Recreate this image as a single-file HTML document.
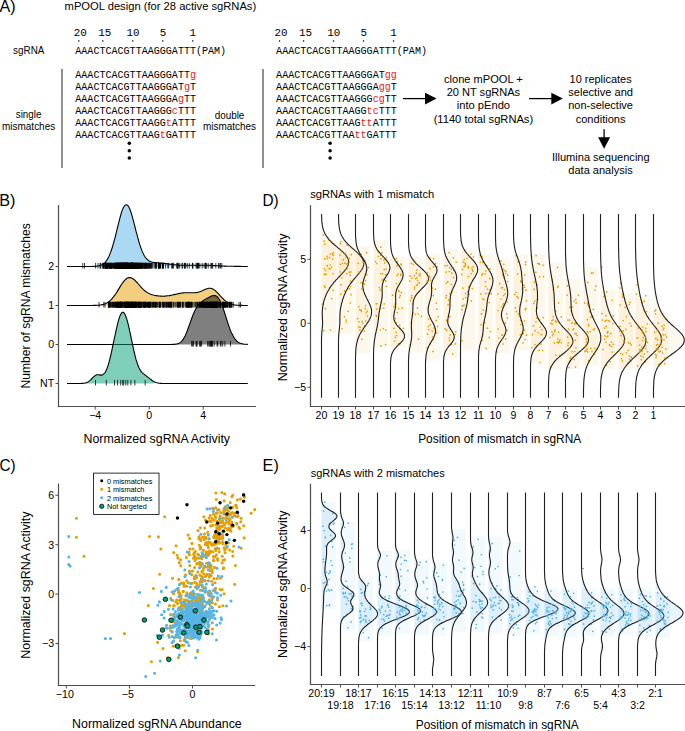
<!DOCTYPE html>
<html><head><meta charset="utf-8"><style>
html,body{margin:0;padding:0;background:#fff;overflow:hidden}
svg{display:block}
</style></head><body>
<svg width="685" height="731" viewBox="0 0 685 731"><text x="-0.5" y="12.0" font-size="15.9" font-family="Liberation Sans" fill="#000" textLength="16.2" lengthAdjust="spacingAndGlyphs">A)</text>
<text x="64.6" y="9.8" font-size="11.8" font-family="Liberation Sans" fill="#000" textLength="191.6" lengthAdjust="spacingAndGlyphs">mPOOL design (for 28 active sgRNAs)</text>
<g transform="translate(73.65,36.40) scale(0.95,1)"><text x="0" y="0" font-size="11.5" font-family="Liberation Mono" fill="#000" xml:space="preserve"><tspan fill="#000">20</tspan></text></g>
<rect x="78.10" y="40.3" width="1.3" height="1.3" fill="#000"/>
<g transform="translate(98.15,36.40) scale(0.95,1)"><text x="0" y="0" font-size="11.5" font-family="Liberation Mono" fill="#000" xml:space="preserve"><tspan fill="#000">15</tspan></text></g>
<rect x="102.10" y="40.3" width="1.3" height="1.3" fill="#000"/>
<g transform="translate(126.45,36.40) scale(0.95,1)"><text x="0" y="0" font-size="11.5" font-family="Liberation Mono" fill="#000" xml:space="preserve"><tspan fill="#000">10</tspan></text></g>
<rect x="132.10" y="40.3" width="1.3" height="1.3" fill="#000"/>
<g transform="translate(159.72,36.40) scale(0.95,1)"><text x="0" y="0" font-size="11.5" font-family="Liberation Mono" fill="#000" xml:space="preserve"><tspan fill="#000">5</tspan></text></g>
<rect x="162.10" y="40.3" width="1.3" height="1.3" fill="#000"/>
<g transform="translate(189.42,36.40) scale(0.95,1)"><text x="0" y="0" font-size="11.5" font-family="Liberation Mono" fill="#000" xml:space="preserve"><tspan fill="#000">1</tspan></text></g>
<rect x="192.10" y="40.3" width="1.3" height="1.3" fill="#000"/>
<g transform="translate(75.30,53.80) scale(0.875,1)"><text x="0" y="0" font-size="11.5" font-family="Liberation Mono" fill="#000" xml:space="preserve"><tspan fill="#000">AAACTCACGTTAAGGGATTT(PAM)</tspan></text></g>
<g transform="translate(75.30,78.00) scale(0.875,1)"><text x="0" y="0" font-size="11.5" font-family="Liberation Mono" fill="#000" xml:space="preserve"><tspan fill="#000">AAACTCACGTTAAGGGATT</tspan><tspan fill="#e8231c">g</tspan></text></g>
<g transform="translate(75.30,90.03) scale(0.875,1)"><text x="0" y="0" font-size="11.5" font-family="Liberation Mono" fill="#000" xml:space="preserve"><tspan fill="#000">AAACTCACGTTAAGGGAT</tspan><tspan fill="#e8231c">g</tspan><tspan fill="#000">T</tspan></text></g>
<g transform="translate(75.30,102.06) scale(0.875,1)"><text x="0" y="0" font-size="11.5" font-family="Liberation Mono" fill="#000" xml:space="preserve"><tspan fill="#000">AAACTCACGTTAAGGGA</tspan><tspan fill="#e8231c">g</tspan><tspan fill="#000">TT</tspan></text></g>
<g transform="translate(75.30,114.09) scale(0.875,1)"><text x="0" y="0" font-size="11.5" font-family="Liberation Mono" fill="#000" xml:space="preserve"><tspan fill="#000">AAACTCACGTTAAGGG</tspan><tspan fill="#e8231c">c</tspan><tspan fill="#000">TTT</tspan></text></g>
<g transform="translate(75.30,126.12) scale(0.875,1)"><text x="0" y="0" font-size="11.5" font-family="Liberation Mono" fill="#000" xml:space="preserve"><tspan fill="#000">AAACTCACGTTAAGG</tspan><tspan fill="#e8231c">t</tspan><tspan fill="#000">ATTT</tspan></text></g>
<g transform="translate(75.30,138.15) scale(0.875,1)"><text x="0" y="0" font-size="11.5" font-family="Liberation Mono" fill="#000" xml:space="preserve"><tspan fill="#000">AAACTCACGTTAAG</tspan><tspan fill="#e8231c">t</tspan><tspan fill="#000">GATTT</tspan></text></g>
<circle cx="129.30" cy="143.3" r="1.75" fill="#000"/>
<circle cx="129.30" cy="150.7" r="1.75" fill="#000"/>
<circle cx="129.30" cy="158.1" r="1.75" fill="#000"/>
<g transform="translate(274.44,36.40) scale(0.95,1)"><text x="0" y="0" font-size="11.5" font-family="Liberation Mono" fill="#000" xml:space="preserve"><tspan fill="#000">20</tspan></text></g>
<rect x="278.90" y="40.3" width="1.3" height="1.3" fill="#000"/>
<g transform="translate(298.94,36.40) scale(0.95,1)"><text x="0" y="0" font-size="11.5" font-family="Liberation Mono" fill="#000" xml:space="preserve"><tspan fill="#000">15</tspan></text></g>
<rect x="302.90" y="40.3" width="1.3" height="1.3" fill="#000"/>
<g transform="translate(327.25,36.40) scale(0.95,1)"><text x="0" y="0" font-size="11.5" font-family="Liberation Mono" fill="#000" xml:space="preserve"><tspan fill="#000">10</tspan></text></g>
<rect x="332.90" y="40.3" width="1.3" height="1.3" fill="#000"/>
<g transform="translate(360.52,36.40) scale(0.95,1)"><text x="0" y="0" font-size="11.5" font-family="Liberation Mono" fill="#000" xml:space="preserve"><tspan fill="#000">5</tspan></text></g>
<rect x="362.90" y="40.3" width="1.3" height="1.3" fill="#000"/>
<g transform="translate(390.22,36.40) scale(0.95,1)"><text x="0" y="0" font-size="11.5" font-family="Liberation Mono" fill="#000" xml:space="preserve"><tspan fill="#000">1</tspan></text></g>
<rect x="392.90" y="40.3" width="1.3" height="1.3" fill="#000"/>
<g transform="translate(276.10,53.80) scale(0.875,1)"><text x="0" y="0" font-size="11.5" font-family="Liberation Mono" fill="#000" xml:space="preserve"><tspan fill="#000">AAACTCACGTTAAGGGATTT(PAM)</tspan></text></g>
<g transform="translate(276.10,78.00) scale(0.875,1)"><text x="0" y="0" font-size="11.5" font-family="Liberation Mono" fill="#000" xml:space="preserve"><tspan fill="#000">AAACTCACGTTAAGGGAT</tspan><tspan fill="#e8231c">g</tspan><tspan fill="#e8231c">g</tspan></text></g>
<g transform="translate(276.10,90.03) scale(0.875,1)"><text x="0" y="0" font-size="11.5" font-family="Liberation Mono" fill="#000" xml:space="preserve"><tspan fill="#000">AAACTCACGTTAAGGGA</tspan><tspan fill="#e8231c">g</tspan><tspan fill="#e8231c">g</tspan><tspan fill="#000">T</tspan></text></g>
<g transform="translate(276.10,102.06) scale(0.875,1)"><text x="0" y="0" font-size="11.5" font-family="Liberation Mono" fill="#000" xml:space="preserve"><tspan fill="#000">AAACTCACGTTAAGGG</tspan><tspan fill="#e8231c">c</tspan><tspan fill="#e8231c">g</tspan><tspan fill="#000">TT</tspan></text></g>
<g transform="translate(276.10,114.09) scale(0.875,1)"><text x="0" y="0" font-size="11.5" font-family="Liberation Mono" fill="#000" xml:space="preserve"><tspan fill="#000">AAACTCACGTTAAGG</tspan><tspan fill="#e8231c">t</tspan><tspan fill="#e8231c">c</tspan><tspan fill="#000">TTT</tspan></text></g>
<g transform="translate(276.10,126.12) scale(0.875,1)"><text x="0" y="0" font-size="11.5" font-family="Liberation Mono" fill="#000" xml:space="preserve"><tspan fill="#000">AAACTCACGTTAAG</tspan><tspan fill="#e8231c">t</tspan><tspan fill="#e8231c">t</tspan><tspan fill="#000">ATTT</tspan></text></g>
<g transform="translate(276.10,138.15) scale(0.875,1)"><text x="0" y="0" font-size="11.5" font-family="Liberation Mono" fill="#000" xml:space="preserve"><tspan fill="#000">AAACTCACGTTAA</tspan><tspan fill="#e8231c">t</tspan><tspan fill="#e8231c">t</tspan><tspan fill="#000">GATTT</tspan></text></g>
<circle cx="330.10" cy="143.3" r="1.75" fill="#000"/>
<circle cx="330.10" cy="150.7" r="1.75" fill="#000"/>
<circle cx="330.10" cy="158.1" r="1.75" fill="#000"/>
<text x="13.1" y="53.5" font-size="10.5" font-family="Liberation Sans" fill="#000" textLength="31.3" lengthAdjust="spacingAndGlyphs">sgRNA</text>
<line x1="62.00" y1="69.00" x2="62.00" y2="168.00" stroke="#555" stroke-width="1.3"/>
<line x1="263.00" y1="69.00" x2="263.00" y2="168.00" stroke="#555" stroke-width="1.3"/>
<text x="28.6" y="118.4" font-size="10" font-family="Liberation Sans" fill="#000" text-anchor="middle" textLength="25.6" lengthAdjust="spacingAndGlyphs">single</text>
<text x="28.6" y="130.1" font-size="10" font-family="Liberation Sans" fill="#000" text-anchor="middle" textLength="53.2" lengthAdjust="spacingAndGlyphs">mismatches</text>
<text x="229.5" y="118.5" font-size="10" font-family="Liberation Sans" fill="#000" text-anchor="middle" textLength="29.7" lengthAdjust="spacingAndGlyphs">double</text>
<text x="229.5" y="129.8" font-size="10" font-family="Liberation Sans" fill="#000" text-anchor="middle" textLength="53.0" lengthAdjust="spacingAndGlyphs">mismatches</text>
<line x1="403.00" y1="98.60" x2="426.50" y2="98.60" stroke="#000" stroke-width="1.3"/>
<path d="M436.5,98.6 L425.0,92.8 L425.0,104.39999999999999 Z" fill="#000" stroke="none" stroke-width="1"/>
<line x1="529.00" y1="98.60" x2="552.80" y2="98.60" stroke="#000" stroke-width="1.3"/>
<path d="M562.8,98.6 L551.3,92.8 L551.3,104.39999999999999 Z" fill="#000" stroke="none" stroke-width="1"/>
<line x1="604.10" y1="129.30" x2="604.10" y2="138.70" stroke="#000" stroke-width="1.3"/>
<path d="M604.1,148.7 L598.1,137.2 L610.1,137.2 Z" fill="#000" stroke="none" stroke-width="1"/>
<text x="483.4" y="82.7" font-size="11.8" font-family="Liberation Sans" fill="#000" text-anchor="middle" textLength="78.7" lengthAdjust="spacingAndGlyphs">clone mPOOL +</text>
<text x="483.4" y="96.0" font-size="11.8" font-family="Liberation Sans" fill="#000" text-anchor="middle" textLength="73.5" lengthAdjust="spacingAndGlyphs">20 NT sgRNAs</text>
<text x="483.4" y="109.4" font-size="11.8" font-family="Liberation Sans" fill="#000" text-anchor="middle" textLength="53.4" lengthAdjust="spacingAndGlyphs">into pEndo</text>
<text x="483.4" y="122.8" font-size="11.8" font-family="Liberation Sans" fill="#000" text-anchor="middle" textLength="99.5" lengthAdjust="spacingAndGlyphs">(1140 total sgRNAs)</text>
<text x="600.6" y="82.7" font-size="11.8" font-family="Liberation Sans" fill="#000" text-anchor="middle" textLength="62.1" lengthAdjust="spacingAndGlyphs">10 replicates</text>
<text x="600.6" y="96.0" font-size="11.8" font-family="Liberation Sans" fill="#000" text-anchor="middle" textLength="64.8" lengthAdjust="spacingAndGlyphs">selective and</text>
<text x="600.6" y="109.4" font-size="11.8" font-family="Liberation Sans" fill="#000" text-anchor="middle" textLength="64.8" lengthAdjust="spacingAndGlyphs">non-selective</text>
<text x="600.6" y="122.8" font-size="11.8" font-family="Liberation Sans" fill="#000" text-anchor="middle" textLength="49.8" lengthAdjust="spacingAndGlyphs">conditions</text>
<text x="600.8" y="161.0" font-size="11.8" font-family="Liberation Sans" fill="#000" text-anchor="middle" textLength="97.7" lengthAdjust="spacingAndGlyphs">Illumina sequencing</text>
<text x="600.5" y="174.2" font-size="11.8" font-family="Liberation Sans" fill="#000" text-anchor="middle" textLength="64.4" lengthAdjust="spacingAndGlyphs">data analysis</text>
<text x="-0.8" y="206.3" font-size="15.9" font-family="Liberation Sans" fill="#000" textLength="16.2" lengthAdjust="spacingAndGlyphs">B)</text>
<line x1="58.50" y1="205.00" x2="58.50" y2="407.20" stroke="#4d4d4d" stroke-width="1.2"/>
<line x1="58.00" y1="406.50" x2="256.00" y2="406.50" stroke="#4d4d4d" stroke-width="1.2"/>
<line x1="55.50" y1="266.50" x2="58.50" y2="266.50" stroke="#4d4d4d" stroke-width="1"/>
<text x="54.2" y="270.3" font-size="10.6" font-family="Liberation Sans" fill="#000" text-anchor="end">2</text>
<line x1="55.50" y1="305.50" x2="58.50" y2="305.50" stroke="#4d4d4d" stroke-width="1"/>
<text x="54.2" y="309.3" font-size="10.6" font-family="Liberation Sans" fill="#000" text-anchor="end">1</text>
<line x1="55.50" y1="344.50" x2="58.50" y2="344.50" stroke="#4d4d4d" stroke-width="1"/>
<text x="54.2" y="348.3" font-size="10.6" font-family="Liberation Sans" fill="#000" text-anchor="end">0</text>
<line x1="55.50" y1="383.50" x2="58.50" y2="383.50" stroke="#4d4d4d" stroke-width="1"/>
<text x="54.2" y="387.3" font-size="10.6" font-family="Liberation Sans" fill="#000" text-anchor="end">NT</text>
<line x1="95.20" y1="406.50" x2="95.20" y2="409.50" stroke="#4d4d4d" stroke-width="1"/>
<text x="95.2" y="418.6" font-size="10.6" font-family="Liberation Sans" fill="#000" text-anchor="middle">−4</text>
<line x1="149.20" y1="406.50" x2="149.20" y2="409.50" stroke="#4d4d4d" stroke-width="1"/>
<text x="149.2" y="418.6" font-size="10.6" font-family="Liberation Sans" fill="#000" text-anchor="middle">0</text>
<line x1="203.20" y1="406.50" x2="203.20" y2="409.50" stroke="#4d4d4d" stroke-width="1"/>
<text x="203.2" y="418.6" font-size="10.6" font-family="Liberation Sans" fill="#000" text-anchor="middle">4</text>
<text x="156.8" y="442.9" font-size="12.2" font-family="Liberation Sans" fill="#000" text-anchor="middle" textLength="146.5" lengthAdjust="spacingAndGlyphs">Normalized sgRNA Activity</text>
<text x="29.8" y="305.9" font-size="12.2" font-family="Liberation Sans" fill="#000" text-anchor="middle" textLength="165.3" lengthAdjust="spacingAndGlyphs" transform="rotate(-90 29.8 305.9)">Number of sgRNA mismatches</text>
<path d="M95.2,266.5L95.2,266.3L96.1,266.2L97.0,266.1L97.9,266.0L98.8,265.8L99.7,265.6L100.6,265.3L101.5,265.0L102.4,264.5L103.3,263.9L104.3,263.2L105.2,262.3L106.1,261.2L107.0,259.9L107.9,258.4L108.8,256.7L109.7,254.6L110.6,252.4L111.5,249.8L112.4,247.0L113.3,243.9L114.2,240.6L115.2,237.1L116.1,233.4L117.0,229.7L117.9,226.0L118.8,222.3L119.7,218.8L120.6,215.5L121.5,212.5L122.4,209.9L123.3,207.8L124.2,206.2L125.1,205.1L126.1,204.7L127.0,204.9L127.9,205.6L128.8,207.0L129.7,208.8L130.6,211.2L131.5,214.0L132.4,217.1L133.3,220.4L134.2,223.9L135.1,227.5L136.0,231.1L137.0,234.7L137.9,238.1L138.8,241.3L139.7,244.4L140.6,247.1L141.5,249.6L142.4,251.9L143.3,253.8L144.2,255.5L145.1,257.0L146.0,258.2L147.0,259.2L147.9,260.0L148.8,260.7L149.7,261.2L150.6,261.6L151.5,261.9L152.4,262.2L153.3,262.4L154.2,262.5L155.1,262.6L156.0,262.7L156.9,262.8L157.9,262.8L158.8,262.9L159.7,263.0L160.6,263.1L161.5,263.1L162.4,263.2L163.3,263.3L164.2,263.4L165.1,263.5L166.0,263.6L166.9,263.8L167.8,263.9L168.8,264.0L169.7,264.1L170.6,264.2L171.5,264.4L172.4,264.5L173.3,264.6L174.2,264.7L175.1,264.8L176.0,264.9L176.9,265.0L177.8,265.0L178.8,265.1L179.7,265.2L180.6,265.2L181.5,265.2L182.4,265.3L183.3,265.3L184.2,265.3L185.1,265.3L186.0,265.3L186.9,265.4L187.8,265.3L188.7,265.3L189.7,265.3L190.6,265.3L191.5,265.3L192.4,265.3L193.3,265.3L194.2,265.2L195.1,265.2L196.0,265.2L196.9,265.2L197.8,265.2L198.7,265.2L199.6,265.2L200.6,265.2L201.5,265.2L202.4,265.2L203.3,265.2L204.2,265.2L205.1,265.2L206.0,265.3L206.9,265.3L207.8,265.3L208.7,265.3L209.6,265.4L210.5,265.4L211.5,265.4L212.4,265.5L213.3,265.5L214.2,265.6L215.1,265.6L216.0,265.7L216.9,265.7L217.8,265.8L218.7,265.8L219.6,265.9L220.5,265.9L221.5,265.9L222.4,266.0L223.3,266.0L224.2,266.1L224.2,266.5Z" fill="#abd9f4" stroke="none" stroke-width="1"/>
<path d="M144.4 262.9v5.6M103.0 262.9v5.6M129.8 262.9v5.6M120.9 262.9v5.6M121.9 262.9v5.6M124.1 262.9v5.6M107.8 262.9v5.6M123.9 262.9v5.6M118.2 262.9v5.6M155.9 262.9v5.6M128.0 262.9v5.6M122.8 262.9v5.6M123.5 262.9v5.6M120.0 262.9v5.6M116.5 262.9v5.6M122.5 262.9v5.6M130.3 262.9v5.6M123.9 262.9v5.6M134.6 262.9v5.6M124.2 262.9v5.6M126.2 262.9v5.6M139.9 262.9v5.6M130.9 262.9v5.6M121.5 262.9v5.6M124.4 262.9v5.6M130.9 262.9v5.6M143.4 262.9v5.6M123.6 262.9v5.6M123.8 262.9v5.6M135.0 262.9v5.6M118.0 262.9v5.6M123.4 262.9v5.6M133.9 262.9v5.6M131.2 262.9v5.6M126.8 262.9v5.6M132.0 262.9v5.6M100.5 262.9v5.6M135.2 262.9v5.6M117.4 262.9v5.6M111.0 262.9v5.6M128.5 262.9v5.6M132.3 262.9v5.6M122.0 262.9v5.6M116.3 262.9v5.6M126.2 262.9v5.6M125.5 262.9v5.6M138.7 262.9v5.6M132.7 262.9v5.6M127.7 262.9v5.6M136.0 262.9v5.6M124.2 262.9v5.6M117.7 262.9v5.6M131.3 262.9v5.6M131.2 262.9v5.6M124.1 262.9v5.6M119.0 262.9v5.6M128.1 262.9v5.6M103.6 262.9v5.6M132.2 262.9v5.6M130.4 262.9v5.6M111.3 262.9v5.6M126.6 262.9v5.6M117.3 262.9v5.6M132.8 262.9v5.6M107.7 262.9v5.6M117.8 262.9v5.6M132.4 262.9v5.6M136.4 262.9v5.6M106.6 262.9v5.6M121.5 262.9v5.6M129.0 262.9v5.6M120.5 262.9v5.6M140.3 262.9v5.6M115.3 262.9v5.6M129.2 262.9v5.6M116.6 262.9v5.6M138.7 262.9v5.6M125.8 262.9v5.6M122.6 262.9v5.6M110.5 262.9v5.6M141.1 262.9v5.6M132.8 262.9v5.6M132.8 262.9v5.6M136.2 262.9v5.6M129.1 262.9v5.6M120.2 262.9v5.6M118.8 262.9v5.6M118.8 262.9v5.6M138.3 262.9v5.6M112.9 262.9v5.6M120.6 262.9v5.6M123.1 262.9v5.6M128.0 262.9v5.6M131.2 262.9v5.6M114.8 262.9v5.6M110.4 262.9v5.6M126.0 262.9v5.6M136.9 262.9v5.6M132.8 262.9v5.6M127.9 262.9v5.6M123.1 262.9v5.6M128.6 262.9v5.6M123.8 262.9v5.6M133.4 262.9v5.6M118.8 262.9v5.6M127.2 262.9v5.6M125.0 262.9v5.6M130.9 262.9v5.6M128.0 262.9v5.6M149.0 262.9v5.6M139.5 262.9v5.6M139.5 262.9v5.6M107.6 262.9v5.6M122.9 262.9v5.6M120.5 262.9v5.6M130.8 262.9v5.6M105.5 262.9v5.6M136.6 262.9v5.6M135.6 262.9v5.6M114.3 262.9v5.6M117.2 262.9v5.6M118.8 262.9v5.6M126.4 262.9v5.6M131.8 262.9v5.6M144.4 262.9v5.6M124.2 262.9v5.6M132.9 262.9v5.6M127.4 262.9v5.6M141.8 262.9v5.6M132.7 262.9v5.6M138.3 262.9v5.6M116.3 262.9v5.6M124.3 262.9v5.6M118.7 262.9v5.6M139.5 262.9v5.6M131.9 262.9v5.6M123.3 262.9v5.6M121.9 262.9v5.6M130.4 262.9v5.6M119.7 262.9v5.6M117.6 262.9v5.6M130.3 262.9v5.6M148.2 262.9v5.6M123.8 262.9v5.6M121.0 262.9v5.6M115.5 262.9v5.6M114.0 262.9v5.6M130.7 262.9v5.6M133.7 262.9v5.6M126.1 262.9v5.6M129.0 262.9v5.6M127.0 262.9v5.6M127.2 262.9v5.6M112.3 262.9v5.6M121.9 262.9v5.6M127.0 262.9v5.6M119.0 262.9v5.6M121.7 262.9v5.6M118.6 262.9v5.6M123.0 262.9v5.6M133.7 262.9v5.6M122.3 262.9v5.6M124.6 262.9v5.6M133.3 262.9v5.6M131.8 262.9v5.6M141.3 262.9v5.6M107.2 262.9v5.6M133.7 262.9v5.6M121.7 262.9v5.6M127.2 262.9v5.6M133.5 262.9v5.6M135.7 262.9v5.6M135.4 262.9v5.6M127.4 262.9v5.6M140.5 262.9v5.6M123.5 262.9v5.6M124.7 262.9v5.6M133.2 262.9v5.6M121.0 262.9v5.6M145.4 262.9v5.6M135.2 262.9v5.6M145.6 262.9v5.6M125.8 262.9v5.6M122.6 262.9v5.6M127.5 262.9v5.6M132.6 262.9v5.6M120.7 262.9v5.6M129.4 262.9v5.6M125.8 262.9v5.6M140.5 262.9v5.6M120.0 262.9v5.6M135.4 262.9v5.6M120.2 262.9v5.6M117.4 262.9v5.6M119.6 262.9v5.6M115.3 262.9v5.6M127.3 262.9v5.6M135.3 262.9v5.6M127.5 262.9v5.6M131.6 262.9v5.6M140.7 262.9v5.6M128.4 262.9v5.6M127.8 262.9v5.6M123.5 262.9v5.6M111.5 262.9v5.6M132.8 262.9v5.6M110.2 262.9v5.6M131.9 262.9v5.6M125.9 262.9v5.6M136.1 262.9v5.6M125.4 262.9v5.6M118.6 262.9v5.6M129.2 262.9v5.6M121.0 262.9v5.6M124.4 262.9v5.6M126.4 262.9v5.6M124.8 262.9v5.6M124.3 262.9v5.6M118.5 262.9v5.6M124.3 262.9v5.6M106.8 262.9v5.6M124.6 262.9v5.6M115.2 262.9v5.6M136.1 262.9v5.6M137.4 262.9v5.6M108.4 262.9v5.6M127.3 262.9v5.6M124.9 262.9v5.6M116.6 262.9v5.6M130.8 262.9v5.6M121.8 262.9v5.6M110.1 262.9v5.6M123.6 262.9v5.6M124.7 262.9v5.6M127.0 262.9v5.6M114.9 262.9v5.6M131.5 262.9v5.6M132.6 262.9v5.6M115.7 262.9v5.6M120.1 262.9v5.6M125.3 262.9v5.6M120.9 262.9v5.6M141.7 262.9v5.6M127.9 262.9v5.6M116.9 262.9v5.6M118.9 262.9v5.6M125.5 262.9v5.6M146.7 262.9v5.6M124.4 262.9v5.6M127.1 262.9v5.6M130.6 262.9v5.6M125.6 262.9v5.6M146.5 262.9v5.6M121.2 262.9v5.6M132.7 262.9v5.6M127.4 262.9v5.6M131.6 262.9v5.6M115.4 262.9v5.6M141.9 262.9v5.6M124.9 262.9v5.6M126.3 262.9v5.6M117.6 262.9v5.6M119.4 262.9v5.6M131.1 262.9v5.6M134.9 262.9v5.6M132.8 262.9v5.6M136.9 262.9v5.6M132.4 262.9v5.6M126.3 262.9v5.6M133.5 262.9v5.6M131.3 262.9v5.6M125.1 262.9v5.6M132.5 262.9v5.6M137.6 262.9v5.6M128.1 262.9v5.6M122.8 262.9v5.6M132.5 262.9v5.6M143.1 262.9v5.6M124.1 262.9v5.6M125.2 262.9v5.6M124.8 262.9v5.6M137.0 262.9v5.6M109.5 262.9v5.6M129.3 262.9v5.6M136.7 262.9v5.6M118.7 262.9v5.6M139.4 262.9v5.6M130.8 262.9v5.6M121.1 262.9v5.6M127.8 262.9v5.6M112.2 262.9v5.6M120.9 262.9v5.6M142.4 262.9v5.6M118.0 262.9v5.6M142.6 262.9v5.6M125.3 262.9v5.6M135.0 262.9v5.6M126.4 262.9v5.6M105.8 262.9v5.6M120.8 262.9v5.6M126.0 262.9v5.6M121.8 262.9v5.6M129.7 262.9v5.6M127.6 262.9v5.6M158.5 262.9v5.6M109.2 262.9v5.6M158.6 262.9v5.6M104.7 262.9v5.6M158.3 262.9v5.6M122.0 262.9v5.6M145.6 262.9v5.6M102.2 262.9v5.6M128.8 262.9v5.6M142.7 262.9v5.6M139.7 262.9v5.6M150.4 262.9v5.6M111.2 262.9v5.6M126.1 262.9v5.6M138.8 262.9v5.6M103.7 262.9v5.6M152.1 262.9v5.6M127.0 262.9v5.6M116.8 262.9v5.6M115.3 262.9v5.6M141.1 262.9v5.6M104.9 262.9v5.6M116.7 262.9v5.6M120.2 262.9v5.6M117.5 262.9v5.6M145.8 262.9v5.6M137.5 262.9v5.6M156.2 262.9v5.6M144.1 262.9v5.6M119.7 262.9v5.6M121.5 262.9v5.6M109.4 262.9v5.6M116.6 262.9v5.6M138.3 262.9v5.6M145.9 262.9v5.6M119.8 262.9v5.6M122.7 262.9v5.6M150.2 262.9v5.6M159.5 262.9v5.6M107.1 262.9v5.6M106.3 262.9v5.6M147.6 262.9v5.6M131.7 262.9v5.6M127.5 262.9v5.6M140.0 262.9v5.6M147.6 262.9v5.6M106.2 262.9v5.6M159.7 262.9v5.6M159.5 262.9v5.6M127.0 262.9v5.6M130.2 262.9v5.6M118.3 262.9v5.6M137.2 262.9v5.6M114.3 262.9v5.6M134.1 262.9v5.6M156.3 262.9v5.6M132.4 262.9v5.6M151.6 262.9v5.6M112.8 262.9v5.6M155.0 262.9v5.6M109.4 262.9v5.6M114.8 262.9v5.6M145.2 262.9v5.6M120.1 262.9v5.6M109.1 262.9v5.6M107.2 262.9v5.6M149.6 262.9v5.6M103.2 262.9v5.6M105.4 262.9v5.6M158.7 262.9v5.6M148.9 262.9v5.6M124.2 262.9v5.6M113.5 262.9v5.6M154.0 262.9v5.6M149.3 262.9v5.6M142.1 262.9v5.6M133.8 262.9v5.6M133.5 262.9v5.6M160.7 262.9v5.6M133.3 262.9v5.6M107.0 262.9v5.6M106.5 262.9v5.6M137.7 262.9v5.6M146.0 262.9v5.6M139.7 262.9v5.6M146.6 262.9v5.6M119.7 262.9v5.6M124.3 262.9v5.6M117.9 262.9v5.6M124.4 262.9v5.6M118.0 262.9v5.6M152.0 262.9v5.6M110.9 262.9v5.6M114.5 262.9v5.6M144.8 262.9v5.6M125.9 262.9v5.6M122.5 262.9v5.6M160.5 262.9v5.6M155.6 262.9v5.6M115.1 262.9v5.6M111.3 262.9v5.6M131.5 262.9v5.6M136.4 262.9v5.6M122.8 262.9v5.6M137.5 262.9v5.6M142.7 262.9v5.6M150.9 262.9v5.6M116.5 262.9v5.6M140.7 262.9v5.6M105.5 262.9v5.6M105.9 262.9v5.6M105.3 262.9v5.6M109.0 262.9v5.6M148.9 262.9v5.6M124.3 262.9v5.6M131.6 262.9v5.6M189.3 262.9v5.6M173.5 262.9v5.6M163.0 262.9v5.6M171.8 262.9v5.6M215.8 262.9v5.6M182.0 262.9v5.6M187.3 262.9v5.6M177.2 262.9v5.6M208.2 262.9v5.6M205.7 262.9v5.6M184.9 262.9v5.6M192.9 262.9v5.6M185.7 262.9v5.6M197.3 262.9v5.6M198.6 262.9v5.6M197.5 262.9v5.6M218.6 262.9v5.6M221.8 262.9v5.6M163.3 262.9v5.6M184.7 262.9v5.6M162.6 262.9v5.6M184.4 262.9v5.6M212.2 262.9v5.6M204.2 262.9v5.6M196.9 262.9v5.6M165.6 262.9v5.6M212.7 262.9v5.6M199.8 262.9v5.6M179.7 262.9v5.6M211.0 262.9v5.6M162.5 262.9v5.6M172.2 262.9v5.6M211.3 262.9v5.6M163.0 262.9v5.6M168.6 262.9v5.6M192.6 262.9v5.6M206.2 262.9v5.6M198.3 262.9v5.6M162.4 262.9v5.6M177.9 262.9v5.6M205.9 262.9v5.6M182.6 262.9v5.6M172.6 262.9v5.6M160.1 262.9v5.6M177.1 262.9v5.6M220.5 262.9v5.6M163.2 262.9v5.6M196.0 262.9v5.6M219.1 262.9v5.6M205.5 262.9v5.6M178.3 262.9v5.6M202.2 262.9v5.6M167.8 262.9v5.6M192.4 262.9v5.6M177.1 262.9v5.6M82.8 262.9v5.6M84.5 262.9v5.6M95.6 262.9v5.6M98.0 262.9v5.6M100.0 262.9v5.6" stroke="#000" stroke-width="0.75"/>
<path d="M67.0,266.5L67.9,266.5L68.8,266.5L69.7,266.5L70.6,266.5L71.5,266.5L72.5,266.5L73.4,266.5L74.3,266.5L75.2,266.5L76.1,266.5L77.0,266.5L77.9,266.5L78.8,266.5L79.7,266.5L80.6,266.5L81.5,266.5L82.4,266.5L83.4,266.5L84.3,266.5L85.2,266.5L86.1,266.5L87.0,266.5L87.9,266.5L88.8,266.5L89.7,266.5L90.6,266.5L91.5,266.5L92.4,266.4L93.3,266.4L94.3,266.4L95.2,266.3L96.1,266.2L97.0,266.1L97.9,266.0L98.8,265.8L99.7,265.6L100.6,265.3L101.5,265.0L102.4,264.5L103.3,263.9L104.3,263.2L105.2,262.3L106.1,261.2L107.0,259.9L107.9,258.4L108.8,256.7L109.7,254.6L110.6,252.4L111.5,249.8L112.4,247.0L113.3,243.9L114.2,240.6L115.2,237.1L116.1,233.4L117.0,229.7L117.9,226.0L118.8,222.3L119.7,218.8L120.6,215.5L121.5,212.5L122.4,209.9L123.3,207.8L124.2,206.2L125.1,205.1L126.1,204.7L127.0,204.9L127.9,205.6L128.8,207.0L129.7,208.8L130.6,211.2L131.5,214.0L132.4,217.1L133.3,220.4L134.2,223.9L135.1,227.5L136.0,231.1L137.0,234.7L137.9,238.1L138.8,241.3L139.7,244.4L140.6,247.1L141.5,249.6L142.4,251.9L143.3,253.8L144.2,255.5L145.1,257.0L146.0,258.2L147.0,259.2L147.9,260.0L148.8,260.7L149.7,261.2L150.6,261.6L151.5,261.9L152.4,262.2L153.3,262.4L154.2,262.5L155.1,262.6L156.0,262.7L156.9,262.8L157.9,262.8L158.8,262.9L159.7,263.0L160.6,263.1L161.5,263.1L162.4,263.2L163.3,263.3L164.2,263.4L165.1,263.5L166.0,263.6L166.9,263.8L167.8,263.9L168.8,264.0L169.7,264.1L170.6,264.2L171.5,264.4L172.4,264.5L173.3,264.6L174.2,264.7L175.1,264.8L176.0,264.9L176.9,265.0L177.8,265.0L178.8,265.1L179.7,265.2L180.6,265.2L181.5,265.2L182.4,265.3L183.3,265.3L184.2,265.3L185.1,265.3L186.0,265.3L186.9,265.4L187.8,265.3L188.7,265.3L189.7,265.3L190.6,265.3L191.5,265.3L192.4,265.3L193.3,265.3L194.2,265.2L195.1,265.2L196.0,265.2L196.9,265.2L197.8,265.2L198.7,265.2L199.6,265.2L200.6,265.2L201.5,265.2L202.4,265.2L203.3,265.2L204.2,265.2L205.1,265.2L206.0,265.3L206.9,265.3L207.8,265.3L208.7,265.3L209.6,265.4L210.5,265.4L211.5,265.4L212.4,265.5L213.3,265.5L214.2,265.6L215.1,265.6L216.0,265.7L216.9,265.7L217.8,265.8L218.7,265.8L219.6,265.9L220.5,265.9L221.5,265.9L222.4,266.0L223.3,266.0L224.2,266.1L225.1,266.1L226.0,266.1L226.9,266.2L227.8,266.2L228.7,266.2L229.6,266.3L230.5,266.3L231.4,266.3L232.4,266.3L233.3,266.3L234.2,266.4L235.1,266.4L236.0,266.4L236.9,266.4L237.8,266.4L238.7,266.4L239.6,266.4L240.5,266.4L241.4,266.5L242.3,266.5L243.3,266.5L244.2,266.5L245.1,266.5L246.0,266.5L246.9,266.5L247.8,266.5" fill="none" stroke="#000" stroke-width="1.1"/>
<path d="M102.4,305.5L102.4,304.6L103.3,304.4L104.3,304.1L105.2,303.8L106.1,303.4L107.0,302.9L107.9,302.3L108.8,301.7L109.7,301.0L110.6,300.2L111.5,299.3L112.4,298.2L113.3,297.1L114.2,295.9L115.2,294.6L116.1,293.3L117.0,291.9L117.9,290.4L118.8,288.9L119.7,287.4L120.6,285.9L121.5,284.5L122.4,283.2L123.3,281.9L124.2,280.8L125.1,279.8L126.1,279.0L127.0,278.3L127.9,277.9L128.8,277.6L129.7,277.5L130.6,277.6L131.5,277.9L132.4,278.4L133.3,279.0L134.2,279.7L135.1,280.5L136.0,281.5L137.0,282.5L137.9,283.5L138.8,284.5L139.7,285.6L140.6,286.6L141.5,287.6L142.4,288.6L143.3,289.4L144.2,290.3L145.1,291.0L146.0,291.7L147.0,292.3L147.9,292.9L148.8,293.4L149.7,293.8L150.6,294.2L151.5,294.5L152.4,294.8L153.3,295.0L154.2,295.3L155.1,295.5L156.0,295.6L156.9,295.8L157.9,295.9L158.8,296.0L159.7,296.0L160.6,296.1L161.5,296.1L162.4,296.2L163.3,296.2L164.2,296.1L165.1,296.1L166.0,296.0L166.9,295.9L167.8,295.8L168.8,295.7L169.7,295.6L170.6,295.4L171.5,295.2L172.4,295.0L173.3,294.8L174.2,294.6L175.1,294.4L176.0,294.2L176.9,294.0L177.8,293.8L178.8,293.6L179.7,293.4L180.6,293.3L181.5,293.1L182.4,293.0L183.3,292.9L184.2,292.8L185.1,292.8L186.0,292.7L186.9,292.7L187.8,292.7L188.7,292.7L189.7,292.7L190.6,292.8L191.5,292.8L192.4,292.8L193.3,292.8L194.2,292.8L195.1,292.7L196.0,292.6L196.9,292.5L197.8,292.3L198.7,292.1L199.6,291.8L200.6,291.4L201.5,291.1L202.4,290.7L203.3,290.2L204.2,289.8L205.1,289.4L206.0,289.0L206.9,288.7L207.8,288.5L208.7,288.3L209.6,288.3L210.5,288.3L211.5,288.5L212.4,288.8L213.3,289.3L214.2,289.9L215.1,290.5L216.0,291.3L216.9,292.2L217.8,293.1L218.7,294.1L219.6,295.1L220.5,296.1L221.5,297.1L222.4,298.1L223.3,299.0L224.2,299.9L225.1,300.7L226.0,301.4L226.9,302.0L227.8,302.6L228.7,303.1L229.6,303.5L230.5,303.9L231.4,304.2L231.4,305.5Z" fill="#f2cf7f" stroke="none" stroke-width="1"/>
<path d="M129.1 301.9v5.6M108.5 301.9v5.6M130.9 301.9v5.6M128.9 301.9v5.6M119.3 301.9v5.6M136.1 301.9v5.6M114.9 301.9v5.6M127.1 301.9v5.6M130.2 301.9v5.6M117.8 301.9v5.6M136.7 301.9v5.6M138.5 301.9v5.6M116.5 301.9v5.6M116.3 301.9v5.6M134.4 301.9v5.6M128.7 301.9v5.6M118.1 301.9v5.6M126.3 301.9v5.6M128.0 301.9v5.6M127.7 301.9v5.6M136.4 301.9v5.6M132.5 301.9v5.6M144.9 301.9v5.6M141.4 301.9v5.6M135.1 301.9v5.6M138.7 301.9v5.6M140.9 301.9v5.6M135.4 301.9v5.6M118.0 301.9v5.6M136.7 301.9v5.6M129.7 301.9v5.6M143.6 301.9v5.6M129.8 301.9v5.6M133.7 301.9v5.6M132.0 301.9v5.6M144.1 301.9v5.6M130.6 301.9v5.6M126.6 301.9v5.6M131.8 301.9v5.6M125.0 301.9v5.6M130.5 301.9v5.6M128.9 301.9v5.6M131.4 301.9v5.6M146.3 301.9v5.6M125.3 301.9v5.6M129.3 301.9v5.6M127.2 301.9v5.6M135.1 301.9v5.6M118.4 301.9v5.6M122.8 301.9v5.6M128.6 301.9v5.6M133.9 301.9v5.6M128.6 301.9v5.6M124.5 301.9v5.6M121.2 301.9v5.6M133.6 301.9v5.6M142.0 301.9v5.6M131.9 301.9v5.6M130.7 301.9v5.6M133.0 301.9v5.6M120.5 301.9v5.6M126.2 301.9v5.6M126.6 301.9v5.6M131.7 301.9v5.6M128.7 301.9v5.6M118.1 301.9v5.6M139.1 301.9v5.6M144.2 301.9v5.6M126.6 301.9v5.6M132.6 301.9v5.6M131.4 301.9v5.6M136.1 301.9v5.6M115.7 301.9v5.6M143.5 301.9v5.6M124.8 301.9v5.6M140.4 301.9v5.6M129.7 301.9v5.6M125.5 301.9v5.6M127.7 301.9v5.6M137.1 301.9v5.6M121.2 301.9v5.6M125.6 301.9v5.6M124.7 301.9v5.6M113.6 301.9v5.6M140.7 301.9v5.6M134.2 301.9v5.6M128.8 301.9v5.6M139.5 301.9v5.6M120.4 301.9v5.6M128.3 301.9v5.6M144.5 301.9v5.6M137.8 301.9v5.6M109.0 301.9v5.6M99.0 301.9v5.6M119.7 301.9v5.6M138.6 301.9v5.6M124.7 301.9v5.6M127.0 301.9v5.6M134.5 301.9v5.6M121.0 301.9v5.6M130.9 301.9v5.6M136.1 301.9v5.6M133.2 301.9v5.6M132.6 301.9v5.6M123.6 301.9v5.6M133.6 301.9v5.6M125.2 301.9v5.6M140.7 301.9v5.6M152.1 301.9v5.6M122.3 301.9v5.6M109.4 301.9v5.6M125.2 301.9v5.6M132.4 301.9v5.6M138.5 301.9v5.6M138.7 301.9v5.6M121.9 301.9v5.6M121.9 301.9v5.6M140.4 301.9v5.6M119.2 301.9v5.6M138.8 301.9v5.6M127.0 301.9v5.6M135.9 301.9v5.6M135.4 301.9v5.6M136.0 301.9v5.6M136.4 301.9v5.6M120.1 301.9v5.6M131.7 301.9v5.6M129.1 301.9v5.6M131.8 301.9v5.6M140.1 301.9v5.6M126.6 301.9v5.6M122.6 301.9v5.6M122.4 301.9v5.6M126.2 301.9v5.6M135.8 301.9v5.6M121.7 301.9v5.6M139.4 301.9v5.6M131.6 301.9v5.6M127.0 301.9v5.6M117.0 301.9v5.6M131.2 301.9v5.6M135.2 301.9v5.6M113.1 301.9v5.6M139.7 301.9v5.6M143.8 301.9v5.6M132.0 301.9v5.6M133.4 301.9v5.6M150.7 301.9v5.6M140.1 301.9v5.6M120.9 301.9v5.6M216.6 301.9v5.6M124.8 301.9v5.6M110.2 301.9v5.6M154.3 301.9v5.6M190.9 301.9v5.6M225.3 301.9v5.6M171.1 301.9v5.6M124.9 301.9v5.6M182.1 301.9v5.6M110.1 301.9v5.6M209.4 301.9v5.6M148.0 301.9v5.6M120.6 301.9v5.6M126.5 301.9v5.6M210.8 301.9v5.6M220.4 301.9v5.6M130.9 301.9v5.6M231.8 301.9v5.6M214.7 301.9v5.6M148.8 301.9v5.6M114.3 301.9v5.6M126.8 301.9v5.6M162.1 301.9v5.6M133.5 301.9v5.6M130.6 301.9v5.6M141.8 301.9v5.6M216.8 301.9v5.6M112.5 301.9v5.6M222.4 301.9v5.6M163.7 301.9v5.6M199.5 301.9v5.6M171.5 301.9v5.6M225.2 301.9v5.6M130.5 301.9v5.6M139.7 301.9v5.6M171.0 301.9v5.6M170.9 301.9v5.6M149.0 301.9v5.6M145.9 301.9v5.6M119.1 301.9v5.6M170.3 301.9v5.6M211.0 301.9v5.6M215.5 301.9v5.6M159.4 301.9v5.6M229.5 301.9v5.6M227.9 301.9v5.6M147.6 301.9v5.6M122.5 301.9v5.6M211.6 301.9v5.6M224.7 301.9v5.6M188.5 301.9v5.6M227.6 301.9v5.6M167.2 301.9v5.6M173.0 301.9v5.6M117.2 301.9v5.6M153.9 301.9v5.6M222.7 301.9v5.6M120.8 301.9v5.6M125.0 301.9v5.6M112.1 301.9v5.6M169.5 301.9v5.6M182.8 301.9v5.6M174.0 301.9v5.6M217.0 301.9v5.6M192.4 301.9v5.6M187.0 301.9v5.6M182.7 301.9v5.6M170.7 301.9v5.6M117.3 301.9v5.6M120.1 301.9v5.6M187.9 301.9v5.6M134.3 301.9v5.6M159.5 301.9v5.6M188.3 301.9v5.6M182.4 301.9v5.6M138.3 301.9v5.6M141.1 301.9v5.6M125.4 301.9v5.6M190.2 301.9v5.6M197.2 301.9v5.6M124.4 301.9v5.6M141.6 301.9v5.6M126.4 301.9v5.6M183.9 301.9v5.6M144.7 301.9v5.6M215.9 301.9v5.6M141.0 301.9v5.6M187.9 301.9v5.6M186.9 301.9v5.6M224.8 301.9v5.6M197.6 301.9v5.6M223.7 301.9v5.6M180.5 301.9v5.6M108.4 301.9v5.6M148.5 301.9v5.6M199.8 301.9v5.6M150.5 301.9v5.6M189.6 301.9v5.6M122.6 301.9v5.6M188.2 301.9v5.6M155.8 301.9v5.6M225.3 301.9v5.6M116.8 301.9v5.6M152.7 301.9v5.6M203.2 301.9v5.6M156.6 301.9v5.6M165.3 301.9v5.6M149.5 301.9v5.6M120.1 301.9v5.6M147.7 301.9v5.6M216.7 301.9v5.6M203.1 301.9v5.6M146.4 301.9v5.6M190.9 301.9v5.6M206.5 301.9v5.6M206.8 301.9v5.6M114.9 301.9v5.6M128.3 301.9v5.6M226.6 301.9v5.6M142.7 301.9v5.6M204.5 301.9v5.6M186.2 301.9v5.6M216.2 301.9v5.6M117.7 301.9v5.6M223.8 301.9v5.6M216.6 301.9v5.6M137.6 301.9v5.6M196.2 301.9v5.6M108.7 301.9v5.6M215.3 301.9v5.6M159.4 301.9v5.6M199.8 301.9v5.6M206.6 301.9v5.6M111.3 301.9v5.6M217.4 301.9v5.6M121.0 301.9v5.6M127.2 301.9v5.6M164.6 301.9v5.6M139.4 301.9v5.6M188.4 301.9v5.6M131.6 301.9v5.6M185.3 301.9v5.6M202.4 301.9v5.6M227.5 301.9v5.6M157.5 301.9v5.6M143.5 301.9v5.6M179.6 301.9v5.6M188.8 301.9v5.6M222.5 301.9v5.6M180.6 301.9v5.6M162.4 301.9v5.6M144.9 301.9v5.6M197.9 301.9v5.6M187.1 301.9v5.6M116.9 301.9v5.6M145.1 301.9v5.6M128.7 301.9v5.6M169.4 301.9v5.6M155.3 301.9v5.6M127.7 301.9v5.6M173.7 301.9v5.6M189.8 301.9v5.6M150.3 301.9v5.6M211.5 301.9v5.6M120.6 301.9v5.6M115.1 301.9v5.6M195.7 301.9v5.6M177.8 301.9v5.6M201.2 301.9v5.6M223.9 301.9v5.6M171.4 301.9v5.6M209.3 301.9v5.6M188.3 301.9v5.6M171.8 301.9v5.6M170.4 301.9v5.6M231.0 301.9v5.6M150.9 301.9v5.6M160.7 301.9v5.6M166.8 301.9v5.6M187.3 301.9v5.6M115.6 301.9v5.6M188.8 301.9v5.6M112.8 301.9v5.6M155.1 301.9v5.6M162.9 301.9v5.6M178.2 301.9v5.6M178.9 301.9v5.6M182.8 301.9v5.6M111.0 301.9v5.6M148.7 301.9v5.6M199.5 301.9v5.6M159.7 301.9v5.6M210.5 301.9v5.6M175.4 301.9v5.6M178.6 301.9v5.6M191.9 301.9v5.6M229.9 301.9v5.6M108.5 301.9v5.6M122.7 301.9v5.6M119.0 301.9v5.6M133.6 301.9v5.6M110.6 301.9v5.6M230.5 301.9v5.6M126.6 301.9v5.6M166.8 301.9v5.6M217.4 301.9v5.6M166.8 301.9v5.6M138.6 301.9v5.6M144.2 301.9v5.6M160.3 301.9v5.6M146.1 301.9v5.6M166.4 301.9v5.6M159.2 301.9v5.6M118.1 301.9v5.6M216.4 301.9v5.6M228.2 301.9v5.6M177.8 301.9v5.6M119.7 301.9v5.6M220.7 301.9v5.6M153.0 301.9v5.6M155.3 301.9v5.6M139.7 301.9v5.6M223.2 301.9v5.6M193.8 301.9v5.6M145.3 301.9v5.6M153.8 301.9v5.6M160.4 301.9v5.6M155.2 301.9v5.6M191.4 301.9v5.6M225.7 301.9v5.6M113.3 301.9v5.6M213.1 301.9v5.6M213.3 301.9v5.6M135.2 301.9v5.6M229.3 301.9v5.6M216.6 301.9v5.6M197.6 301.9v5.6M121.3 301.9v5.6M163.5 301.9v5.6M201.9 301.9v5.6M176.7 301.9v5.6M115.3 301.9v5.6M202.7 301.9v5.6M158.9 301.9v5.6M135.3 301.9v5.6M151.1 301.9v5.6M120.9 301.9v5.6M152.8 301.9v5.6M109.9 301.9v5.6M231.8 301.9v5.6M125.0 301.9v5.6M150.0 301.9v5.6M145.3 301.9v5.6M165.0 301.9v5.6M150.0 301.9v5.6M218.0 301.9v5.6M131.2 301.9v5.6M231.6 301.9v5.6M156.7 301.9v5.6M229.9 301.9v5.6M149.5 301.9v5.6M118.0 301.9v5.6M211.3 301.9v5.6M127.6 301.9v5.6M200.1 301.9v5.6M217.2 301.9v5.6M135.0 301.9v5.6M147.4 301.9v5.6M178.0 301.9v5.6M215.8 301.9v5.6M214.0 301.9v5.6M168.3 301.9v5.6M178.3 301.9v5.6M207.6 301.9v5.6M127.2 301.9v5.6M223.5 301.9v5.6M215.1 301.9v5.6M137.0 301.9v5.6M186.0 301.9v5.6M198.8 301.9v5.6M188.3 301.9v5.6M117.0 301.9v5.6M115.7 301.9v5.6M135.7 301.9v5.6M121.0 301.9v5.6M168.1 301.9v5.6M199.4 301.9v5.6M179.4 301.9v5.6M220.3 301.9v5.6M168.8 301.9v5.6M163.7 301.9v5.6M123.8 301.9v5.6M226.3 301.9v5.6M191.4 301.9v5.6M229.6 301.9v5.6M223.9 301.9v5.6M118.6 301.9v5.6M182.8 301.9v5.6M168.4 301.9v5.6M201.5 301.9v5.6M207.4 301.9v5.6M215.4 301.9v5.6M200.7 301.9v5.6M190.1 301.9v5.6M206.7 301.9v5.6M203.8 301.9v5.6M223.6 301.9v5.6M212.4 301.9v5.6M204.5 301.9v5.6M203.3 301.9v5.6M214.9 301.9v5.6M205.6 301.9v5.6M207.3 301.9v5.6M210.8 301.9v5.6M212.1 301.9v5.6M212.1 301.9v5.6M212.3 301.9v5.6M220.6 301.9v5.6M223.4 301.9v5.6M199.9 301.9v5.6M229.5 301.9v5.6M212.4 301.9v5.6M220.2 301.9v5.6M206.3 301.9v5.6M213.8 301.9v5.6M213.0 301.9v5.6M212.3 301.9v5.6M217.5 301.9v5.6M215.9 301.9v5.6M204.5 301.9v5.6M210.7 301.9v5.6M216.6 301.9v5.6M216.3 301.9v5.6M209.2 301.9v5.6M209.6 301.9v5.6M210.4 301.9v5.6M203.8 301.9v5.6M202.5 301.9v5.6M222.5 301.9v5.6M208.8 301.9v5.6M212.2 301.9v5.6M206.3 301.9v5.6M220.6 301.9v5.6M223.8 301.9v5.6M210.0 301.9v5.6M215.1 301.9v5.6M206.2 301.9v5.6M223.9 301.9v5.6M218.0 301.9v5.6M205.6 301.9v5.6M220.3 301.9v5.6M214.0 301.9v5.6M214.4 301.9v5.6M214.0 301.9v5.6M206.8 301.9v5.6M207.8 301.9v5.6M215.9 301.9v5.6M211.2 301.9v5.6M204.9 301.9v5.6M225.7 301.9v5.6M210.0 301.9v5.6M207.6 301.9v5.6M206.6 301.9v5.6M216.3 301.9v5.6M218.3 301.9v5.6M213.2 301.9v5.6M217.6 301.9v5.6M201.0 301.9v5.6M208.9 301.9v5.6M208.2 301.9v5.6M211.5 301.9v5.6M214.9 301.9v5.6M197.2 301.9v5.6M233.3 301.9v5.6M205.4 301.9v5.6M213.9 301.9v5.6M217.2 301.9v5.6M217.4 301.9v5.6M213.1 301.9v5.6M191.0 301.9v5.6M203.8 301.9v5.6M216.7 301.9v5.6M204.9 301.9v5.6M204.0 301.9v5.6M194.9 301.9v5.6M219.9 301.9v5.6M214.9 301.9v5.6M205.1 301.9v5.6M210.4 301.9v5.6M210.6 301.9v5.6M203.4 301.9v5.6M209.3 301.9v5.6M213.0 301.9v5.6M215.1 301.9v5.6M220.1 301.9v5.6M211.4 301.9v5.6M207.9 301.9v5.6M214.0 301.9v5.6M206.8 301.9v5.6M202.4 301.9v5.6M219.2 301.9v5.6M208.5 301.9v5.6M212.0 301.9v5.6M215.7 301.9v5.6M203.4 301.9v5.6M215.6 301.9v5.6M214.3 301.9v5.6M210.4 301.9v5.6M213.9 301.9v5.6M205.8 301.9v5.6M103.8 301.9v5.6M105.0 301.9v5.6M239.0 301.9v5.6M240.5 301.9v5.6" stroke="#000" stroke-width="0.75"/>
<path d="M67.0,305.5L67.9,305.5L68.8,305.5L69.7,305.5L70.6,305.5L71.5,305.5L72.5,305.5L73.4,305.5L74.3,305.5L75.2,305.5L76.1,305.5L77.0,305.5L77.9,305.5L78.8,305.5L79.7,305.5L80.6,305.5L81.5,305.5L82.4,305.5L83.4,305.5L84.3,305.5L85.2,305.5L86.1,305.5L87.0,305.5L87.9,305.5L88.8,305.5L89.7,305.5L90.6,305.5L91.5,305.5L92.4,305.5L93.3,305.4L94.3,305.4L95.2,305.4L96.1,305.4L97.0,305.3L97.9,305.3L98.8,305.2L99.7,305.1L100.6,305.0L101.5,304.8L102.4,304.6L103.3,304.4L104.3,304.1L105.2,303.8L106.1,303.4L107.0,302.9L107.9,302.3L108.8,301.7L109.7,301.0L110.6,300.2L111.5,299.3L112.4,298.2L113.3,297.1L114.2,295.9L115.2,294.6L116.1,293.3L117.0,291.9L117.9,290.4L118.8,288.9L119.7,287.4L120.6,285.9L121.5,284.5L122.4,283.2L123.3,281.9L124.2,280.8L125.1,279.8L126.1,279.0L127.0,278.3L127.9,277.9L128.8,277.6L129.7,277.5L130.6,277.6L131.5,277.9L132.4,278.4L133.3,279.0L134.2,279.7L135.1,280.5L136.0,281.5L137.0,282.5L137.9,283.5L138.8,284.5L139.7,285.6L140.6,286.6L141.5,287.6L142.4,288.6L143.3,289.4L144.2,290.3L145.1,291.0L146.0,291.7L147.0,292.3L147.9,292.9L148.8,293.4L149.7,293.8L150.6,294.2L151.5,294.5L152.4,294.8L153.3,295.0L154.2,295.3L155.1,295.5L156.0,295.6L156.9,295.8L157.9,295.9L158.8,296.0L159.7,296.0L160.6,296.1L161.5,296.1L162.4,296.2L163.3,296.2L164.2,296.1L165.1,296.1L166.0,296.0L166.9,295.9L167.8,295.8L168.8,295.7L169.7,295.6L170.6,295.4L171.5,295.2L172.4,295.0L173.3,294.8L174.2,294.6L175.1,294.4L176.0,294.2L176.9,294.0L177.8,293.8L178.8,293.6L179.7,293.4L180.6,293.3L181.5,293.1L182.4,293.0L183.3,292.9L184.2,292.8L185.1,292.8L186.0,292.7L186.9,292.7L187.8,292.7L188.7,292.7L189.7,292.7L190.6,292.8L191.5,292.8L192.4,292.8L193.3,292.8L194.2,292.8L195.1,292.7L196.0,292.6L196.9,292.5L197.8,292.3L198.7,292.1L199.6,291.8L200.6,291.4L201.5,291.1L202.4,290.7L203.3,290.2L204.2,289.8L205.1,289.4L206.0,289.0L206.9,288.7L207.8,288.5L208.7,288.3L209.6,288.3L210.5,288.3L211.5,288.5L212.4,288.8L213.3,289.3L214.2,289.9L215.1,290.5L216.0,291.3L216.9,292.2L217.8,293.1L218.7,294.1L219.6,295.1L220.5,296.1L221.5,297.1L222.4,298.1L223.3,299.0L224.2,299.9L225.1,300.7L226.0,301.4L226.9,302.0L227.8,302.6L228.7,303.1L229.6,303.5L230.5,303.9L231.4,304.2L232.4,304.5L233.3,304.7L234.2,304.9L235.1,305.0L236.0,305.1L236.9,305.2L237.8,305.3L238.7,305.3L239.6,305.4L240.5,305.4L241.4,305.4L242.3,305.4L243.3,305.5L244.2,305.5L245.1,305.5L246.0,305.5L246.9,305.5L247.8,305.5" fill="none" stroke="#000" stroke-width="1.1"/>
<path d="M170.6,344.5L170.6,344.5L171.5,344.5L172.4,344.4L173.3,344.4L174.2,344.4L175.1,344.3L176.0,344.1L176.9,344.0L177.8,343.7L178.8,343.4L179.7,342.9L180.6,342.2L181.5,341.4L182.4,340.4L183.3,339.1L184.2,337.6L185.1,335.9L186.0,333.9L186.9,331.6L187.8,329.2L188.7,326.7L189.7,324.1L190.6,321.5L191.5,319.0L192.4,316.5L193.3,314.3L194.2,312.2L195.1,310.3L196.0,308.7L196.9,307.2L197.8,305.9L198.7,304.8L199.6,303.7L200.6,302.8L201.5,302.0L202.4,301.3L203.3,300.6L204.2,300.0L205.1,299.4L206.0,298.9L206.9,298.3L207.8,297.9L208.7,297.4L209.6,296.9L210.5,296.5L211.5,296.1L212.4,295.8L213.3,295.6L214.2,295.5L215.1,295.6L216.0,296.0L216.9,296.5L217.8,297.4L218.7,298.5L219.6,300.0L220.5,301.8L221.5,303.9L222.4,306.2L223.3,308.8L224.2,311.5L225.1,314.3L226.0,317.2L226.9,320.1L227.8,322.9L228.7,325.6L229.6,328.1L230.5,330.5L231.4,332.7L232.4,334.6L233.3,336.3L234.2,337.8L235.1,339.1L236.0,340.2L236.9,341.1L237.8,341.9L238.7,342.5L239.6,343.0L240.5,343.3L241.4,343.6L242.3,343.9L243.3,344.0L244.2,344.2L244.2,344.5Z" fill="rgba(0,0,0,0.5)" stroke="none" stroke-width="1"/>
<path d="M212.1 340.9v5.6M197.1 340.9v5.6M193.5 340.9v5.6M192.6 340.9v5.6M200.2 340.9v5.6M209.2 340.9v5.6M196.1 340.9v5.6M212.1 340.9v5.6M201.7 340.9v5.6M217.8 340.9v5.6M209.0 340.9v5.6M217.1 340.9v5.6M199.7 340.9v5.6M210.4 340.9v5.6M221.1 340.9v5.6M191.6 340.9v5.6M222.7 340.9v5.6M211.1 340.9v5.6M224.9 340.9v5.6M200.7 340.9v5.6M207.6 340.9v5.6M214.2 340.9v5.6M211.2 340.9v5.6M212.1 340.9v5.6M220.4 340.9v5.6M196.5 340.9v5.6M230.5 340.9v5.6" stroke="#000" stroke-width="0.75"/>
<path d="M67.0,344.5L67.9,344.5L68.8,344.5L69.7,344.5L70.6,344.5L71.5,344.5L72.5,344.5L73.4,344.5L74.3,344.5L75.2,344.5L76.1,344.5L77.0,344.5L77.9,344.5L78.8,344.5L79.7,344.5L80.6,344.5L81.5,344.5L82.4,344.5L83.4,344.5L84.3,344.5L85.2,344.5L86.1,344.5L87.0,344.5L87.9,344.5L88.8,344.5L89.7,344.5L90.6,344.5L91.5,344.5L92.4,344.5L93.3,344.5L94.3,344.5L95.2,344.5L96.1,344.5L97.0,344.5L97.9,344.5L98.8,344.5L99.7,344.5L100.6,344.5L101.5,344.5L102.4,344.5L103.3,344.5L104.3,344.5L105.2,344.5L106.1,344.5L107.0,344.5L107.9,344.5L108.8,344.5L109.7,344.5L110.6,344.5L111.5,344.5L112.4,344.5L113.3,344.5L114.2,344.5L115.2,344.5L116.1,344.5L117.0,344.5L117.9,344.5L118.8,344.5L119.7,344.5L120.6,344.5L121.5,344.5L122.4,344.5L123.3,344.5L124.2,344.5L125.1,344.5L126.1,344.5L127.0,344.5L127.9,344.5L128.8,344.5L129.7,344.5L130.6,344.5L131.5,344.5L132.4,344.5L133.3,344.5L134.2,344.5L135.1,344.5L136.0,344.5L137.0,344.5L137.9,344.5L138.8,344.5L139.7,344.5L140.6,344.5L141.5,344.5L142.4,344.5L143.3,344.5L144.2,344.5L145.1,344.5L146.0,344.5L147.0,344.5L147.9,344.5L148.8,344.5L149.7,344.5L150.6,344.5L151.5,344.5L152.4,344.5L153.3,344.5L154.2,344.5L155.1,344.5L156.0,344.5L156.9,344.5L157.9,344.5L158.8,344.5L159.7,344.5L160.6,344.5L161.5,344.5L162.4,344.5L163.3,344.5L164.2,344.5L165.1,344.5L166.0,344.5L166.9,344.5L167.8,344.5L168.8,344.5L169.7,344.5L170.6,344.5L171.5,344.5L172.4,344.4L173.3,344.4L174.2,344.4L175.1,344.3L176.0,344.1L176.9,344.0L177.8,343.7L178.8,343.4L179.7,342.9L180.6,342.2L181.5,341.4L182.4,340.4L183.3,339.1L184.2,337.6L185.1,335.9L186.0,333.9L186.9,331.6L187.8,329.2L188.7,326.7L189.7,324.1L190.6,321.5L191.5,319.0L192.4,316.5L193.3,314.3L194.2,312.2L195.1,310.3L196.0,308.7L196.9,307.2L197.8,305.9L198.7,304.8L199.6,303.7L200.6,302.8L201.5,302.0L202.4,301.3L203.3,300.6L204.2,300.0L205.1,299.4L206.0,298.9L206.9,298.3L207.8,297.9L208.7,297.4L209.6,296.9L210.5,296.5L211.5,296.1L212.4,295.8L213.3,295.6L214.2,295.5L215.1,295.6L216.0,296.0L216.9,296.5L217.8,297.4L218.7,298.5L219.6,300.0L220.5,301.8L221.5,303.9L222.4,306.2L223.3,308.8L224.2,311.5L225.1,314.3L226.0,317.2L226.9,320.1L227.8,322.9L228.7,325.6L229.6,328.1L230.5,330.5L231.4,332.7L232.4,334.6L233.3,336.3L234.2,337.8L235.1,339.1L236.0,340.2L236.9,341.1L237.8,341.9L238.7,342.5L239.6,343.0L240.5,343.3L241.4,343.6L242.3,343.9L243.3,344.0L244.2,344.2L245.1,344.3L246.0,344.3L246.9,344.4L247.8,344.4" fill="none" stroke="#000" stroke-width="1.1"/>
<path d="M84.3,383.5L84.3,383.2L85.2,383.0L86.1,382.8L87.0,382.4L87.9,382.0L88.8,381.4L89.7,380.7L90.6,379.9L91.5,379.0L92.4,378.0L93.3,377.1L94.3,376.3L95.2,375.6L96.1,375.1L97.0,374.8L97.9,374.8L98.8,374.8L99.7,374.9L100.6,375.1L101.5,375.1L102.4,374.9L103.3,374.4L104.3,373.5L105.2,372.3L106.1,370.6L107.0,368.5L107.9,366.0L108.8,363.0L109.7,359.7L110.6,356.0L111.5,352.0L112.4,347.8L113.3,343.4L114.2,339.0L115.2,334.6L116.1,330.3L117.0,326.3L117.9,322.6L118.8,319.3L119.7,316.6L120.6,314.5L121.5,313.1L122.4,312.4L123.3,312.4L124.2,313.2L125.1,314.8L126.1,317.0L127.0,319.8L127.9,323.1L128.8,326.9L129.7,331.0L130.6,335.2L131.5,339.6L132.4,343.9L133.3,348.2L134.2,352.2L135.1,355.9L136.0,359.4L137.0,362.4L137.9,365.0L138.8,367.3L139.7,369.1L140.6,370.6L141.5,371.9L142.4,372.9L143.3,373.7L144.2,374.4L145.1,375.0L146.0,375.7L147.0,376.4L147.9,377.1L148.8,377.8L149.7,378.6L150.6,379.3L151.5,380.0L152.4,380.7L153.3,381.3L154.2,381.8L154.2,383.5Z" fill="rgba(0,158,115,0.5)" stroke="none" stroke-width="1"/>
<path d="M95.5 379.9v5.6M106.3 379.9v5.6M114.5 379.9v5.6M117.6 379.9v5.6M120.7 379.9v5.6M122.7 379.9v5.6M123.7 379.9v5.6M125.8 379.9v5.6M127.8 379.9v5.6M130.9 379.9v5.6M134.9 379.9v5.6M145.2 379.9v5.6" stroke="#000" stroke-width="0.75"/>
<path d="M67.0,383.5L67.9,383.5L68.8,383.5L69.7,383.5L70.6,383.5L71.5,383.5L72.5,383.5L73.4,383.5L74.3,383.5L75.2,383.5L76.1,383.5L77.0,383.5L77.9,383.5L78.8,383.5L79.7,383.5L80.6,383.5L81.5,383.4L82.4,383.4L83.4,383.3L84.3,383.2L85.2,383.0L86.1,382.8L87.0,382.4L87.9,382.0L88.8,381.4L89.7,380.7L90.6,379.9L91.5,379.0L92.4,378.0L93.3,377.1L94.3,376.3L95.2,375.6L96.1,375.1L97.0,374.8L97.9,374.8L98.8,374.8L99.7,374.9L100.6,375.1L101.5,375.1L102.4,374.9L103.3,374.4L104.3,373.5L105.2,372.3L106.1,370.6L107.0,368.5L107.9,366.0L108.8,363.0L109.7,359.7L110.6,356.0L111.5,352.0L112.4,347.8L113.3,343.4L114.2,339.0L115.2,334.6L116.1,330.3L117.0,326.3L117.9,322.6L118.8,319.3L119.7,316.6L120.6,314.5L121.5,313.1L122.4,312.4L123.3,312.4L124.2,313.2L125.1,314.8L126.1,317.0L127.0,319.8L127.9,323.1L128.8,326.9L129.7,331.0L130.6,335.2L131.5,339.6L132.4,343.9L133.3,348.2L134.2,352.2L135.1,355.9L136.0,359.4L137.0,362.4L137.9,365.0L138.8,367.3L139.7,369.1L140.6,370.6L141.5,371.9L142.4,372.9L143.3,373.7L144.2,374.4L145.1,375.0L146.0,375.7L147.0,376.4L147.9,377.1L148.8,377.8L149.7,378.6L150.6,379.3L151.5,380.0L152.4,380.7L153.3,381.3L154.2,381.8L155.1,382.2L156.0,382.6L156.9,382.8L157.9,383.0L158.8,383.2L159.7,383.3L160.6,383.4L161.5,383.4L162.4,383.5L163.3,383.5L164.2,383.5L165.1,383.5L166.0,383.5L166.9,383.5L167.8,383.5L168.8,383.5L169.7,383.5L170.6,383.5L171.5,383.5L172.4,383.5L173.3,383.5L174.2,383.5L175.1,383.5L176.0,383.5L176.9,383.5L177.8,383.5L178.8,383.5L179.7,383.5L180.6,383.5L181.5,383.5L182.4,383.5L183.3,383.5L184.2,383.5L185.1,383.5L186.0,383.5L186.9,383.5L187.8,383.5L188.7,383.5L189.7,383.5L190.6,383.5L191.5,383.5L192.4,383.5L193.3,383.5L194.2,383.5L195.1,383.5L196.0,383.5L196.9,383.5L197.8,383.5L198.7,383.5L199.6,383.5L200.6,383.5L201.5,383.5L202.4,383.5L203.3,383.5L204.2,383.5L205.1,383.5L206.0,383.5L206.9,383.5L207.8,383.5L208.7,383.5L209.6,383.5L210.5,383.5L211.5,383.5L212.4,383.5L213.3,383.5L214.2,383.5L215.1,383.5L216.0,383.5L216.9,383.5L217.8,383.5L218.7,383.5L219.6,383.5L220.5,383.5L221.5,383.5L222.4,383.5L223.3,383.5L224.2,383.5L225.1,383.5L226.0,383.5L226.9,383.5L227.8,383.5L228.7,383.5L229.6,383.5L230.5,383.5L231.4,383.5L232.4,383.5L233.3,383.5L234.2,383.5L235.1,383.5L236.0,383.5L236.9,383.5L237.8,383.5L238.7,383.5L239.6,383.5L240.5,383.5L241.4,383.5L242.3,383.5L243.3,383.5L244.2,383.5L245.1,383.5L246.0,383.5L246.9,383.5L247.8,383.5" fill="none" stroke="#000" stroke-width="1.1"/>
<text x="-0.6" y="470.9" font-size="15.9" font-family="Liberation Sans" fill="#000" textLength="16.2" lengthAdjust="spacingAndGlyphs">C)</text>
<line x1="58.50" y1="483.50" x2="58.50" y2="686.00" stroke="#4d4d4d" stroke-width="1.2"/>
<line x1="57.90" y1="685.50" x2="255.20" y2="685.50" stroke="#4d4d4d" stroke-width="1.2"/>
<line x1="55.40" y1="495.28" x2="58.40" y2="495.28" stroke="#4d4d4d" stroke-width="1"/>
<text x="54.2" y="499.1" font-size="10.6" font-family="Liberation Sans" fill="#000" text-anchor="end">6</text>
<line x1="55.40" y1="544.69" x2="58.40" y2="544.69" stroke="#4d4d4d" stroke-width="1"/>
<text x="54.2" y="548.5" font-size="10.6" font-family="Liberation Sans" fill="#000" text-anchor="end">3</text>
<line x1="55.40" y1="594.10" x2="58.40" y2="594.10" stroke="#4d4d4d" stroke-width="1"/>
<text x="54.2" y="597.9" font-size="10.6" font-family="Liberation Sans" fill="#000" text-anchor="end">0</text>
<line x1="55.40" y1="643.51" x2="58.40" y2="643.51" stroke="#4d4d4d" stroke-width="1"/>
<text x="54.2" y="647.3" font-size="10.6" font-family="Liberation Sans" fill="#000" text-anchor="end">−3</text>
<line x1="66.30" y1="685.50" x2="66.30" y2="688.50" stroke="#4d4d4d" stroke-width="1"/>
<text x="64.8" y="697.8" font-size="10.6" font-family="Liberation Sans" fill="#000" text-anchor="middle">−10</text>
<line x1="129.40" y1="685.50" x2="129.40" y2="688.50" stroke="#4d4d4d" stroke-width="1"/>
<text x="127.9" y="697.8" font-size="10.6" font-family="Liberation Sans" fill="#000" text-anchor="middle">−5</text>
<line x1="192.50" y1="685.50" x2="192.50" y2="688.50" stroke="#4d4d4d" stroke-width="1"/>
<text x="192.5" y="697.8" font-size="10.6" font-family="Liberation Sans" fill="#000" text-anchor="middle">0</text>
<text x="156.9" y="727.8" font-size="12.2" font-family="Liberation Sans" fill="#000" text-anchor="middle" textLength="169.6" lengthAdjust="spacingAndGlyphs">Normalized sgRNA Abundance</text>
<text x="30.1" y="585.1" font-size="12.2" font-family="Liberation Sans" fill="#000" text-anchor="middle" textLength="147.1" lengthAdjust="spacingAndGlyphs" transform="rotate(-90 30.1 585.1)">Normalized sgRNA Activity</text>
<path d="M185.3 650.8h0M207.8 592.2h0M197.8 602.4h0M186.9 622.7h0M213.3 590.6h0M188.7 611.1h0M200.3 617.2h0M185.7 625.2h0M196.1 587.1h0M186.9 592.9h0M190.1 602.2h0M183.9 632.2h0M222.9 605.7h0M179.4 607.5h0M191.2 596.4h0M176.7 600.0h0M179.9 637.1h0M189.7 607.7h0M192.0 595.2h0M190.9 616.9h0M200.7 609.5h0M191.7 605.5h0M173.2 646.2h0M176.2 634.7h0M181.0 610.4h0M191.6 600.7h0M190.8 625.6h0M186.6 636.8h0M194.4 594.1h0M189.2 605.1h0M193.8 635.2h0M198.3 601.6h0M220.1 589.5h0M195.8 600.9h0M193.6 632.8h0M200.5 615.0h0M200.5 602.7h0M179.5 645.9h0M204.3 587.8h0M167.3 657.8h0M189.1 602.6h0M208.5 593.5h0M198.8 626.3h0M184.8 607.1h0M214.9 590.1h0M186.4 607.2h0M201.8 627.1h0M196.7 614.4h0M188.1 616.7h0M194.7 625.7h0M198.5 606.8h0M195.1 621.7h0M206.0 611.4h0M188.5 622.4h0M176.8 636.9h0M202.7 618.5h0M190.6 638.4h0M205.6 613.2h0M184.5 611.9h0M189.3 611.3h0M172.8 600.5h0M173.8 615.9h0M201.3 623.1h0M188.1 619.3h0M202.5 606.0h0M202.3 586.9h0M182.9 620.5h0M195.7 614.4h0M181.6 605.1h0M179.9 629.7h0M202.9 595.9h0M181.0 601.6h0M175.1 622.5h0M197.0 610.3h0M207.8 621.7h0M224.1 593.7h0M192.6 595.1h0M186.8 621.0h0M191.0 593.0h0M194.9 600.6h0M190.8 595.3h0M203.5 618.2h0M186.9 625.5h0M189.5 626.4h0M194.7 615.9h0M194.2 617.6h0M193.2 619.9h0M204.0 613.1h0M183.9 586.2h0M205.7 615.7h0M176.0 645.9h0M215.4 604.0h0M192.5 571.1h0M216.7 527.8h0M222.5 526.3h0M191.8 623.2h0M204.8 616.1h0M203.7 568.0h0M208.5 565.4h0M203.2 619.7h0M230.3 530.1h0M212.8 508.2h0M215.4 549.4h0M179.8 618.6h0M230.2 528.9h0M186.4 624.1h0M217.5 600.0h0M209.4 577.1h0M183.3 591.5h0M184.9 638.7h0M211.3 565.8h0M193.3 614.5h0M218.9 542.0h0M223.9 518.3h0M181.8 645.3h0M215.7 507.8h0M180.4 640.8h0M193.7 553.9h0M219.8 519.6h0M202.3 585.6h0M201.8 618.5h0M254.7 509.6h0M202.4 554.0h0M183.6 645.2h0M177.8 623.9h0M202.4 564.2h0M201.3 610.4h0M182.2 608.8h0M227.8 529.7h0M219.3 551.7h0M210.2 515.5h0M193.4 630.7h0M197.8 611.2h0" stroke="#e69f00" stroke-width="3.1" stroke-linecap="round"/>
<path d="M208.9 554.6h0M208.4 534.9h0" stroke="#56b4e9" stroke-width="3.1" stroke-linecap="round"/>
<path d="M191.5 602.2h0M230.7 514.2h0M203.4 550.3h0M173.7 593.8h0M206.1 554.6h0M200.4 590.3h0M157.7 642.4h0M191.1 592.7h0M193.5 631.5h0M183.0 603.2h0M159.7 574.3h0M181.2 583.2h0M199.5 604.7h0M189.9 549.1h0M183.7 583.0h0M204.7 566.5h0" stroke="#e69f00" stroke-width="3.1" stroke-linecap="round"/>
<path d="M226.8 516.4h0" stroke="#56b4e9" stroke-width="3.1" stroke-linecap="round"/>
<path d="M163.0 648.6h0M149.6 536.5h0" stroke="#e69f00" stroke-width="3.1" stroke-linecap="round"/>
<path d="M208.4 580.8h0" stroke="#56b4e9" stroke-width="3.1" stroke-linecap="round"/>
<path d="M186.1 604.4h0" stroke="#e69f00" stroke-width="3.1" stroke-linecap="round"/>
<path d="M68.8 564.5h0" stroke="#56b4e9" stroke-width="3.1" stroke-linecap="round"/>
<path d="M213.9 520.2h0M183.3 583.5h0M213.5 559.9h0" stroke="#e69f00" stroke-width="3.1" stroke-linecap="round"/>
<path d="M209.3 565.7h0" stroke="#56b4e9" stroke-width="3.1" stroke-linecap="round"/>
<path d="M222.6 534.5h0M184.2 602.7h0M160.9 549.0h0M222.8 538.3h0M189.5 618.4h0" stroke="#e69f00" stroke-width="3.1" stroke-linecap="round"/>
<path d="M216.9 568.2h0" stroke="#56b4e9" stroke-width="3.1" stroke-linecap="round"/>
<path d="M210.1 564.3h0M124.4 633.6h0M195.1 603.3h0M221.9 492.5h0M197.7 617.7h0M179.9 614.5h0M214.3 543.2h0M216.3 499.5h0M183.1 591.3h0M209.5 593.3h0" stroke="#e69f00" stroke-width="3.1" stroke-linecap="round"/>
<path d="M189.1 561.5h0" stroke="#56b4e9" stroke-width="3.1" stroke-linecap="round"/>
<path d="M219.2 537.9h0M187.6 616.1h0M189.7 538.4h0M226.8 547.9h0M192.1 583.2h0M182.6 630.7h0M189.2 604.9h0M229.5 519.4h0M197.1 598.9h0M202.9 570.2h0M196.2 617.8h0M213.7 508.8h0M216.4 537.3h0M198.9 606.1h0M212.8 552.0h0M200.9 602.9h0M216.3 532.7h0M227.4 529.6h0M178.6 590.6h0M189.8 565.6h0M218.4 527.5h0M184.5 585.7h0M241.2 548.3h0M185.9 595.9h0M201.5 599.3h0M233.1 526.5h0M218.4 534.9h0M206.3 538.5h0M201.6 563.5h0M175.4 637.0h0M194.8 614.1h0M199.5 596.3h0M184.2 640.4h0" stroke="#e69f00" stroke-width="3.1" stroke-linecap="round"/>
<path d="M210.0 508.7h0M184.8 569.9h0" stroke="#56b4e9" stroke-width="3.1" stroke-linecap="round"/>
<path d="M211.2 521.5h0M228.6 507.5h0M203.8 573.9h0M192.0 635.0h0" stroke="#e69f00" stroke-width="3.1" stroke-linecap="round"/>
<path d="M209.6 574.6h0" stroke="#56b4e9" stroke-width="3.1" stroke-linecap="round"/>
<path d="M197.6 651.8h0M148.3 605.6h0M210.7 551.1h0M194.6 567.5h0M189.7 572.1h0M197.4 629.7h0M190.9 606.8h0M207.2 574.4h0M201.5 618.2h0M215.8 524.7h0M230.2 502.6h0M243.7 494.3h0M214.5 544.5h0M210.0 617.2h0M186.0 600.6h0M213.9 578.6h0M202.0 578.6h0M180.0 593.6h0M198.3 614.2h0M215.6 517.9h0" stroke="#e69f00" stroke-width="3.1" stroke-linecap="round"/>
<path d="M208.8 562.8h0" stroke="#56b4e9" stroke-width="3.1" stroke-linecap="round"/>
<path d="M199.3 607.3h0M178.4 657.6h0M202.3 605.2h0M198.6 587.0h0M229.9 519.9h0M206.7 616.2h0M216.2 536.3h0M195.7 575.6h0M179.3 562.6h0M195.2 622.2h0" stroke="#e69f00" stroke-width="3.1" stroke-linecap="round"/>
<path d="M226.2 520.0h0" stroke="#56b4e9" stroke-width="3.1" stroke-linecap="round"/>
<path d="M215.6 588.4h0M209.8 596.0h0M209.7 521.1h0" stroke="#e69f00" stroke-width="3.1" stroke-linecap="round"/>
<path d="M225.8 508.6h0" stroke="#56b4e9" stroke-width="3.1" stroke-linecap="round"/>
<path d="M192.5 596.1h0M181.2 598.5h0M212.5 545.2h0M212.4 608.0h0M235.4 565.5h0M208.5 634.0h0M228.2 528.3h0M209.0 564.5h0M209.0 625.1h0M195.7 558.7h0M201.8 597.7h0M201.4 579.2h0M211.3 543.7h0M196.9 563.8h0M215.9 493.0h0M230.9 531.2h0M199.3 545.3h0M206.5 575.1h0M213.4 543.8h0M212.2 569.8h0M224.7 548.6h0M225.8 510.0h0M188.9 614.6h0M217.1 540.6h0M184.7 585.7h0M184.6 633.8h0M233.8 546.3h0M232.4 512.6h0M169.5 605.6h0M199.9 562.3h0M232.7 495.2h0M220.3 578.3h0M224.1 500.9h0M178.8 579.4h0M207.6 567.2h0" stroke="#e69f00" stroke-width="3.1" stroke-linecap="round"/>
<path d="M217.6 509.7h0" stroke="#56b4e9" stroke-width="3.1" stroke-linecap="round"/>
<path d="M217.2 523.4h0M205.9 537.4h0M177.2 555.2h0M212.4 629.0h0" stroke="#e69f00" stroke-width="3.1" stroke-linecap="round"/>
<path d="M202.8 577.6h0" stroke="#56b4e9" stroke-width="3.1" stroke-linecap="round"/>
<path d="M181.7 605.5h0M199.3 597.9h0M199.7 609.6h0M199.7 621.6h0" stroke="#e69f00" stroke-width="3.1" stroke-linecap="round"/>
<path d="M236.9 524.1h0" stroke="#56b4e9" stroke-width="3.1" stroke-linecap="round"/>
<path d="M229.7 518.9h0M199.6 614.5h0M181.2 608.6h0M217.2 540.8h0M204.4 620.4h0M209.1 518.1h0M207.4 552.0h0M223.8 512.1h0M196.4 558.0h0M230.8 513.9h0M192.0 607.4h0M199.0 563.4h0M170.8 630.8h0M218.6 541.6h0M189.3 571.0h0M185.4 626.4h0M213.8 560.7h0M197.5 606.8h0" stroke="#e69f00" stroke-width="3.1" stroke-linecap="round"/>
<path d="M191.9 618.8h0M196.0 597.7h0M185.5 627.2h0M190.7 583.4h0M239.1 547.1h0M220.7 595.3h0M195.3 631.4h0M201.8 626.2h0M207.4 544.3h0" stroke="#56b4e9" stroke-width="3.1" stroke-linecap="round"/>
<path d="M232.8 556.1h0M231.5 524.4h0M187.0 600.3h0" stroke="#e69f00" stroke-width="3.1" stroke-linecap="round"/>
<path d="M205.8 612.5h0" stroke="#56b4e9" stroke-width="3.1" stroke-linecap="round"/>
<path d="M210.5 567.8h0M180.6 559.7h0" stroke="#e69f00" stroke-width="3.1" stroke-linecap="round"/>
<path d="M200.5 612.7h0" stroke="#56b4e9" stroke-width="3.1" stroke-linecap="round"/>
<path d="M179.5 600.2h0" stroke="#e69f00" stroke-width="3.1" stroke-linecap="round"/>
<path d="M186.9 616.2h0" stroke="#56b4e9" stroke-width="3.1" stroke-linecap="round"/>
<path d="M198.8 558.2h0M170.2 626.1h0" stroke="#e69f00" stroke-width="3.1" stroke-linecap="round"/>
<path d="M187.0 594.9h0" stroke="#56b4e9" stroke-width="3.1" stroke-linecap="round"/>
<path d="M198.5 605.7h0" stroke="#e69f00" stroke-width="3.1" stroke-linecap="round"/>
<path d="M207.2 508.9h0M176.5 625.3h0" stroke="#56b4e9" stroke-width="3.1" stroke-linecap="round"/>
<path d="M225.1 552.8h0M179.3 609.8h0M189.4 602.4h0M217.1 548.1h0" stroke="#e69f00" stroke-width="3.1" stroke-linecap="round"/>
<path d="M201.3 557.7h0M110.5 638.6h0" stroke="#56b4e9" stroke-width="3.1" stroke-linecap="round"/>
<path d="M218.1 522.6h0" stroke="#e69f00" stroke-width="3.1" stroke-linecap="round"/>
<path d="M175.8 624.6h0M208.4 616.0h0" stroke="#56b4e9" stroke-width="3.1" stroke-linecap="round"/>
<path d="M196.6 578.0h0M212.3 602.8h0M201.0 566.3h0M198.9 538.8h0" stroke="#e69f00" stroke-width="3.1" stroke-linecap="round"/>
<path d="M215.1 618.6h0M208.1 613.3h0" stroke="#56b4e9" stroke-width="3.1" stroke-linecap="round"/>
<path d="M151.4 661.8h0" stroke="#e69f00" stroke-width="3.1" stroke-linecap="round"/>
<path d="M229.1 539.8h0M175.5 611.6h0" stroke="#56b4e9" stroke-width="3.1" stroke-linecap="round"/>
<path d="M173.8 552.6h0" stroke="#e69f00" stroke-width="3.1" stroke-linecap="round"/>
<path d="M184.9 629.5h0" stroke="#56b4e9" stroke-width="3.1" stroke-linecap="round"/>
<path d="M182.0 609.3h0" stroke="#e69f00" stroke-width="3.1" stroke-linecap="round"/>
<path d="M191.5 620.3h0M172.0 642.7h0M201.5 631.2h0" stroke="#56b4e9" stroke-width="3.1" stroke-linecap="round"/>
<path d="M173.5 614.6h0M198.6 555.1h0M186.5 627.9h0" stroke="#e69f00" stroke-width="3.1" stroke-linecap="round"/>
<path d="M190.8 606.4h0M202.2 581.7h0" stroke="#56b4e9" stroke-width="3.1" stroke-linecap="round"/>
<path d="M195.4 615.2h0M177.6 603.4h0M221.3 538.6h0" stroke="#e69f00" stroke-width="3.1" stroke-linecap="round"/>
<path d="M161.6 614.8h0M188.5 615.0h0" stroke="#56b4e9" stroke-width="3.1" stroke-linecap="round"/>
<path d="M195.4 587.1h0" stroke="#e69f00" stroke-width="3.1" stroke-linecap="round"/>
<path d="M194.1 606.0h0M203.3 615.4h0M198.8 639.2h0M183.2 614.4h0M186.6 617.9h0" stroke="#56b4e9" stroke-width="3.1" stroke-linecap="round"/>
<path d="M178.5 592.5h0M208.3 547.6h0" stroke="#e69f00" stroke-width="3.1" stroke-linecap="round"/>
<path d="M207.4 602.0h0M193.9 618.1h0" stroke="#56b4e9" stroke-width="3.1" stroke-linecap="round"/>
<path d="M212.1 518.4h0M170.7 598.2h0" stroke="#e69f00" stroke-width="3.1" stroke-linecap="round"/>
<path d="M188.8 613.5h0M214.1 610.7h0M185.6 612.1h0M189.6 624.4h0M187.8 612.1h0" stroke="#56b4e9" stroke-width="3.1" stroke-linecap="round"/>
<path d="M203.3 556.6h0" stroke="#e69f00" stroke-width="3.1" stroke-linecap="round"/>
<path d="M209.7 591.0h0M70.1 566.1h0M196.1 621.5h0" stroke="#56b4e9" stroke-width="3.1" stroke-linecap="round"/>
<path d="M221.2 526.6h0" stroke="#e69f00" stroke-width="3.1" stroke-linecap="round"/>
<path d="M196.7 609.6h0M208.4 563.0h0M227.2 546.6h0" stroke="#56b4e9" stroke-width="3.1" stroke-linecap="round"/>
<path d="M236.8 507.7h0M211.2 575.6h0" stroke="#e69f00" stroke-width="3.1" stroke-linecap="round"/>
<path d="M190.2 626.6h0M197.2 588.6h0" stroke="#56b4e9" stroke-width="3.1" stroke-linecap="round"/>
<path d="M196.5 602.5h0" stroke="#e69f00" stroke-width="3.1" stroke-linecap="round"/>
<path d="M185.5 630.7h0M188.1 631.7h0" stroke="#56b4e9" stroke-width="3.1" stroke-linecap="round"/>
<path d="M190.3 606.5h0" stroke="#e69f00" stroke-width="3.1" stroke-linecap="round"/>
<path d="M197.8 650.4h0M190.9 619.4h0M208.4 570.1h0M187.4 642.3h0" stroke="#56b4e9" stroke-width="3.1" stroke-linecap="round"/>
<path d="M198.1 618.4h0M210.2 605.2h0M219.5 542.8h0M217.7 533.7h0" stroke="#e69f00" stroke-width="3.1" stroke-linecap="round"/>
<path d="M164.1 618.1h0M169.9 620.1h0M195.9 622.9h0M199.6 602.7h0M194.2 627.0h0M196.3 608.6h0" stroke="#56b4e9" stroke-width="3.1" stroke-linecap="round"/>
<path d="M223.0 560.3h0M203.2 600.0h0" stroke="#e69f00" stroke-width="3.1" stroke-linecap="round"/>
<path d="M193.4 604.8h0M209.5 542.5h0M207.7 624.2h0M205.9 617.3h0" stroke="#56b4e9" stroke-width="3.1" stroke-linecap="round"/>
<path d="M185.6 574.8h0" stroke="#e69f00" stroke-width="3.1" stroke-linecap="round"/>
<path d="M189.9 597.5h0M186.1 620.3h0M188.6 618.5h0" stroke="#56b4e9" stroke-width="3.1" stroke-linecap="round"/>
<path d="M202.6 612.4h0M193.4 628.4h0" stroke="#e69f00" stroke-width="3.1" stroke-linecap="round"/>
<path d="M183.4 617.5h0M186.5 623.4h0M157.3 635.6h0M192.5 609.6h0" stroke="#56b4e9" stroke-width="3.1" stroke-linecap="round"/>
<path d="M222.6 521.1h0" stroke="#e69f00" stroke-width="3.1" stroke-linecap="round"/>
<path d="M185.7 630.7h0" stroke="#56b4e9" stroke-width="3.1" stroke-linecap="round"/>
<path d="M198.2 597.2h0" stroke="#e69f00" stroke-width="3.1" stroke-linecap="round"/>
<path d="M201.5 617.6h0" stroke="#56b4e9" stroke-width="3.1" stroke-linecap="round"/>
<path d="M206.1 542.6h0M232.6 551.5h0" stroke="#e69f00" stroke-width="3.1" stroke-linecap="round"/>
<path d="M191.5 622.7h0M139.5 592.5h0M195.4 625.3h0M186.1 620.9h0" stroke="#56b4e9" stroke-width="3.1" stroke-linecap="round"/>
<path d="M175.8 602.0h0M194.7 552.5h0M224.1 547.8h0M227.2 509.2h0" stroke="#e69f00" stroke-width="3.1" stroke-linecap="round"/>
<path d="M196.8 620.2h0M192.9 599.1h0M197.9 608.3h0M204.3 626.3h0M171.2 599.8h0" stroke="#56b4e9" stroke-width="3.1" stroke-linecap="round"/>
<path d="M231.9 496.7h0M177.5 629.9h0M198.6 611.5h0M186.4 557.5h0" stroke="#e69f00" stroke-width="3.1" stroke-linecap="round"/>
<path d="M197.7 621.9h0M190.8 629.1h0" stroke="#56b4e9" stroke-width="3.1" stroke-linecap="round"/>
<path d="M251.1 513.3h0" stroke="#e69f00" stroke-width="3.1" stroke-linecap="round"/>
<path d="M206.3 556.7h0" stroke="#56b4e9" stroke-width="3.1" stroke-linecap="round"/>
<path d="M191.9 638.1h0M207.6 554.6h0M196.4 609.5h0M204.0 539.5h0" stroke="#e69f00" stroke-width="3.1" stroke-linecap="round"/>
<path d="M181.0 595.8h0" stroke="#56b4e9" stroke-width="3.1" stroke-linecap="round"/>
<path d="M199.9 575.2h0M228.6 511.2h0M166.1 627.7h0M236.2 505.2h0M226.5 522.6h0M229.1 521.6h0" stroke="#e69f00" stroke-width="3.1" stroke-linecap="round"/>
<path d="M197.2 619.7h0" stroke="#56b4e9" stroke-width="3.1" stroke-linecap="round"/>
<path d="M232.6 507.4h0M186.8 586.2h0" stroke="#e69f00" stroke-width="3.1" stroke-linecap="round"/>
<path d="M207.1 616.2h0" stroke="#56b4e9" stroke-width="3.1" stroke-linecap="round"/>
<path d="M212.3 598.5h0" stroke="#e69f00" stroke-width="3.1" stroke-linecap="round"/>
<path d="M195.7 657.8h0M209.4 608.8h0" stroke="#56b4e9" stroke-width="3.1" stroke-linecap="round"/>
<path d="M188.3 610.0h0" stroke="#e69f00" stroke-width="3.1" stroke-linecap="round"/>
<path d="M193.7 636.4h0" stroke="#56b4e9" stroke-width="3.1" stroke-linecap="round"/>
<path d="M204.3 580.6h0M188.9 601.6h0M179.8 595.0h0" stroke="#e69f00" stroke-width="3.1" stroke-linecap="round"/>
<path d="M192.5 612.2h0M201.6 611.6h0M176.1 636.4h0" stroke="#56b4e9" stroke-width="3.1" stroke-linecap="round"/>
<path d="M221.6 535.0h0" stroke="#e69f00" stroke-width="3.1" stroke-linecap="round"/>
<path d="M203.4 617.0h0" stroke="#56b4e9" stroke-width="3.1" stroke-linecap="round"/>
<path d="M194.0 634.1h0" stroke="#e69f00" stroke-width="3.1" stroke-linecap="round"/>
<path d="M205.9 618.1h0M194.2 613.6h0" stroke="#56b4e9" stroke-width="3.1" stroke-linecap="round"/>
<path d="M190.8 617.4h0" stroke="#e69f00" stroke-width="3.1" stroke-linecap="round"/>
<path d="M212.8 615.3h0M68.8 557.0h0M192.5 611.3h0" stroke="#56b4e9" stroke-width="3.1" stroke-linecap="round"/>
<path d="M193.3 636.4h0M76.4 518.3h0" stroke="#e69f00" stroke-width="3.1" stroke-linecap="round"/>
<path d="M199.7 619.0h0M178.3 608.5h0M216.8 611.3h0M193.5 628.7h0M202.1 552.7h0" stroke="#56b4e9" stroke-width="3.1" stroke-linecap="round"/>
<path d="M223.8 567.9h0" stroke="#e69f00" stroke-width="3.1" stroke-linecap="round"/>
<path d="M188.9 645.5h0" stroke="#56b4e9" stroke-width="3.1" stroke-linecap="round"/>
<path d="M205.2 605.7h0" stroke="#e69f00" stroke-width="3.1" stroke-linecap="round"/>
<path d="M203.7 617.6h0M191.5 610.5h0" stroke="#56b4e9" stroke-width="3.1" stroke-linecap="round"/>
<path d="M173.5 621.7h0M223.2 568.6h0M215.0 582.7h0" stroke="#e69f00" stroke-width="3.1" stroke-linecap="round"/>
<path d="M205.6 590.5h0M202.0 563.5h0" stroke="#56b4e9" stroke-width="3.1" stroke-linecap="round"/>
<path d="M181.3 633.3h0M217.8 542.2h0M219.2 536.1h0M188.1 535.1h0" stroke="#e69f00" stroke-width="3.1" stroke-linecap="round"/>
<path d="M172.4 631.9h0M197.9 626.2h0M192.6 622.3h0M212.6 584.6h0M204.9 622.5h0" stroke="#56b4e9" stroke-width="3.1" stroke-linecap="round"/>
<path d="M164.7 516.7h0M183.0 603.2h0M224.1 523.5h0M188.2 627.5h0M189.0 552.4h0" stroke="#e69f00" stroke-width="3.1" stroke-linecap="round"/>
<path d="M202.2 590.3h0" stroke="#56b4e9" stroke-width="3.1" stroke-linecap="round"/>
<path d="M224.8 550.0h0M244.2 537.9h0M206.0 544.4h0M201.8 571.8h0" stroke="#e69f00" stroke-width="3.1" stroke-linecap="round"/>
<path d="M195.1 597.0h0" stroke="#56b4e9" stroke-width="3.1" stroke-linecap="round"/>
<path d="M218.8 548.8h0M184.3 600.1h0" stroke="#e69f00" stroke-width="3.1" stroke-linecap="round"/>
<path d="M195.1 617.9h0M194.5 597.8h0M197.4 601.9h0" stroke="#56b4e9" stroke-width="3.1" stroke-linecap="round"/>
<path d="M225.6 506.5h0" stroke="#e69f00" stroke-width="3.1" stroke-linecap="round"/>
<path d="M187.6 619.6h0M220.0 533.1h0M194.8 626.1h0M199.5 636.8h0M190.0 622.7h0" stroke="#56b4e9" stroke-width="3.1" stroke-linecap="round"/>
<path d="M190.9 629.9h0" stroke="#e69f00" stroke-width="3.1" stroke-linecap="round"/>
<path d="M192.2 615.4h0" stroke="#56b4e9" stroke-width="3.1" stroke-linecap="round"/>
<path d="M208.4 629.9h0M193.4 558.2h0" stroke="#e69f00" stroke-width="3.1" stroke-linecap="round"/>
<path d="M208.3 613.6h0" stroke="#56b4e9" stroke-width="3.1" stroke-linecap="round"/>
<path d="M205.6 544.8h0" stroke="#e69f00" stroke-width="3.1" stroke-linecap="round"/>
<path d="M196.8 636.0h0M196.1 617.7h0" stroke="#56b4e9" stroke-width="3.1" stroke-linecap="round"/>
<path d="M222.1 589.7h0" stroke="#e69f00" stroke-width="3.1" stroke-linecap="round"/>
<path d="M185.4 629.2h0M189.8 624.8h0" stroke="#56b4e9" stroke-width="3.1" stroke-linecap="round"/>
<path d="M240.8 521.7h0M194.8 628.0h0" stroke="#e69f00" stroke-width="3.1" stroke-linecap="round"/>
<path d="M193.2 613.5h0" stroke="#56b4e9" stroke-width="3.1" stroke-linecap="round"/>
<path d="M200.4 527.8h0M210.6 525.9h0" stroke="#e69f00" stroke-width="3.1" stroke-linecap="round"/>
<path d="M105.4 638.6h0" stroke="#56b4e9" stroke-width="3.1" stroke-linecap="round"/>
<path d="M216.2 538.3h0" stroke="#e69f00" stroke-width="3.1" stroke-linecap="round"/>
<path d="M209.3 601.3h0" stroke="#56b4e9" stroke-width="3.1" stroke-linecap="round"/>
<path d="M202.6 537.1h0M235.7 505.4h0M238.9 527.4h0" stroke="#e69f00" stroke-width="3.1" stroke-linecap="round"/>
<path d="M178.3 609.9h0" stroke="#56b4e9" stroke-width="3.1" stroke-linecap="round"/>
<path d="M199.2 600.4h0M174.2 605.7h0" stroke="#e69f00" stroke-width="3.1" stroke-linecap="round"/>
<path d="M192.9 596.9h0" stroke="#56b4e9" stroke-width="3.1" stroke-linecap="round"/>
<path d="M200.0 597.8h0" stroke="#e69f00" stroke-width="3.1" stroke-linecap="round"/>
<path d="M191.5 629.4h0" stroke="#56b4e9" stroke-width="3.1" stroke-linecap="round"/>
<path d="M168.7 635.4h0M217.0 578.6h0M209.3 599.8h0" stroke="#e69f00" stroke-width="3.1" stroke-linecap="round"/>
<path d="M188.8 610.6h0M172.5 627.4h0" stroke="#56b4e9" stroke-width="3.1" stroke-linecap="round"/>
<path d="M173.7 605.7h0" stroke="#e69f00" stroke-width="3.1" stroke-linecap="round"/>
<path d="M194.0 619.0h0" stroke="#56b4e9" stroke-width="3.1" stroke-linecap="round"/>
<path d="M176.1 545.8h0M234.1 515.8h0" stroke="#e69f00" stroke-width="3.1" stroke-linecap="round"/>
<path d="M176.7 625.2h0" stroke="#56b4e9" stroke-width="3.1" stroke-linecap="round"/>
<path d="M197.0 620.9h0M196.7 583.6h0" stroke="#e69f00" stroke-width="3.1" stroke-linecap="round"/>
<path d="M189.5 613.6h0" stroke="#56b4e9" stroke-width="3.1" stroke-linecap="round"/>
<path d="M216.6 548.2h0M219.5 518.5h0M215.8 543.9h0M200.2 549.0h0" stroke="#e69f00" stroke-width="3.1" stroke-linecap="round"/>
<path d="M180.1 618.1h0M181.4 611.9h0M186.5 612.2h0" stroke="#56b4e9" stroke-width="3.1" stroke-linecap="round"/>
<path d="M218.7 529.2h0M210.6 602.3h0M225.8 544.8h0" stroke="#e69f00" stroke-width="3.1" stroke-linecap="round"/>
<path d="M206.3 584.1h0M190.4 615.3h0M187.9 619.7h0M177.5 615.2h0M188.9 626.8h0M198.6 609.6h0M191.7 626.4h0" stroke="#56b4e9" stroke-width="3.1" stroke-linecap="round"/>
<path d="M222.7 541.9h0" stroke="#e69f00" stroke-width="3.1" stroke-linecap="round"/>
<path d="M194.9 622.5h0" stroke="#56b4e9" stroke-width="3.1" stroke-linecap="round"/>
<path d="M222.3 556.2h0" stroke="#e69f00" stroke-width="3.1" stroke-linecap="round"/>
<path d="M190.2 613.3h0M173.5 641.1h0M196.4 621.2h0M200.9 608.6h0" stroke="#56b4e9" stroke-width="3.1" stroke-linecap="round"/>
<path d="M210.6 612.9h0M191.7 574.7h0M216.8 530.2h0M191.6 619.4h0M210.1 542.3h0M202.4 602.7h0" stroke="#e69f00" stroke-width="3.1" stroke-linecap="round"/>
<path d="M201.3 625.8h0" stroke="#56b4e9" stroke-width="3.1" stroke-linecap="round"/>
<path d="M205.2 580.5h0M190.6 593.5h0" stroke="#e69f00" stroke-width="3.1" stroke-linecap="round"/>
<path d="M178.2 634.4h0" stroke="#56b4e9" stroke-width="3.1" stroke-linecap="round"/>
<path d="M198.1 628.2h0M192.1 612.4h0M209.1 552.5h0" stroke="#e69f00" stroke-width="3.1" stroke-linecap="round"/>
<path d="M179.8 631.0h0M188.5 602.6h0" stroke="#56b4e9" stroke-width="3.1" stroke-linecap="round"/>
<path d="M206.5 563.3h0" stroke="#e69f00" stroke-width="3.1" stroke-linecap="round"/>
<path d="M178.3 631.4h0" stroke="#56b4e9" stroke-width="3.1" stroke-linecap="round"/>
<path d="M219.4 526.2h0M219.4 606.8h0M201.4 576.2h0" stroke="#e69f00" stroke-width="3.1" stroke-linecap="round"/>
<path d="M218.3 576.1h0M199.5 614.4h0M187.7 637.4h0M199.5 633.9h0M179.0 613.2h0" stroke="#56b4e9" stroke-width="3.1" stroke-linecap="round"/>
<path d="M217.5 558.8h0M153.4 588.5h0" stroke="#e69f00" stroke-width="3.1" stroke-linecap="round"/>
<path d="M154.6 673.2h0M167.3 628.2h0" stroke="#56b4e9" stroke-width="3.1" stroke-linecap="round"/>
<path d="M222.6 518.0h0" stroke="#e69f00" stroke-width="3.1" stroke-linecap="round"/>
<path d="M192.2 612.2h0" stroke="#56b4e9" stroke-width="3.1" stroke-linecap="round"/>
<path d="M199.1 536.9h0M220.1 529.1h0M222.1 563.0h0" stroke="#e69f00" stroke-width="3.1" stroke-linecap="round"/>
<path d="M203.5 600.5h0M209.9 613.0h0M221.9 576.6h0" stroke="#56b4e9" stroke-width="3.1" stroke-linecap="round"/>
<path d="M212.6 525.4h0" stroke="#e69f00" stroke-width="3.1" stroke-linecap="round"/>
<path d="M169.3 637.2h0" stroke="#56b4e9" stroke-width="3.1" stroke-linecap="round"/>
<path d="M183.6 605.8h0" stroke="#e69f00" stroke-width="3.1" stroke-linecap="round"/>
<path d="M193.2 612.5h0" stroke="#56b4e9" stroke-width="3.1" stroke-linecap="round"/>
<path d="M220.1 515.8h0" stroke="#e69f00" stroke-width="3.1" stroke-linecap="round"/>
<path d="M194.3 621.7h0" stroke="#56b4e9" stroke-width="3.1" stroke-linecap="round"/>
<path d="M195.2 602.2h0M220.0 518.9h0M172.5 578.3h0" stroke="#e69f00" stroke-width="3.1" stroke-linecap="round"/>
<path d="M201.5 625.2h0M188.8 623.9h0M190.8 615.4h0M238.0 513.2h0M223.7 513.9h0M203.9 621.3h0M213.8 614.7h0M213.9 614.9h0" stroke="#56b4e9" stroke-width="3.1" stroke-linecap="round"/>
<path d="M216.3 554.8h0M207.7 532.4h0M189.4 554.8h0M198.0 530.6h0" stroke="#e69f00" stroke-width="3.1" stroke-linecap="round"/>
<path d="M194.8 605.6h0M179.4 625.3h0" stroke="#56b4e9" stroke-width="3.1" stroke-linecap="round"/>
<path d="M205.5 566.7h0" stroke="#e69f00" stroke-width="3.1" stroke-linecap="round"/>
<path d="M190.4 587.0h0M227.8 505.4h0" stroke="#56b4e9" stroke-width="3.1" stroke-linecap="round"/>
<path d="M244.5 497.1h0M209.9 552.5h0" stroke="#e69f00" stroke-width="3.1" stroke-linecap="round"/>
<path d="M189.9 633.0h0M203.5 598.0h0M189.5 628.0h0" stroke="#56b4e9" stroke-width="3.1" stroke-linecap="round"/>
<path d="M217.4 512.9h0M200.0 581.5h0M200.6 548.4h0M194.6 578.4h0" stroke="#e69f00" stroke-width="3.1" stroke-linecap="round"/>
<path d="M193.6 638.0h0" stroke="#56b4e9" stroke-width="3.1" stroke-linecap="round"/>
<path d="M213.9 537.6h0M199.9 584.6h0" stroke="#e69f00" stroke-width="3.1" stroke-linecap="round"/>
<path d="M193.8 629.9h0M178.0 629.0h0M200.8 534.2h0M162.4 635.1h0M187.0 622.3h0M178.9 596.8h0" stroke="#56b4e9" stroke-width="3.1" stroke-linecap="round"/>
<path d="M222.6 543.8h0M204.8 528.1h0" stroke="#e69f00" stroke-width="3.1" stroke-linecap="round"/>
<path d="M202.8 608.7h0M179.3 627.5h0M177.4 634.7h0" stroke="#56b4e9" stroke-width="3.1" stroke-linecap="round"/>
<path d="M215.2 556.6h0" stroke="#e69f00" stroke-width="3.1" stroke-linecap="round"/>
<path d="M199.5 567.7h0M196.8 617.1h0M190.8 620.3h0M215.5 548.6h0" stroke="#56b4e9" stroke-width="3.1" stroke-linecap="round"/>
<path d="M213.8 536.5h0" stroke="#e69f00" stroke-width="3.1" stroke-linecap="round"/>
<path d="M187.7 607.9h0" stroke="#56b4e9" stroke-width="3.1" stroke-linecap="round"/>
<path d="M215.3 516.1h0" stroke="#e69f00" stroke-width="3.1" stroke-linecap="round"/>
<path d="M203.3 615.1h0M207.5 629.7h0M192.3 636.3h0M208.5 626.5h0M176.7 589.2h0M172.3 636.5h0M198.8 618.1h0M201.3 556.4h0M232.2 517.3h0M157.9 605.3h0" stroke="#56b4e9" stroke-width="3.1" stroke-linecap="round"/>
<path d="M236.7 523.2h0M229.2 524.3h0" stroke="#e69f00" stroke-width="3.1" stroke-linecap="round"/>
<path d="M187.3 620.3h0" stroke="#56b4e9" stroke-width="3.1" stroke-linecap="round"/>
<path d="M197.2 563.8h0" stroke="#e69f00" stroke-width="3.1" stroke-linecap="round"/>
<path d="M177.4 614.6h0M210.8 613.1h0M189.0 616.3h0M201.9 605.6h0M216.5 640.0h0M210.5 601.4h0M203.0 590.5h0" stroke="#56b4e9" stroke-width="3.1" stroke-linecap="round"/>
<path d="M194.8 557.0h0" stroke="#e69f00" stroke-width="3.1" stroke-linecap="round"/>
<path d="M197.0 637.8h0M195.5 617.0h0M201.3 616.1h0" stroke="#56b4e9" stroke-width="3.1" stroke-linecap="round"/>
<path d="M224.6 525.0h0" stroke="#e69f00" stroke-width="3.1" stroke-linecap="round"/>
<path d="M192.2 631.7h0" stroke="#56b4e9" stroke-width="3.1" stroke-linecap="round"/>
<path d="M234.3 513.3h0" stroke="#e69f00" stroke-width="3.1" stroke-linecap="round"/>
<path d="M185.6 619.1h0M209.5 611.2h0M204.6 566.3h0" stroke="#56b4e9" stroke-width="3.1" stroke-linecap="round"/>
<path d="M212.4 572.4h0" stroke="#e69f00" stroke-width="3.1" stroke-linecap="round"/>
<path d="M177.2 620.5h0" stroke="#56b4e9" stroke-width="3.1" stroke-linecap="round"/>
<path d="M241.1 518.2h0" stroke="#e69f00" stroke-width="3.1" stroke-linecap="round"/>
<path d="M186.6 614.4h0M218.6 539.6h0M190.7 624.8h0M187.4 552.1h0M186.8 642.3h0" stroke="#56b4e9" stroke-width="3.1" stroke-linecap="round"/>
<path d="M218.4 537.1h0" stroke="#e69f00" stroke-width="3.1" stroke-linecap="round"/>
<path d="M213.3 511.4h0" stroke="#56b4e9" stroke-width="3.1" stroke-linecap="round"/>
<path d="M215.4 549.2h0" stroke="#e69f00" stroke-width="3.1" stroke-linecap="round"/>
<path d="M199.1 623.5h0M202.6 622.5h0M203.7 554.7h0" stroke="#56b4e9" stroke-width="3.1" stroke-linecap="round"/>
<path d="M224.7 493.9h0" stroke="#e69f00" stroke-width="3.1" stroke-linecap="round"/>
<path d="M189.9 573.4h0M194.8 625.3h0" stroke="#56b4e9" stroke-width="3.1" stroke-linecap="round"/>
<path d="M158.4 536.9h0" stroke="#e69f00" stroke-width="3.1" stroke-linecap="round"/>
<path d="M204.0 606.8h0M192.1 617.3h0M180.7 633.3h0" stroke="#56b4e9" stroke-width="3.1" stroke-linecap="round"/>
<path d="M220.8 512.5h0" stroke="#e69f00" stroke-width="3.1" stroke-linecap="round"/>
<path d="M206.0 614.1h0M211.1 615.6h0" stroke="#56b4e9" stroke-width="3.1" stroke-linecap="round"/>
<path d="M188.2 582.8h0M203.9 516.8h0" stroke="#e69f00" stroke-width="3.1" stroke-linecap="round"/>
<path d="M193.7 634.1h0M189.9 613.2h0" stroke="#56b4e9" stroke-width="3.1" stroke-linecap="round"/>
<path d="M200.4 539.0h0" stroke="#e69f00" stroke-width="3.1" stroke-linecap="round"/>
<path d="M196.4 621.3h0" stroke="#56b4e9" stroke-width="3.1" stroke-linecap="round"/>
<path d="M243.7 525.8h0M214.4 567.4h0M237.5 516.7h0M217.8 560.3h0" stroke="#e69f00" stroke-width="3.1" stroke-linecap="round"/>
<path d="M179.4 584.6h0M193.4 592.6h0M195.7 617.7h0" stroke="#56b4e9" stroke-width="3.1" stroke-linecap="round"/>
<path d="M223.8 509.6h0M201.7 558.7h0M217.8 539.2h0" stroke="#e69f00" stroke-width="3.1" stroke-linecap="round"/>
<path d="M206.2 618.0h0M188.4 633.6h0M231.0 601.0h0" stroke="#56b4e9" stroke-width="3.1" stroke-linecap="round"/>
<path d="M208.5 541.8h0" stroke="#e69f00" stroke-width="3.1" stroke-linecap="round"/>
<path d="M191.3 598.0h0" stroke="#56b4e9" stroke-width="3.1" stroke-linecap="round"/>
<path d="M200.8 540.6h0" stroke="#e69f00" stroke-width="3.1" stroke-linecap="round"/>
<path d="M185.2 637.0h0" stroke="#56b4e9" stroke-width="3.1" stroke-linecap="round"/>
<path d="M222.5 536.9h0" stroke="#e69f00" stroke-width="3.1" stroke-linecap="round"/>
<path d="M187.6 619.9h0M221.1 617.9h0M217.5 597.7h0M195.9 610.1h0M196.8 618.6h0M200.6 600.9h0M211.8 611.7h0M173.1 609.0h0M209.2 538.6h0" stroke="#56b4e9" stroke-width="3.1" stroke-linecap="round"/>
<path d="M206.0 552.4h0" stroke="#e69f00" stroke-width="3.1" stroke-linecap="round"/>
<path d="M184.0 631.9h0" stroke="#56b4e9" stroke-width="3.1" stroke-linecap="round"/>
<path d="M195.3 551.6h0" stroke="#e69f00" stroke-width="3.1" stroke-linecap="round"/>
<path d="M184.9 576.8h0" stroke="#56b4e9" stroke-width="3.1" stroke-linecap="round"/>
<path d="M195.0 560.6h0M205.4 520.0h0" stroke="#e69f00" stroke-width="3.1" stroke-linecap="round"/>
<path d="M196.8 607.5h0" stroke="#56b4e9" stroke-width="3.1" stroke-linecap="round"/>
<path d="M213.4 556.6h0" stroke="#e69f00" stroke-width="3.1" stroke-linecap="round"/>
<path d="M188.8 606.1h0" stroke="#56b4e9" stroke-width="3.1" stroke-linecap="round"/>
<path d="M220.6 522.6h0" stroke="#e69f00" stroke-width="3.1" stroke-linecap="round"/>
<path d="M213.5 596.7h0" stroke="#56b4e9" stroke-width="3.1" stroke-linecap="round"/>
<path d="M218.7 543.3h0" stroke="#e69f00" stroke-width="3.1" stroke-linecap="round"/>
<path d="M190.5 632.7h0M190.7 612.4h0M204.9 615.5h0" stroke="#56b4e9" stroke-width="3.1" stroke-linecap="round"/>
<path d="M214.8 534.5h0" stroke="#e69f00" stroke-width="3.1" stroke-linecap="round"/>
<path d="M209.4 563.5h0M189.7 628.5h0" stroke="#56b4e9" stroke-width="3.1" stroke-linecap="round"/>
<path d="M209.5 551.2h0" stroke="#e69f00" stroke-width="3.1" stroke-linecap="round"/>
<path d="M212.6 617.6h0M198.5 617.9h0M192.4 609.7h0M178.1 630.9h0M200.9 616.9h0M177.8 628.7h0M191.0 620.4h0" stroke="#56b4e9" stroke-width="3.1" stroke-linecap="round"/>
<path d="M225.1 528.0h0M217.4 532.1h0" stroke="#e69f00" stroke-width="3.1" stroke-linecap="round"/>
<path d="M178.8 622.4h0M195.2 613.1h0M211.9 607.3h0" stroke="#56b4e9" stroke-width="3.1" stroke-linecap="round"/>
<path d="M199.4 563.5h0" stroke="#e69f00" stroke-width="3.1" stroke-linecap="round"/>
<path d="M185.1 617.5h0M197.4 594.4h0" stroke="#56b4e9" stroke-width="3.1" stroke-linecap="round"/>
<path d="M211.6 581.2h0" stroke="#e69f00" stroke-width="3.1" stroke-linecap="round"/>
<path d="M177.3 623.3h0M193.7 633.5h0M185.8 608.7h0M185.8 620.0h0" stroke="#56b4e9" stroke-width="3.1" stroke-linecap="round"/>
<path d="M213.5 514.3h0" stroke="#e69f00" stroke-width="3.1" stroke-linecap="round"/>
<path d="M179.3 648.3h0M192.2 602.3h0" stroke="#56b4e9" stroke-width="3.1" stroke-linecap="round"/>
<path d="M204.5 534.1h0M192.9 549.0h0M224.3 510.4h0" stroke="#e69f00" stroke-width="3.1" stroke-linecap="round"/>
<path d="M206.2 557.7h0M198.0 616.1h0M161.4 591.4h0M200.0 637.9h0M204.2 623.5h0M183.0 630.6h0" stroke="#56b4e9" stroke-width="3.1" stroke-linecap="round"/>
<path d="M194.3 578.8h0M218.0 524.6h0" stroke="#e69f00" stroke-width="3.1" stroke-linecap="round"/>
<path d="M208.9 617.3h0M201.7 616.8h0" stroke="#56b4e9" stroke-width="3.1" stroke-linecap="round"/>
<path d="M229.4 515.3h0M240.3 499.1h0" stroke="#e69f00" stroke-width="3.1" stroke-linecap="round"/>
<path d="M220.1 623.1h0M192.4 613.1h0M219.7 518.9h0M68.8 536.5h0" stroke="#56b4e9" stroke-width="3.1" stroke-linecap="round"/>
<path d="M231.3 526.6h0" stroke="#e69f00" stroke-width="3.1" stroke-linecap="round"/>
<path d="M174.8 619.6h0" stroke="#56b4e9" stroke-width="3.1" stroke-linecap="round"/>
<path d="M203.9 537.3h0" stroke="#e69f00" stroke-width="3.1" stroke-linecap="round"/>
<path d="M208.5 594.7h0M196.4 575.8h0M188.7 627.0h0M198.2 604.5h0" stroke="#56b4e9" stroke-width="3.1" stroke-linecap="round"/>
<path d="M207.9 545.4h0" stroke="#e69f00" stroke-width="3.1" stroke-linecap="round"/>
<path d="M174.2 626.6h0" stroke="#56b4e9" stroke-width="3.1" stroke-linecap="round"/>
<path d="M191.9 543.4h0" stroke="#e69f00" stroke-width="3.1" stroke-linecap="round"/>
<path d="M164.2 611.4h0M187.3 607.1h0" stroke="#56b4e9" stroke-width="3.1" stroke-linecap="round"/>
<path d="M194.4 556.1h0" stroke="#e69f00" stroke-width="3.1" stroke-linecap="round"/>
<path d="M145.8 676.5h0M199.9 611.7h0M216.7 625.0h0" stroke="#56b4e9" stroke-width="3.1" stroke-linecap="round"/>
<path d="M228.2 513.6h0M219.1 527.3h0M177.9 558.1h0M229.6 550.0h0" stroke="#e69f00" stroke-width="3.1" stroke-linecap="round"/>
<path d="M186.3 624.6h0" stroke="#56b4e9" stroke-width="3.1" stroke-linecap="round"/>
<path d="M180.7 565.8h0M219.1 509.9h0" stroke="#e69f00" stroke-width="3.1" stroke-linecap="round"/>
<path d="M182.7 613.0h0" stroke="#56b4e9" stroke-width="3.1" stroke-linecap="round"/>
<path d="M208.6 555.1h0" stroke="#e69f00" stroke-width="3.1" stroke-linecap="round"/>
<path d="M199.6 618.7h0M200.4 634.4h0M192.7 621.2h0" stroke="#56b4e9" stroke-width="3.1" stroke-linecap="round"/>
<path d="M197.8 572.1h0" stroke="#e69f00" stroke-width="3.1" stroke-linecap="round"/>
<path d="M191.9 618.7h0M190.0 630.2h0M188.4 601.4h0" stroke="#56b4e9" stroke-width="3.1" stroke-linecap="round"/>
<path d="M76.4 537.3h0" stroke="#e69f00" stroke-width="3.1" stroke-linecap="round"/>
<path d="M201.1 623.7h0M193.6 624.4h0" stroke="#56b4e9" stroke-width="3.1" stroke-linecap="round"/>
<path d="M224.5 559.7h0" stroke="#e69f00" stroke-width="3.1" stroke-linecap="round"/>
<path d="M180.3 619.3h0" stroke="#56b4e9" stroke-width="3.1" stroke-linecap="round"/>
<path d="M205.4 543.8h0M200.3 565.0h0M207.3 552.8h0M237.3 499.9h0" stroke="#e69f00" stroke-width="3.1" stroke-linecap="round"/>
<path d="M183.0 625.2h0M203.4 618.0h0M188.8 597.2h0" stroke="#56b4e9" stroke-width="3.1" stroke-linecap="round"/>
<path d="M201.1 581.4h0M210.4 570.8h0M84.0 556.2h0" stroke="#e69f00" stroke-width="3.1" stroke-linecap="round"/>
<path d="M188.7 617.5h0M181.0 617.7h0M187.1 631.9h0" stroke="#56b4e9" stroke-width="3.1" stroke-linecap="round"/>
<path d="M222.1 522.7h0M197.9 554.3h0" stroke="#e69f00" stroke-width="3.1" stroke-linecap="round"/>
<path d="M194.0 626.3h0M224.6 507.8h0" stroke="#56b4e9" stroke-width="3.1" stroke-linecap="round"/>
<path d="M215.8 550.6h0" stroke="#e69f00" stroke-width="3.1" stroke-linecap="round"/>
<path d="M185.9 605.3h0" stroke="#56b4e9" stroke-width="3.1" stroke-linecap="round"/>
<path d="M216.2 513.0h0" stroke="#e69f00" stroke-width="3.1" stroke-linecap="round"/>
<path d="M201.9 584.9h0" stroke="#56b4e9" stroke-width="3.1" stroke-linecap="round"/>
<path d="M194.3 577.3h0M235.2 515.9h0M232.0 522.3h0" stroke="#e69f00" stroke-width="3.1" stroke-linecap="round"/>
<path d="M202.0 595.0h0M205.5 627.8h0M180.8 602.4h0" stroke="#56b4e9" stroke-width="3.1" stroke-linecap="round"/>
<path d="M225.2 514.4h0" stroke="#e69f00" stroke-width="3.1" stroke-linecap="round"/>
<path d="M189.4 618.3h0M192.2 616.6h0M211.2 593.6h0" stroke="#56b4e9" stroke-width="3.1" stroke-linecap="round"/>
<path d="M239.7 528.6h0M216.9 521.2h0" stroke="#e69f00" stroke-width="3.1" stroke-linecap="round"/>
<path d="M205.6 621.3h0M185.7 618.9h0M195.7 618.8h0" stroke="#56b4e9" stroke-width="3.1" stroke-linecap="round"/>
<path d="M219.4 542.5h0" stroke="#e69f00" stroke-width="3.1" stroke-linecap="round"/>
<path d="M212.2 611.3h0" stroke="#56b4e9" stroke-width="3.1" stroke-linecap="round"/>
<path d="M186.6 580.7h0" stroke="#e69f00" stroke-width="3.1" stroke-linecap="round"/>
<path d="M184.6 603.1h0M187.4 634.0h0" stroke="#56b4e9" stroke-width="3.1" stroke-linecap="round"/>
<path d="M234.7 584.4h0" stroke="#e69f00" stroke-width="3.1" stroke-linecap="round"/>
<path d="M184.6 615.9h0M195.5 617.4h0M197.1 626.4h0" stroke="#56b4e9" stroke-width="3.1" stroke-linecap="round"/>
<path d="M227.0 517.8h0M205.5 576.5h0" stroke="#e69f00" stroke-width="3.1" stroke-linecap="round"/>
<path d="M182.3 624.1h0M212.2 633.8h0" stroke="#56b4e9" stroke-width="3.1" stroke-linecap="round"/>
<path d="M238.1 516.1h0M194.8 582.2h0M228.4 542.7h0M211.8 544.9h0" stroke="#e69f00" stroke-width="3.1" stroke-linecap="round"/>
<path d="M197.0 633.1h0M187.5 619.0h0M201.4 633.3h0M206.6 611.6h0M204.8 606.8h0" stroke="#56b4e9" stroke-width="3.1" stroke-linecap="round"/>
<path d="M200.7 547.3h0" stroke="#e69f00" stroke-width="3.1" stroke-linecap="round"/>
<path d="M190.4 611.6h0M201.3 595.5h0M196.3 623.4h0M212.3 622.8h0M176.7 631.4h0M193.0 591.1h0M200.9 613.4h0M174.9 625.7h0M175.0 625.5h0M187.0 609.9h0M178.2 588.0h0M200.5 619.5h0M217.4 593.3h0M196.6 635.8h0M182.5 629.8h0M177.2 630.5h0M199.1 616.4h0M201.0 621.2h0M194.3 623.8h0M190.1 621.2h0M190.8 594.2h0M188.7 635.4h0M207.1 630.7h0M226.5 606.0h0M177.8 628.8h0M194.9 620.0h0M175.8 617.0h0M196.8 623.1h0M182.6 616.2h0M181.8 633.9h0M207.6 630.5h0M179.7 607.5h0M191.1 610.2h0M166.2 587.4h0M186.4 610.2h0M209.6 619.2h0M186.4 622.8h0M183.7 618.6h0M195.0 631.1h0M174.3 616.5h0M189.0 604.2h0M198.8 607.4h0M160.3 661.0h0M202.6 606.3h0M205.0 592.3h0M191.8 612.7h0M196.9 633.2h0M190.8 613.3h0M208.7 602.4h0M192.4 623.0h0M180.0 623.3h0M195.9 614.8h0M204.5 617.1h0M199.3 633.6h0M194.1 626.3h0M187.6 624.5h0M179.0 618.0h0M184.0 619.9h0M172.0 620.0h0M192.3 618.6h0M172.8 625.6h0M184.2 631.1h0M195.2 636.7h0M199.1 622.7h0M192.4 617.8h0M188.0 626.7h0M179.7 627.3h0M200.7 621.6h0M183.6 602.3h0M207.2 614.6h0M182.1 631.2h0M195.6 610.6h0M199.4 594.7h0M185.5 641.2h0M174.4 614.1h0M211.6 596.2h0M204.7 601.5h0M196.9 628.5h0M184.6 627.1h0M191.3 635.5h0M197.0 603.9h0M182.8 619.4h0M190.6 615.0h0M209.0 603.5h0M173.8 618.4h0M195.8 604.9h0M183.8 625.5h0M190.4 619.9h0M193.1 629.2h0M194.0 596.4h0M193.1 626.6h0M206.4 616.5h0M198.7 627.6h0M200.2 635.6h0M166.6 625.2h0M179.4 655.0h0M201.4 628.4h0M187.1 631.2h0M190.5 617.7h0M174.2 637.7h0M159.4 601.9h0M189.2 620.2h0M215.6 592.3h0M202.0 612.0h0M198.4 614.5h0M196.7 623.6h0M203.0 618.7h0M196.5 618.4h0M176.8 634.6h0M168.4 609.2h0M192.7 603.0h0M206.6 613.9h0M178.6 637.1h0M221.5 619.5h0M214.6 589.5h0M194.4 615.8h0M170.6 614.6h0M194.6 602.8h0M208.3 621.5h0M211.7 601.0h0M197.2 606.0h0M194.6 612.8h0M178.2 616.2h0M198.1 620.5h0M172.2 592.0h0M176.0 623.5h0M193.5 622.5h0M190.8 607.4h0M202.0 604.3h0M201.8 607.0h0M193.5 624.2h0M189.6 594.5h0M181.9 620.9h0M181.9 614.3h0M188.8 621.8h0M193.2 624.8h0M173.2 625.7h0M180.0 637.7h0M169.9 628.2h0M174.6 591.0h0M192.8 620.4h0M185.2 611.1h0M206.9 603.2h0M195.5 625.3h0M205.6 587.9h0M197.6 586.4h0M192.0 620.6h0M197.9 617.7h0M182.3 610.1h0M197.0 617.3h0M189.8 626.9h0M201.2 622.0h0M178.8 623.8h0M185.0 617.8h0M196.4 615.4h0M193.3 614.7h0M201.1 618.7h0M190.4 624.2h0M202.0 610.0h0" stroke="#56b4e9" stroke-width="3.1" stroke-linecap="round"/>
<circle cx="186.97" cy="504.72" r="1.7" fill="#000"/>
<circle cx="177.49" cy="517.94" r="1.7" fill="#000"/>
<circle cx="243.60" cy="494.95" r="1.7" fill="#000"/>
<circle cx="243.60" cy="501.27" r="1.7" fill="#000"/>
<circle cx="220.03" cy="502.71" r="1.7" fill="#000"/>
<circle cx="230.66" cy="507.88" r="1.7" fill="#000"/>
<circle cx="226.93" cy="513.92" r="1.7" fill="#000"/>
<circle cx="237.28" cy="512.19" r="1.7" fill="#000"/>
<circle cx="206.81" cy="521.97" r="1.7" fill="#000"/>
<circle cx="217.73" cy="523.12" r="1.7" fill="#000"/>
<circle cx="232.68" cy="525.13" r="1.7" fill="#000"/>
<circle cx="215.72" cy="531.74" r="1.7" fill="#000"/>
<circle cx="219.17" cy="533.75" r="1.7" fill="#000"/>
<circle cx="223.48" cy="531.16" r="1.7" fill="#000"/>
<circle cx="226.93" cy="534.61" r="1.7" fill="#000"/>
<circle cx="215.72" cy="541.80" r="1.7" fill="#000"/>
<circle cx="226.35" cy="542.66" r="1.7" fill="#000"/>
<circle cx="234.40" cy="540.36" r="1.7" fill="#000"/>
<circle cx="165.42" cy="599.29" r="2.3" fill="#009e73" stroke="#000" stroke-width="0.8"/>
<circle cx="144.43" cy="619.98" r="2.3" fill="#009e73" stroke="#000" stroke-width="0.8"/>
<circle cx="171.16" cy="620.27" r="2.3" fill="#009e73" stroke="#000" stroke-width="0.8"/>
<circle cx="180.36" cy="617.11" r="2.3" fill="#009e73" stroke="#000" stroke-width="0.8"/>
<circle cx="195.31" cy="610.78" r="2.3" fill="#009e73" stroke="#000" stroke-width="0.8"/>
<circle cx="203.93" cy="619.98" r="2.3" fill="#009e73" stroke="#000" stroke-width="0.8"/>
<circle cx="186.69" cy="624.58" r="2.3" fill="#009e73" stroke="#000" stroke-width="0.8"/>
<circle cx="187.55" cy="626.02" r="2.3" fill="#009e73" stroke="#000" stroke-width="0.8"/>
<circle cx="195.88" cy="627.17" r="2.3" fill="#009e73" stroke="#000" stroke-width="0.8"/>
<circle cx="199.91" cy="626.59" r="2.3" fill="#009e73" stroke="#000" stroke-width="0.8"/>
<circle cx="162.54" cy="630.04" r="2.3" fill="#009e73" stroke="#000" stroke-width="0.8"/>
<circle cx="183.81" cy="632.92" r="2.3" fill="#009e73" stroke="#000" stroke-width="0.8"/>
<circle cx="199.05" cy="632.34" r="2.3" fill="#009e73" stroke="#000" stroke-width="0.8"/>
<circle cx="206.81" cy="632.34" r="2.3" fill="#009e73" stroke="#000" stroke-width="0.8"/>
<circle cx="159.38" cy="637.23" r="2.3" fill="#009e73" stroke="#000" stroke-width="0.8"/>
<circle cx="177.49" cy="646.14" r="2.3" fill="#009e73" stroke="#000" stroke-width="0.8"/>
<circle cx="168.86" cy="659.36" r="2.3" fill="#009e73" stroke="#000" stroke-width="0.8"/>
<rect x="93.6" y="473.1" width="65.4" height="41.5" fill="#fff" stroke="#000" stroke-width="0.8"/>
<circle cx="101.7" cy="480.8" r="1.5" fill="#000"/>
<text x="106.9" y="483.7" font-size="8" font-family="Liberation Sans" fill="#000" textLength="45.5" lengthAdjust="spacingAndGlyphs">0 mismatches</text>
<circle cx="101.7" cy="489.3" r="1.5" fill="#e69f00"/>
<text x="106.9" y="492.2" font-size="8" font-family="Liberation Sans" fill="#000" textLength="37.5" lengthAdjust="spacingAndGlyphs">1 mismatch</text>
<circle cx="101.7" cy="497.8" r="1.5" fill="#56b4e9"/>
<text x="106.9" y="500.7" font-size="8" font-family="Liberation Sans" fill="#000" textLength="45.5" lengthAdjust="spacingAndGlyphs">2 mismatches</text>
<circle cx="101.7" cy="506.3" r="2.2" fill="#009e73" stroke="#000" stroke-width="0.7"/>
<text x="106.9" y="509.2" font-size="8" font-family="Liberation Sans" fill="#000" textLength="40.0" lengthAdjust="spacingAndGlyphs">Not targeted</text>
<text x="262.5" y="206.1" font-size="15.9" font-family="Liberation Sans" fill="#000" textLength="16.2" lengthAdjust="spacingAndGlyphs">D)</text>
<text x="310.2" y="198.1" font-size="10.5" font-family="Liberation Sans" fill="#000" textLength="124.0" lengthAdjust="spacingAndGlyphs">sgRNAs with 1 mismatch</text>
<line x1="310.50" y1="205.20" x2="310.50" y2="407.00" stroke="#4d4d4d" stroke-width="1.2"/>
<line x1="309.90" y1="406.50" x2="685.00" y2="406.50" stroke="#4d4d4d" stroke-width="1.2"/>
<line x1="307.50" y1="259.35" x2="310.50" y2="259.35" stroke="#4d4d4d" stroke-width="1"/>
<text x="306.2" y="263.2" font-size="10.6" font-family="Liberation Sans" fill="#000" text-anchor="end">5</text>
<line x1="307.50" y1="323.30" x2="310.50" y2="323.30" stroke="#4d4d4d" stroke-width="1"/>
<text x="306.2" y="327.1" font-size="10.6" font-family="Liberation Sans" fill="#000" text-anchor="end">0</text>
<line x1="307.50" y1="387.25" x2="310.50" y2="387.25" stroke="#4d4d4d" stroke-width="1"/>
<text x="306.2" y="391.1" font-size="10.6" font-family="Liberation Sans" fill="#000" text-anchor="end">−5</text>
<line x1="321.50" y1="406.50" x2="321.50" y2="409.50" stroke="#4d4d4d" stroke-width="1"/>
<text x="321.5" y="419.0" font-size="10.6" font-family="Liberation Sans" fill="#000" text-anchor="middle">20</text>
<line x1="338.50" y1="406.50" x2="338.50" y2="409.50" stroke="#4d4d4d" stroke-width="1"/>
<text x="338.5" y="419.0" font-size="10.6" font-family="Liberation Sans" fill="#000" text-anchor="middle">19</text>
<line x1="355.50" y1="406.50" x2="355.50" y2="409.50" stroke="#4d4d4d" stroke-width="1"/>
<text x="355.5" y="419.0" font-size="10.6" font-family="Liberation Sans" fill="#000" text-anchor="middle">18</text>
<line x1="373.50" y1="406.50" x2="373.50" y2="409.50" stroke="#4d4d4d" stroke-width="1"/>
<text x="373.5" y="419.0" font-size="10.6" font-family="Liberation Sans" fill="#000" text-anchor="middle">17</text>
<line x1="390.50" y1="406.50" x2="390.50" y2="409.50" stroke="#4d4d4d" stroke-width="1"/>
<text x="390.5" y="419.0" font-size="10.6" font-family="Liberation Sans" fill="#000" text-anchor="middle">16</text>
<line x1="408.50" y1="406.50" x2="408.50" y2="409.50" stroke="#4d4d4d" stroke-width="1"/>
<text x="408.5" y="419.0" font-size="10.6" font-family="Liberation Sans" fill="#000" text-anchor="middle">15</text>
<line x1="425.50" y1="406.50" x2="425.50" y2="409.50" stroke="#4d4d4d" stroke-width="1"/>
<text x="425.5" y="419.0" font-size="10.6" font-family="Liberation Sans" fill="#000" text-anchor="middle">14</text>
<line x1="443.50" y1="406.50" x2="443.50" y2="409.50" stroke="#4d4d4d" stroke-width="1"/>
<text x="443.5" y="419.0" font-size="10.6" font-family="Liberation Sans" fill="#000" text-anchor="middle">13</text>
<line x1="460.50" y1="406.50" x2="460.50" y2="409.50" stroke="#4d4d4d" stroke-width="1"/>
<text x="460.5" y="419.0" font-size="10.6" font-family="Liberation Sans" fill="#000" text-anchor="middle">12</text>
<line x1="478.50" y1="406.50" x2="478.50" y2="409.50" stroke="#4d4d4d" stroke-width="1"/>
<text x="478.5" y="419.0" font-size="10.6" font-family="Liberation Sans" fill="#000" text-anchor="middle">11</text>
<line x1="495.50" y1="406.50" x2="495.50" y2="409.50" stroke="#4d4d4d" stroke-width="1"/>
<text x="495.5" y="419.0" font-size="10.6" font-family="Liberation Sans" fill="#000" text-anchor="middle">10</text>
<line x1="513.50" y1="406.50" x2="513.50" y2="409.50" stroke="#4d4d4d" stroke-width="1"/>
<text x="513.5" y="419.0" font-size="10.6" font-family="Liberation Sans" fill="#000" text-anchor="middle">9</text>
<line x1="530.50" y1="406.50" x2="530.50" y2="409.50" stroke="#4d4d4d" stroke-width="1"/>
<text x="530.5" y="419.0" font-size="10.6" font-family="Liberation Sans" fill="#000" text-anchor="middle">8</text>
<line x1="548.50" y1="406.50" x2="548.50" y2="409.50" stroke="#4d4d4d" stroke-width="1"/>
<text x="548.5" y="419.0" font-size="10.6" font-family="Liberation Sans" fill="#000" text-anchor="middle">7</text>
<line x1="565.50" y1="406.50" x2="565.50" y2="409.50" stroke="#4d4d4d" stroke-width="1"/>
<text x="565.5" y="419.0" font-size="10.6" font-family="Liberation Sans" fill="#000" text-anchor="middle">6</text>
<line x1="583.50" y1="406.50" x2="583.50" y2="409.50" stroke="#4d4d4d" stroke-width="1"/>
<text x="583.5" y="419.0" font-size="10.6" font-family="Liberation Sans" fill="#000" text-anchor="middle">5</text>
<line x1="600.50" y1="406.50" x2="600.50" y2="409.50" stroke="#4d4d4d" stroke-width="1"/>
<text x="600.5" y="419.0" font-size="10.6" font-family="Liberation Sans" fill="#000" text-anchor="middle">4</text>
<line x1="618.50" y1="406.50" x2="618.50" y2="409.50" stroke="#4d4d4d" stroke-width="1"/>
<text x="618.5" y="419.0" font-size="10.6" font-family="Liberation Sans" fill="#000" text-anchor="middle">3</text>
<line x1="635.50" y1="406.50" x2="635.50" y2="409.50" stroke="#4d4d4d" stroke-width="1"/>
<text x="635.5" y="419.0" font-size="10.6" font-family="Liberation Sans" fill="#000" text-anchor="middle">2</text>
<line x1="653.50" y1="406.50" x2="653.50" y2="409.50" stroke="#4d4d4d" stroke-width="1"/>
<text x="653.5" y="419.0" font-size="10.6" font-family="Liberation Sans" fill="#000" text-anchor="middle">1</text>
<text x="499.7" y="442.6" font-size="12.2" font-family="Liberation Sans" fill="#000" text-anchor="middle" textLength="163.0" lengthAdjust="spacingAndGlyphs">Position of mismatch in sgRNA</text>
<text x="287.2" y="307.4" font-size="12.2" font-family="Liberation Sans" fill="#000" text-anchor="middle" textLength="147.8" lengthAdjust="spacingAndGlyphs" transform="rotate(-90 287.2 307.4)">Normalized sgRNA Activity</text>
<rect x="321.5" y="240.2" width="14.5" height="92.7" fill="rgba(230,159,0,0.075)"/>
<path d="M321.5,214.1L321.5,214.1L321.6,215.3L321.6,216.4L321.7,217.6L321.7,218.7L321.8,219.9L321.8,221.0L321.9,222.2L322.1,223.3L322.2,224.5L322.4,225.6L322.6,226.8L322.9,228.0L323.2,229.1L323.5,230.3L324.0,231.4L324.5,232.6L325.0,233.7L325.7,234.9L326.4,236.0L327.2,237.2L328.1,238.3L329.0,239.5L330.1,240.7L331.2,241.8L332.4,243.0L333.7,244.1L335.0,245.3L336.4,246.4L337.7,247.6L339.1,248.7L340.5,249.9L341.8,251.1L343.0,252.2L344.2,253.4L345.2,254.5L346.2,255.7L347.0,256.8L347.7,258.0L348.2,259.1L348.5,260.3L348.7,261.4L348.7,262.6L348.5,263.8L348.2,264.9L347.7,266.1L347.1,267.2L346.4,268.4L345.6,269.5L344.7,270.7L343.7,271.8L342.7,273.0L341.6,274.1L340.5,275.3L339.4,276.5L338.3,277.6L337.2,278.8L336.1,279.9L335.1,281.1L334.1,282.2L333.2,283.4L332.3,284.5L331.4,285.7L330.6,286.8L329.8,288.0L329.1,289.2L328.4,290.3L327.8,291.5L327.2,292.6L326.6,293.8L326.1,294.9L325.6,296.1L325.2,297.2L324.8,298.4L324.4,299.5L324.0,300.7L323.7,301.9L323.5,303.0L323.2,304.2L323.0,305.3L322.8,306.5L322.6,307.6L322.5,308.8L322.4,309.9L322.3,311.1L322.3,312.3L322.2,313.4L322.3,314.6L322.3,315.7L322.3,316.9L322.4,318.0L322.5,319.2L322.5,320.3L322.6,321.5L322.6,322.6L322.6,323.8L322.5,325.0L322.4,326.1L322.4,327.3L322.2,328.4L322.1,329.6L322.0,330.7L321.9,331.9L321.8,333.0L321.7,334.2L321.7,335.3L321.6,336.5L321.6,337.7L321.5,338.8L321.5,340.0L321.5,341.1L321.5,342.3L321.5,343.4L321.5,344.6L321.5,345.7L321.5,346.9L321.5,348.0L321.5,349.2L321.5,350.4L321.5,351.5L321.5,352.7L321.5,353.8L321.5,355.0L321.5,356.1L321.5,357.3L321.5,358.4L321.5,359.6L321.5,360.7L321.5,361.9L321.5,363.1L321.5,364.2L321.5,365.4L321.5,366.5L321.5,367.7L321.5,368.8L321.5,370.0L321.5,371.1L321.5,372.3L321.5,373.5L321.5,374.6L321.5,375.8L321.5,376.9L321.5,378.1L321.5,379.2L321.5,380.4L321.5,381.5L321.5,382.7L321.5,383.8L321.5,385.0L321.5,386.2L321.5,387.3L321.5,388.5L321.5,389.6L321.5,390.8L321.5,391.9L321.5,393.1L321.5,394.2L321.5,395.4L321.5,396.5L321.5,397.7L321.5,397.7Z" fill="rgba(230,159,0,0.06)" stroke="none" stroke-width="1"/>
<path d="M325.1 274.4h0M322.7 304.0h0M324.5 286.1h0M333.1 255.4h0M332.7 259.1h0M331.5 298.6h0M329.1 240.2h0M333.0 290.3h0M329.8 287.8h0M327.3 265.5h0M324.5 258.9h0M327.2 258.4h0M329.7 257.4h0M330.2 265.0h0M324.5 268.6h0M325.5 270.6h0M323.8 330.6h0M325.2 287.4h0M326.2 274.4h0M330.5 330.0h0M332.7 254.1h0M333.4 252.7h0M324.4 274.2h0M333.6 243.8h0M324.8 244.2h0M330.3 268.8h0M327.1 266.1h0M325.5 308.7h0M333.0 273.6h0M329.2 268.3h0M331.6 267.0h0M327.1 256.3h0M324.2 241.2h0M330.5 253.9h0M323.2 234.9h0" stroke="#e69f00" stroke-width="1.7" stroke-linecap="round"/>
<path d="M321.5,214.1L321.6,215.3L321.6,216.4L321.7,217.6L321.7,218.7L321.8,219.9L321.8,221.0L321.9,222.2L322.1,223.3L322.2,224.5L322.4,225.6L322.6,226.8L322.9,228.0L323.2,229.1L323.5,230.3L324.0,231.4L324.5,232.6L325.0,233.7L325.7,234.9L326.4,236.0L327.2,237.2L328.1,238.3L329.0,239.5L330.1,240.7L331.2,241.8L332.4,243.0L333.7,244.1L335.0,245.3L336.4,246.4L337.7,247.6L339.1,248.7L340.5,249.9L341.8,251.1L343.0,252.2L344.2,253.4L345.2,254.5L346.2,255.7L347.0,256.8L347.7,258.0L348.2,259.1L348.5,260.3L348.7,261.4L348.7,262.6L348.5,263.8L348.2,264.9L347.7,266.1L347.1,267.2L346.4,268.4L345.6,269.5L344.7,270.7L343.7,271.8L342.7,273.0L341.6,274.1L340.5,275.3L339.4,276.5L338.3,277.6L337.2,278.8L336.1,279.9L335.1,281.1L334.1,282.2L333.2,283.4L332.3,284.5L331.4,285.7L330.6,286.8L329.8,288.0L329.1,289.2L328.4,290.3L327.8,291.5L327.2,292.6L326.6,293.8L326.1,294.9L325.6,296.1L325.2,297.2L324.8,298.4L324.4,299.5L324.0,300.7L323.7,301.9L323.5,303.0L323.2,304.2L323.0,305.3L322.8,306.5L322.6,307.6L322.5,308.8L322.4,309.9L322.3,311.1L322.3,312.3L322.2,313.4L322.3,314.6L322.3,315.7L322.3,316.9L322.4,318.0L322.5,319.2L322.5,320.3L322.6,321.5L322.6,322.6L322.6,323.8L322.5,325.0L322.4,326.1L322.4,327.3L322.2,328.4L322.1,329.6L322.0,330.7L321.9,331.9L321.8,333.0L321.7,334.2L321.7,335.3L321.6,336.5L321.6,337.7L321.5,338.8L321.5,340.0L321.5,341.1L321.5,342.3L321.5,343.4L321.5,344.6L321.5,345.7L321.5,346.9L321.5,348.0L321.5,349.2L321.5,350.4L321.5,351.5L321.5,352.7L321.5,353.8L321.5,355.0L321.5,356.1L321.5,357.3L321.5,358.4L321.5,359.6L321.5,360.7L321.5,361.9L321.5,363.1L321.5,364.2L321.5,365.4L321.5,366.5L321.5,367.7L321.5,368.8L321.5,370.0L321.5,371.1L321.5,372.3L321.5,373.5L321.5,374.6L321.5,375.8L321.5,376.9L321.5,378.1L321.5,379.2L321.5,380.4L321.5,381.5L321.5,382.7L321.5,383.8L321.5,385.0L321.5,386.2L321.5,387.3L321.5,388.5L321.5,389.6L321.5,390.8L321.5,391.9L321.5,393.1L321.5,394.2L321.5,395.4L321.5,396.5L321.5,397.7" fill="none" stroke="#1e1e1e" stroke-width="1.1"/>
<rect x="338.5" y="243.4" width="14.5" height="90.2" fill="rgba(230,159,0,0.075)"/>
<path d="M338.5,214.1L338.5,214.1L338.5,215.3L338.5,216.4L338.6,217.6L338.6,218.7L338.6,219.9L338.7,221.0L338.7,222.2L338.8,223.3L338.9,224.5L339.0,225.6L339.2,226.8L339.3,228.0L339.5,229.1L339.8,230.3L340.1,231.4L340.4,232.6L340.8,233.7L341.3,234.9L341.8,236.0L342.5,237.2L343.2,238.3L343.9,239.5L344.8,240.7L345.8,241.8L346.8,243.0L347.9,244.1L349.1,245.3L350.3,246.4L351.6,247.6L352.9,248.7L354.2,249.9L355.5,251.1L356.8,252.2L358.0,253.4L359.2,254.5L360.2,255.7L361.2,256.8L362.0,258.0L362.7,259.1L363.2,260.3L363.6,261.4L363.8,262.6L363.8,263.8L363.7,264.9L363.4,266.1L363.0,267.2L362.5,268.4L361.8,269.5L361.0,270.7L360.2,271.8L359.3,273.0L358.3,274.1L357.3,275.3L356.3,276.5L355.3,277.6L354.3,278.8L353.4,279.9L352.5,281.1L351.6,282.2L350.7,283.4L349.9,284.5L349.1,285.7L348.4,286.8L347.7,288.0L347.1,289.2L346.5,290.3L345.9,291.5L345.4,292.6L344.9,293.8L344.4,294.9L343.9,296.1L343.5,297.2L343.1,298.4L342.7,299.5L342.4,300.7L342.1,301.9L341.7,303.0L341.5,304.2L341.2,305.3L340.9,306.5L340.7,307.6L340.5,308.8L340.3,309.9L340.2,311.1L340.1,312.3L340.0,313.4L340.0,314.6L339.9,315.7L339.9,316.9L339.9,318.0L339.9,319.2L339.9,320.3L339.9,321.5L339.9,322.6L339.8,323.8L339.7,325.0L339.6,326.1L339.5,327.3L339.4,328.4L339.3,329.6L339.1,330.7L339.0,331.9L338.9,333.0L338.8,334.2L338.7,335.3L338.7,336.5L338.6,337.7L338.6,338.8L338.5,340.0L338.5,341.1L338.5,342.3L338.5,343.4L338.5,344.6L338.5,345.7L338.5,346.9L338.5,348.0L338.5,349.2L338.5,350.4L338.5,351.5L338.5,352.7L338.5,353.8L338.5,355.0L338.5,356.1L338.5,357.3L338.5,358.4L338.5,359.6L338.5,360.7L338.5,361.9L338.5,363.1L338.5,364.2L338.5,365.4L338.5,366.5L338.5,367.7L338.5,368.8L338.5,370.0L338.5,371.1L338.5,372.3L338.5,373.5L338.5,374.6L338.5,375.8L338.5,376.9L338.5,378.1L338.5,379.2L338.5,380.4L338.5,381.5L338.5,382.7L338.5,383.8L338.5,385.0L338.5,386.2L338.5,387.3L338.5,388.5L338.5,389.6L338.5,390.8L338.5,391.9L338.5,393.1L338.5,394.2L338.5,395.4L338.5,396.5L338.5,397.7L338.5,397.7Z" fill="rgba(230,159,0,0.06)" stroke="none" stroke-width="1"/>
<path d="M350.3 303.0h0M346.6 264.0h0M350.1 275.2h0M350.6 281.0h0M344.8 263.2h0M350.9 271.9h0M349.2 288.9h0M348.2 311.3h0M351.2 254.7h0M344.4 316.7h0M340.3 243.8h0M350.5 286.5h0M341.0 294.2h0M345.4 253.5h0M347.5 267.3h0M351.0 294.7h0M347.1 245.2h0M341.9 277.8h0M344.6 290.9h0M349.3 272.2h0M341.0 284.8h0M349.2 258.5h0M345.9 257.3h0M340.3 264.3h0M339.9 255.1h0M342.6 263.5h0M346.4 320.0h0M346.7 273.6h0M347.7 263.4h0M343.4 259.7h0M346.1 322.0h0M347.5 268.7h0M342.0 328.5h0M340.2 271.9h0M340.9 241.8h0" stroke="#e69f00" stroke-width="1.7" stroke-linecap="round"/>
<path d="M338.5,214.1L338.5,215.3L338.5,216.4L338.6,217.6L338.6,218.7L338.6,219.9L338.7,221.0L338.7,222.2L338.8,223.3L338.9,224.5L339.0,225.6L339.2,226.8L339.3,228.0L339.5,229.1L339.8,230.3L340.1,231.4L340.4,232.6L340.8,233.7L341.3,234.9L341.8,236.0L342.5,237.2L343.2,238.3L343.9,239.5L344.8,240.7L345.8,241.8L346.8,243.0L347.9,244.1L349.1,245.3L350.3,246.4L351.6,247.6L352.9,248.7L354.2,249.9L355.5,251.1L356.8,252.2L358.0,253.4L359.2,254.5L360.2,255.7L361.2,256.8L362.0,258.0L362.7,259.1L363.2,260.3L363.6,261.4L363.8,262.6L363.8,263.8L363.7,264.9L363.4,266.1L363.0,267.2L362.5,268.4L361.8,269.5L361.0,270.7L360.2,271.8L359.3,273.0L358.3,274.1L357.3,275.3L356.3,276.5L355.3,277.6L354.3,278.8L353.4,279.9L352.5,281.1L351.6,282.2L350.7,283.4L349.9,284.5L349.1,285.7L348.4,286.8L347.7,288.0L347.1,289.2L346.5,290.3L345.9,291.5L345.4,292.6L344.9,293.8L344.4,294.9L343.9,296.1L343.5,297.2L343.1,298.4L342.7,299.5L342.4,300.7L342.1,301.9L341.7,303.0L341.5,304.2L341.2,305.3L340.9,306.5L340.7,307.6L340.5,308.8L340.3,309.9L340.2,311.1L340.1,312.3L340.0,313.4L340.0,314.6L339.9,315.7L339.9,316.9L339.9,318.0L339.9,319.2L339.9,320.3L339.9,321.5L339.9,322.6L339.8,323.8L339.7,325.0L339.6,326.1L339.5,327.3L339.4,328.4L339.3,329.6L339.1,330.7L339.0,331.9L338.9,333.0L338.8,334.2L338.7,335.3L338.7,336.5L338.6,337.7L338.6,338.8L338.5,340.0L338.5,341.1L338.5,342.3L338.5,343.4L338.5,344.6L338.5,345.7L338.5,346.9L338.5,348.0L338.5,349.2L338.5,350.4L338.5,351.5L338.5,352.7L338.5,353.8L338.5,355.0L338.5,356.1L338.5,357.3L338.5,358.4L338.5,359.6L338.5,360.7L338.5,361.9L338.5,363.1L338.5,364.2L338.5,365.4L338.5,366.5L338.5,367.7L338.5,368.8L338.5,370.0L338.5,371.1L338.5,372.3L338.5,373.5L338.5,374.6L338.5,375.8L338.5,376.9L338.5,378.1L338.5,379.2L338.5,380.4L338.5,381.5L338.5,382.7L338.5,383.8L338.5,385.0L338.5,386.2L338.5,387.3L338.5,388.5L338.5,389.6L338.5,390.8L338.5,391.9L338.5,393.1L338.5,394.2L338.5,395.4L338.5,396.5L338.5,397.7" fill="none" stroke="#1e1e1e" stroke-width="1.1"/>
<rect x="355.5" y="246.6" width="14.5" height="106.2" fill="rgba(230,159,0,0.075)"/>
<path d="M355.5,214.1L355.5,214.1L355.5,215.3L355.5,216.4L355.5,217.6L355.5,218.7L355.5,219.9L355.5,221.0L355.5,222.2L355.5,223.3L355.5,224.5L355.5,225.6L355.5,226.8L355.5,228.0L355.5,229.1L355.5,230.3L355.5,231.4L355.5,232.6L355.5,233.7L355.5,234.9L355.6,236.0L355.6,237.2L355.7,238.3L355.8,239.5L355.9,240.7L356.0,241.8L356.2,243.0L356.3,244.1L356.6,245.3L356.9,246.4L357.2,247.6L357.6,248.7L358.1,249.9L358.6,251.1L359.2,252.2L359.8,253.4L360.5,254.5L361.2,255.7L361.9,256.8L362.7,258.0L363.4,259.1L364.1,260.3L364.7,261.4L365.3,262.6L365.8,263.8L366.2,264.9L366.5,266.1L366.7,267.2L366.8,268.4L366.7,269.5L366.6,270.7L366.3,271.8L366.0,273.0L365.6,274.1L365.2,275.3L364.8,276.5L364.4,277.6L364.0,278.8L363.6,279.9L363.3,281.1L363.1,282.2L362.9,283.4L362.8,284.5L362.8,285.7L362.8,286.8L363.0,288.0L363.2,289.2L363.4,290.3L363.8,291.5L364.2,292.6L364.6,293.8L365.1,294.9L365.6,296.1L366.2,297.2L366.8,298.4L367.4,299.5L368.0,300.7L368.5,301.9L369.1,303.0L369.7,304.2L370.1,305.3L370.6,306.5L371.0,307.6L371.3,308.8L371.5,309.9L371.6,311.1L371.6,312.3L371.5,313.4L371.4,314.6L371.1,315.7L370.7,316.9L370.2,318.0L369.7,319.2L369.1,320.3L368.4,321.5L367.6,322.6L366.8,323.8L366.0,325.0L365.2,326.1L364.4,327.3L363.6,328.4L362.8,329.6L362.0,330.7L361.3,331.9L360.6,333.0L360.0,334.2L359.4,335.3L358.9,336.5L358.4,337.7L358.0,338.8L357.6,340.0L357.3,341.1L357.0,342.3L356.7,343.4L356.5,344.6L356.3,345.7L356.1,346.9L356.0,348.0L355.9,349.2L355.8,350.4L355.8,351.5L355.7,352.7L355.7,353.8L355.6,355.0L355.6,356.1L355.5,357.3L355.5,358.4L355.5,359.6L355.5,360.7L355.5,361.9L355.5,363.1L355.5,364.2L355.5,365.4L355.5,366.5L355.5,367.7L355.5,368.8L355.5,370.0L355.5,371.1L355.5,372.3L355.5,373.5L355.5,374.6L355.5,375.8L355.5,376.9L355.5,378.1L355.5,379.2L355.5,380.4L355.5,381.5L355.5,382.7L355.5,383.8L355.5,385.0L355.5,386.2L355.5,387.3L355.5,388.5L355.5,389.6L355.5,390.8L355.5,391.9L355.5,393.1L355.5,394.2L355.5,395.4L355.5,396.5L355.5,397.7L355.5,397.7Z" fill="rgba(230,159,0,0.06)" stroke="none" stroke-width="1"/>
<path d="M364.5 326.1h0M361.2 255.2h0M364.5 284.1h0M361.1 282.6h0M363.1 262.4h0M359.6 309.6h0M362.1 321.3h0M365.6 280.6h0M360.2 327.4h0M365.7 321.0h0M358.3 263.3h0M357.7 318.7h0M359.9 330.1h0M366.5 270.4h0M358.9 306.6h0M367.1 311.0h0M365.1 308.6h0M365.3 261.0h0M366.4 312.6h0M361.1 310.2h0M362.8 323.3h0M359.0 321.8h0M363.0 283.1h0M367.3 316.0h0M358.9 326.8h0M364.3 331.1h0M368.5 267.5h0M366.6 252.7h0M361.4 311.4h0M358.9 272.0h0M365.6 305.6h0M361.9 339.1h0M361.7 289.0h0M366.7 274.7h0" stroke="#e69f00" stroke-width="1.7" stroke-linecap="round"/>
<path d="M355.5,214.1L355.5,215.3L355.5,216.4L355.5,217.6L355.5,218.7L355.5,219.9L355.5,221.0L355.5,222.2L355.5,223.3L355.5,224.5L355.5,225.6L355.5,226.8L355.5,228.0L355.5,229.1L355.5,230.3L355.5,231.4L355.5,232.6L355.5,233.7L355.5,234.9L355.6,236.0L355.6,237.2L355.7,238.3L355.8,239.5L355.9,240.7L356.0,241.8L356.2,243.0L356.3,244.1L356.6,245.3L356.9,246.4L357.2,247.6L357.6,248.7L358.1,249.9L358.6,251.1L359.2,252.2L359.8,253.4L360.5,254.5L361.2,255.7L361.9,256.8L362.7,258.0L363.4,259.1L364.1,260.3L364.7,261.4L365.3,262.6L365.8,263.8L366.2,264.9L366.5,266.1L366.7,267.2L366.8,268.4L366.7,269.5L366.6,270.7L366.3,271.8L366.0,273.0L365.6,274.1L365.2,275.3L364.8,276.5L364.4,277.6L364.0,278.8L363.6,279.9L363.3,281.1L363.1,282.2L362.9,283.4L362.8,284.5L362.8,285.7L362.8,286.8L363.0,288.0L363.2,289.2L363.4,290.3L363.8,291.5L364.2,292.6L364.6,293.8L365.1,294.9L365.6,296.1L366.2,297.2L366.8,298.4L367.4,299.5L368.0,300.7L368.5,301.9L369.1,303.0L369.7,304.2L370.1,305.3L370.6,306.5L371.0,307.6L371.3,308.8L371.5,309.9L371.6,311.1L371.6,312.3L371.5,313.4L371.4,314.6L371.1,315.7L370.7,316.9L370.2,318.0L369.7,319.2L369.1,320.3L368.4,321.5L367.6,322.6L366.8,323.8L366.0,325.0L365.2,326.1L364.4,327.3L363.6,328.4L362.8,329.6L362.0,330.7L361.3,331.9L360.6,333.0L360.0,334.2L359.4,335.3L358.9,336.5L358.4,337.7L358.0,338.8L357.6,340.0L357.3,341.1L357.0,342.3L356.7,343.4L356.5,344.6L356.3,345.7L356.1,346.9L356.0,348.0L355.9,349.2L355.8,350.4L355.8,351.5L355.7,352.7L355.7,353.8L355.6,355.0L355.6,356.1L355.5,357.3L355.5,358.4L355.5,359.6L355.5,360.7L355.5,361.9L355.5,363.1L355.5,364.2L355.5,365.4L355.5,366.5L355.5,367.7L355.5,368.8L355.5,370.0L355.5,371.1L355.5,372.3L355.5,373.5L355.5,374.6L355.5,375.8L355.5,376.9L355.5,378.1L355.5,379.2L355.5,380.4L355.5,381.5L355.5,382.7L355.5,383.8L355.5,385.0L355.5,386.2L355.5,387.3L355.5,388.5L355.5,389.6L355.5,390.8L355.5,391.9L355.5,393.1L355.5,394.2L355.5,395.4L355.5,396.5L355.5,397.7" fill="none" stroke="#1e1e1e" stroke-width="1.1"/>
<rect x="373.5" y="240.2" width="14.5" height="107.4" fill="rgba(230,159,0,0.075)"/>
<path d="M373.5,214.1L373.5,214.1L373.5,215.3L373.5,216.4L373.5,217.6L373.5,218.7L373.5,219.9L373.5,221.0L373.5,222.2L373.5,223.3L373.5,224.5L373.5,225.6L373.5,226.8L373.5,228.0L373.5,229.1L373.5,230.3L373.5,231.4L373.5,232.6L373.6,233.7L373.6,234.9L373.7,236.0L373.7,237.2L373.8,238.3L373.9,239.5L374.1,240.7L374.3,241.8L374.5,243.0L374.8,244.1L375.2,245.3L375.6,246.4L376.1,247.6L376.7,248.7L377.4,249.9L378.2,251.1L379.1,252.2L380.1,253.4L381.1,254.5L382.2,255.7L383.3,256.8L384.4,258.0L385.4,259.1L386.5,260.3L387.4,261.4L388.2,262.6L388.9,263.8L389.4,264.9L389.8,266.1L389.9,267.2L389.9,268.4L389.7,269.5L389.3,270.7L388.9,271.8L388.3,273.0L387.6,274.1L386.8,275.3L386.1,276.5L385.4,277.6L384.7,278.8L384.1,279.9L383.5,281.1L383.1,282.2L382.7,283.4L382.5,284.5L382.3,285.7L382.2,286.8L382.1,288.0L382.1,289.2L382.1,290.3L382.2,291.5L382.2,292.6L382.2,293.8L382.2,294.9L382.2,296.1L382.1,297.2L381.9,298.4L381.8,299.5L381.6,300.7L381.3,301.9L381.1,303.0L380.8,304.2L380.6,305.3L380.3,306.5L380.0,307.6L379.8,308.8L379.6,309.9L379.4,311.1L379.2,312.3L379.0,313.4L378.9,314.6L378.8,315.7L378.6,316.9L378.5,318.0L378.4,319.2L378.2,320.3L378.1,321.5L377.9,322.6L377.7,323.8L377.5,325.0L377.3,326.1L377.1,327.3L376.8,328.4L376.6,329.6L376.3,330.7L376.1,331.9L375.8,333.0L375.5,334.2L375.3,335.3L375.1,336.5L374.9,337.7L374.7,338.8L374.5,340.0L374.3,341.1L374.2,342.3L374.1,343.4L374.0,344.6L373.9,345.7L373.8,346.9L373.7,348.0L373.7,349.2L373.6,350.4L373.6,351.5L373.6,352.7L373.5,353.8L373.5,355.0L373.5,356.1L373.5,357.3L373.5,358.4L373.5,359.6L373.5,360.7L373.5,361.9L373.5,363.1L373.5,364.2L373.5,365.4L373.5,366.5L373.5,367.7L373.5,368.8L373.5,370.0L373.5,371.1L373.5,372.3L373.5,373.5L373.5,374.6L373.5,375.8L373.5,376.9L373.5,378.1L373.5,379.2L373.5,380.4L373.5,381.5L373.5,382.7L373.5,383.8L373.5,385.0L373.5,386.2L373.5,387.3L373.5,388.5L373.5,389.6L373.5,390.8L373.5,391.9L373.5,393.1L373.5,394.2L373.5,395.4L373.5,396.5L373.5,397.7L373.5,397.7Z" fill="rgba(230,159,0,0.06)" stroke="none" stroke-width="1"/>
<path d="M386.4 286.3h0M385.5 274.6h0M379.4 287.7h0M376.2 303.8h0M380.6 273.6h0M376.8 316.4h0M380.4 330.0h0M382.6 273.8h0M380.9 258.9h0M380.8 308.5h0M381.0 345.9h0M384.0 260.2h0M376.8 303.5h0M376.0 315.3h0M385.8 330.1h0M386.1 257.7h0M380.7 255.3h0M385.5 344.6h0M378.4 256.3h0M375.5 261.6h0M380.2 290.0h0M383.7 279.2h0M383.7 308.0h0M384.7 262.8h0M383.4 328.6h0M376.7 263.5h0M376.7 309.1h0M381.7 252.7h0M385.8 280.9h0M380.8 247.2h0M386.1 269.0h0M384.2 269.6h0M384.2 303.9h0M382.3 280.2h0" stroke="#e69f00" stroke-width="1.7" stroke-linecap="round"/>
<path d="M373.5,214.1L373.5,215.3L373.5,216.4L373.5,217.6L373.5,218.7L373.5,219.9L373.5,221.0L373.5,222.2L373.5,223.3L373.5,224.5L373.5,225.6L373.5,226.8L373.5,228.0L373.5,229.1L373.5,230.3L373.5,231.4L373.5,232.6L373.6,233.7L373.6,234.9L373.7,236.0L373.7,237.2L373.8,238.3L373.9,239.5L374.1,240.7L374.3,241.8L374.5,243.0L374.8,244.1L375.2,245.3L375.6,246.4L376.1,247.6L376.7,248.7L377.4,249.9L378.2,251.1L379.1,252.2L380.1,253.4L381.1,254.5L382.2,255.7L383.3,256.8L384.4,258.0L385.4,259.1L386.5,260.3L387.4,261.4L388.2,262.6L388.9,263.8L389.4,264.9L389.8,266.1L389.9,267.2L389.9,268.4L389.7,269.5L389.3,270.7L388.9,271.8L388.3,273.0L387.6,274.1L386.8,275.3L386.1,276.5L385.4,277.6L384.7,278.8L384.1,279.9L383.5,281.1L383.1,282.2L382.7,283.4L382.5,284.5L382.3,285.7L382.2,286.8L382.1,288.0L382.1,289.2L382.1,290.3L382.2,291.5L382.2,292.6L382.2,293.8L382.2,294.9L382.2,296.1L382.1,297.2L381.9,298.4L381.8,299.5L381.6,300.7L381.3,301.9L381.1,303.0L380.8,304.2L380.6,305.3L380.3,306.5L380.0,307.6L379.8,308.8L379.6,309.9L379.4,311.1L379.2,312.3L379.0,313.4L378.9,314.6L378.8,315.7L378.6,316.9L378.5,318.0L378.4,319.2L378.2,320.3L378.1,321.5L377.9,322.6L377.7,323.8L377.5,325.0L377.3,326.1L377.1,327.3L376.8,328.4L376.6,329.6L376.3,330.7L376.1,331.9L375.8,333.0L375.5,334.2L375.3,335.3L375.1,336.5L374.9,337.7L374.7,338.8L374.5,340.0L374.3,341.1L374.2,342.3L374.1,343.4L374.0,344.6L373.9,345.7L373.8,346.9L373.7,348.0L373.7,349.2L373.6,350.4L373.6,351.5L373.6,352.7L373.5,353.8L373.5,355.0L373.5,356.1L373.5,357.3L373.5,358.4L373.5,359.6L373.5,360.7L373.5,361.9L373.5,363.1L373.5,364.2L373.5,365.4L373.5,366.5L373.5,367.7L373.5,368.8L373.5,370.0L373.5,371.1L373.5,372.3L373.5,373.5L373.5,374.6L373.5,375.8L373.5,376.9L373.5,378.1L373.5,379.2L373.5,380.4L373.5,381.5L373.5,382.7L373.5,383.8L373.5,385.0L373.5,386.2L373.5,387.3L373.5,388.5L373.5,389.6L373.5,390.8L373.5,391.9L373.5,393.1L373.5,394.2L373.5,395.4L373.5,396.5L373.5,397.7" fill="none" stroke="#1e1e1e" stroke-width="1.1"/>
<rect x="390.5" y="256.8" width="14.5" height="90.2" fill="rgba(230,159,0,0.075)"/>
<path d="M390.5,214.1L390.5,214.1L390.5,215.3L390.5,216.4L390.5,217.6L390.5,218.7L390.5,219.9L390.5,221.0L390.5,222.2L390.5,223.3L390.5,224.5L390.5,225.6L390.5,226.8L390.5,228.0L390.5,229.1L390.5,230.3L390.5,231.4L390.5,232.6L390.5,233.7L390.5,234.9L390.5,236.0L390.5,237.2L390.5,238.3L390.5,239.5L390.5,240.7L390.5,241.8L390.6,243.0L390.6,244.1L390.7,245.3L390.8,246.4L390.9,247.6L391.0,248.7L391.2,249.9L391.4,251.1L391.6,252.2L391.9,253.4L392.3,254.5L392.7,255.7L393.2,256.8L393.8,258.0L394.4,259.1L395.1,260.3L395.9,261.4L396.7,262.6L397.6,263.8L398.4,264.9L399.3,266.1L400.1,267.2L400.8,268.4L401.5,269.5L402.1,270.7L402.6,271.8L402.9,273.0L403.1,274.1L403.1,275.3L402.9,276.5L402.7,277.6L402.3,278.8L401.8,279.9L401.2,281.1L400.5,282.2L399.9,283.4L399.2,284.5L398.5,285.7L397.9,286.8L397.3,288.0L396.8,289.2L396.4,290.3L396.1,291.5L395.9,292.6L395.7,293.8L395.6,294.9L395.6,296.1L395.6,297.2L395.6,298.4L395.7,299.5L395.7,300.7L395.8,301.9L395.7,303.0L395.7,304.2L395.6,305.3L395.5,306.5L395.3,307.6L395.1,308.8L394.9,309.9L394.6,311.1L394.4,312.3L394.2,313.4L394.0,314.6L393.8,315.7L393.8,316.9L393.8,318.0L394.0,319.2L394.2,320.3L394.7,321.5L395.3,322.6L396.0,323.8L396.8,325.0L397.8,326.1L398.9,327.3L399.9,328.4L401.0,329.6L402.0,330.7L402.9,331.9L403.7,333.0L404.2,334.2L404.5,335.3L404.5,336.5L404.3,337.7L403.8,338.8L403.1,340.0L402.2,341.1L401.1,342.3L400.0,343.4L398.8,344.6L397.6,345.7L396.5,346.9L395.5,348.0L394.5,349.2L393.7,350.4L393.0,351.5L392.4,352.7L391.9,353.8L391.6,355.0L391.3,356.1L391.0,357.3L390.9,358.4L390.8,359.6L390.7,360.7L390.6,361.9L390.5,363.1L390.5,364.2L390.5,365.4L390.5,366.5L390.5,367.7L390.5,368.8L390.5,370.0L390.5,371.1L390.5,372.3L390.5,373.5L390.5,374.6L390.5,375.8L390.5,376.9L390.5,378.1L390.5,379.2L390.5,380.4L390.5,381.5L390.5,382.7L390.5,383.8L390.5,385.0L390.5,386.2L390.5,387.3L390.5,388.5L390.5,389.6L390.5,390.8L390.5,391.9L390.5,393.1L390.5,394.2L390.5,395.4L390.5,396.5L390.5,397.7L390.5,397.7Z" fill="rgba(230,159,0,0.06)" stroke="none" stroke-width="1"/>
<path d="M400.0 343.7h0M401.2 292.7h0M399.0 291.4h0M399.7 325.3h0M396.5 335.5h0M396.4 283.5h0M396.2 322.9h0M400.6 275.3h0M395.7 306.5h0M396.2 332.3h0M401.0 264.2h0M400.1 328.4h0M396.3 258.6h0M398.5 343.9h0M399.5 297.3h0M398.6 290.5h0M393.9 328.3h0M395.2 303.9h0M403.5 328.3h0M397.0 265.9h0M398.6 308.6h0M402.2 308.2h0M394.8 341.0h0M397.5 261.9h0M392.6 295.2h0M395.4 318.5h0M394.0 306.5h0M401.5 264.8h0M397.3 312.6h0M397.1 275.6h0M398.1 274.0h0M395.4 337.3h0M400.8 274.4h0M400.3 295.6h0" stroke="#e69f00" stroke-width="1.7" stroke-linecap="round"/>
<path d="M390.5,214.1L390.5,215.3L390.5,216.4L390.5,217.6L390.5,218.7L390.5,219.9L390.5,221.0L390.5,222.2L390.5,223.3L390.5,224.5L390.5,225.6L390.5,226.8L390.5,228.0L390.5,229.1L390.5,230.3L390.5,231.4L390.5,232.6L390.5,233.7L390.5,234.9L390.5,236.0L390.5,237.2L390.5,238.3L390.5,239.5L390.5,240.7L390.5,241.8L390.6,243.0L390.6,244.1L390.7,245.3L390.8,246.4L390.9,247.6L391.0,248.7L391.2,249.9L391.4,251.1L391.6,252.2L391.9,253.4L392.3,254.5L392.7,255.7L393.2,256.8L393.8,258.0L394.4,259.1L395.1,260.3L395.9,261.4L396.7,262.6L397.6,263.8L398.4,264.9L399.3,266.1L400.1,267.2L400.8,268.4L401.5,269.5L402.1,270.7L402.6,271.8L402.9,273.0L403.1,274.1L403.1,275.3L402.9,276.5L402.7,277.6L402.3,278.8L401.8,279.9L401.2,281.1L400.5,282.2L399.9,283.4L399.2,284.5L398.5,285.7L397.9,286.8L397.3,288.0L396.8,289.2L396.4,290.3L396.1,291.5L395.9,292.6L395.7,293.8L395.6,294.9L395.6,296.1L395.6,297.2L395.6,298.4L395.7,299.5L395.7,300.7L395.8,301.9L395.7,303.0L395.7,304.2L395.6,305.3L395.5,306.5L395.3,307.6L395.1,308.8L394.9,309.9L394.6,311.1L394.4,312.3L394.2,313.4L394.0,314.6L393.8,315.7L393.8,316.9L393.8,318.0L394.0,319.2L394.2,320.3L394.7,321.5L395.3,322.6L396.0,323.8L396.8,325.0L397.8,326.1L398.9,327.3L399.9,328.4L401.0,329.6L402.0,330.7L402.9,331.9L403.7,333.0L404.2,334.2L404.5,335.3L404.5,336.5L404.3,337.7L403.8,338.8L403.1,340.0L402.2,341.1L401.1,342.3L400.0,343.4L398.8,344.6L397.6,345.7L396.5,346.9L395.5,348.0L394.5,349.2L393.7,350.4L393.0,351.5L392.4,352.7L391.9,353.8L391.6,355.0L391.3,356.1L391.0,357.3L390.9,358.4L390.8,359.6L390.7,360.7L390.6,361.9L390.5,363.1L390.5,364.2L390.5,365.4L390.5,366.5L390.5,367.7L390.5,368.8L390.5,370.0L390.5,371.1L390.5,372.3L390.5,373.5L390.5,374.6L390.5,375.8L390.5,376.9L390.5,378.1L390.5,379.2L390.5,380.4L390.5,381.5L390.5,382.7L390.5,383.8L390.5,385.0L390.5,386.2L390.5,387.3L390.5,388.5L390.5,389.6L390.5,390.8L390.5,391.9L390.5,393.1L390.5,394.2L390.5,395.4L390.5,396.5L390.5,397.7" fill="none" stroke="#1e1e1e" stroke-width="1.1"/>
<rect x="408.5" y="256.8" width="14.5" height="95.9" fill="rgba(230,159,0,0.075)"/>
<path d="M408.5,214.1L408.5,214.1L408.5,215.3L408.5,216.4L408.5,217.6L408.5,218.7L408.5,219.9L408.5,221.0L408.5,222.2L408.5,223.3L408.5,224.5L408.5,225.6L408.5,226.8L408.5,228.0L408.5,229.1L408.5,230.3L408.5,231.4L408.5,232.6L408.5,233.7L408.5,234.9L408.5,236.0L408.5,237.2L408.5,238.3L408.5,239.5L408.5,240.7L408.5,241.8L408.6,243.0L408.6,244.1L408.7,245.3L408.8,246.4L408.8,247.6L409.0,248.7L409.1,249.9L409.3,251.1L409.6,252.2L409.9,253.4L410.2,254.5L410.7,255.7L411.2,256.8L411.8,258.0L412.6,259.1L413.4,260.3L414.3,261.4L415.3,262.6L416.4,263.8L417.6,264.9L418.9,266.1L420.1,267.2L421.4,268.4L422.7,269.5L423.9,270.7L425.0,271.8L426.1,273.0L426.9,274.1L427.6,275.3L428.2,276.5L428.5,277.6L428.5,278.8L428.4,279.9L428.0,281.1L427.5,282.2L426.7,283.4L425.8,284.5L424.8,285.7L423.7,286.8L422.5,288.0L421.4,289.2L420.2,290.3L419.1,291.5L418.0,292.6L417.0,293.8L416.2,294.9L415.4,296.1L414.8,297.2L414.3,298.4L413.8,299.5L413.5,300.7L413.3,301.9L413.1,303.0L413.0,304.2L413.0,305.3L412.9,306.5L412.9,307.6L412.9,308.8L412.8,309.9L412.8,311.1L412.7,312.3L412.6,313.4L412.4,314.6L412.3,315.7L412.1,316.9L412.0,318.0L411.8,319.2L411.7,320.3L411.6,321.5L411.5,322.6L411.4,323.8L411.4,325.0L411.4,326.1L411.4,327.3L411.4,328.4L411.5,329.6L411.6,330.7L411.6,331.9L411.7,333.0L411.7,334.2L411.7,335.3L411.7,336.5L411.6,337.7L411.5,338.8L411.3,340.0L411.1,341.1L410.9,342.3L410.7,343.4L410.4,344.6L410.2,345.7L410.0,346.9L409.7,348.0L409.5,349.2L409.3,350.4L409.2,351.5L409.0,352.7L408.9,353.8L408.8,355.0L408.7,356.1L408.7,357.3L408.6,358.4L408.6,359.6L408.5,360.7L408.5,361.9L408.5,363.1L408.5,364.2L408.5,365.4L408.5,366.5L408.5,367.7L408.5,368.8L408.5,370.0L408.5,371.1L408.5,372.3L408.5,373.5L408.5,374.6L408.5,375.8L408.5,376.9L408.5,378.1L408.5,379.2L408.5,380.4L408.5,381.5L408.5,382.7L408.5,383.8L408.5,385.0L408.5,386.2L408.5,387.3L408.5,388.5L408.5,389.6L408.5,390.8L408.5,391.9L408.5,393.1L408.5,394.2L408.5,395.4L408.5,396.5L408.5,397.7L408.5,397.7Z" fill="rgba(230,159,0,0.06)" stroke="none" stroke-width="1"/>
<path d="M411.4 322.6h0M417.2 284.5h0M411.3 263.3h0M413.0 303.8h0M410.0 275.9h0M411.6 298.0h0M409.9 281.0h0M411.6 298.3h0M419.1 275.0h0M417.0 285.3h0M414.6 289.0h0M411.6 297.6h0M420.2 273.5h0M410.3 344.8h0M416.8 277.8h0M412.2 277.9h0M420.2 275.8h0M413.4 264.4h0M419.5 282.8h0M421.4 316.2h0M417.6 307.8h0M416.4 273.2h0M416.9 270.1h0M415.8 278.6h0M418.2 314.0h0M414.7 287.1h0M418.6 339.2h0M410.6 300.5h0M411.9 295.6h0M415.0 314.3h0M413.0 312.8h0M417.7 280.4h0M414.5 275.7h0M419.0 282.8h0" stroke="#e69f00" stroke-width="1.7" stroke-linecap="round"/>
<path d="M408.5,214.1L408.5,215.3L408.5,216.4L408.5,217.6L408.5,218.7L408.5,219.9L408.5,221.0L408.5,222.2L408.5,223.3L408.5,224.5L408.5,225.6L408.5,226.8L408.5,228.0L408.5,229.1L408.5,230.3L408.5,231.4L408.5,232.6L408.5,233.7L408.5,234.9L408.5,236.0L408.5,237.2L408.5,238.3L408.5,239.5L408.5,240.7L408.5,241.8L408.6,243.0L408.6,244.1L408.7,245.3L408.8,246.4L408.8,247.6L409.0,248.7L409.1,249.9L409.3,251.1L409.6,252.2L409.9,253.4L410.2,254.5L410.7,255.7L411.2,256.8L411.8,258.0L412.6,259.1L413.4,260.3L414.3,261.4L415.3,262.6L416.4,263.8L417.6,264.9L418.9,266.1L420.1,267.2L421.4,268.4L422.7,269.5L423.9,270.7L425.0,271.8L426.1,273.0L426.9,274.1L427.6,275.3L428.2,276.5L428.5,277.6L428.5,278.8L428.4,279.9L428.0,281.1L427.5,282.2L426.7,283.4L425.8,284.5L424.8,285.7L423.7,286.8L422.5,288.0L421.4,289.2L420.2,290.3L419.1,291.5L418.0,292.6L417.0,293.8L416.2,294.9L415.4,296.1L414.8,297.2L414.3,298.4L413.8,299.5L413.5,300.7L413.3,301.9L413.1,303.0L413.0,304.2L413.0,305.3L412.9,306.5L412.9,307.6L412.9,308.8L412.8,309.9L412.8,311.1L412.7,312.3L412.6,313.4L412.4,314.6L412.3,315.7L412.1,316.9L412.0,318.0L411.8,319.2L411.7,320.3L411.6,321.5L411.5,322.6L411.4,323.8L411.4,325.0L411.4,326.1L411.4,327.3L411.4,328.4L411.5,329.6L411.6,330.7L411.6,331.9L411.7,333.0L411.7,334.2L411.7,335.3L411.7,336.5L411.6,337.7L411.5,338.8L411.3,340.0L411.1,341.1L410.9,342.3L410.7,343.4L410.4,344.6L410.2,345.7L410.0,346.9L409.7,348.0L409.5,349.2L409.3,350.4L409.2,351.5L409.0,352.7L408.9,353.8L408.8,355.0L408.7,356.1L408.7,357.3L408.6,358.4L408.6,359.6L408.5,360.7L408.5,361.9L408.5,363.1L408.5,364.2L408.5,365.4L408.5,366.5L408.5,367.7L408.5,368.8L408.5,370.0L408.5,371.1L408.5,372.3L408.5,373.5L408.5,374.6L408.5,375.8L408.5,376.9L408.5,378.1L408.5,379.2L408.5,380.4L408.5,381.5L408.5,382.7L408.5,383.8L408.5,385.0L408.5,386.2L408.5,387.3L408.5,388.5L408.5,389.6L408.5,390.8L408.5,391.9L408.5,393.1L408.5,394.2L408.5,395.4L408.5,396.5L408.5,397.7" fill="none" stroke="#1e1e1e" stroke-width="1.1"/>
<rect x="425.5" y="254.2" width="14.5" height="106.2" fill="rgba(230,159,0,0.075)"/>
<path d="M425.5,214.1L425.5,214.1L425.5,215.3L425.5,216.4L425.5,217.6L425.5,218.7L425.5,219.9L425.5,221.0L425.5,222.2L425.5,223.3L425.5,224.5L425.5,225.6L425.5,226.8L425.5,228.0L425.5,229.1L425.5,230.3L425.5,231.4L425.5,232.6L425.5,233.7L425.5,234.9L425.5,236.0L425.5,237.2L425.5,238.3L425.5,239.5L425.5,240.7L425.5,241.8L425.5,243.0L425.5,244.1L425.5,245.3L425.6,246.4L425.7,247.6L425.8,248.7L425.9,249.9L426.1,251.1L426.3,252.2L426.7,253.4L427.1,254.5L427.6,255.7L428.3,256.8L429.0,258.0L429.9,259.1L430.8,260.3L431.8,261.4L432.9,262.6L433.9,263.8L434.8,264.9L435.6,266.1L436.3,267.2L436.7,268.4L437.0,269.5L437.0,270.7L436.8,271.8L436.4,273.0L435.9,274.1L435.3,275.3L434.6,276.5L433.9,277.6L433.3,278.8L432.7,279.9L432.3,281.1L431.9,282.2L431.7,283.4L431.5,284.5L431.5,285.7L431.5,286.8L431.5,288.0L431.6,289.2L431.6,290.3L431.7,291.5L431.6,292.6L431.6,293.8L431.4,294.9L431.2,296.1L431.0,297.2L430.7,298.4L430.4,299.5L430.0,300.7L429.7,301.9L429.3,303.0L429.0,304.2L428.7,305.3L428.5,306.5L428.3,307.6L428.2,308.8L428.1,309.9L428.2,311.1L428.3,312.3L428.5,313.4L428.9,314.6L429.3,315.7L429.7,316.9L430.3,318.0L430.9,319.2L431.5,320.3L432.1,321.5L432.8,322.6L433.4,323.8L434.0,325.0L434.5,326.1L434.9,327.3L435.2,328.4L435.4,329.6L435.5,330.7L435.5,331.9L435.3,333.0L435.0,334.2L434.6,335.3L434.1,336.5L433.6,337.7L433.0,338.8L432.3,340.0L431.6,341.1L430.9,342.3L430.3,343.4L429.6,344.6L429.0,345.7L428.5,346.9L428.0,348.0L427.5,349.2L427.2,350.4L426.8,351.5L426.6,352.7L426.3,353.8L426.1,355.0L426.0,356.1L425.9,357.3L425.8,358.4L425.7,359.6L425.6,360.7L425.6,361.9L425.5,363.1L425.5,364.2L425.5,365.4L425.5,366.5L425.5,367.7L425.5,368.8L425.5,370.0L425.5,371.1L425.5,372.3L425.5,373.5L425.5,374.6L425.5,375.8L425.5,376.9L425.5,378.1L425.5,379.2L425.5,380.4L425.5,381.5L425.5,382.7L425.5,383.8L425.5,385.0L425.5,386.2L425.5,387.3L425.5,388.5L425.5,389.6L425.5,390.8L425.5,391.9L425.5,393.1L425.5,394.2L425.5,395.4L425.5,396.5L425.5,397.7L425.5,397.7Z" fill="rgba(230,159,0,0.06)" stroke="none" stroke-width="1"/>
<path d="M429.1 275.6h0M430.0 268.6h0M436.8 333.0h0M430.1 324.9h0M427.6 272.8h0M429.9 277.3h0M427.4 347.7h0M429.2 277.6h0M437.6 326.4h0M433.5 266.9h0M427.6 334.2h0M437.1 266.8h0M436.2 303.0h0M433.7 258.6h0M436.9 309.2h0M432.9 337.1h0M435.7 263.6h0M429.8 277.1h0M432.2 331.1h0M438.1 316.8h0M427.2 280.9h0M428.5 319.0h0M433.4 295.6h0M433.5 339.4h0M430.5 280.1h0M435.6 330.8h0M436.2 320.4h0M429.0 329.6h0M432.5 288.1h0M434.0 328.0h0M428.3 326.5h0M435.4 289.2h0M429.9 257.9h0M433.1 351.4h0" stroke="#e69f00" stroke-width="1.7" stroke-linecap="round"/>
<path d="M425.5,214.1L425.5,215.3L425.5,216.4L425.5,217.6L425.5,218.7L425.5,219.9L425.5,221.0L425.5,222.2L425.5,223.3L425.5,224.5L425.5,225.6L425.5,226.8L425.5,228.0L425.5,229.1L425.5,230.3L425.5,231.4L425.5,232.6L425.5,233.7L425.5,234.9L425.5,236.0L425.5,237.2L425.5,238.3L425.5,239.5L425.5,240.7L425.5,241.8L425.5,243.0L425.5,244.1L425.5,245.3L425.6,246.4L425.7,247.6L425.8,248.7L425.9,249.9L426.1,251.1L426.3,252.2L426.7,253.4L427.1,254.5L427.6,255.7L428.3,256.8L429.0,258.0L429.9,259.1L430.8,260.3L431.8,261.4L432.9,262.6L433.9,263.8L434.8,264.9L435.6,266.1L436.3,267.2L436.7,268.4L437.0,269.5L437.0,270.7L436.8,271.8L436.4,273.0L435.9,274.1L435.3,275.3L434.6,276.5L433.9,277.6L433.3,278.8L432.7,279.9L432.3,281.1L431.9,282.2L431.7,283.4L431.5,284.5L431.5,285.7L431.5,286.8L431.5,288.0L431.6,289.2L431.6,290.3L431.7,291.5L431.6,292.6L431.6,293.8L431.4,294.9L431.2,296.1L431.0,297.2L430.7,298.4L430.4,299.5L430.0,300.7L429.7,301.9L429.3,303.0L429.0,304.2L428.7,305.3L428.5,306.5L428.3,307.6L428.2,308.8L428.1,309.9L428.2,311.1L428.3,312.3L428.5,313.4L428.9,314.6L429.3,315.7L429.7,316.9L430.3,318.0L430.9,319.2L431.5,320.3L432.1,321.5L432.8,322.6L433.4,323.8L434.0,325.0L434.5,326.1L434.9,327.3L435.2,328.4L435.4,329.6L435.5,330.7L435.5,331.9L435.3,333.0L435.0,334.2L434.6,335.3L434.1,336.5L433.6,337.7L433.0,338.8L432.3,340.0L431.6,341.1L430.9,342.3L430.3,343.4L429.6,344.6L429.0,345.7L428.5,346.9L428.0,348.0L427.5,349.2L427.2,350.4L426.8,351.5L426.6,352.7L426.3,353.8L426.1,355.0L426.0,356.1L425.9,357.3L425.8,358.4L425.7,359.6L425.6,360.7L425.6,361.9L425.5,363.1L425.5,364.2L425.5,365.4L425.5,366.5L425.5,367.7L425.5,368.8L425.5,370.0L425.5,371.1L425.5,372.3L425.5,373.5L425.5,374.6L425.5,375.8L425.5,376.9L425.5,378.1L425.5,379.2L425.5,380.4L425.5,381.5L425.5,382.7L425.5,383.8L425.5,385.0L425.5,386.2L425.5,387.3L425.5,388.5L425.5,389.6L425.5,390.8L425.5,391.9L425.5,393.1L425.5,394.2L425.5,395.4L425.5,396.5L425.5,397.7" fill="none" stroke="#1e1e1e" stroke-width="1.1"/>
<rect x="443.5" y="249.1" width="14.5" height="108.7" fill="rgba(230,159,0,0.075)"/>
<path d="M443.5,214.1L443.5,214.1L443.5,215.3L443.5,216.4L443.5,217.6L443.5,218.7L443.5,219.9L443.5,221.0L443.5,222.2L443.5,223.3L443.5,224.5L443.5,225.6L443.5,226.8L443.5,228.0L443.5,229.1L443.5,230.3L443.5,231.4L443.5,232.6L443.5,233.7L443.5,234.9L443.5,236.0L443.5,237.2L443.5,238.3L443.5,239.5L443.6,240.7L443.6,241.8L443.7,243.0L443.7,244.1L443.8,245.3L443.9,246.4L444.0,247.6L444.1,248.7L444.3,249.9L444.5,251.1L444.7,252.2L445.0,253.4L445.3,254.5L445.7,255.7L446.2,256.8L446.7,258.0L447.3,259.1L447.9,260.3L448.6,261.4L449.3,262.6L450.0,263.8L450.8,264.9L451.6,266.1L452.4,267.2L453.2,268.4L453.9,269.5L454.6,270.7L455.2,271.8L455.7,273.0L456.1,274.1L456.4,275.3L456.6,276.5L456.7,277.6L456.6,278.8L456.5,279.9L456.2,281.1L455.8,282.2L455.4,283.4L454.9,284.5L454.4,285.7L453.8,286.8L453.2,288.0L452.7,289.2L452.2,290.3L451.7,291.5L451.3,292.6L451.0,293.8L450.7,294.9L450.4,296.1L450.3,297.2L450.2,298.4L450.1,299.5L450.1,300.7L450.0,301.9L450.0,303.0L450.0,304.2L450.0,305.3L450.0,306.5L449.9,307.6L449.8,308.8L449.7,309.9L449.5,311.1L449.3,312.3L449.0,313.4L448.8,314.6L448.5,315.7L448.3,316.9L448.1,318.0L447.9,319.2L447.8,320.3L447.7,321.5L447.8,322.6L448.0,323.8L448.4,325.0L448.8,326.1L449.4,327.3L450.1,328.4L450.8,329.6L451.6,330.7L452.3,331.9L453.0,333.0L453.6,334.2L454.0,335.3L454.2,336.5L454.2,337.7L454.0,338.8L453.5,340.0L452.9,341.1L452.1,342.3L451.2,343.4L450.3,344.6L449.3,345.7L448.4,346.9L447.5,348.0L446.7,349.2L446.0,350.4L445.4,351.5L444.9,352.7L444.6,353.8L444.3,355.0L444.0,356.1L443.9,357.3L443.7,358.4L443.7,359.6L443.6,360.7L443.5,361.9L443.5,363.1L443.5,364.2L443.5,365.4L443.5,366.5L443.5,367.7L443.5,368.8L443.5,370.0L443.5,371.1L443.5,372.3L443.5,373.5L443.5,374.6L443.5,375.8L443.5,376.9L443.5,378.1L443.5,379.2L443.5,380.4L443.5,381.5L443.5,382.7L443.5,383.8L443.5,385.0L443.5,386.2L443.5,387.3L443.5,388.5L443.5,389.6L443.5,390.8L443.5,391.9L443.5,393.1L443.5,394.2L443.5,395.4L443.5,396.5L443.5,397.7L443.5,397.7Z" fill="rgba(230,159,0,0.06)" stroke="none" stroke-width="1"/>
<path d="M446.7 320.3h0M448.1 304.9h0M447.3 265.5h0M450.2 334.9h0M451.6 344.4h0M445.1 265.8h0M453.6 277.4h0M449.5 271.5h0M449.5 338.0h0M455.5 343.9h0M453.4 257.8h0M446.3 283.1h0M451.8 272.9h0M446.4 295.5h0M450.3 344.8h0M456.2 262.2h0M446.2 272.1h0M445.9 297.7h0M448.6 300.2h0M445.1 328.9h0M451.9 292.0h0M451.4 269.0h0M451.4 284.5h0M452.7 354.1h0M446.5 330.2h0M449.6 267.6h0M455.2 334.5h0M447.8 281.7h0M455.8 331.8h0M449.1 252.7h0M449.5 340.5h0M453.6 270.5h0M450.0 293.7h0M449.8 316.7h0" stroke="#e69f00" stroke-width="1.7" stroke-linecap="round"/>
<path d="M443.5,214.1L443.5,215.3L443.5,216.4L443.5,217.6L443.5,218.7L443.5,219.9L443.5,221.0L443.5,222.2L443.5,223.3L443.5,224.5L443.5,225.6L443.5,226.8L443.5,228.0L443.5,229.1L443.5,230.3L443.5,231.4L443.5,232.6L443.5,233.7L443.5,234.9L443.5,236.0L443.5,237.2L443.5,238.3L443.5,239.5L443.6,240.7L443.6,241.8L443.7,243.0L443.7,244.1L443.8,245.3L443.9,246.4L444.0,247.6L444.1,248.7L444.3,249.9L444.5,251.1L444.7,252.2L445.0,253.4L445.3,254.5L445.7,255.7L446.2,256.8L446.7,258.0L447.3,259.1L447.9,260.3L448.6,261.4L449.3,262.6L450.0,263.8L450.8,264.9L451.6,266.1L452.4,267.2L453.2,268.4L453.9,269.5L454.6,270.7L455.2,271.8L455.7,273.0L456.1,274.1L456.4,275.3L456.6,276.5L456.7,277.6L456.6,278.8L456.5,279.9L456.2,281.1L455.8,282.2L455.4,283.4L454.9,284.5L454.4,285.7L453.8,286.8L453.2,288.0L452.7,289.2L452.2,290.3L451.7,291.5L451.3,292.6L451.0,293.8L450.7,294.9L450.4,296.1L450.3,297.2L450.2,298.4L450.1,299.5L450.1,300.7L450.0,301.9L450.0,303.0L450.0,304.2L450.0,305.3L450.0,306.5L449.9,307.6L449.8,308.8L449.7,309.9L449.5,311.1L449.3,312.3L449.0,313.4L448.8,314.6L448.5,315.7L448.3,316.9L448.1,318.0L447.9,319.2L447.8,320.3L447.7,321.5L447.8,322.6L448.0,323.8L448.4,325.0L448.8,326.1L449.4,327.3L450.1,328.4L450.8,329.6L451.6,330.7L452.3,331.9L453.0,333.0L453.6,334.2L454.0,335.3L454.2,336.5L454.2,337.7L454.0,338.8L453.5,340.0L452.9,341.1L452.1,342.3L451.2,343.4L450.3,344.6L449.3,345.7L448.4,346.9L447.5,348.0L446.7,349.2L446.0,350.4L445.4,351.5L444.9,352.7L444.6,353.8L444.3,355.0L444.0,356.1L443.9,357.3L443.7,358.4L443.7,359.6L443.6,360.7L443.5,361.9L443.5,363.1L443.5,364.2L443.5,365.4L443.5,366.5L443.5,367.7L443.5,368.8L443.5,370.0L443.5,371.1L443.5,372.3L443.5,373.5L443.5,374.6L443.5,375.8L443.5,376.9L443.5,378.1L443.5,379.2L443.5,380.4L443.5,381.5L443.5,382.7L443.5,383.8L443.5,385.0L443.5,386.2L443.5,387.3L443.5,388.5L443.5,389.6L443.5,390.8L443.5,391.9L443.5,393.1L443.5,394.2L443.5,395.4L443.5,396.5L443.5,397.7" fill="none" stroke="#1e1e1e" stroke-width="1.1"/>
<rect x="460.5" y="250.4" width="14.5" height="99.8" fill="rgba(230,159,0,0.075)"/>
<path d="M460.5,214.1L460.5,214.1L460.5,215.3L460.5,216.4L460.5,217.6L460.5,218.7L460.5,219.9L460.5,221.0L460.5,222.2L460.5,223.3L460.5,224.5L460.5,225.6L460.5,226.8L460.5,228.0L460.5,229.1L460.5,230.3L460.5,231.4L460.5,232.6L460.6,233.7L460.6,234.9L460.7,236.0L460.8,237.2L460.9,238.3L461.0,239.5L461.1,240.7L461.3,241.8L461.6,243.0L461.9,244.1L462.2,245.3L462.6,246.4L463.1,247.6L463.7,248.7L464.4,249.9L465.1,251.1L465.9,252.2L466.8,253.4L467.8,254.5L468.8,255.7L469.9,256.8L470.9,258.0L472.0,259.1L473.1,260.3L474.0,261.4L475.0,262.6L475.8,263.8L476.5,264.9L477.0,266.1L477.4,267.2L477.6,268.4L477.7,269.5L477.6,270.7L477.4,271.8L477.0,273.0L476.5,274.1L475.9,275.3L475.3,276.5L474.6,277.6L473.8,278.8L473.1,279.9L472.4,281.1L471.8,282.2L471.1,283.4L470.6,284.5L470.1,285.7L469.7,286.8L469.3,288.0L469.0,289.2L468.8,290.3L468.6,291.5L468.4,292.6L468.3,293.8L468.2,294.9L468.1,296.1L468.0,297.2L467.8,298.4L467.7,299.5L467.6,300.7L467.4,301.9L467.2,303.0L467.0,304.2L466.7,305.3L466.5,306.5L466.2,307.6L465.9,308.8L465.6,309.9L465.3,311.1L465.0,312.3L464.7,313.4L464.3,314.6L464.0,315.7L463.7,316.9L463.4,318.0L463.1,319.2L462.9,320.3L462.6,321.5L462.4,322.6L462.2,323.8L462.0,325.0L461.8,326.1L461.6,327.3L461.4,328.4L461.3,329.6L461.2,330.7L461.1,331.9L461.0,333.0L460.9,334.2L460.8,335.3L460.8,336.5L460.7,337.7L460.7,338.8L460.7,340.0L460.6,341.1L460.6,342.3L460.6,343.4L460.5,344.6L460.5,345.7L460.5,346.9L460.5,348.0L460.5,349.2L460.5,350.4L460.5,351.5L460.5,352.7L460.5,353.8L460.5,355.0L460.5,356.1L460.5,357.3L460.5,358.4L460.5,359.6L460.5,360.7L460.5,361.9L460.5,363.1L460.5,364.2L460.5,365.4L460.5,366.5L460.5,367.7L460.5,368.8L460.5,370.0L460.5,371.1L460.5,372.3L460.5,373.5L460.5,374.6L460.5,375.8L460.5,376.9L460.5,378.1L460.5,379.2L460.5,380.4L460.5,381.5L460.5,382.7L460.5,383.8L460.5,385.0L460.5,386.2L460.5,387.3L460.5,388.5L460.5,389.6L460.5,390.8L460.5,391.9L460.5,393.1L460.5,394.2L460.5,395.4L460.5,396.5L460.5,397.7L460.5,397.7Z" fill="rgba(230,159,0,0.06)" stroke="none" stroke-width="1"/>
<path d="M465.1 263.2h0M473.4 257.0h0M462.2 305.9h0M468.8 286.9h0M465.7 297.5h0M461.8 309.7h0M468.2 266.7h0M464.1 266.7h0M462.5 269.3h0M472.6 270.1h0M464.1 305.2h0M461.8 274.4h0M473.0 271.5h0M469.2 294.3h0M465.5 264.4h0M464.3 259.7h0M463.2 299.0h0M462.9 305.5h0M472.4 270.3h0M465.6 293.6h0M471.1 254.0h0M468.2 276.7h0M462.9 288.1h0M468.6 268.1h0M471.3 273.5h0M467.8 291.6h0M472.2 288.6h0M463.2 262.1h0M471.3 300.9h0M467.0 258.3h0M462.1 340.7h0M473.2 266.5h0M471.9 268.1h0M465.4 265.9h0" stroke="#e69f00" stroke-width="1.7" stroke-linecap="round"/>
<path d="M460.5,214.1L460.5,215.3L460.5,216.4L460.5,217.6L460.5,218.7L460.5,219.9L460.5,221.0L460.5,222.2L460.5,223.3L460.5,224.5L460.5,225.6L460.5,226.8L460.5,228.0L460.5,229.1L460.5,230.3L460.5,231.4L460.5,232.6L460.6,233.7L460.6,234.9L460.7,236.0L460.8,237.2L460.9,238.3L461.0,239.5L461.1,240.7L461.3,241.8L461.6,243.0L461.9,244.1L462.2,245.3L462.6,246.4L463.1,247.6L463.7,248.7L464.4,249.9L465.1,251.1L465.9,252.2L466.8,253.4L467.8,254.5L468.8,255.7L469.9,256.8L470.9,258.0L472.0,259.1L473.1,260.3L474.0,261.4L475.0,262.6L475.8,263.8L476.5,264.9L477.0,266.1L477.4,267.2L477.6,268.4L477.7,269.5L477.6,270.7L477.4,271.8L477.0,273.0L476.5,274.1L475.9,275.3L475.3,276.5L474.6,277.6L473.8,278.8L473.1,279.9L472.4,281.1L471.8,282.2L471.1,283.4L470.6,284.5L470.1,285.7L469.7,286.8L469.3,288.0L469.0,289.2L468.8,290.3L468.6,291.5L468.4,292.6L468.3,293.8L468.2,294.9L468.1,296.1L468.0,297.2L467.8,298.4L467.7,299.5L467.6,300.7L467.4,301.9L467.2,303.0L467.0,304.2L466.7,305.3L466.5,306.5L466.2,307.6L465.9,308.8L465.6,309.9L465.3,311.1L465.0,312.3L464.7,313.4L464.3,314.6L464.0,315.7L463.7,316.9L463.4,318.0L463.1,319.2L462.9,320.3L462.6,321.5L462.4,322.6L462.2,323.8L462.0,325.0L461.8,326.1L461.6,327.3L461.4,328.4L461.3,329.6L461.2,330.7L461.1,331.9L461.0,333.0L460.9,334.2L460.8,335.3L460.8,336.5L460.7,337.7L460.7,338.8L460.7,340.0L460.6,341.1L460.6,342.3L460.6,343.4L460.5,344.6L460.5,345.7L460.5,346.9L460.5,348.0L460.5,349.2L460.5,350.4L460.5,351.5L460.5,352.7L460.5,353.8L460.5,355.0L460.5,356.1L460.5,357.3L460.5,358.4L460.5,359.6L460.5,360.7L460.5,361.9L460.5,363.1L460.5,364.2L460.5,365.4L460.5,366.5L460.5,367.7L460.5,368.8L460.5,370.0L460.5,371.1L460.5,372.3L460.5,373.5L460.5,374.6L460.5,375.8L460.5,376.9L460.5,378.1L460.5,379.2L460.5,380.4L460.5,381.5L460.5,382.7L460.5,383.8L460.5,385.0L460.5,386.2L460.5,387.3L460.5,388.5L460.5,389.6L460.5,390.8L460.5,391.9L460.5,393.1L460.5,394.2L460.5,395.4L460.5,396.5L460.5,397.7" fill="none" stroke="#1e1e1e" stroke-width="1.1"/>
<rect x="478.5" y="254.2" width="14.5" height="95.9" fill="rgba(230,159,0,0.075)"/>
<path d="M478.5,214.1L478.5,214.1L478.5,215.3L478.5,216.4L478.5,217.6L478.5,218.7L478.5,219.9L478.5,221.0L478.5,222.2L478.5,223.3L478.5,224.5L478.5,225.6L478.5,226.8L478.5,228.0L478.5,229.1L478.5,230.3L478.5,231.4L478.5,232.6L478.5,233.7L478.5,234.9L478.5,236.0L478.5,237.2L478.5,238.3L478.6,239.5L478.6,240.7L478.7,241.8L478.7,243.0L478.8,244.1L478.9,245.3L479.0,246.4L479.1,247.6L479.2,248.7L479.4,249.9L479.6,251.1L479.9,252.2L480.1,253.4L480.5,254.5L480.9,255.7L481.3,256.8L481.8,258.0L482.3,259.1L482.9,260.3L483.5,261.4L484.2,262.6L484.9,263.8L485.6,264.9L486.4,266.1L487.1,267.2L487.9,268.4L488.7,269.5L489.4,270.7L490.1,271.8L490.7,273.0L491.3,274.1L491.8,275.3L492.2,276.5L492.5,277.6L492.8,278.8L492.9,279.9L492.9,281.1L492.9,282.2L492.7,283.4L492.5,284.5L492.2,285.7L491.8,286.8L491.4,288.0L491.0,289.2L490.5,290.3L490.1,291.5L489.6,292.6L489.2,293.8L488.8,294.9L488.4,296.1L488.1,297.2L487.8,298.4L487.6,299.5L487.4,300.7L487.2,301.9L487.1,303.0L487.0,304.2L486.9,305.3L486.8,306.5L486.6,307.6L486.5,308.8L486.4,309.9L486.2,311.1L486.0,312.3L485.8,313.4L485.6,314.6L485.4,315.7L485.1,316.9L484.8,318.0L484.6,319.2L484.3,320.3L484.1,321.5L483.9,322.6L483.7,323.8L483.5,325.0L483.4,326.1L483.3,327.3L483.3,328.4L483.2,329.6L483.1,330.7L483.0,331.9L482.9,333.0L482.8,334.2L482.6,335.3L482.3,336.5L482.0,337.7L481.7,338.8L481.4,340.0L481.0,341.1L480.7,342.3L480.4,343.4L480.0,344.6L479.7,345.7L479.5,346.9L479.3,348.0L479.1,349.2L478.9,350.4L478.8,351.5L478.7,352.7L478.7,353.8L478.6,355.0L478.5,356.1L478.5,357.3L478.5,358.4L478.5,359.6L478.5,360.7L478.5,361.9L478.5,363.1L478.5,364.2L478.5,365.4L478.5,366.5L478.5,367.7L478.5,368.8L478.5,370.0L478.5,371.1L478.5,372.3L478.5,373.5L478.5,374.6L478.5,375.8L478.5,376.9L478.5,378.1L478.5,379.2L478.5,380.4L478.5,381.5L478.5,382.7L478.5,383.8L478.5,385.0L478.5,386.2L478.5,387.3L478.5,388.5L478.5,389.6L478.5,390.8L478.5,391.9L478.5,393.1L478.5,394.2L478.5,395.4L478.5,396.5L478.5,397.7L478.5,397.7Z" fill="rgba(230,159,0,0.06)" stroke="none" stroke-width="1"/>
<path d="M491.2 293.7h0M480.4 255.7h0M487.5 289.1h0M482.7 273.6h0M486.1 310.5h0M485.6 293.6h0M487.5 328.2h0M490.4 331.5h0M485.5 281.6h0M489.8 278.7h0M489.2 337.4h0M488.2 293.5h0M486.8 265.9h0M480.3 262.0h0M486.1 348.4h0M483.8 299.4h0M482.7 262.1h0M480.9 293.9h0M491.1 294.0h0M490.2 289.7h0M481.8 340.3h0M482.1 340.5h0M490.1 268.8h0M485.9 270.8h0M485.8 286.5h0M481.2 324.7h0M489.2 302.6h0M481.4 313.9h0M482.8 299.0h0M481.9 274.9h0M484.7 322.7h0M482.1 256.7h0M483.1 310.1h0M485.2 274.0h0" stroke="#e69f00" stroke-width="1.7" stroke-linecap="round"/>
<path d="M478.5,214.1L478.5,215.3L478.5,216.4L478.5,217.6L478.5,218.7L478.5,219.9L478.5,221.0L478.5,222.2L478.5,223.3L478.5,224.5L478.5,225.6L478.5,226.8L478.5,228.0L478.5,229.1L478.5,230.3L478.5,231.4L478.5,232.6L478.5,233.7L478.5,234.9L478.5,236.0L478.5,237.2L478.5,238.3L478.6,239.5L478.6,240.7L478.7,241.8L478.7,243.0L478.8,244.1L478.9,245.3L479.0,246.4L479.1,247.6L479.2,248.7L479.4,249.9L479.6,251.1L479.9,252.2L480.1,253.4L480.5,254.5L480.9,255.7L481.3,256.8L481.8,258.0L482.3,259.1L482.9,260.3L483.5,261.4L484.2,262.6L484.9,263.8L485.6,264.9L486.4,266.1L487.1,267.2L487.9,268.4L488.7,269.5L489.4,270.7L490.1,271.8L490.7,273.0L491.3,274.1L491.8,275.3L492.2,276.5L492.5,277.6L492.8,278.8L492.9,279.9L492.9,281.1L492.9,282.2L492.7,283.4L492.5,284.5L492.2,285.7L491.8,286.8L491.4,288.0L491.0,289.2L490.5,290.3L490.1,291.5L489.6,292.6L489.2,293.8L488.8,294.9L488.4,296.1L488.1,297.2L487.8,298.4L487.6,299.5L487.4,300.7L487.2,301.9L487.1,303.0L487.0,304.2L486.9,305.3L486.8,306.5L486.6,307.6L486.5,308.8L486.4,309.9L486.2,311.1L486.0,312.3L485.8,313.4L485.6,314.6L485.4,315.7L485.1,316.9L484.8,318.0L484.6,319.2L484.3,320.3L484.1,321.5L483.9,322.6L483.7,323.8L483.5,325.0L483.4,326.1L483.3,327.3L483.3,328.4L483.2,329.6L483.1,330.7L483.0,331.9L482.9,333.0L482.8,334.2L482.6,335.3L482.3,336.5L482.0,337.7L481.7,338.8L481.4,340.0L481.0,341.1L480.7,342.3L480.4,343.4L480.0,344.6L479.7,345.7L479.5,346.9L479.3,348.0L479.1,349.2L478.9,350.4L478.8,351.5L478.7,352.7L478.7,353.8L478.6,355.0L478.5,356.1L478.5,357.3L478.5,358.4L478.5,359.6L478.5,360.7L478.5,361.9L478.5,363.1L478.5,364.2L478.5,365.4L478.5,366.5L478.5,367.7L478.5,368.8L478.5,370.0L478.5,371.1L478.5,372.3L478.5,373.5L478.5,374.6L478.5,375.8L478.5,376.9L478.5,378.1L478.5,379.2L478.5,380.4L478.5,381.5L478.5,382.7L478.5,383.8L478.5,385.0L478.5,386.2L478.5,387.3L478.5,388.5L478.5,389.6L478.5,390.8L478.5,391.9L478.5,393.1L478.5,394.2L478.5,395.4L478.5,396.5L478.5,397.7" fill="none" stroke="#1e1e1e" stroke-width="1.1"/>
<rect x="495.5" y="259.4" width="14.5" height="93.4" fill="rgba(230,159,0,0.075)"/>
<path d="M495.5,214.1L495.5,214.1L495.5,215.3L495.5,216.4L495.5,217.6L495.5,218.7L495.5,219.9L495.5,221.0L495.5,222.2L495.5,223.3L495.5,224.5L495.5,225.6L495.5,226.8L495.5,228.0L495.5,229.1L495.5,230.3L495.5,231.4L495.5,232.6L495.5,233.7L495.5,234.9L495.5,236.0L495.5,237.2L495.5,238.3L495.6,239.5L495.6,240.7L495.7,241.8L495.7,243.0L495.8,244.1L495.8,245.3L495.9,246.4L496.1,247.6L496.2,248.7L496.4,249.9L496.6,251.1L496.8,252.2L497.1,253.4L497.4,254.5L497.7,255.7L498.0,256.8L498.4,258.0L498.7,259.1L499.1,260.3L499.5,261.4L499.9,262.6L500.3,263.8L500.7,264.9L501.1,266.1L501.5,267.2L501.8,268.4L502.2,269.5L502.5,270.7L502.8,271.8L503.1,273.0L503.4,274.1L503.7,275.3L504.0,276.5L504.3,277.6L504.6,278.8L504.9,279.9L505.3,281.1L505.6,282.2L505.9,283.4L506.3,284.5L506.6,285.7L506.9,286.8L507.1,288.0L507.3,289.2L507.5,290.3L507.6,291.5L507.7,292.6L507.7,293.8L507.6,294.9L507.5,296.1L507.2,297.2L507.0,298.4L506.6,299.5L506.2,300.7L505.8,301.9L505.3,303.0L504.8,304.2L504.3,305.3L503.8,306.5L503.3,307.6L502.8,308.8L502.4,309.9L502.0,311.1L501.7,312.3L501.5,313.4L501.4,314.6L501.4,315.7L501.6,316.9L501.8,318.0L502.1,319.2L502.5,320.3L503.0,321.5L503.5,322.6L504.0,323.8L504.5,325.0L505.0,326.1L505.4,327.3L505.7,328.4L505.9,329.6L505.9,330.7L505.8,331.9L505.5,333.0L505.1,334.2L504.5,335.3L503.9,336.5L503.2,337.7L502.4,338.8L501.6,340.0L500.8,341.1L500.0,342.3L499.3,343.4L498.7,344.6L498.1,345.7L497.6,346.9L497.1,348.0L496.8,349.2L496.5,350.4L496.2,351.5L496.0,352.7L495.9,353.8L495.8,355.0L495.7,356.1L495.6,357.3L495.6,358.4L495.5,359.6L495.5,360.7L495.5,361.9L495.5,363.1L495.5,364.2L495.5,365.4L495.5,366.5L495.5,367.7L495.5,368.8L495.5,370.0L495.5,371.1L495.5,372.3L495.5,373.5L495.5,374.6L495.5,375.8L495.5,376.9L495.5,378.1L495.5,379.2L495.5,380.4L495.5,381.5L495.5,382.7L495.5,383.8L495.5,385.0L495.5,386.2L495.5,387.3L495.5,388.5L495.5,389.6L495.5,390.8L495.5,391.9L495.5,393.1L495.5,394.2L495.5,395.4L495.5,396.5L495.5,397.7L495.5,397.7Z" fill="rgba(230,159,0,0.06)" stroke="none" stroke-width="1"/>
<path d="M505.7 338.9h0M499.7 283.7h0M505.2 323.2h0M501.6 287.9h0M498.8 338.0h0M505.2 293.9h0M507.0 301.9h0M502.2 335.3h0M507.5 317.8h0M504.9 270.5h0M507.7 275.2h0M497.1 352.0h0M503.8 264.3h0M502.6 287.5h0M503.2 344.0h0M501.0 261.1h0M503.8 277.4h0M507.8 281.5h0M503.4 269.3h0M501.1 299.0h0M498.1 310.5h0M504.4 289.6h0M505.9 271.6h0M507.3 330.5h0M498.1 329.1h0M502.0 306.8h0M502.8 274.9h0M503.2 305.1h0M506.8 313.7h0M503.7 295.6h0M502.1 334.8h0M497.8 294.1h0M503.6 303.5h0M506.0 273.5h0" stroke="#e69f00" stroke-width="1.7" stroke-linecap="round"/>
<path d="M495.5,214.1L495.5,215.3L495.5,216.4L495.5,217.6L495.5,218.7L495.5,219.9L495.5,221.0L495.5,222.2L495.5,223.3L495.5,224.5L495.5,225.6L495.5,226.8L495.5,228.0L495.5,229.1L495.5,230.3L495.5,231.4L495.5,232.6L495.5,233.7L495.5,234.9L495.5,236.0L495.5,237.2L495.5,238.3L495.6,239.5L495.6,240.7L495.7,241.8L495.7,243.0L495.8,244.1L495.8,245.3L495.9,246.4L496.1,247.6L496.2,248.7L496.4,249.9L496.6,251.1L496.8,252.2L497.1,253.4L497.4,254.5L497.7,255.7L498.0,256.8L498.4,258.0L498.7,259.1L499.1,260.3L499.5,261.4L499.9,262.6L500.3,263.8L500.7,264.9L501.1,266.1L501.5,267.2L501.8,268.4L502.2,269.5L502.5,270.7L502.8,271.8L503.1,273.0L503.4,274.1L503.7,275.3L504.0,276.5L504.3,277.6L504.6,278.8L504.9,279.9L505.3,281.1L505.6,282.2L505.9,283.4L506.3,284.5L506.6,285.7L506.9,286.8L507.1,288.0L507.3,289.2L507.5,290.3L507.6,291.5L507.7,292.6L507.7,293.8L507.6,294.9L507.5,296.1L507.2,297.2L507.0,298.4L506.6,299.5L506.2,300.7L505.8,301.9L505.3,303.0L504.8,304.2L504.3,305.3L503.8,306.5L503.3,307.6L502.8,308.8L502.4,309.9L502.0,311.1L501.7,312.3L501.5,313.4L501.4,314.6L501.4,315.7L501.6,316.9L501.8,318.0L502.1,319.2L502.5,320.3L503.0,321.5L503.5,322.6L504.0,323.8L504.5,325.0L505.0,326.1L505.4,327.3L505.7,328.4L505.9,329.6L505.9,330.7L505.8,331.9L505.5,333.0L505.1,334.2L504.5,335.3L503.9,336.5L503.2,337.7L502.4,338.8L501.6,340.0L500.8,341.1L500.0,342.3L499.3,343.4L498.7,344.6L498.1,345.7L497.6,346.9L497.1,348.0L496.8,349.2L496.5,350.4L496.2,351.5L496.0,352.7L495.9,353.8L495.8,355.0L495.7,356.1L495.6,357.3L495.6,358.4L495.5,359.6L495.5,360.7L495.5,361.9L495.5,363.1L495.5,364.2L495.5,365.4L495.5,366.5L495.5,367.7L495.5,368.8L495.5,370.0L495.5,371.1L495.5,372.3L495.5,373.5L495.5,374.6L495.5,375.8L495.5,376.9L495.5,378.1L495.5,379.2L495.5,380.4L495.5,381.5L495.5,382.7L495.5,383.8L495.5,385.0L495.5,386.2L495.5,387.3L495.5,388.5L495.5,389.6L495.5,390.8L495.5,391.9L495.5,393.1L495.5,394.2L495.5,395.4L495.5,396.5L495.5,397.7" fill="none" stroke="#1e1e1e" stroke-width="1.1"/>
<rect x="513.5" y="254.2" width="14.5" height="95.9" fill="rgba(230,159,0,0.075)"/>
<path d="M513.5,214.1L513.5,214.1L513.5,215.3L513.5,216.4L513.5,217.6L513.5,218.7L513.5,219.9L513.5,221.0L513.5,222.2L513.5,223.3L513.5,224.5L513.5,225.6L513.5,226.8L513.5,228.0L513.5,229.1L513.5,230.3L513.5,231.4L513.5,232.6L513.5,233.7L513.5,234.9L513.6,236.0L513.6,237.2L513.7,238.3L513.7,239.5L513.8,240.7L513.9,241.8L514.0,243.0L514.1,244.1L514.2,245.3L514.4,246.4L514.6,247.6L514.8,248.7L515.1,249.9L515.4,251.1L515.7,252.2L516.1,253.4L516.5,254.5L516.9,255.7L517.3,256.8L517.7,258.0L518.1,259.1L518.5,260.3L519.0,261.4L519.3,262.6L519.7,263.8L520.0,264.9L520.3,266.1L520.6,267.2L520.8,268.4L521.0,269.5L521.2,270.7L521.4,271.8L521.5,273.0L521.6,274.1L521.7,275.3L521.8,276.5L521.9,277.6L522.0,278.8L522.1,279.9L522.2,281.1L522.3,282.2L522.4,283.4L522.5,284.5L522.6,285.7L522.7,286.8L522.7,288.0L522.7,289.2L522.7,290.3L522.7,291.5L522.6,292.6L522.5,293.8L522.4,294.9L522.2,296.1L522.0,297.2L521.8,298.4L521.6,299.5L521.4,300.7L521.1,301.9L520.8,303.0L520.6,304.2L520.3,305.3L520.1,306.5L519.9,307.6L519.8,308.8L519.7,309.9L519.7,311.1L519.7,312.3L519.8,313.4L519.9,314.6L520.1,315.7L520.4,316.9L520.7,318.0L521.0,319.2L521.4,320.3L521.8,321.5L522.1,322.6L522.5,323.8L522.7,325.0L523.0,326.1L523.1,327.3L523.2,328.4L523.1,329.6L523.0,330.7L522.8,331.9L522.4,333.0L522.0,334.2L521.5,335.3L520.9,336.5L520.3,337.7L519.7,338.8L519.1,340.0L518.4,341.1L517.8,342.3L517.2,343.4L516.7,344.6L516.2,345.7L515.7,346.9L515.3,348.0L515.0,349.2L514.7,350.4L514.4,351.5L514.2,352.7L514.1,353.8L513.9,355.0L513.8,356.1L513.7,357.3L513.7,358.4L513.6,359.6L513.6,360.7L513.5,361.9L513.5,363.1L513.5,364.2L513.5,365.4L513.5,366.5L513.5,367.7L513.5,368.8L513.5,370.0L513.5,371.1L513.5,372.3L513.5,373.5L513.5,374.6L513.5,375.8L513.5,376.9L513.5,378.1L513.5,379.2L513.5,380.4L513.5,381.5L513.5,382.7L513.5,383.8L513.5,385.0L513.5,386.2L513.5,387.3L513.5,388.5L513.5,389.6L513.5,390.8L513.5,391.9L513.5,393.1L513.5,394.2L513.5,395.4L513.5,396.5L513.5,397.7L513.5,397.7Z" fill="rgba(230,159,0,0.06)" stroke="none" stroke-width="1"/>
<path d="M520.4 334.6h0M518.0 262.0h0M524.5 321.0h0M524.7 275.1h0M520.7 281.2h0M524.0 285.2h0M526.1 308.3h0M518.3 313.9h0M525.2 339.5h0M516.2 255.6h0M517.6 274.1h0M522.3 289.0h0M524.2 330.1h0M520.3 304.9h0M526.4 300.7h0M520.7 324.5h0M519.4 316.2h0M521.3 281.9h0M525.6 264.7h0M517.1 296.7h0M523.1 333.7h0M525.3 309.7h0M525.7 261.9h0M514.7 294.6h0M526.1 290.2h0M515.4 307.9h0M525.5 309.0h0M523.1 342.8h0M524.6 287.3h0M515.9 292.5h0M516.3 311.4h0M526.4 335.2h0M520.9 320.4h0M518.1 297.8h0" stroke="#e69f00" stroke-width="1.7" stroke-linecap="round"/>
<path d="M513.5,214.1L513.5,215.3L513.5,216.4L513.5,217.6L513.5,218.7L513.5,219.9L513.5,221.0L513.5,222.2L513.5,223.3L513.5,224.5L513.5,225.6L513.5,226.8L513.5,228.0L513.5,229.1L513.5,230.3L513.5,231.4L513.5,232.6L513.5,233.7L513.5,234.9L513.6,236.0L513.6,237.2L513.7,238.3L513.7,239.5L513.8,240.7L513.9,241.8L514.0,243.0L514.1,244.1L514.2,245.3L514.4,246.4L514.6,247.6L514.8,248.7L515.1,249.9L515.4,251.1L515.7,252.2L516.1,253.4L516.5,254.5L516.9,255.7L517.3,256.8L517.7,258.0L518.1,259.1L518.5,260.3L519.0,261.4L519.3,262.6L519.7,263.8L520.0,264.9L520.3,266.1L520.6,267.2L520.8,268.4L521.0,269.5L521.2,270.7L521.4,271.8L521.5,273.0L521.6,274.1L521.7,275.3L521.8,276.5L521.9,277.6L522.0,278.8L522.1,279.9L522.2,281.1L522.3,282.2L522.4,283.4L522.5,284.5L522.6,285.7L522.7,286.8L522.7,288.0L522.7,289.2L522.7,290.3L522.7,291.5L522.6,292.6L522.5,293.8L522.4,294.9L522.2,296.1L522.0,297.2L521.8,298.4L521.6,299.5L521.4,300.7L521.1,301.9L520.8,303.0L520.6,304.2L520.3,305.3L520.1,306.5L519.9,307.6L519.8,308.8L519.7,309.9L519.7,311.1L519.7,312.3L519.8,313.4L519.9,314.6L520.1,315.7L520.4,316.9L520.7,318.0L521.0,319.2L521.4,320.3L521.8,321.5L522.1,322.6L522.5,323.8L522.7,325.0L523.0,326.1L523.1,327.3L523.2,328.4L523.1,329.6L523.0,330.7L522.8,331.9L522.4,333.0L522.0,334.2L521.5,335.3L520.9,336.5L520.3,337.7L519.7,338.8L519.1,340.0L518.4,341.1L517.8,342.3L517.2,343.4L516.7,344.6L516.2,345.7L515.7,346.9L515.3,348.0L515.0,349.2L514.7,350.4L514.4,351.5L514.2,352.7L514.1,353.8L513.9,355.0L513.8,356.1L513.7,357.3L513.7,358.4L513.6,359.6L513.6,360.7L513.5,361.9L513.5,363.1L513.5,364.2L513.5,365.4L513.5,366.5L513.5,367.7L513.5,368.8L513.5,370.0L513.5,371.1L513.5,372.3L513.5,373.5L513.5,374.6L513.5,375.8L513.5,376.9L513.5,378.1L513.5,379.2L513.5,380.4L513.5,381.5L513.5,382.7L513.5,383.8L513.5,385.0L513.5,386.2L513.5,387.3L513.5,388.5L513.5,389.6L513.5,390.8L513.5,391.9L513.5,393.1L513.5,394.2L513.5,395.4L513.5,396.5L513.5,397.7" fill="none" stroke="#1e1e1e" stroke-width="1.1"/>
<rect x="530.5" y="254.2" width="14.5" height="109.4" fill="rgba(230,159,0,0.075)"/>
<path d="M530.5,214.1L530.5,214.1L530.5,215.3L530.5,216.4L530.5,217.6L530.5,218.7L530.5,219.9L530.5,221.0L530.5,222.2L530.5,223.3L530.5,224.5L530.5,225.6L530.5,226.8L530.5,228.0L530.5,229.1L530.5,230.3L530.5,231.4L530.5,232.6L530.5,233.7L530.5,234.9L530.5,236.0L530.5,237.2L530.6,238.3L530.6,239.5L530.6,240.7L530.6,241.8L530.7,243.0L530.7,244.1L530.7,245.3L530.8,246.4L530.8,247.6L530.9,248.7L530.9,249.9L531.0,251.1L531.1,252.2L531.2,253.4L531.2,254.5L531.3,255.7L531.5,256.8L531.6,258.0L531.7,259.1L531.8,260.3L532.0,261.4L532.2,262.6L532.3,263.8L532.5,264.9L532.7,266.1L532.9,267.2L533.1,268.4L533.4,269.5L533.6,270.7L533.8,271.8L534.1,273.0L534.3,274.1L534.6,275.3L534.9,276.5L535.1,277.6L535.4,278.8L535.6,279.9L535.8,281.1L536.1,282.2L536.3,283.4L536.5,284.5L536.7,285.7L536.9,286.8L537.0,288.0L537.2,289.2L537.3,290.3L537.4,291.5L537.4,292.6L537.5,293.8L537.5,294.9L537.5,296.1L537.5,297.2L537.4,298.4L537.3,299.5L537.3,300.7L537.2,301.9L537.0,303.0L536.9,304.2L536.8,305.3L536.7,306.5L536.6,307.6L536.5,308.8L536.4,309.9L536.4,311.1L536.5,312.3L536.6,313.4L536.8,314.6L537.1,315.7L537.5,316.9L538.0,318.0L538.6,319.2L539.3,320.3L540.1,321.5L540.9,322.6L541.8,323.8L542.7,325.0L543.5,326.1L544.3,327.3L545.1,328.4L545.7,329.6L546.1,330.7L546.4,331.9L546.5,333.0L546.3,334.2L546.0,335.3L545.5,336.5L544.8,337.7L543.9,338.8L542.9,340.0L541.9,341.1L540.7,342.3L539.6,343.4L538.5,344.6L537.4,345.7L536.4,346.9L535.4,348.0L534.6,349.2L533.8,350.4L533.2,351.5L532.6,352.7L532.2,353.8L531.8,355.0L531.5,356.1L531.2,357.3L531.0,358.4L530.9,359.6L530.8,360.7L530.7,361.9L530.6,363.1L530.6,364.2L530.5,365.4L530.5,366.5L530.5,367.7L530.5,368.8L530.5,370.0L530.5,371.1L530.5,372.3L530.5,373.5L530.5,374.6L530.5,375.8L530.5,376.9L530.5,378.1L530.5,379.2L530.5,380.4L530.5,381.5L530.5,382.7L530.5,383.8L530.5,385.0L530.5,386.2L530.5,387.3L530.5,388.5L530.5,389.6L530.5,390.8L530.5,391.9L530.5,393.1L530.5,394.2L530.5,395.4L530.5,396.5L530.5,397.7L530.5,397.7Z" fill="rgba(230,159,0,0.06)" stroke="none" stroke-width="1"/>
<path d="M540.0 362.5h0M531.9 347.5h0M533.8 303.3h0M537.9 299.5h0M543.4 276.6h0M536.3 347.1h0M537.2 284.8h0M536.0 255.6h0M535.0 344.6h0M533.5 325.8h0M535.2 330.7h0M541.7 334.6h0M539.0 263.6h0M535.9 272.3h0M536.9 318.1h0M543.0 265.1h0M543.1 317.6h0M541.1 334.4h0M542.0 329.7h0M540.1 327.1h0M537.7 263.5h0M534.1 289.4h0M541.0 344.1h0M539.6 276.8h0M539.5 320.1h0M539.5 264.4h0M539.0 350.4h0M534.4 282.2h0M537.2 307.9h0M536.0 321.8h0M538.1 332.5h0M542.6 350.5h0M532.4 334.7h0M534.8 301.0h0" stroke="#e69f00" stroke-width="1.7" stroke-linecap="round"/>
<path d="M530.5,214.1L530.5,215.3L530.5,216.4L530.5,217.6L530.5,218.7L530.5,219.9L530.5,221.0L530.5,222.2L530.5,223.3L530.5,224.5L530.5,225.6L530.5,226.8L530.5,228.0L530.5,229.1L530.5,230.3L530.5,231.4L530.5,232.6L530.5,233.7L530.5,234.9L530.5,236.0L530.5,237.2L530.6,238.3L530.6,239.5L530.6,240.7L530.6,241.8L530.7,243.0L530.7,244.1L530.7,245.3L530.8,246.4L530.8,247.6L530.9,248.7L530.9,249.9L531.0,251.1L531.1,252.2L531.2,253.4L531.2,254.5L531.3,255.7L531.5,256.8L531.6,258.0L531.7,259.1L531.8,260.3L532.0,261.4L532.2,262.6L532.3,263.8L532.5,264.9L532.7,266.1L532.9,267.2L533.1,268.4L533.4,269.5L533.6,270.7L533.8,271.8L534.1,273.0L534.3,274.1L534.6,275.3L534.9,276.5L535.1,277.6L535.4,278.8L535.6,279.9L535.8,281.1L536.1,282.2L536.3,283.4L536.5,284.5L536.7,285.7L536.9,286.8L537.0,288.0L537.2,289.2L537.3,290.3L537.4,291.5L537.4,292.6L537.5,293.8L537.5,294.9L537.5,296.1L537.5,297.2L537.4,298.4L537.3,299.5L537.3,300.7L537.2,301.9L537.0,303.0L536.9,304.2L536.8,305.3L536.7,306.5L536.6,307.6L536.5,308.8L536.4,309.9L536.4,311.1L536.5,312.3L536.6,313.4L536.8,314.6L537.1,315.7L537.5,316.9L538.0,318.0L538.6,319.2L539.3,320.3L540.1,321.5L540.9,322.6L541.8,323.8L542.7,325.0L543.5,326.1L544.3,327.3L545.1,328.4L545.7,329.6L546.1,330.7L546.4,331.9L546.5,333.0L546.3,334.2L546.0,335.3L545.5,336.5L544.8,337.7L543.9,338.8L542.9,340.0L541.9,341.1L540.7,342.3L539.6,343.4L538.5,344.6L537.4,345.7L536.4,346.9L535.4,348.0L534.6,349.2L533.8,350.4L533.2,351.5L532.6,352.7L532.2,353.8L531.8,355.0L531.5,356.1L531.2,357.3L531.0,358.4L530.9,359.6L530.8,360.7L530.7,361.9L530.6,363.1L530.6,364.2L530.5,365.4L530.5,366.5L530.5,367.7L530.5,368.8L530.5,370.0L530.5,371.1L530.5,372.3L530.5,373.5L530.5,374.6L530.5,375.8L530.5,376.9L530.5,378.1L530.5,379.2L530.5,380.4L530.5,381.5L530.5,382.7L530.5,383.8L530.5,385.0L530.5,386.2L530.5,387.3L530.5,388.5L530.5,389.6L530.5,390.8L530.5,391.9L530.5,393.1L530.5,394.2L530.5,395.4L530.5,396.5L530.5,397.7" fill="none" stroke="#1e1e1e" stroke-width="1.1"/>
<rect x="548.5" y="262.5" width="14.5" height="106.8" fill="rgba(230,159,0,0.075)"/>
<path d="M548.5,214.1L548.5,214.1L548.5,215.3L548.5,216.4L548.5,217.6L548.5,218.7L548.5,219.9L548.5,221.0L548.5,222.2L548.5,223.3L548.5,224.5L548.5,225.6L548.5,226.8L548.5,228.0L548.5,229.1L548.5,230.3L548.5,231.4L548.5,232.6L548.5,233.7L548.5,234.9L548.5,236.0L548.5,237.2L548.5,238.3L548.5,239.5L548.5,240.7L548.5,241.8L548.6,243.0L548.6,244.1L548.6,245.3L548.7,246.4L548.7,247.6L548.7,248.7L548.7,249.9L548.8,251.1L548.8,252.2L548.9,253.4L548.9,254.5L549.0,255.7L549.1,256.8L549.1,258.0L549.2,259.1L549.3,260.3L549.4,261.4L549.5,262.6L549.6,263.8L549.8,264.9L549.9,266.1L550.1,267.2L550.2,268.4L550.4,269.5L550.5,270.7L550.7,271.8L550.9,273.0L551.1,274.1L551.3,275.3L551.5,276.5L551.7,277.6L551.9,278.8L552.1,279.9L552.3,281.1L552.5,282.2L552.7,283.4L552.9,284.5L553.0,285.7L553.2,286.8L553.4,288.0L553.5,289.2L553.6,290.3L553.8,291.5L553.9,292.6L554.0,293.8L554.1,294.9L554.1,296.1L554.2,297.2L554.3,298.4L554.3,299.5L554.3,300.7L554.4,301.9L554.4,303.0L554.4,304.2L554.5,305.3L554.6,306.5L554.6,307.6L554.7,308.8L554.8,309.9L555.0,311.1L555.2,312.3L555.4,313.4L555.7,314.6L556.0,315.7L556.4,316.9L556.9,318.0L557.4,319.2L558.0,320.3L558.7,321.5L559.5,322.6L560.3,323.8L561.2,325.0L562.2,326.1L563.2,327.3L564.3,328.4L565.4,329.6L566.5,330.7L567.6,331.9L568.6,333.0L569.6,334.2L570.6,335.3L571.3,336.5L572.0,337.7L572.5,338.8L572.8,340.0L573.0,341.1L572.9,342.3L572.6,343.4L572.1,344.6L571.5,345.7L570.6,346.9L569.6,348.0L568.5,349.2L567.2,350.4L565.9,351.5L564.5,352.7L563.1,353.8L561.6,355.0L560.2,356.1L558.9,357.3L557.6,358.4L556.4,359.6L555.3,360.7L554.3,361.9L553.4,363.1L552.6,364.2L551.9,365.4L551.2,366.5L550.7,367.7L550.3,368.8L549.9,370.0L549.6,371.1L549.4,372.3L549.2,373.5L549.0,374.6L548.9,375.8L548.8,376.9L548.7,378.1L548.7,379.2L548.6,380.4L548.6,381.5L548.5,382.7L548.5,383.8L548.5,385.0L548.5,386.2L548.5,387.3L548.5,388.5L548.5,389.6L548.5,390.8L548.5,391.9L548.5,393.1L548.5,394.2L548.5,395.4L548.5,396.5L548.5,397.7L548.5,397.7Z" fill="rgba(230,159,0,0.06)" stroke="none" stroke-width="1"/>
<path d="M559.0 342.1h0M556.5 322.2h0M553.1 316.8h0M558.5 332.3h0M553.2 333.8h0M561.4 342.7h0M560.0 340.1h0M558.4 342.9h0M552.3 324.0h0M557.1 342.1h0M553.3 319.7h0M550.0 337.5h0M554.9 329.8h0M552.5 335.7h0M557.6 267.4h0M551.9 331.8h0M558.5 302.9h0M550.8 323.4h0M552.5 279.9h0M559.3 341.5h0M559.6 355.5h0M551.9 320.5h0M558.3 286.1h0M557.9 339.1h0M553.2 289.6h0M555.8 355.2h0M553.6 287.8h0M555.5 321.1h0M554.7 331.7h0M557.7 287.3h0M561.3 317.1h0M555.7 310.8h0M554.3 342.9h0M550.7 367.1h0" stroke="#e69f00" stroke-width="1.7" stroke-linecap="round"/>
<path d="M548.5,214.1L548.5,215.3L548.5,216.4L548.5,217.6L548.5,218.7L548.5,219.9L548.5,221.0L548.5,222.2L548.5,223.3L548.5,224.5L548.5,225.6L548.5,226.8L548.5,228.0L548.5,229.1L548.5,230.3L548.5,231.4L548.5,232.6L548.5,233.7L548.5,234.9L548.5,236.0L548.5,237.2L548.5,238.3L548.5,239.5L548.5,240.7L548.5,241.8L548.6,243.0L548.6,244.1L548.6,245.3L548.7,246.4L548.7,247.6L548.7,248.7L548.7,249.9L548.8,251.1L548.8,252.2L548.9,253.4L548.9,254.5L549.0,255.7L549.1,256.8L549.1,258.0L549.2,259.1L549.3,260.3L549.4,261.4L549.5,262.6L549.6,263.8L549.8,264.9L549.9,266.1L550.1,267.2L550.2,268.4L550.4,269.5L550.5,270.7L550.7,271.8L550.9,273.0L551.1,274.1L551.3,275.3L551.5,276.5L551.7,277.6L551.9,278.8L552.1,279.9L552.3,281.1L552.5,282.2L552.7,283.4L552.9,284.5L553.0,285.7L553.2,286.8L553.4,288.0L553.5,289.2L553.6,290.3L553.8,291.5L553.9,292.6L554.0,293.8L554.1,294.9L554.1,296.1L554.2,297.2L554.3,298.4L554.3,299.5L554.3,300.7L554.4,301.9L554.4,303.0L554.4,304.2L554.5,305.3L554.6,306.5L554.6,307.6L554.7,308.8L554.8,309.9L555.0,311.1L555.2,312.3L555.4,313.4L555.7,314.6L556.0,315.7L556.4,316.9L556.9,318.0L557.4,319.2L558.0,320.3L558.7,321.5L559.5,322.6L560.3,323.8L561.2,325.0L562.2,326.1L563.2,327.3L564.3,328.4L565.4,329.6L566.5,330.7L567.6,331.9L568.6,333.0L569.6,334.2L570.6,335.3L571.3,336.5L572.0,337.7L572.5,338.8L572.8,340.0L573.0,341.1L572.9,342.3L572.6,343.4L572.1,344.6L571.5,345.7L570.6,346.9L569.6,348.0L568.5,349.2L567.2,350.4L565.9,351.5L564.5,352.7L563.1,353.8L561.6,355.0L560.2,356.1L558.9,357.3L557.6,358.4L556.4,359.6L555.3,360.7L554.3,361.9L553.4,363.1L552.6,364.2L551.9,365.4L551.2,366.5L550.7,367.7L550.3,368.8L549.9,370.0L549.6,371.1L549.4,372.3L549.2,373.5L549.0,374.6L548.9,375.8L548.8,376.9L548.7,378.1L548.7,379.2L548.6,380.4L548.6,381.5L548.5,382.7L548.5,383.8L548.5,385.0L548.5,386.2L548.5,387.3L548.5,388.5L548.5,389.6L548.5,390.8L548.5,391.9L548.5,393.1L548.5,394.2L548.5,395.4L548.5,396.5L548.5,397.7" fill="none" stroke="#1e1e1e" stroke-width="1.1"/>
<rect x="565.5" y="278.5" width="14.5" height="90.8" fill="rgba(230,159,0,0.075)"/>
<path d="M565.5,214.1L565.5,214.1L565.5,215.3L565.5,216.4L565.5,217.6L565.5,218.7L565.5,219.9L565.5,221.0L565.5,222.2L565.5,223.3L565.5,224.5L565.5,225.6L565.5,226.8L565.5,228.0L565.5,229.1L565.5,230.3L565.5,231.4L565.5,232.6L565.5,233.7L565.5,234.9L565.5,236.0L565.5,237.2L565.5,238.3L565.5,239.5L565.5,240.7L565.5,241.8L565.5,243.0L565.5,244.1L565.5,245.3L565.5,246.4L565.5,247.6L565.5,248.7L565.5,249.9L565.5,251.1L565.5,252.2L565.5,253.4L565.6,254.5L565.6,255.7L565.6,256.8L565.7,258.0L565.7,259.1L565.8,260.3L565.8,261.4L565.9,262.6L565.9,263.8L566.0,264.9L566.1,266.1L566.2,267.2L566.3,268.4L566.4,269.5L566.6,270.7L566.7,271.8L566.9,273.0L567.0,274.1L567.2,275.3L567.4,276.5L567.6,277.6L567.8,278.8L568.1,279.9L568.3,281.1L568.5,282.2L568.7,283.4L569.0,284.5L569.2,285.7L569.4,286.8L569.6,288.0L569.8,289.2L570.0,290.3L570.2,291.5L570.3,292.6L570.5,293.8L570.6,294.9L570.7,296.1L570.8,297.2L570.8,298.4L570.9,299.5L570.9,300.7L571.0,301.9L571.0,303.0L571.1,304.2L571.1,305.3L571.1,306.5L571.2,307.6L571.3,308.8L571.4,309.9L571.6,311.1L571.8,312.3L572.1,313.4L572.4,314.6L572.8,315.7L573.2,316.9L573.7,318.0L574.3,319.2L575.0,320.3L575.7,321.5L576.6,322.6L577.4,323.8L578.4,325.0L579.4,326.1L580.4,327.3L581.5,328.4L582.6,329.6L583.6,330.7L584.6,331.9L585.6,333.0L586.4,334.2L587.1,335.3L587.7,336.5L588.2,337.7L588.4,338.8L588.5,340.0L588.4,341.1L588.1,342.3L587.6,343.4L586.9,344.6L586.0,345.7L585.0,346.9L583.8,348.0L582.6,349.2L581.3,350.4L579.9,351.5L578.6,352.7L577.2,353.8L575.9,355.0L574.6,356.1L573.4,357.3L572.3,358.4L571.3,359.6L570.4,360.7L569.6,361.9L568.9,363.1L568.3,364.2L567.7,365.4L567.3,366.5L566.9,367.7L566.6,368.8L566.4,370.0L566.2,371.1L566.0,372.3L565.9,373.5L565.8,374.6L565.7,375.8L565.7,376.9L565.6,378.1L565.5,379.2L565.5,380.4L565.5,381.5L565.5,382.7L565.5,383.8L565.5,385.0L565.5,386.2L565.5,387.3L565.5,388.5L565.5,389.6L565.5,390.8L565.5,391.9L565.5,393.1L565.5,394.2L565.5,395.4L565.5,396.5L565.5,397.7L565.5,397.7Z" fill="rgba(230,159,0,0.06)" stroke="none" stroke-width="1"/>
<path d="M567.9 345.4h0M572.1 351.7h0M575.1 333.6h0M575.9 347.8h0M573.0 329.6h0M574.7 323.7h0M576.1 333.6h0M572.5 307.1h0M567.9 320.0h0M569.6 320.0h0M575.5 367.1h0M574.9 323.1h0M571.3 310.9h0M570.2 358.4h0M575.8 299.5h0M570.0 361.4h0M574.7 351.5h0M575.3 340.1h0M568.8 329.1h0M570.0 307.4h0M578.4 295.2h0M567.1 295.1h0M576.2 323.6h0M573.7 328.9h0M570.9 357.1h0M576.9 335.5h0M569.0 367.5h0M568.3 342.8h0M574.1 301.1h0M567.5 337.1h0M576.1 302.9h0M567.5 285.9h0M574.2 359.5h0M572.0 322.9h0" stroke="#e69f00" stroke-width="1.7" stroke-linecap="round"/>
<path d="M565.5,214.1L565.5,215.3L565.5,216.4L565.5,217.6L565.5,218.7L565.5,219.9L565.5,221.0L565.5,222.2L565.5,223.3L565.5,224.5L565.5,225.6L565.5,226.8L565.5,228.0L565.5,229.1L565.5,230.3L565.5,231.4L565.5,232.6L565.5,233.7L565.5,234.9L565.5,236.0L565.5,237.2L565.5,238.3L565.5,239.5L565.5,240.7L565.5,241.8L565.5,243.0L565.5,244.1L565.5,245.3L565.5,246.4L565.5,247.6L565.5,248.7L565.5,249.9L565.5,251.1L565.5,252.2L565.5,253.4L565.6,254.5L565.6,255.7L565.6,256.8L565.7,258.0L565.7,259.1L565.8,260.3L565.8,261.4L565.9,262.6L565.9,263.8L566.0,264.9L566.1,266.1L566.2,267.2L566.3,268.4L566.4,269.5L566.6,270.7L566.7,271.8L566.9,273.0L567.0,274.1L567.2,275.3L567.4,276.5L567.6,277.6L567.8,278.8L568.1,279.9L568.3,281.1L568.5,282.2L568.7,283.4L569.0,284.5L569.2,285.7L569.4,286.8L569.6,288.0L569.8,289.2L570.0,290.3L570.2,291.5L570.3,292.6L570.5,293.8L570.6,294.9L570.7,296.1L570.8,297.2L570.8,298.4L570.9,299.5L570.9,300.7L571.0,301.9L571.0,303.0L571.1,304.2L571.1,305.3L571.1,306.5L571.2,307.6L571.3,308.8L571.4,309.9L571.6,311.1L571.8,312.3L572.1,313.4L572.4,314.6L572.8,315.7L573.2,316.9L573.7,318.0L574.3,319.2L575.0,320.3L575.7,321.5L576.6,322.6L577.4,323.8L578.4,325.0L579.4,326.1L580.4,327.3L581.5,328.4L582.6,329.6L583.6,330.7L584.6,331.9L585.6,333.0L586.4,334.2L587.1,335.3L587.7,336.5L588.2,337.7L588.4,338.8L588.5,340.0L588.4,341.1L588.1,342.3L587.6,343.4L586.9,344.6L586.0,345.7L585.0,346.9L583.8,348.0L582.6,349.2L581.3,350.4L579.9,351.5L578.6,352.7L577.2,353.8L575.9,355.0L574.6,356.1L573.4,357.3L572.3,358.4L571.3,359.6L570.4,360.7L569.6,361.9L568.9,363.1L568.3,364.2L567.7,365.4L567.3,366.5L566.9,367.7L566.6,368.8L566.4,370.0L566.2,371.1L566.0,372.3L565.9,373.5L565.8,374.6L565.7,375.8L565.7,376.9L565.6,378.1L565.5,379.2L565.5,380.4L565.5,381.5L565.5,382.7L565.5,383.8L565.5,385.0L565.5,386.2L565.5,387.3L565.5,388.5L565.5,389.6L565.5,390.8L565.5,391.9L565.5,393.1L565.5,394.2L565.5,395.4L565.5,396.5L565.5,397.7" fill="none" stroke="#1e1e1e" stroke-width="1.1"/>
<rect x="583.5" y="267.0" width="14.5" height="98.5" fill="rgba(230,159,0,0.075)"/>
<path d="M583.5,214.1L583.5,214.1L583.5,215.3L583.5,216.4L583.5,217.6L583.5,218.7L583.5,219.9L583.5,221.0L583.5,222.2L583.5,223.3L583.5,224.5L583.5,225.6L583.5,226.8L583.5,228.0L583.5,229.1L583.5,230.3L583.5,231.4L583.5,232.6L583.5,233.7L583.5,234.9L583.5,236.0L583.5,237.2L583.5,238.3L583.5,239.5L583.5,240.7L583.5,241.8L583.5,243.0L583.5,244.1L583.5,245.3L583.5,246.4L583.5,247.6L583.5,248.7L583.5,249.9L583.5,251.1L583.5,252.2L583.5,253.4L583.5,254.5L583.5,255.7L583.5,256.8L583.5,258.0L583.5,259.1L583.5,260.3L583.6,261.4L583.6,262.6L583.6,263.8L583.7,264.9L583.7,266.1L583.7,267.2L583.8,268.4L583.8,269.5L583.9,270.7L583.9,271.8L584.0,273.0L584.1,274.1L584.2,275.3L584.3,276.5L584.4,277.6L584.5,278.8L584.7,279.9L584.8,281.1L585.0,282.2L585.1,283.4L585.3,284.5L585.5,285.7L585.7,286.8L585.9,288.0L586.1,289.2L586.3,290.3L586.5,291.5L586.7,292.6L586.9,293.8L587.1,294.9L587.4,296.1L587.6,297.2L587.8,298.4L588.0,299.5L588.2,300.7L588.4,301.9L588.6,303.0L588.9,304.2L589.1,305.3L589.3,306.5L589.6,307.6L589.9,308.8L590.2,309.9L590.5,311.1L590.8,312.3L591.2,313.4L591.6,314.6L592.1,315.7L592.5,316.9L593.0,318.0L593.6,319.2L594.1,320.3L594.7,321.5L595.3,322.6L595.9,323.8L596.5,325.0L597.1,326.1L597.7,327.3L598.3,328.4L598.8,329.6L599.3,330.7L599.7,331.9L600.1,333.0L600.4,334.2L600.6,335.3L600.8,336.5L600.8,337.7L600.8,338.8L600.7,340.0L600.5,341.1L600.2,342.3L599.8,343.4L599.4,344.6L598.9,345.7L598.3,346.9L597.7,348.0L597.0,349.2L596.3,350.4L595.5,351.5L594.7,352.7L593.9,353.8L593.2,355.0L592.4,356.1L591.6,357.3L590.9,358.4L590.2,359.6L589.5,360.7L588.9,361.9L588.3,363.1L587.7,364.2L587.2,365.4L586.8,366.5L586.3,367.7L586.0,368.8L585.6,370.0L585.3,371.1L585.0,372.3L584.8,373.5L584.6,374.6L584.4,375.8L584.3,376.9L584.1,378.1L584.0,379.2L583.9,380.4L583.8,381.5L583.8,382.7L583.7,383.8L583.7,385.0L583.6,386.2L583.6,387.3L583.6,388.5L583.5,389.6L583.5,390.8L583.5,391.9L583.5,393.1L583.5,394.2L583.5,395.4L583.5,396.5L583.5,397.7L583.5,397.7Z" fill="rgba(230,159,0,0.06)" stroke="none" stroke-width="1"/>
<path d="M587.8 303.0h0M588.7 360.7h0M594.5 328.7h0M586.6 341.8h0M590.2 331.7h0M595.8 286.2h0M593.3 309.3h0M587.9 282.4h0M584.7 302.9h0M588.0 304.6h0M588.4 324.4h0M593.2 316.7h0M587.4 319.7h0M594.8 348.5h0M591.3 273.1h0M595.0 290.0h0M590.8 348.4h0M587.2 331.5h0M588.6 326.0h0M589.5 311.7h0M588.1 333.0h0M588.6 306.3h0M592.0 351.4h0M587.0 349.2h0M590.8 317.2h0M593.1 272.9h0M594.7 354.1h0M592.6 316.1h0M586.6 339.1h0M587.7 351.8h0M586.1 346.6h0M584.9 351.4h0M593.5 329.8h0M586.2 350.7h0" stroke="#e69f00" stroke-width="1.7" stroke-linecap="round"/>
<path d="M583.5,214.1L583.5,215.3L583.5,216.4L583.5,217.6L583.5,218.7L583.5,219.9L583.5,221.0L583.5,222.2L583.5,223.3L583.5,224.5L583.5,225.6L583.5,226.8L583.5,228.0L583.5,229.1L583.5,230.3L583.5,231.4L583.5,232.6L583.5,233.7L583.5,234.9L583.5,236.0L583.5,237.2L583.5,238.3L583.5,239.5L583.5,240.7L583.5,241.8L583.5,243.0L583.5,244.1L583.5,245.3L583.5,246.4L583.5,247.6L583.5,248.7L583.5,249.9L583.5,251.1L583.5,252.2L583.5,253.4L583.5,254.5L583.5,255.7L583.5,256.8L583.5,258.0L583.5,259.1L583.5,260.3L583.6,261.4L583.6,262.6L583.6,263.8L583.7,264.9L583.7,266.1L583.7,267.2L583.8,268.4L583.8,269.5L583.9,270.7L583.9,271.8L584.0,273.0L584.1,274.1L584.2,275.3L584.3,276.5L584.4,277.6L584.5,278.8L584.7,279.9L584.8,281.1L585.0,282.2L585.1,283.4L585.3,284.5L585.5,285.7L585.7,286.8L585.9,288.0L586.1,289.2L586.3,290.3L586.5,291.5L586.7,292.6L586.9,293.8L587.1,294.9L587.4,296.1L587.6,297.2L587.8,298.4L588.0,299.5L588.2,300.7L588.4,301.9L588.6,303.0L588.9,304.2L589.1,305.3L589.3,306.5L589.6,307.6L589.9,308.8L590.2,309.9L590.5,311.1L590.8,312.3L591.2,313.4L591.6,314.6L592.1,315.7L592.5,316.9L593.0,318.0L593.6,319.2L594.1,320.3L594.7,321.5L595.3,322.6L595.9,323.8L596.5,325.0L597.1,326.1L597.7,327.3L598.3,328.4L598.8,329.6L599.3,330.7L599.7,331.9L600.1,333.0L600.4,334.2L600.6,335.3L600.8,336.5L600.8,337.7L600.8,338.8L600.7,340.0L600.5,341.1L600.2,342.3L599.8,343.4L599.4,344.6L598.9,345.7L598.3,346.9L597.7,348.0L597.0,349.2L596.3,350.4L595.5,351.5L594.7,352.7L593.9,353.8L593.2,355.0L592.4,356.1L591.6,357.3L590.9,358.4L590.2,359.6L589.5,360.7L588.9,361.9L588.3,363.1L587.7,364.2L587.2,365.4L586.8,366.5L586.3,367.7L586.0,368.8L585.6,370.0L585.3,371.1L585.0,372.3L584.8,373.5L584.6,374.6L584.4,375.8L584.3,376.9L584.1,378.1L584.0,379.2L583.9,380.4L583.8,381.5L583.8,382.7L583.7,383.8L583.7,385.0L583.6,386.2L583.6,387.3L583.6,388.5L583.5,389.6L583.5,390.8L583.5,391.9L583.5,393.1L583.5,394.2L583.5,395.4L583.5,396.5L583.5,397.7" fill="none" stroke="#1e1e1e" stroke-width="1.1"/>
<rect x="600.5" y="290.0" width="14.5" height="79.3" fill="rgba(230,159,0,0.075)"/>
<path d="M600.5,214.1L600.5,214.1L600.5,215.3L600.5,216.4L600.5,217.6L600.5,218.7L600.5,219.9L600.5,221.0L600.5,222.2L600.5,223.3L600.5,224.5L600.5,225.6L600.5,226.8L600.5,228.0L600.5,229.1L600.5,230.3L600.5,231.4L600.5,232.6L600.5,233.7L600.5,234.9L600.5,236.0L600.5,237.2L600.5,238.3L600.5,239.5L600.5,240.7L600.5,241.8L600.5,243.0L600.5,244.1L600.5,245.3L600.5,246.4L600.5,247.6L600.5,248.7L600.5,249.9L600.5,251.1L600.6,252.2L600.6,253.4L600.6,254.5L600.6,255.7L600.7,256.8L600.7,258.0L600.7,259.1L600.7,260.3L600.8,261.4L600.8,262.6L600.9,263.8L600.9,264.9L601.0,266.1L601.0,267.2L601.1,268.4L601.2,269.5L601.2,270.7L601.3,271.8L601.4,273.0L601.5,274.1L601.6,275.3L601.7,276.5L601.9,277.6L602.0,278.8L602.1,279.9L602.3,281.1L602.5,282.2L602.6,283.4L602.8,284.5L603.0,285.7L603.2,286.8L603.4,288.0L603.6,289.2L603.8,290.3L604.0,291.5L604.2,292.6L604.4,293.8L604.7,294.9L604.9,296.1L605.2,297.2L605.4,298.4L605.7,299.5L605.9,300.7L606.2,301.9L606.5,303.0L606.8,304.2L607.1,305.3L607.4,306.5L607.8,307.6L608.1,308.8L608.5,309.9L608.9,311.1L609.4,312.3L609.8,313.4L610.3,314.6L610.9,315.7L611.5,316.9L612.1,318.0L612.8,319.2L613.5,320.3L614.3,321.5L615.1,322.6L615.9,323.8L616.7,325.0L617.6,326.1L618.5,327.3L619.4,328.4L620.2,329.6L621.0,330.7L621.8,331.9L622.5,333.0L623.1,334.2L623.7,335.3L624.1,336.5L624.4,337.7L624.6,338.8L624.6,340.0L624.5,341.1L624.3,342.3L623.9,343.4L623.4,344.6L622.8,345.7L622.0,346.9L621.1,348.0L620.1,349.2L619.1,350.4L618.0,351.5L616.8,352.7L615.7,353.8L614.5,355.0L613.3,356.1L612.1,357.3L611.0,358.4L609.9,359.6L608.9,360.7L607.9,361.9L607.0,363.1L606.2,364.2L605.4,365.4L604.8,366.5L604.1,367.7L603.6,368.8L603.1,370.0L602.7,371.1L602.3,372.3L602.0,373.5L601.8,374.6L601.5,375.8L601.3,376.9L601.2,378.1L601.0,379.2L600.9,380.4L600.8,381.5L600.8,382.7L600.7,383.8L600.7,385.0L600.6,386.2L600.6,387.3L600.6,388.5L600.5,389.6L600.5,390.8L600.5,391.9L600.5,393.1L600.5,394.2L600.5,395.4L600.5,396.5L600.5,397.7L600.5,397.7Z" fill="rgba(230,159,0,0.06)" stroke="none" stroke-width="1"/>
<path d="M605.9 342.3h0M612.3 352.1h0M603.9 296.6h0M606.1 315.6h0M609.5 321.1h0M610.7 333.4h0M601.9 313.6h0M607.8 336.2h0M606.3 326.4h0M611.6 342.2h0M604.9 335.9h0M613.4 344.3h0M602.3 320.0h0M609.4 344.5h0M611.6 346.5h0M610.0 345.4h0M612.1 300.3h0M610.3 361.5h0M604.7 339.2h0M608.6 321.0h0M607.4 331.9h0M607.2 336.8h0M607.4 336.5h0M606.5 320.3h0M605.2 321.1h0M604.6 328.1h0M603.0 349.5h0M607.9 331.5h0M604.5 295.9h0M607.6 332.9h0M613.2 315.9h0M606.8 291.9h0M606.6 365.3h0M612.9 323.5h0M601.6 267.2h0" stroke="#e69f00" stroke-width="1.7" stroke-linecap="round"/>
<path d="M600.5,214.1L600.5,215.3L600.5,216.4L600.5,217.6L600.5,218.7L600.5,219.9L600.5,221.0L600.5,222.2L600.5,223.3L600.5,224.5L600.5,225.6L600.5,226.8L600.5,228.0L600.5,229.1L600.5,230.3L600.5,231.4L600.5,232.6L600.5,233.7L600.5,234.9L600.5,236.0L600.5,237.2L600.5,238.3L600.5,239.5L600.5,240.7L600.5,241.8L600.5,243.0L600.5,244.1L600.5,245.3L600.5,246.4L600.5,247.6L600.5,248.7L600.5,249.9L600.5,251.1L600.6,252.2L600.6,253.4L600.6,254.5L600.6,255.7L600.7,256.8L600.7,258.0L600.7,259.1L600.7,260.3L600.8,261.4L600.8,262.6L600.9,263.8L600.9,264.9L601.0,266.1L601.0,267.2L601.1,268.4L601.2,269.5L601.2,270.7L601.3,271.8L601.4,273.0L601.5,274.1L601.6,275.3L601.7,276.5L601.9,277.6L602.0,278.8L602.1,279.9L602.3,281.1L602.5,282.2L602.6,283.4L602.8,284.5L603.0,285.7L603.2,286.8L603.4,288.0L603.6,289.2L603.8,290.3L604.0,291.5L604.2,292.6L604.4,293.8L604.7,294.9L604.9,296.1L605.2,297.2L605.4,298.4L605.7,299.5L605.9,300.7L606.2,301.9L606.5,303.0L606.8,304.2L607.1,305.3L607.4,306.5L607.8,307.6L608.1,308.8L608.5,309.9L608.9,311.1L609.4,312.3L609.8,313.4L610.3,314.6L610.9,315.7L611.5,316.9L612.1,318.0L612.8,319.2L613.5,320.3L614.3,321.5L615.1,322.6L615.9,323.8L616.7,325.0L617.6,326.1L618.5,327.3L619.4,328.4L620.2,329.6L621.0,330.7L621.8,331.9L622.5,333.0L623.1,334.2L623.7,335.3L624.1,336.5L624.4,337.7L624.6,338.8L624.6,340.0L624.5,341.1L624.3,342.3L623.9,343.4L623.4,344.6L622.8,345.7L622.0,346.9L621.1,348.0L620.1,349.2L619.1,350.4L618.0,351.5L616.8,352.7L615.7,353.8L614.5,355.0L613.3,356.1L612.1,357.3L611.0,358.4L609.9,359.6L608.9,360.7L607.9,361.9L607.0,363.1L606.2,364.2L605.4,365.4L604.8,366.5L604.1,367.7L603.6,368.8L603.1,370.0L602.7,371.1L602.3,372.3L602.0,373.5L601.8,374.6L601.5,375.8L601.3,376.9L601.2,378.1L601.0,379.2L600.9,380.4L600.8,381.5L600.8,382.7L600.7,383.8L600.7,385.0L600.6,386.2L600.6,387.3L600.6,388.5L600.5,389.6L600.5,390.8L600.5,391.9L600.5,393.1L600.5,394.2L600.5,395.4L600.5,396.5L600.5,397.7" fill="none" stroke="#1e1e1e" stroke-width="1.1"/>
<rect x="618.5" y="292.6" width="14.5" height="75.5" fill="rgba(230,159,0,0.075)"/>
<path d="M618.5,214.1L618.5,214.1L618.5,215.3L618.5,216.4L618.5,217.6L618.5,218.7L618.5,219.9L618.5,221.0L618.5,222.2L618.5,223.3L618.5,224.5L618.5,225.6L618.5,226.8L618.5,228.0L618.5,229.1L618.5,230.3L618.5,231.4L618.5,232.6L618.5,233.7L618.5,234.9L618.5,236.0L618.5,237.2L618.5,238.3L618.5,239.5L618.5,240.7L618.5,241.8L618.5,243.0L618.5,244.1L618.5,245.3L618.5,246.4L618.6,247.6L618.6,248.7L618.6,249.9L618.6,251.1L618.7,252.2L618.7,253.4L618.7,254.5L618.7,255.7L618.8,256.8L618.8,258.0L618.9,259.1L618.9,260.3L619.0,261.4L619.0,262.6L619.1,263.8L619.2,264.9L619.2,266.1L619.3,267.2L619.4,268.4L619.5,269.5L619.6,270.7L619.7,271.8L619.8,273.0L620.0,274.1L620.1,275.3L620.3,276.5L620.4,277.6L620.6,278.8L620.7,279.9L620.9,281.1L621.1,282.2L621.3,283.4L621.5,284.5L621.7,285.7L621.9,286.8L622.1,288.0L622.3,289.2L622.6,290.3L622.8,291.5L623.1,292.6L623.3,293.8L623.6,294.9L623.8,296.1L624.1,297.2L624.4,298.4L624.7,299.5L625.0,300.7L625.3,301.9L625.7,303.0L626.0,304.2L626.4,305.3L626.8,306.5L627.2,307.6L627.6,308.8L628.1,309.9L628.6,311.1L629.1,312.3L629.7,313.4L630.3,314.6L631.0,315.7L631.7,316.9L632.4,318.0L633.2,319.2L634.0,320.3L634.8,321.5L635.7,322.6L636.6,323.8L637.5,325.0L638.4,326.1L639.3,327.3L640.2,328.4L641.1,329.6L641.9,330.7L642.7,331.9L643.5,333.0L644.1,334.2L644.7,335.3L645.2,336.5L645.6,337.7L645.8,338.8L645.9,340.0L645.9,341.1L645.8,342.3L645.5,343.4L645.1,344.6L644.6,345.7L644.0,346.9L643.2,348.0L642.3,349.2L641.3,350.4L640.3,351.5L639.2,352.7L638.0,353.8L636.8,355.0L635.6,356.1L634.3,357.3L633.1,358.4L631.9,359.6L630.7,360.7L629.6,361.9L628.5,363.1L627.5,364.2L626.5,365.4L625.6,366.5L624.7,367.7L624.0,368.8L623.3,370.0L622.6,371.1L622.0,372.3L621.5,373.5L621.1,374.6L620.7,375.8L620.3,376.9L620.0,378.1L619.8,379.2L619.6,380.4L619.4,381.5L619.2,382.7L619.1,383.8L619.0,385.0L618.9,386.2L618.8,387.3L618.7,388.5L618.7,389.6L618.7,390.8L618.6,391.9L618.6,393.1L618.5,394.2L618.5,395.4L618.5,396.5L618.5,397.7L618.5,397.7Z" fill="rgba(230,159,0,0.06)" stroke="none" stroke-width="1"/>
<path d="M630.3 343.3h0M623.8 340.5h0M629.9 323.3h0M622.4 360.9h0M623.3 330.8h0M623.7 341.6h0M620.2 305.0h0M631.4 357.1h0M625.1 307.3h0M619.8 331.3h0M629.4 355.9h0M630.7 361.4h0M621.4 358.8h0M626.3 352.8h0M623.3 320.6h0M622.5 297.1h0M621.8 332.8h0M630.2 302.3h0M627.9 362.9h0M623.0 293.8h0M631.1 325.9h0M626.5 316.7h0M623.2 295.5h0M621.0 335.7h0M629.2 304.4h0M631.2 357.7h0M631.2 344.8h0M625.9 329.3h0M620.7 353.5h0M628.2 350.3h0M619.9 326.4h0M622.6 354.4h0M629.5 359.3h0M628.4 342.7h0M620.7 283.4h0M619.9 288.0h0" stroke="#e69f00" stroke-width="1.7" stroke-linecap="round"/>
<path d="M618.5,214.1L618.5,215.3L618.5,216.4L618.5,217.6L618.5,218.7L618.5,219.9L618.5,221.0L618.5,222.2L618.5,223.3L618.5,224.5L618.5,225.6L618.5,226.8L618.5,228.0L618.5,229.1L618.5,230.3L618.5,231.4L618.5,232.6L618.5,233.7L618.5,234.9L618.5,236.0L618.5,237.2L618.5,238.3L618.5,239.5L618.5,240.7L618.5,241.8L618.5,243.0L618.5,244.1L618.5,245.3L618.5,246.4L618.6,247.6L618.6,248.7L618.6,249.9L618.6,251.1L618.7,252.2L618.7,253.4L618.7,254.5L618.7,255.7L618.8,256.8L618.8,258.0L618.9,259.1L618.9,260.3L619.0,261.4L619.0,262.6L619.1,263.8L619.2,264.9L619.2,266.1L619.3,267.2L619.4,268.4L619.5,269.5L619.6,270.7L619.7,271.8L619.8,273.0L620.0,274.1L620.1,275.3L620.3,276.5L620.4,277.6L620.6,278.8L620.7,279.9L620.9,281.1L621.1,282.2L621.3,283.4L621.5,284.5L621.7,285.7L621.9,286.8L622.1,288.0L622.3,289.2L622.6,290.3L622.8,291.5L623.1,292.6L623.3,293.8L623.6,294.9L623.8,296.1L624.1,297.2L624.4,298.4L624.7,299.5L625.0,300.7L625.3,301.9L625.7,303.0L626.0,304.2L626.4,305.3L626.8,306.5L627.2,307.6L627.6,308.8L628.1,309.9L628.6,311.1L629.1,312.3L629.7,313.4L630.3,314.6L631.0,315.7L631.7,316.9L632.4,318.0L633.2,319.2L634.0,320.3L634.8,321.5L635.7,322.6L636.6,323.8L637.5,325.0L638.4,326.1L639.3,327.3L640.2,328.4L641.1,329.6L641.9,330.7L642.7,331.9L643.5,333.0L644.1,334.2L644.7,335.3L645.2,336.5L645.6,337.7L645.8,338.8L645.9,340.0L645.9,341.1L645.8,342.3L645.5,343.4L645.1,344.6L644.6,345.7L644.0,346.9L643.2,348.0L642.3,349.2L641.3,350.4L640.3,351.5L639.2,352.7L638.0,353.8L636.8,355.0L635.6,356.1L634.3,357.3L633.1,358.4L631.9,359.6L630.7,360.7L629.6,361.9L628.5,363.1L627.5,364.2L626.5,365.4L625.6,366.5L624.7,367.7L624.0,368.8L623.3,370.0L622.6,371.1L622.0,372.3L621.5,373.5L621.1,374.6L620.7,375.8L620.3,376.9L620.0,378.1L619.8,379.2L619.6,380.4L619.4,381.5L619.2,382.7L619.1,383.8L619.0,385.0L618.9,386.2L618.8,387.3L618.7,388.5L618.7,389.6L618.7,390.8L618.6,391.9L618.6,393.1L618.5,394.2L618.5,395.4L618.5,396.5L618.5,397.7" fill="none" stroke="#1e1e1e" stroke-width="1.1"/>
<rect x="635.5" y="295.2" width="14.5" height="70.3" fill="rgba(230,159,0,0.075)"/>
<path d="M635.5,214.1L635.5,214.1L635.5,215.3L635.5,216.4L635.5,217.6L635.5,218.7L635.5,219.9L635.5,221.0L635.5,222.2L635.5,223.3L635.5,224.5L635.5,225.6L635.5,226.8L635.5,228.0L635.5,229.1L635.5,230.3L635.5,231.4L635.5,232.6L635.5,233.7L635.5,234.9L635.5,236.0L635.5,237.2L635.5,238.3L635.5,239.5L635.5,240.7L635.5,241.8L635.5,243.0L635.5,244.1L635.5,245.3L635.5,246.4L635.5,247.6L635.6,248.7L635.6,249.9L635.6,251.1L635.6,252.2L635.7,253.4L635.7,254.5L635.7,255.7L635.7,256.8L635.8,258.0L635.8,259.1L635.9,260.3L635.9,261.4L636.0,262.6L636.0,263.8L636.1,264.9L636.1,266.1L636.2,267.2L636.3,268.4L636.4,269.5L636.5,270.7L636.6,271.8L636.7,273.0L636.8,274.1L636.9,275.3L637.0,276.5L637.2,277.6L637.3,278.8L637.5,279.9L637.6,281.1L637.8,282.2L638.0,283.4L638.1,284.5L638.3,285.7L638.5,286.8L638.7,288.0L638.9,289.2L639.1,290.3L639.3,291.5L639.5,292.6L639.8,293.8L640.0,294.9L640.2,296.1L640.5,297.2L640.8,298.4L641.0,299.5L641.3,300.7L641.6,301.9L641.9,303.0L642.2,304.2L642.6,305.3L643.0,306.5L643.3,307.6L643.8,308.8L644.2,309.9L644.7,311.1L645.2,312.3L645.8,313.4L646.4,314.6L647.0,315.7L647.7,316.9L648.5,318.0L649.2,319.2L650.0,320.3L650.9,321.5L651.8,322.6L652.7,323.8L653.6,325.0L654.6,326.1L655.5,327.3L656.4,328.4L657.3,329.6L658.1,330.7L658.9,331.9L659.6,333.0L660.3,334.2L660.8,335.3L661.2,336.5L661.5,337.7L661.7,338.8L661.7,340.0L661.6,341.1L661.3,342.3L661.0,343.4L660.4,344.6L659.8,345.7L659.0,346.9L658.1,348.0L657.1,349.2L656.1,350.4L654.9,351.5L653.8,352.7L652.6,353.8L651.3,355.0L650.1,356.1L648.9,357.3L647.7,358.4L646.5,359.6L645.4,360.7L644.4,361.9L643.4,363.1L642.5,364.2L641.6,365.4L640.9,366.5L640.2,367.7L639.5,368.8L638.9,370.0L638.4,371.1L638.0,372.3L637.6,373.5L637.3,374.6L637.0,375.8L636.7,376.9L636.5,378.1L636.3,379.2L636.2,380.4L636.0,381.5L635.9,382.7L635.9,383.8L635.8,385.0L635.7,386.2L635.7,387.3L635.6,388.5L635.6,389.6L635.6,390.8L635.5,391.9L635.5,393.1L635.5,394.2L635.5,395.4L635.5,396.5L635.5,397.7L635.5,397.7Z" fill="rgba(230,159,0,0.06)" stroke="none" stroke-width="1"/>
<path d="M640.6 350.0h0M645.7 348.7h0M643.4 334.1h0M641.0 355.9h0M642.2 329.9h0M641.7 347.0h0M647.3 342.3h0M642.8 327.0h0M637.7 337.9h0M642.6 340.5h0M645.7 337.3h0M644.1 310.3h0M637.7 365.9h0M645.5 361.9h0M644.3 301.2h0M641.3 359.7h0M643.2 337.7h0M646.5 311.6h0M647.6 351.8h0M645.8 331.4h0M645.6 345.7h0M642.2 351.3h0M637.1 338.0h0M642.5 302.8h0M639.9 351.9h0M639.6 345.0h0M643.2 357.0h0M647.1 324.0h0M639.7 349.7h0M644.2 354.1h0M645.9 328.3h0M642.4 332.4h0M638.2 327.8h0M645.7 295.7h0M637.1 284.5h0M636.5 293.8h0" stroke="#e69f00" stroke-width="1.7" stroke-linecap="round"/>
<path d="M635.5,214.1L635.5,215.3L635.5,216.4L635.5,217.6L635.5,218.7L635.5,219.9L635.5,221.0L635.5,222.2L635.5,223.3L635.5,224.5L635.5,225.6L635.5,226.8L635.5,228.0L635.5,229.1L635.5,230.3L635.5,231.4L635.5,232.6L635.5,233.7L635.5,234.9L635.5,236.0L635.5,237.2L635.5,238.3L635.5,239.5L635.5,240.7L635.5,241.8L635.5,243.0L635.5,244.1L635.5,245.3L635.5,246.4L635.5,247.6L635.6,248.7L635.6,249.9L635.6,251.1L635.6,252.2L635.7,253.4L635.7,254.5L635.7,255.7L635.7,256.8L635.8,258.0L635.8,259.1L635.9,260.3L635.9,261.4L636.0,262.6L636.0,263.8L636.1,264.9L636.1,266.1L636.2,267.2L636.3,268.4L636.4,269.5L636.5,270.7L636.6,271.8L636.7,273.0L636.8,274.1L636.9,275.3L637.0,276.5L637.2,277.6L637.3,278.8L637.5,279.9L637.6,281.1L637.8,282.2L638.0,283.4L638.1,284.5L638.3,285.7L638.5,286.8L638.7,288.0L638.9,289.2L639.1,290.3L639.3,291.5L639.5,292.6L639.8,293.8L640.0,294.9L640.2,296.1L640.5,297.2L640.8,298.4L641.0,299.5L641.3,300.7L641.6,301.9L641.9,303.0L642.2,304.2L642.6,305.3L643.0,306.5L643.3,307.6L643.8,308.8L644.2,309.9L644.7,311.1L645.2,312.3L645.8,313.4L646.4,314.6L647.0,315.7L647.7,316.9L648.5,318.0L649.2,319.2L650.0,320.3L650.9,321.5L651.8,322.6L652.7,323.8L653.6,325.0L654.6,326.1L655.5,327.3L656.4,328.4L657.3,329.6L658.1,330.7L658.9,331.9L659.6,333.0L660.3,334.2L660.8,335.3L661.2,336.5L661.5,337.7L661.7,338.8L661.7,340.0L661.6,341.1L661.3,342.3L661.0,343.4L660.4,344.6L659.8,345.7L659.0,346.9L658.1,348.0L657.1,349.2L656.1,350.4L654.9,351.5L653.8,352.7L652.6,353.8L651.3,355.0L650.1,356.1L648.9,357.3L647.7,358.4L646.5,359.6L645.4,360.7L644.4,361.9L643.4,363.1L642.5,364.2L641.6,365.4L640.9,366.5L640.2,367.7L639.5,368.8L638.9,370.0L638.4,371.1L638.0,372.3L637.6,373.5L637.3,374.6L637.0,375.8L636.7,376.9L636.5,378.1L636.3,379.2L636.2,380.4L636.0,381.5L635.9,382.7L635.9,383.8L635.8,385.0L635.7,386.2L635.7,387.3L635.6,388.5L635.6,389.6L635.6,390.8L635.5,391.9L635.5,393.1L635.5,394.2L635.5,395.4L635.5,396.5L635.5,397.7" fill="none" stroke="#1e1e1e" stroke-width="1.1"/>
<rect x="653.5" y="312.4" width="14.5" height="54.4" fill="rgba(230,159,0,0.075)"/>
<path d="M653.5,214.1L653.5,214.1L653.5,215.3L653.5,216.4L653.5,217.6L653.5,218.7L653.5,219.9L653.5,221.0L653.5,222.2L653.5,223.3L653.5,224.5L653.5,225.6L653.5,226.8L653.5,228.0L653.5,229.1L653.5,230.3L653.5,231.4L653.5,232.6L653.5,233.7L653.5,234.9L653.5,236.0L653.5,237.2L653.5,238.3L653.5,239.5L653.5,240.7L653.5,241.8L653.5,243.0L653.5,244.1L653.5,245.3L653.5,246.4L653.5,247.6L653.5,248.7L653.5,249.9L653.5,251.1L653.5,252.2L653.5,253.4L653.5,254.5L653.5,255.7L653.5,256.8L653.5,258.0L653.5,259.1L653.5,260.3L653.5,261.4L653.5,262.6L653.5,263.8L653.5,264.9L653.6,266.1L653.6,267.2L653.6,268.4L653.6,269.5L653.7,270.7L653.7,271.8L653.7,273.0L653.8,274.1L653.8,275.3L653.9,276.5L653.9,277.6L654.0,278.8L654.1,279.9L654.2,281.1L654.3,282.2L654.4,283.4L654.5,284.5L654.6,285.7L654.7,286.8L654.8,288.0L655.0,289.2L655.2,290.3L655.3,291.5L655.5,292.6L655.7,293.8L655.9,294.9L656.1,296.1L656.4,297.2L656.6,298.4L656.9,299.5L657.1,300.7L657.4,301.9L657.7,303.0L658.1,304.2L658.4,305.3L658.8,306.5L659.3,307.6L659.7,308.8L660.2,309.9L660.7,311.1L661.3,312.3L662.0,313.4L662.7,314.6L663.5,315.7L664.3,316.9L665.2,318.0L666.2,319.2L667.2,320.3L668.3,321.5L669.5,322.6L670.7,323.8L672.0,325.0L673.3,326.1L674.6,327.3L675.9,328.4L677.2,329.6L678.4,330.7L679.6,331.9L680.7,333.0L681.7,334.2L682.6,335.3L683.3,336.5L683.8,337.7L684.2,338.8L684.3,340.0L684.3,341.1L684.0,342.3L683.6,343.4L682.9,344.6L682.0,345.7L681.0,346.9L679.8,348.0L678.5,349.2L677.1,350.4L675.6,351.5L674.0,352.7L672.4,353.8L670.8,355.0L669.3,356.1L667.7,357.3L666.3,358.4L664.8,359.6L663.5,360.7L662.3,361.9L661.1,363.1L660.1,364.2L659.2,365.4L658.3,366.5L657.6,367.7L656.9,368.8L656.4,370.0L655.9,371.1L655.5,372.3L655.1,373.5L654.8,374.6L654.6,375.8L654.4,376.9L654.2,378.1L654.1,379.2L653.9,380.4L653.8,381.5L653.8,382.7L653.7,383.8L653.7,385.0L653.6,386.2L653.6,387.3L653.5,388.5L653.5,389.6L653.5,390.8L653.5,391.9L653.5,393.1L653.5,394.2L653.5,395.4L653.5,396.5L653.5,397.7L653.5,397.7Z" fill="rgba(230,159,0,0.06)" stroke="none" stroke-width="1"/>
<path d="M656.8 348.9h0M665.9 348.9h0M658.2 323.2h0M663.0 329.7h0M659.2 351.8h0M664.8 358.1h0M655.5 354.5h0M660.5 339.6h0M663.3 334.7h0M660.9 337.7h0M662.1 326.3h0M655.8 338.6h0M663.9 328.1h0M664.1 325.1h0M665.3 334.8h0M665.6 319.0h0M661.2 338.9h0M662.1 347.3h0M656.6 344.8h0M658.9 364.3h0M656.3 355.6h0M657.8 344.6h0M656.1 357.6h0M666.5 337.1h0M660.7 351.3h0M657.2 330.4h0M664.0 339.8h0M664.6 363.7h0M661.3 344.0h0M657.5 339.8h0M658.5 350.0h0M654.7 332.3h0M662.6 353.0h0M655.5 314.0h0M654.8 311.1h0M655.8 309.9h0" stroke="#e69f00" stroke-width="1.7" stroke-linecap="round"/>
<path d="M653.5,214.1L653.5,215.3L653.5,216.4L653.5,217.6L653.5,218.7L653.5,219.9L653.5,221.0L653.5,222.2L653.5,223.3L653.5,224.5L653.5,225.6L653.5,226.8L653.5,228.0L653.5,229.1L653.5,230.3L653.5,231.4L653.5,232.6L653.5,233.7L653.5,234.9L653.5,236.0L653.5,237.2L653.5,238.3L653.5,239.5L653.5,240.7L653.5,241.8L653.5,243.0L653.5,244.1L653.5,245.3L653.5,246.4L653.5,247.6L653.5,248.7L653.5,249.9L653.5,251.1L653.5,252.2L653.5,253.4L653.5,254.5L653.5,255.7L653.5,256.8L653.5,258.0L653.5,259.1L653.5,260.3L653.5,261.4L653.5,262.6L653.5,263.8L653.5,264.9L653.6,266.1L653.6,267.2L653.6,268.4L653.6,269.5L653.7,270.7L653.7,271.8L653.7,273.0L653.8,274.1L653.8,275.3L653.9,276.5L653.9,277.6L654.0,278.8L654.1,279.9L654.2,281.1L654.3,282.2L654.4,283.4L654.5,284.5L654.6,285.7L654.7,286.8L654.8,288.0L655.0,289.2L655.2,290.3L655.3,291.5L655.5,292.6L655.7,293.8L655.9,294.9L656.1,296.1L656.4,297.2L656.6,298.4L656.9,299.5L657.1,300.7L657.4,301.9L657.7,303.0L658.1,304.2L658.4,305.3L658.8,306.5L659.3,307.6L659.7,308.8L660.2,309.9L660.7,311.1L661.3,312.3L662.0,313.4L662.7,314.6L663.5,315.7L664.3,316.9L665.2,318.0L666.2,319.2L667.2,320.3L668.3,321.5L669.5,322.6L670.7,323.8L672.0,325.0L673.3,326.1L674.6,327.3L675.9,328.4L677.2,329.6L678.4,330.7L679.6,331.9L680.7,333.0L681.7,334.2L682.6,335.3L683.3,336.5L683.8,337.7L684.2,338.8L684.3,340.0L684.3,341.1L684.0,342.3L683.6,343.4L682.9,344.6L682.0,345.7L681.0,346.9L679.8,348.0L678.5,349.2L677.1,350.4L675.6,351.5L674.0,352.7L672.4,353.8L670.8,355.0L669.3,356.1L667.7,357.3L666.3,358.4L664.8,359.6L663.5,360.7L662.3,361.9L661.1,363.1L660.1,364.2L659.2,365.4L658.3,366.5L657.6,367.7L656.9,368.8L656.4,370.0L655.9,371.1L655.5,372.3L655.1,373.5L654.8,374.6L654.6,375.8L654.4,376.9L654.2,378.1L654.1,379.2L653.9,380.4L653.8,381.5L653.8,382.7L653.7,383.8L653.7,385.0L653.6,386.2L653.6,387.3L653.5,388.5L653.5,389.6L653.5,390.8L653.5,391.9L653.5,393.1L653.5,394.2L653.5,395.4L653.5,396.5L653.5,397.7" fill="none" stroke="#1e1e1e" stroke-width="1.1"/>
<text x="262.6" y="471.0" font-size="15.9" font-family="Liberation Sans" fill="#000" textLength="16.2" lengthAdjust="spacingAndGlyphs">E)</text>
<text x="310.7" y="476.6" font-size="10.5" font-family="Liberation Sans" fill="#000" textLength="134.0" lengthAdjust="spacingAndGlyphs">sgRNAs with 2 mismatches</text>
<line x1="310.50" y1="483.70" x2="310.50" y2="685.00" stroke="#4d4d4d" stroke-width="1.2"/>
<line x1="309.90" y1="684.50" x2="685.00" y2="684.50" stroke="#4d4d4d" stroke-width="1.2"/>
<line x1="307.40" y1="530.60" x2="310.40" y2="530.60" stroke="#4d4d4d" stroke-width="1"/>
<text x="306.2" y="534.4" font-size="10.6" font-family="Liberation Sans" fill="#000" text-anchor="end">4</text>
<line x1="307.40" y1="588.60" x2="310.40" y2="588.60" stroke="#4d4d4d" stroke-width="1"/>
<text x="306.2" y="592.4" font-size="10.6" font-family="Liberation Sans" fill="#000" text-anchor="end">0</text>
<line x1="307.40" y1="646.60" x2="310.40" y2="646.60" stroke="#4d4d4d" stroke-width="1"/>
<text x="306.2" y="650.4" font-size="10.6" font-family="Liberation Sans" fill="#000" text-anchor="end">−4</text>
<line x1="321.50" y1="684.50" x2="321.50" y2="687.50" stroke="#4d4d4d" stroke-width="1"/>
<text x="321.5" y="697.2" font-size="10.6" font-family="Liberation Sans" fill="#000" text-anchor="middle">20:19</text>
<line x1="340.50" y1="684.50" x2="340.50" y2="687.50" stroke="#4d4d4d" stroke-width="1"/>
<text x="340.5" y="709.0" font-size="10.6" font-family="Liberation Sans" fill="#000" text-anchor="middle">19:18</text>
<line x1="358.50" y1="684.50" x2="358.50" y2="687.50" stroke="#4d4d4d" stroke-width="1"/>
<text x="358.5" y="697.2" font-size="10.6" font-family="Liberation Sans" fill="#000" text-anchor="middle">18:17</text>
<line x1="377.50" y1="684.50" x2="377.50" y2="687.50" stroke="#4d4d4d" stroke-width="1"/>
<text x="377.5" y="709.0" font-size="10.6" font-family="Liberation Sans" fill="#000" text-anchor="middle">17:16</text>
<line x1="395.50" y1="684.50" x2="395.50" y2="687.50" stroke="#4d4d4d" stroke-width="1"/>
<text x="395.5" y="697.2" font-size="10.6" font-family="Liberation Sans" fill="#000" text-anchor="middle">16:15</text>
<line x1="414.50" y1="684.50" x2="414.50" y2="687.50" stroke="#4d4d4d" stroke-width="1"/>
<text x="414.5" y="709.0" font-size="10.6" font-family="Liberation Sans" fill="#000" text-anchor="middle">15:14</text>
<line x1="432.50" y1="684.50" x2="432.50" y2="687.50" stroke="#4d4d4d" stroke-width="1"/>
<text x="432.5" y="697.2" font-size="10.6" font-family="Liberation Sans" fill="#000" text-anchor="middle">14:13</text>
<line x1="451.50" y1="684.50" x2="451.50" y2="687.50" stroke="#4d4d4d" stroke-width="1"/>
<text x="451.5" y="709.0" font-size="10.6" font-family="Liberation Sans" fill="#000" text-anchor="middle">13:12</text>
<line x1="470.50" y1="684.50" x2="470.50" y2="687.50" stroke="#4d4d4d" stroke-width="1"/>
<text x="470.5" y="697.2" font-size="10.6" font-family="Liberation Sans" fill="#000" text-anchor="middle">12:11</text>
<line x1="488.50" y1="684.50" x2="488.50" y2="687.50" stroke="#4d4d4d" stroke-width="1"/>
<text x="488.5" y="709.0" font-size="10.6" font-family="Liberation Sans" fill="#000" text-anchor="middle">11:10</text>
<line x1="507.50" y1="684.50" x2="507.50" y2="687.50" stroke="#4d4d4d" stroke-width="1"/>
<text x="507.5" y="697.2" font-size="10.6" font-family="Liberation Sans" fill="#000" text-anchor="middle">10:9</text>
<line x1="525.50" y1="684.50" x2="525.50" y2="687.50" stroke="#4d4d4d" stroke-width="1"/>
<text x="525.5" y="709.0" font-size="10.6" font-family="Liberation Sans" fill="#000" text-anchor="middle">9:8</text>
<line x1="544.50" y1="684.50" x2="544.50" y2="687.50" stroke="#4d4d4d" stroke-width="1"/>
<text x="544.5" y="697.2" font-size="10.6" font-family="Liberation Sans" fill="#000" text-anchor="middle">8:7</text>
<line x1="562.50" y1="684.50" x2="562.50" y2="687.50" stroke="#4d4d4d" stroke-width="1"/>
<text x="562.5" y="709.0" font-size="10.6" font-family="Liberation Sans" fill="#000" text-anchor="middle">7:6</text>
<line x1="581.50" y1="684.50" x2="581.50" y2="687.50" stroke="#4d4d4d" stroke-width="1"/>
<text x="581.5" y="697.2" font-size="10.6" font-family="Liberation Sans" fill="#000" text-anchor="middle">6:5</text>
<line x1="600.50" y1="684.50" x2="600.50" y2="687.50" stroke="#4d4d4d" stroke-width="1"/>
<text x="600.5" y="709.0" font-size="10.6" font-family="Liberation Sans" fill="#000" text-anchor="middle">5:4</text>
<line x1="618.50" y1="684.50" x2="618.50" y2="687.50" stroke="#4d4d4d" stroke-width="1"/>
<text x="618.5" y="697.2" font-size="10.6" font-family="Liberation Sans" fill="#000" text-anchor="middle">4:3</text>
<line x1="637.50" y1="684.50" x2="637.50" y2="687.50" stroke="#4d4d4d" stroke-width="1"/>
<text x="637.5" y="709.0" font-size="10.6" font-family="Liberation Sans" fill="#000" text-anchor="middle">3:2</text>
<line x1="655.50" y1="684.50" x2="655.50" y2="687.50" stroke="#4d4d4d" stroke-width="1"/>
<text x="655.5" y="697.2" font-size="10.6" font-family="Liberation Sans" fill="#000" text-anchor="middle">2:1</text>
<text x="497.3" y="729.2" font-size="12.2" font-family="Liberation Sans" fill="#000" text-anchor="middle" textLength="163.0" lengthAdjust="spacingAndGlyphs">Position of mismatch in sgRNA</text>
<text x="286.9" y="584.3" font-size="12.2" font-family="Liberation Sans" fill="#000" text-anchor="middle" textLength="147.5" lengthAdjust="spacingAndGlyphs" transform="rotate(-90 286.9 584.3)">Normalized sgRNA Activity</text>
<rect x="321.5" y="501.6" width="14.5" height="107.3" fill="rgba(86,180,233,0.07)"/>
<path d="M321.5,492.4L321.5,492.4L321.5,493.6L321.5,494.7L321.5,495.9L321.5,497.0L321.5,498.2L321.6,499.3L321.7,500.5L321.9,501.6L322.2,502.8L322.7,503.9L323.3,505.1L324.3,506.3L325.6,507.4L327.2,508.6L329.1,509.7L331.1,510.9L333.1,512.0L334.8,513.2L336.1,514.3L336.8,515.5L336.9,516.6L336.4,517.8L335.4,519.0L334.1,520.1L332.7,521.3L331.4,522.4L330.2,523.6L329.4,524.7L329.0,525.9L328.9,527.0L329.3,528.2L330.1,529.4L331.2,530.5L332.5,531.7L333.8,532.8L334.9,534.0L335.5,535.1L335.5,536.3L334.9,537.4L333.7,538.6L332.3,539.7L330.7,540.9L329.3,542.1L328.2,543.2L327.4,544.4L326.9,545.5L326.7,546.7L326.6,547.8L326.6,549.0L326.6,550.1L326.6,551.3L326.6,552.4L326.6,553.6L326.5,554.8L326.4,555.9L326.3,557.1L326.2,558.2L326.0,559.4L325.8,560.5L325.7,561.7L325.6,562.8L325.4,564.0L325.3,565.1L325.2,566.3L325.1,567.5L325.0,568.6L324.9,569.8L324.9,570.9L324.9,572.1L325.0,573.2L325.2,574.4L325.5,575.5L325.9,576.7L326.3,577.8L326.7,579.0L327.0,580.2L327.2,581.3L327.1,582.5L326.9,583.6L326.4,584.8L325.9,585.9L325.4,587.1L324.9,588.2L324.5,589.4L324.2,590.6L324.0,591.7L323.9,592.9L323.8,594.0L323.7,595.2L323.7,596.3L323.6,597.5L323.6,598.6L323.6,599.8L323.5,600.9L323.5,602.1L323.4,603.3L323.4,604.4L323.3,605.6L323.3,606.7L323.2,607.9L323.2,609.0L323.1,610.2L323.1,611.3L323.0,612.5L322.9,613.6L322.9,614.8L322.8,616.0L322.7,617.1L322.7,618.3L322.6,619.4L322.5,620.6L322.5,621.7L322.4,622.9L322.4,624.0L322.3,625.2L322.2,626.3L322.2,627.5L322.1,628.7L322.1,629.8L322.0,631.0L322.0,632.1L322.0,633.3L321.9,634.4L321.9,635.6L321.8,636.7L321.8,637.9L321.8,639.0L321.8,640.2L321.7,641.4L321.7,642.5L321.7,643.7L321.7,644.8L321.6,646.0L321.6,647.1L321.6,648.3L321.6,649.4L321.6,650.6L321.5,651.8L321.5,652.9L321.5,654.1L321.5,655.2L321.5,656.4L321.5,657.5L321.5,658.7L321.5,659.8L321.5,661.0L321.5,662.1L321.5,663.3L321.5,664.5L321.5,665.6L321.5,666.8L321.5,667.9L321.5,669.1L321.5,670.2L321.5,671.4L321.5,672.5L321.5,673.7L321.5,674.8L321.5,676.0L321.5,676.0Z" fill="rgba(86,180,233,0.14)" stroke="none" stroke-width="1"/>
<path d="M323.4 583.3h0M334.1 523.1h0M325.4 546.2h0M330.1 570.8h0M323.6 562.0h0M331.7 589.9h0M324.9 582.3h0M329.7 590.7h0M324.7 507.1h0M330.6 535.4h0M325.3 537.8h0M323.6 511.1h0M324.8 502.2h0M329.1 579.3h0M329.7 604.5h0M326.5 572.2h0M322.9 526.2h0M323.3 559.2h0M333.4 524.3h0M332.0 565.3h0M329.4 523.7h0M330.1 572.4h0M329.3 605.6h0M326.7 605.6h0M327.5 585.0h0M328.4 589.6h0M330.9 560.8h0M331.9 541.5h0M326.6 591.0h0M332.7 513.5h0M324.2 530.5h0M332.6 546.9h0M325.3 537.2h0M328.8 573.6h0" stroke="#56b4e9" stroke-width="1.7" stroke-linecap="round"/>
<path d="M321.5,492.4L321.5,493.6L321.5,494.7L321.5,495.9L321.5,497.0L321.5,498.2L321.6,499.3L321.7,500.5L321.9,501.6L322.2,502.8L322.7,503.9L323.3,505.1L324.3,506.3L325.6,507.4L327.2,508.6L329.1,509.7L331.1,510.9L333.1,512.0L334.8,513.2L336.1,514.3L336.8,515.5L336.9,516.6L336.4,517.8L335.4,519.0L334.1,520.1L332.7,521.3L331.4,522.4L330.2,523.6L329.4,524.7L329.0,525.9L328.9,527.0L329.3,528.2L330.1,529.4L331.2,530.5L332.5,531.7L333.8,532.8L334.9,534.0L335.5,535.1L335.5,536.3L334.9,537.4L333.7,538.6L332.3,539.7L330.7,540.9L329.3,542.1L328.2,543.2L327.4,544.4L326.9,545.5L326.7,546.7L326.6,547.8L326.6,549.0L326.6,550.1L326.6,551.3L326.6,552.4L326.6,553.6L326.5,554.8L326.4,555.9L326.3,557.1L326.2,558.2L326.0,559.4L325.8,560.5L325.7,561.7L325.6,562.8L325.4,564.0L325.3,565.1L325.2,566.3L325.1,567.5L325.0,568.6L324.9,569.8L324.9,570.9L324.9,572.1L325.0,573.2L325.2,574.4L325.5,575.5L325.9,576.7L326.3,577.8L326.7,579.0L327.0,580.2L327.2,581.3L327.1,582.5L326.9,583.6L326.4,584.8L325.9,585.9L325.4,587.1L324.9,588.2L324.5,589.4L324.2,590.6L324.0,591.7L323.9,592.9L323.8,594.0L323.7,595.2L323.7,596.3L323.6,597.5L323.6,598.6L323.6,599.8L323.5,600.9L323.5,602.1L323.4,603.3L323.4,604.4L323.3,605.6L323.3,606.7L323.2,607.9L323.2,609.0L323.1,610.2L323.1,611.3L323.0,612.5L322.9,613.6L322.9,614.8L322.8,616.0L322.7,617.1L322.7,618.3L322.6,619.4L322.5,620.6L322.5,621.7L322.4,622.9L322.4,624.0L322.3,625.2L322.2,626.3L322.2,627.5L322.1,628.7L322.1,629.8L322.0,631.0L322.0,632.1L322.0,633.3L321.9,634.4L321.9,635.6L321.8,636.7L321.8,637.9L321.8,639.0L321.8,640.2L321.7,641.4L321.7,642.5L321.7,643.7L321.7,644.8L321.6,646.0L321.6,647.1L321.6,648.3L321.6,649.4L321.6,650.6L321.5,651.8L321.5,652.9L321.5,654.1L321.5,655.2L321.5,656.4L321.5,657.5L321.5,658.7L321.5,659.8L321.5,661.0L321.5,662.1L321.5,663.3L321.5,664.5L321.5,665.6L321.5,666.8L321.5,667.9L321.5,669.1L321.5,670.2L321.5,671.4L321.5,672.5L321.5,673.7L321.5,674.8L321.5,676.0" fill="none" stroke="#1e1e1e" stroke-width="1.1"/>
<rect x="340.5" y="521.9" width="14.5" height="108.8" fill="rgba(86,180,233,0.07)"/>
<path d="M340.5,492.4L340.5,492.4L340.5,493.6L340.5,494.7L340.5,495.9L340.5,497.0L340.5,498.2L340.5,499.3L340.5,500.5L340.5,501.6L340.5,502.8L340.5,503.9L340.5,505.1L340.5,506.3L340.5,507.4L340.5,508.6L340.5,509.7L340.5,510.9L340.6,512.0L340.7,513.2L340.9,514.3L341.1,515.5L341.4,516.6L341.8,517.8L342.3,519.0L342.8,520.1L343.2,521.3L343.4,522.4L343.5,523.6L343.4,524.7L343.0,525.9L342.6,527.0L342.2,528.2L341.8,529.4L341.4,530.5L341.3,531.7L341.2,532.8L341.3,534.0L341.5,535.1L341.8,536.3L342.2,537.4L342.6,538.6L343.1,539.7L343.6,540.9L344.0,542.1L344.3,543.2L344.5,544.4L344.5,545.5L344.4,546.7L344.1,547.8L343.7,549.0L343.3,550.1L342.8,551.3L342.4,552.4L342.1,553.6L341.8,554.8L341.7,555.9L341.7,557.1L341.8,558.2L342.0,559.4L342.3,560.5L342.6,561.7L342.9,562.8L343.2,564.0L343.4,565.1L343.5,566.3L343.5,567.5L343.4,568.6L343.1,569.8L342.8,570.9L342.5,572.1L342.1,573.2L341.8,574.4L341.5,575.5L341.3,576.7L341.1,577.8L341.0,579.0L341.1,580.2L341.3,581.3L341.7,582.5L342.3,583.6L343.2,584.8L344.3,585.9L345.8,587.1L347.4,588.2L349.2,589.4L350.8,590.6L352.3,591.7L353.3,592.9L353.9,594.0L353.9,595.2L353.5,596.3L352.8,597.5L352.0,598.6L351.2,599.8L350.7,600.9L350.6,602.1L350.8,603.3L351.3,604.4L351.9,605.6L352.5,606.7L352.9,607.9L352.9,609.0L352.5,610.2L351.6,611.3L350.3,612.5L348.8,613.6L347.2,614.8L345.7,616.0L344.3,617.1L343.1,618.3L342.3,619.4L341.6,620.6L341.2,621.7L340.9,622.9L340.7,624.0L340.6,625.2L340.5,626.3L340.5,627.5L340.5,628.7L340.5,629.8L340.5,631.0L340.5,632.1L340.5,633.3L340.5,634.4L340.5,635.6L340.5,636.7L340.5,637.9L340.5,639.0L340.5,640.2L340.5,641.4L340.5,642.5L340.5,643.7L340.5,644.8L340.5,646.0L340.5,647.1L340.5,648.3L340.5,649.4L340.5,650.6L340.5,651.8L340.5,652.9L340.5,654.1L340.5,655.2L340.5,656.4L340.5,657.5L340.5,658.7L340.5,659.8L340.5,661.0L340.5,662.1L340.5,663.3L340.5,664.5L340.5,665.6L340.5,666.8L340.5,667.9L340.5,669.1L340.5,670.2L340.5,671.4L340.5,672.5L340.5,673.7L340.5,674.8L340.5,676.0L340.5,676.0Z" fill="rgba(86,180,233,0.14)" stroke="none" stroke-width="1"/>
<path d="M348.3 523.2h0M345.4 553.1h0M349.8 557.9h0M346.1 597.1h0M352.3 596.3h0M343.3 593.9h0M346.1 581.2h0M343.2 588.3h0M349.4 593.9h0M352.9 596.2h0M352.0 596.2h0M346.4 604.2h0M348.1 627.7h0M352.2 606.1h0M345.5 592.6h0M351.1 621.9h0M352.4 543.9h0M343.4 616.9h0M351.1 593.7h0M343.1 592.6h0M352.5 610.3h0M347.7 598.4h0M352.8 608.9h0M347.5 586.4h0M344.3 596.9h0M348.4 600.8h0M350.0 562.0h0M352.8 606.6h0M351.7 548.4h0M351.4 544.3h0M343.7 567.2h0M351.2 608.5h0M345.2 593.4h0M344.8 527.3h0" stroke="#56b4e9" stroke-width="1.7" stroke-linecap="round"/>
<path d="M340.5,492.4L340.5,493.6L340.5,494.7L340.5,495.9L340.5,497.0L340.5,498.2L340.5,499.3L340.5,500.5L340.5,501.6L340.5,502.8L340.5,503.9L340.5,505.1L340.5,506.3L340.5,507.4L340.5,508.6L340.5,509.7L340.5,510.9L340.6,512.0L340.7,513.2L340.9,514.3L341.1,515.5L341.4,516.6L341.8,517.8L342.3,519.0L342.8,520.1L343.2,521.3L343.4,522.4L343.5,523.6L343.4,524.7L343.0,525.9L342.6,527.0L342.2,528.2L341.8,529.4L341.4,530.5L341.3,531.7L341.2,532.8L341.3,534.0L341.5,535.1L341.8,536.3L342.2,537.4L342.6,538.6L343.1,539.7L343.6,540.9L344.0,542.1L344.3,543.2L344.5,544.4L344.5,545.5L344.4,546.7L344.1,547.8L343.7,549.0L343.3,550.1L342.8,551.3L342.4,552.4L342.1,553.6L341.8,554.8L341.7,555.9L341.7,557.1L341.8,558.2L342.0,559.4L342.3,560.5L342.6,561.7L342.9,562.8L343.2,564.0L343.4,565.1L343.5,566.3L343.5,567.5L343.4,568.6L343.1,569.8L342.8,570.9L342.5,572.1L342.1,573.2L341.8,574.4L341.5,575.5L341.3,576.7L341.1,577.8L341.0,579.0L341.1,580.2L341.3,581.3L341.7,582.5L342.3,583.6L343.2,584.8L344.3,585.9L345.8,587.1L347.4,588.2L349.2,589.4L350.8,590.6L352.3,591.7L353.3,592.9L353.9,594.0L353.9,595.2L353.5,596.3L352.8,597.5L352.0,598.6L351.2,599.8L350.7,600.9L350.6,602.1L350.8,603.3L351.3,604.4L351.9,605.6L352.5,606.7L352.9,607.9L352.9,609.0L352.5,610.2L351.6,611.3L350.3,612.5L348.8,613.6L347.2,614.8L345.7,616.0L344.3,617.1L343.1,618.3L342.3,619.4L341.6,620.6L341.2,621.7L340.9,622.9L340.7,624.0L340.6,625.2L340.5,626.3L340.5,627.5L340.5,628.7L340.5,629.8L340.5,631.0L340.5,632.1L340.5,633.3L340.5,634.4L340.5,635.6L340.5,636.7L340.5,637.9L340.5,639.0L340.5,640.2L340.5,641.4L340.5,642.5L340.5,643.7L340.5,644.8L340.5,646.0L340.5,647.1L340.5,648.3L340.5,649.4L340.5,650.6L340.5,651.8L340.5,652.9L340.5,654.1L340.5,655.2L340.5,656.4L340.5,657.5L340.5,658.7L340.5,659.8L340.5,661.0L340.5,662.1L340.5,663.3L340.5,664.5L340.5,665.6L340.5,666.8L340.5,667.9L340.5,669.1L340.5,670.2L340.5,671.4L340.5,672.5L340.5,673.7L340.5,674.8L340.5,676.0" fill="none" stroke="#1e1e1e" stroke-width="1.1"/>
<rect x="358.5" y="575.6" width="14.5" height="65.2" fill="rgba(86,180,233,0.07)"/>
<path d="M358.5,492.4L358.5,492.4L358.5,493.6L358.5,494.7L358.5,495.9L358.5,497.0L358.5,498.2L358.5,499.3L358.5,500.5L358.5,501.6L358.5,502.8L358.5,503.9L358.5,505.1L358.5,506.3L358.5,507.4L358.5,508.6L358.5,509.7L358.5,510.9L358.5,512.0L358.5,513.2L358.5,514.3L358.5,515.5L358.5,516.6L358.5,517.8L358.5,519.0L358.5,520.1L358.5,521.3L358.5,522.4L358.5,523.6L358.5,524.7L358.5,525.9L358.5,527.0L358.5,528.2L358.5,529.4L358.5,530.5L358.5,531.7L358.5,532.8L358.5,534.0L358.5,535.1L358.5,536.3L358.5,537.4L358.5,538.6L358.5,539.7L358.5,540.9L358.5,542.1L358.5,543.2L358.5,544.4L358.5,545.5L358.5,546.7L358.5,547.8L358.5,549.0L358.5,550.1L358.5,551.3L358.5,552.4L358.5,553.6L358.5,554.8L358.5,555.9L358.5,557.1L358.5,558.2L358.5,559.4L358.5,560.5L358.5,561.7L358.5,562.8L358.5,564.0L358.5,565.1L358.5,566.3L358.5,567.5L358.5,568.6L358.5,569.8L358.5,570.9L358.5,572.1L358.6,573.2L358.8,574.4L359.0,575.5L359.3,576.7L359.8,577.8L360.5,579.0L361.3,580.2L362.3,581.3L363.4,582.5L364.3,583.6L365.1,584.8L365.6,585.9L365.8,587.1L365.7,588.2L365.5,589.4L365.2,590.6L364.9,591.7L364.7,592.9L364.7,594.0L364.8,595.2L365.0,596.3L365.4,597.5L365.9,598.6L366.6,599.8L367.4,600.9L368.3,602.1L369.3,603.3L370.4,604.4L371.6,605.6L372.9,606.7L374.1,607.9L375.2,609.0L376.2,610.2L376.9,611.3L377.4,612.5L377.6,613.6L377.5,614.8L377.1,616.0L376.3,617.1L375.3,618.3L374.1,619.4L372.8,620.6L371.3,621.7L369.8,622.9L368.2,624.0L366.8,625.2L365.4,626.3L364.2,627.5L363.1,628.7L362.1,629.8L361.3,631.0L360.7,632.1L360.1,633.3L359.7,634.4L359.4,635.6L359.1,636.7L358.9,637.9L358.8,639.0L358.7,640.2L358.6,641.4L358.6,642.5L358.5,643.7L358.5,644.8L358.5,646.0L358.5,647.1L358.5,648.3L358.5,649.4L358.5,650.6L358.5,651.8L358.5,652.9L358.5,654.1L358.5,655.2L358.5,656.4L358.5,657.5L358.5,658.7L358.5,659.8L358.5,661.0L358.5,662.1L358.5,663.3L358.5,664.5L358.5,665.6L358.5,666.8L358.5,667.9L358.5,669.1L358.5,670.2L358.5,671.4L358.5,672.5L358.5,673.7L358.5,674.8L358.5,676.0L358.5,676.0Z" fill="rgba(86,180,233,0.14)" stroke="none" stroke-width="1"/>
<path d="M363.8 619.1h0M361.2 593.1h0M360.0 611.9h0M363.1 619.9h0M363.3 632.6h0M366.0 616.3h0M366.1 615.9h0M370.3 607.3h0M362.6 592.6h0M361.1 621.1h0M367.5 585.4h0M359.8 617.9h0M360.9 603.4h0M368.3 583.3h0M365.0 591.1h0M360.4 611.3h0M362.0 603.3h0M360.9 589.4h0M369.9 603.0h0M369.2 620.4h0M361.0 617.3h0M365.8 609.0h0M362.0 605.5h0M368.5 637.7h0M364.5 611.4h0M365.0 615.9h0M366.3 621.7h0M359.9 610.7h0M360.6 614.9h0M371.0 608.5h0M365.7 621.9h0M365.9 619.8h0M370.2 609.5h0M360.4 622.3h0" stroke="#56b4e9" stroke-width="1.7" stroke-linecap="round"/>
<path d="M358.5,492.4L358.5,493.6L358.5,494.7L358.5,495.9L358.5,497.0L358.5,498.2L358.5,499.3L358.5,500.5L358.5,501.6L358.5,502.8L358.5,503.9L358.5,505.1L358.5,506.3L358.5,507.4L358.5,508.6L358.5,509.7L358.5,510.9L358.5,512.0L358.5,513.2L358.5,514.3L358.5,515.5L358.5,516.6L358.5,517.8L358.5,519.0L358.5,520.1L358.5,521.3L358.5,522.4L358.5,523.6L358.5,524.7L358.5,525.9L358.5,527.0L358.5,528.2L358.5,529.4L358.5,530.5L358.5,531.7L358.5,532.8L358.5,534.0L358.5,535.1L358.5,536.3L358.5,537.4L358.5,538.6L358.5,539.7L358.5,540.9L358.5,542.1L358.5,543.2L358.5,544.4L358.5,545.5L358.5,546.7L358.5,547.8L358.5,549.0L358.5,550.1L358.5,551.3L358.5,552.4L358.5,553.6L358.5,554.8L358.5,555.9L358.5,557.1L358.5,558.2L358.5,559.4L358.5,560.5L358.5,561.7L358.5,562.8L358.5,564.0L358.5,565.1L358.5,566.3L358.5,567.5L358.5,568.6L358.5,569.8L358.5,570.9L358.5,572.1L358.6,573.2L358.8,574.4L359.0,575.5L359.3,576.7L359.8,577.8L360.5,579.0L361.3,580.2L362.3,581.3L363.4,582.5L364.3,583.6L365.1,584.8L365.6,585.9L365.8,587.1L365.7,588.2L365.5,589.4L365.2,590.6L364.9,591.7L364.7,592.9L364.7,594.0L364.8,595.2L365.0,596.3L365.4,597.5L365.9,598.6L366.6,599.8L367.4,600.9L368.3,602.1L369.3,603.3L370.4,604.4L371.6,605.6L372.9,606.7L374.1,607.9L375.2,609.0L376.2,610.2L376.9,611.3L377.4,612.5L377.6,613.6L377.5,614.8L377.1,616.0L376.3,617.1L375.3,618.3L374.1,619.4L372.8,620.6L371.3,621.7L369.8,622.9L368.2,624.0L366.8,625.2L365.4,626.3L364.2,627.5L363.1,628.7L362.1,629.8L361.3,631.0L360.7,632.1L360.1,633.3L359.7,634.4L359.4,635.6L359.1,636.7L358.9,637.9L358.8,639.0L358.7,640.2L358.6,641.4L358.6,642.5L358.5,643.7L358.5,644.8L358.5,646.0L358.5,647.1L358.5,648.3L358.5,649.4L358.5,650.6L358.5,651.8L358.5,652.9L358.5,654.1L358.5,655.2L358.5,656.4L358.5,657.5L358.5,658.7L358.5,659.8L358.5,661.0L358.5,662.1L358.5,663.3L358.5,664.5L358.5,665.6L358.5,666.8L358.5,667.9L358.5,669.1L358.5,670.2L358.5,671.4L358.5,672.5L358.5,673.7L358.5,674.8L358.5,676.0" fill="none" stroke="#1e1e1e" stroke-width="1.1"/>
<rect x="377.5" y="550.9" width="14.5" height="85.6" fill="rgba(86,180,233,0.07)"/>
<path d="M377.5,492.4L377.5,492.4L377.5,493.6L377.5,494.7L377.5,495.9L377.5,497.0L377.5,498.2L377.5,499.3L377.5,500.5L377.5,501.6L377.5,502.8L377.5,503.9L377.5,505.1L377.5,506.3L377.5,507.4L377.5,508.6L377.5,509.7L377.5,510.9L377.5,512.0L377.5,513.2L377.5,514.3L377.5,515.5L377.5,516.6L377.5,517.8L377.5,519.0L377.5,520.1L377.5,521.3L377.5,522.4L377.5,523.6L377.5,524.7L377.5,525.9L377.5,527.0L377.5,528.2L377.5,529.4L377.5,530.5L377.5,531.7L377.5,532.8L377.5,534.0L377.5,535.1L377.5,536.3L377.5,537.4L377.5,538.6L377.5,539.7L377.5,540.9L377.5,542.1L377.5,543.2L377.5,544.4L377.6,545.5L377.7,546.7L377.9,547.8L378.2,549.0L378.6,550.1L379.2,551.3L379.7,552.4L380.2,553.6L380.5,554.8L380.5,555.9L380.1,557.1L379.6,558.2L379.1,559.4L378.6,560.5L378.2,561.7L377.9,562.8L377.8,564.0L377.8,565.1L377.9,566.3L378.1,567.5L378.4,568.6L378.7,569.8L379.0,570.9L379.3,572.1L379.5,573.2L379.6,574.4L379.6,575.5L379.5,576.7L379.5,577.8L379.5,579.0L379.6,580.2L379.8,581.3L380.1,582.5L380.4,583.6L380.6,584.8L380.6,585.9L380.5,587.1L380.2,588.2L379.9,589.4L379.5,590.6L379.3,591.7L379.3,592.9L379.6,594.0L380.1,595.2L380.9,596.3L382.1,597.5L383.7,598.6L385.6,599.8L387.9,600.9L390.6,602.1L393.5,603.3L396.5,604.4L399.6,605.6L402.5,606.7L405.1,607.9L407.2,609.0L408.7,610.2L409.4,611.3L409.4,612.5L408.5,613.6L406.9,614.8L404.7,616.0L402.0,617.1L399.0,618.3L395.9,619.4L392.9,620.6L390.0,621.7L387.4,622.9L385.2,624.0L383.3,625.2L381.8,626.3L380.6,627.5L379.6,628.7L379.0,629.8L378.5,631.0L378.1,632.1L377.9,633.3L377.7,634.4L377.6,635.6L377.6,636.7L377.5,637.9L377.5,639.0L377.5,640.2L377.5,641.4L377.5,642.5L377.5,643.7L377.5,644.8L377.5,646.0L377.5,647.1L377.5,648.3L377.5,649.4L377.5,650.6L377.5,651.8L377.5,652.9L377.5,654.1L377.5,655.2L377.5,656.4L377.5,657.5L377.5,658.7L377.5,659.8L377.5,661.0L377.5,662.1L377.5,663.3L377.5,664.5L377.5,665.6L377.5,666.8L377.5,667.9L377.5,669.1L377.5,670.2L377.5,671.4L377.5,672.5L377.5,673.7L377.5,674.8L377.5,676.0L377.5,676.0Z" fill="rgba(86,180,233,0.14)" stroke="none" stroke-width="1"/>
<path d="M382.0 606.3h0M380.9 596.1h0M389.2 614.8h0M380.5 612.5h0M387.6 605.1h0M379.5 584.6h0M390.0 610.6h0M379.4 579.1h0M387.0 615.6h0M379.7 609.3h0M380.2 575.0h0M386.1 616.6h0M388.2 600.9h0M379.9 610.6h0M389.8 614.4h0M388.6 607.2h0M385.1 596.9h0M385.4 611.1h0M387.7 615.5h0M381.9 619.0h0M389.2 596.0h0M381.7 607.7h0M383.7 614.6h0M386.3 576.7h0M386.9 555.8h0M384.3 620.8h0M388.2 605.2h0M383.8 619.4h0M388.7 618.2h0M389.6 615.1h0M382.1 628.2h0M382.4 598.5h0M379.2 609.5h0M389.2 598.3h0" stroke="#56b4e9" stroke-width="1.7" stroke-linecap="round"/>
<path d="M377.5,492.4L377.5,493.6L377.5,494.7L377.5,495.9L377.5,497.0L377.5,498.2L377.5,499.3L377.5,500.5L377.5,501.6L377.5,502.8L377.5,503.9L377.5,505.1L377.5,506.3L377.5,507.4L377.5,508.6L377.5,509.7L377.5,510.9L377.5,512.0L377.5,513.2L377.5,514.3L377.5,515.5L377.5,516.6L377.5,517.8L377.5,519.0L377.5,520.1L377.5,521.3L377.5,522.4L377.5,523.6L377.5,524.7L377.5,525.9L377.5,527.0L377.5,528.2L377.5,529.4L377.5,530.5L377.5,531.7L377.5,532.8L377.5,534.0L377.5,535.1L377.5,536.3L377.5,537.4L377.5,538.6L377.5,539.7L377.5,540.9L377.5,542.1L377.5,543.2L377.5,544.4L377.6,545.5L377.7,546.7L377.9,547.8L378.2,549.0L378.6,550.1L379.2,551.3L379.7,552.4L380.2,553.6L380.5,554.8L380.5,555.9L380.1,557.1L379.6,558.2L379.1,559.4L378.6,560.5L378.2,561.7L377.9,562.8L377.8,564.0L377.8,565.1L377.9,566.3L378.1,567.5L378.4,568.6L378.7,569.8L379.0,570.9L379.3,572.1L379.5,573.2L379.6,574.4L379.6,575.5L379.5,576.7L379.5,577.8L379.5,579.0L379.6,580.2L379.8,581.3L380.1,582.5L380.4,583.6L380.6,584.8L380.6,585.9L380.5,587.1L380.2,588.2L379.9,589.4L379.5,590.6L379.3,591.7L379.3,592.9L379.6,594.0L380.1,595.2L380.9,596.3L382.1,597.5L383.7,598.6L385.6,599.8L387.9,600.9L390.6,602.1L393.5,603.3L396.5,604.4L399.6,605.6L402.5,606.7L405.1,607.9L407.2,609.0L408.7,610.2L409.4,611.3L409.4,612.5L408.5,613.6L406.9,614.8L404.7,616.0L402.0,617.1L399.0,618.3L395.9,619.4L392.9,620.6L390.0,621.7L387.4,622.9L385.2,624.0L383.3,625.2L381.8,626.3L380.6,627.5L379.6,628.7L379.0,629.8L378.5,631.0L378.1,632.1L377.9,633.3L377.7,634.4L377.6,635.6L377.6,636.7L377.5,637.9L377.5,639.0L377.5,640.2L377.5,641.4L377.5,642.5L377.5,643.7L377.5,644.8L377.5,646.0L377.5,647.1L377.5,648.3L377.5,649.4L377.5,650.6L377.5,651.8L377.5,652.9L377.5,654.1L377.5,655.2L377.5,656.4L377.5,657.5L377.5,658.7L377.5,659.8L377.5,661.0L377.5,662.1L377.5,663.3L377.5,664.5L377.5,665.6L377.5,666.8L377.5,667.9L377.5,669.1L377.5,670.2L377.5,671.4L377.5,672.5L377.5,673.7L377.5,674.8L377.5,676.0" fill="none" stroke="#1e1e1e" stroke-width="1.1"/>
<rect x="395.5" y="549.5" width="14.5" height="84.1" fill="rgba(86,180,233,0.07)"/>
<path d="M395.5,492.4L395.5,492.4L395.5,493.6L395.5,494.7L395.5,495.9L395.5,497.0L395.5,498.2L395.5,499.3L395.5,500.5L395.5,501.6L395.5,502.8L395.5,503.9L395.5,505.1L395.5,506.3L395.5,507.4L395.5,508.6L395.5,509.7L395.5,510.9L395.5,512.0L395.5,513.2L395.5,514.3L395.5,515.5L395.5,516.6L395.5,517.8L395.5,519.0L395.5,520.1L395.5,521.3L395.5,522.4L395.5,523.6L395.5,524.7L395.5,525.9L395.5,527.0L395.5,528.2L395.5,529.4L395.5,530.5L395.5,531.7L395.5,532.8L395.5,534.0L395.5,535.1L395.5,536.3L395.5,537.4L395.5,538.6L395.5,539.7L395.5,540.9L395.5,542.1L395.5,543.2L395.5,544.4L395.6,545.5L395.7,546.7L395.9,547.8L396.2,549.0L396.6,550.1L397.2,551.3L397.7,552.4L398.2,553.6L398.5,554.8L398.5,555.9L398.1,557.1L397.6,558.2L397.1,559.4L396.6,560.5L396.2,561.7L395.9,562.8L395.8,564.0L395.9,565.1L396.0,566.3L396.3,567.5L396.6,568.6L397.0,569.8L397.5,570.9L397.8,572.1L398.1,573.2L398.3,574.4L398.4,575.5L398.5,576.7L398.6,577.8L398.8,579.0L399.0,580.2L399.3,581.3L399.6,582.5L399.7,583.6L399.6,584.8L399.3,585.9L398.8,587.1L398.2,588.2L397.6,589.4L397.1,590.6L396.8,591.7L396.6,592.9L396.7,594.0L397.1,595.2L397.7,596.3L398.7,597.5L399.9,598.6L401.5,599.8L403.5,600.9L405.8,602.1L408.3,603.3L411.0,604.4L413.6,605.6L416.1,606.7L418.1,607.9L419.6,609.0L420.4,610.2L420.4,611.3L419.7,612.5L418.2,613.6L416.2,614.8L413.8,616.0L411.1,617.1L408.5,618.3L405.9,619.4L403.6,620.6L401.6,621.7L400.0,622.9L398.7,624.0L397.7,625.2L397.0,626.3L396.4,627.5L396.1,628.7L395.9,629.8L395.7,631.0L395.6,632.1L395.5,633.3L395.5,634.4L395.5,635.6L395.5,636.7L395.5,637.9L395.5,639.0L395.5,640.2L395.5,641.4L395.5,642.5L395.5,643.7L395.5,644.8L395.5,646.0L395.5,647.1L395.5,648.3L395.5,649.4L395.5,650.6L395.5,651.8L395.5,652.9L395.5,654.1L395.5,655.2L395.5,656.4L395.5,657.5L395.5,658.7L395.5,659.8L395.5,661.0L395.5,662.1L395.5,663.3L395.5,664.5L395.5,665.6L395.5,666.8L395.5,667.9L395.5,669.1L395.5,670.2L395.5,671.4L395.5,672.5L395.5,673.7L395.5,674.8L395.5,676.0L395.5,676.0Z" fill="rgba(86,180,233,0.14)" stroke="none" stroke-width="1"/>
<path d="M407.9 570.7h0M399.4 628.3h0M399.8 607.0h0M397.4 619.7h0M406.3 613.4h0M403.0 611.5h0M398.0 597.8h0M399.5 613.3h0M399.6 589.0h0M401.1 557.3h0M399.3 600.2h0M406.1 605.5h0M404.6 560.4h0M405.9 606.9h0M406.0 607.4h0M397.3 612.2h0M404.9 609.7h0M404.7 555.5h0M400.1 614.9h0M398.0 556.5h0M402.6 608.2h0M406.3 560.6h0M406.0 605.5h0M401.1 576.2h0M399.2 618.7h0M404.8 619.8h0M405.4 590.4h0M400.5 569.6h0M402.4 610.4h0M401.0 609.8h0M399.9 611.3h0M399.9 596.0h0M397.0 617.5h0M401.3 564.1h0" stroke="#56b4e9" stroke-width="1.7" stroke-linecap="round"/>
<path d="M395.5,492.4L395.5,493.6L395.5,494.7L395.5,495.9L395.5,497.0L395.5,498.2L395.5,499.3L395.5,500.5L395.5,501.6L395.5,502.8L395.5,503.9L395.5,505.1L395.5,506.3L395.5,507.4L395.5,508.6L395.5,509.7L395.5,510.9L395.5,512.0L395.5,513.2L395.5,514.3L395.5,515.5L395.5,516.6L395.5,517.8L395.5,519.0L395.5,520.1L395.5,521.3L395.5,522.4L395.5,523.6L395.5,524.7L395.5,525.9L395.5,527.0L395.5,528.2L395.5,529.4L395.5,530.5L395.5,531.7L395.5,532.8L395.5,534.0L395.5,535.1L395.5,536.3L395.5,537.4L395.5,538.6L395.5,539.7L395.5,540.9L395.5,542.1L395.5,543.2L395.5,544.4L395.6,545.5L395.7,546.7L395.9,547.8L396.2,549.0L396.6,550.1L397.2,551.3L397.7,552.4L398.2,553.6L398.5,554.8L398.5,555.9L398.1,557.1L397.6,558.2L397.1,559.4L396.6,560.5L396.2,561.7L395.9,562.8L395.8,564.0L395.9,565.1L396.0,566.3L396.3,567.5L396.6,568.6L397.0,569.8L397.5,570.9L397.8,572.1L398.1,573.2L398.3,574.4L398.4,575.5L398.5,576.7L398.6,577.8L398.8,579.0L399.0,580.2L399.3,581.3L399.6,582.5L399.7,583.6L399.6,584.8L399.3,585.9L398.8,587.1L398.2,588.2L397.6,589.4L397.1,590.6L396.8,591.7L396.6,592.9L396.7,594.0L397.1,595.2L397.7,596.3L398.7,597.5L399.9,598.6L401.5,599.8L403.5,600.9L405.8,602.1L408.3,603.3L411.0,604.4L413.6,605.6L416.1,606.7L418.1,607.9L419.6,609.0L420.4,610.2L420.4,611.3L419.7,612.5L418.2,613.6L416.2,614.8L413.8,616.0L411.1,617.1L408.5,618.3L405.9,619.4L403.6,620.6L401.6,621.7L400.0,622.9L398.7,624.0L397.7,625.2L397.0,626.3L396.4,627.5L396.1,628.7L395.9,629.8L395.7,631.0L395.6,632.1L395.5,633.3L395.5,634.4L395.5,635.6L395.5,636.7L395.5,637.9L395.5,639.0L395.5,640.2L395.5,641.4L395.5,642.5L395.5,643.7L395.5,644.8L395.5,646.0L395.5,647.1L395.5,648.3L395.5,649.4L395.5,650.6L395.5,651.8L395.5,652.9L395.5,654.1L395.5,655.2L395.5,656.4L395.5,657.5L395.5,658.7L395.5,659.8L395.5,661.0L395.5,662.1L395.5,663.3L395.5,664.5L395.5,665.6L395.5,666.8L395.5,667.9L395.5,669.1L395.5,670.2L395.5,671.4L395.5,672.5L395.5,673.7L395.5,674.8L395.5,676.0" fill="none" stroke="#1e1e1e" stroke-width="1.1"/>
<rect x="414.5" y="559.6" width="14.5" height="75.4" fill="rgba(86,180,233,0.07)"/>
<path d="M414.5,492.4L414.5,492.4L414.5,493.6L414.5,494.7L414.5,495.9L414.5,497.0L414.5,498.2L414.5,499.3L414.5,500.5L414.5,501.6L414.5,502.8L414.5,503.9L414.5,505.1L414.5,506.3L414.5,507.4L414.5,508.6L414.5,509.7L414.5,510.9L414.5,512.0L414.5,513.2L414.5,514.3L414.5,515.5L414.5,516.6L414.5,517.8L414.5,519.0L414.5,520.1L414.5,521.3L414.5,522.4L414.5,523.6L414.5,524.7L414.5,525.9L414.5,527.0L414.5,528.2L414.5,529.4L414.5,530.5L414.5,531.7L414.5,532.8L414.5,534.0L414.5,535.1L414.5,536.3L414.5,537.4L414.5,538.6L414.5,539.7L414.5,540.9L414.5,542.1L414.5,543.2L414.5,544.4L414.5,545.5L414.5,546.7L414.5,547.8L414.5,549.0L414.5,550.1L414.5,551.3L414.5,552.4L414.6,553.6L414.8,554.8L415.0,555.9L415.2,557.1L415.5,558.2L415.9,559.4L416.3,560.5L416.7,561.7L416.9,562.8L417.0,564.0L416.9,565.1L416.7,566.3L416.3,567.5L415.9,568.6L415.5,569.8L415.2,570.9L415.0,572.1L414.8,573.2L414.8,574.4L414.9,575.5L415.0,576.7L415.3,577.8L415.7,579.0L416.1,580.2L416.6,581.3L417.0,582.5L417.4,583.6L417.5,584.8L417.5,585.9L417.2,587.1L416.9,588.2L416.5,589.4L416.1,590.6L415.9,591.7L415.8,592.9L415.9,594.0L416.3,595.2L416.9,596.3L417.7,597.5L418.8,598.6L420.1,599.8L421.7,600.9L423.5,602.1L425.5,603.3L427.6,604.4L429.7,605.6L431.7,606.7L433.5,607.9L434.9,609.0L436.0,610.2L436.5,611.3L436.4,612.5L435.8,613.6L434.7,614.8L433.2,616.0L431.3,617.1L429.3,618.3L427.2,619.4L425.1,620.6L423.1,621.7L421.3,622.9L419.8,624.0L418.5,625.2L417.4,626.3L416.6,627.5L416.0,628.7L415.5,629.8L415.2,631.0L414.9,632.1L414.8,633.3L414.7,634.4L414.6,635.6L414.5,636.7L414.5,637.9L414.5,639.0L414.5,640.2L414.5,641.4L414.5,642.5L414.5,643.7L414.5,644.8L414.5,646.0L414.5,647.1L414.5,648.3L414.5,649.4L414.5,650.6L414.5,651.8L414.5,652.9L414.5,654.1L414.5,655.2L414.5,656.4L414.5,657.5L414.5,658.7L414.5,659.8L414.5,661.0L414.5,662.1L414.5,663.3L414.5,664.5L414.5,665.6L414.5,666.8L414.5,667.9L414.5,669.1L414.5,670.2L414.5,671.4L414.5,672.5L414.5,673.7L414.5,674.8L414.5,676.0L414.5,676.0Z" fill="rgba(86,180,233,0.14)" stroke="none" stroke-width="1"/>
<path d="M424.2 619.7h0M426.9 589.0h0M423.7 582.8h0M420.3 621.6h0M422.4 615.1h0M426.2 613.1h0M418.8 612.4h0M415.8 614.0h0M418.5 602.3h0M424.7 615.7h0M426.7 577.8h0M425.8 604.7h0M421.9 607.2h0M421.3 606.9h0M419.2 565.1h0M420.1 562.3h0M422.3 611.9h0M425.2 615.2h0M417.9 610.4h0M424.9 607.5h0M427.4 597.9h0M416.7 605.4h0M422.8 615.3h0M417.6 619.4h0M418.2 606.3h0M424.2 616.3h0M426.3 561.7h0M417.3 600.3h0M420.4 609.4h0M423.4 616.3h0M418.1 618.9h0M417.0 604.9h0M423.2 581.4h0M418.6 617.6h0" stroke="#56b4e9" stroke-width="1.7" stroke-linecap="round"/>
<path d="M414.5,492.4L414.5,493.6L414.5,494.7L414.5,495.9L414.5,497.0L414.5,498.2L414.5,499.3L414.5,500.5L414.5,501.6L414.5,502.8L414.5,503.9L414.5,505.1L414.5,506.3L414.5,507.4L414.5,508.6L414.5,509.7L414.5,510.9L414.5,512.0L414.5,513.2L414.5,514.3L414.5,515.5L414.5,516.6L414.5,517.8L414.5,519.0L414.5,520.1L414.5,521.3L414.5,522.4L414.5,523.6L414.5,524.7L414.5,525.9L414.5,527.0L414.5,528.2L414.5,529.4L414.5,530.5L414.5,531.7L414.5,532.8L414.5,534.0L414.5,535.1L414.5,536.3L414.5,537.4L414.5,538.6L414.5,539.7L414.5,540.9L414.5,542.1L414.5,543.2L414.5,544.4L414.5,545.5L414.5,546.7L414.5,547.8L414.5,549.0L414.5,550.1L414.5,551.3L414.5,552.4L414.6,553.6L414.8,554.8L415.0,555.9L415.2,557.1L415.5,558.2L415.9,559.4L416.3,560.5L416.7,561.7L416.9,562.8L417.0,564.0L416.9,565.1L416.7,566.3L416.3,567.5L415.9,568.6L415.5,569.8L415.2,570.9L415.0,572.1L414.8,573.2L414.8,574.4L414.9,575.5L415.0,576.7L415.3,577.8L415.7,579.0L416.1,580.2L416.6,581.3L417.0,582.5L417.4,583.6L417.5,584.8L417.5,585.9L417.2,587.1L416.9,588.2L416.5,589.4L416.1,590.6L415.9,591.7L415.8,592.9L415.9,594.0L416.3,595.2L416.9,596.3L417.7,597.5L418.8,598.6L420.1,599.8L421.7,600.9L423.5,602.1L425.5,603.3L427.6,604.4L429.7,605.6L431.7,606.7L433.5,607.9L434.9,609.0L436.0,610.2L436.5,611.3L436.4,612.5L435.8,613.6L434.7,614.8L433.2,616.0L431.3,617.1L429.3,618.3L427.2,619.4L425.1,620.6L423.1,621.7L421.3,622.9L419.8,624.0L418.5,625.2L417.4,626.3L416.6,627.5L416.0,628.7L415.5,629.8L415.2,631.0L414.9,632.1L414.8,633.3L414.7,634.4L414.6,635.6L414.5,636.7L414.5,637.9L414.5,639.0L414.5,640.2L414.5,641.4L414.5,642.5L414.5,643.7L414.5,644.8L414.5,646.0L414.5,647.1L414.5,648.3L414.5,649.4L414.5,650.6L414.5,651.8L414.5,652.9L414.5,654.1L414.5,655.2L414.5,656.4L414.5,657.5L414.5,658.7L414.5,659.8L414.5,661.0L414.5,662.1L414.5,663.3L414.5,664.5L414.5,665.6L414.5,666.8L414.5,667.9L414.5,669.1L414.5,670.2L414.5,671.4L414.5,672.5L414.5,673.7L414.5,674.8L414.5,676.0" fill="none" stroke="#1e1e1e" stroke-width="1.1"/>
<rect x="432.5" y="562.5" width="14.5" height="73.9" fill="rgba(86,180,233,0.07)"/>
<path d="M432.5,492.4L432.5,492.4L432.5,493.6L432.5,494.7L432.5,495.9L432.5,497.0L432.5,498.2L432.5,499.3L432.5,500.5L432.5,501.6L432.5,502.8L432.5,503.9L432.5,505.1L432.5,506.3L432.5,507.4L432.5,508.6L432.5,509.7L432.5,510.9L432.5,512.0L432.5,513.2L432.5,514.3L432.5,515.5L432.5,516.6L432.5,517.8L432.5,519.0L432.5,520.1L432.5,521.3L432.5,522.4L432.5,523.6L432.5,524.7L432.5,525.9L432.5,527.0L432.5,528.2L432.5,529.4L432.5,530.5L432.5,531.7L432.5,532.8L432.5,534.0L432.5,535.1L432.5,536.3L432.5,537.4L432.5,538.6L432.5,539.7L432.5,540.9L432.5,542.1L432.5,543.2L432.5,544.4L432.5,545.5L432.5,546.7L432.5,547.8L432.5,549.0L432.5,550.1L432.5,551.3L432.5,552.4L432.5,553.6L432.5,554.8L432.6,555.9L432.7,557.1L432.8,558.2L433.1,559.4L433.4,560.5L433.7,561.7L434.1,562.8L434.5,564.0L434.8,565.1L435.0,566.3L435.0,567.5L434.9,568.6L434.6,569.8L434.3,570.9L434.1,572.1L433.9,573.2L433.8,574.4L433.8,575.5L434.0,576.7L434.3,577.8L434.7,579.0L435.0,580.2L435.5,581.3L435.8,582.5L436.2,583.6L436.4,584.8L436.6,585.9L436.8,587.1L436.9,588.2L437.0,589.4L437.2,590.6L437.4,591.7L437.6,592.9L438.0,594.0L438.6,595.2L439.3,596.3L440.2,597.5L441.4,598.6L442.8,599.8L444.5,600.9L446.5,602.1L448.7,603.3L451.0,604.4L453.4,605.6L455.7,606.7L457.8,607.9L459.5,609.0L460.7,610.2L461.4,611.3L461.4,612.5L460.7,613.6L459.3,614.8L457.4,616.0L455.1,617.1L452.5,618.3L449.8,619.4L447.1,620.6L444.5,621.7L442.1,622.9L440.0,624.0L438.2,625.2L436.7,626.3L435.6,627.5L434.7,628.7L434.0,629.8L433.5,631.0L433.2,632.1L432.9,633.3L432.8,634.4L432.7,635.6L432.6,636.7L432.5,637.9L432.5,639.0L432.5,640.2L432.5,641.4L432.5,642.5L432.5,643.7L432.5,644.8L432.5,646.0L432.5,647.1L432.5,648.3L432.5,649.4L432.6,650.6L432.7,651.8L432.9,652.9L433.0,654.1L433.2,655.2L433.4,656.4L433.6,657.5L433.7,658.7L433.7,659.8L433.6,661.0L433.5,662.1L433.3,663.3L433.2,664.5L433.0,665.6L432.8,666.8L432.7,667.9L432.6,669.1L432.5,670.2L432.5,671.4L432.5,672.5L432.5,673.7L432.5,674.8L432.5,676.0L432.5,676.0Z" fill="rgba(86,180,233,0.14)" stroke="none" stroke-width="1"/>
<path d="M443.4 612.3h0M435.4 597.1h0M439.7 604.3h0M439.6 619.8h0M435.0 600.3h0M444.0 616.6h0M437.0 619.5h0M434.2 609.4h0M439.3 606.6h0M439.5 620.2h0M442.7 606.5h0M443.1 628.7h0M433.7 597.0h0M440.4 610.0h0M434.4 608.9h0M434.7 604.0h0M439.3 594.6h0M442.0 603.5h0M434.9 598.1h0M438.2 602.3h0M436.7 572.9h0M437.4 612.0h0M437.5 604.1h0M441.5 622.6h0M437.7 601.2h0M439.2 599.7h0M438.8 609.1h0M443.4 565.0h0M440.1 604.8h0M442.9 592.0h0M442.2 580.5h0M438.5 576.5h0M441.6 602.5h0M442.6 579.3h0" stroke="#56b4e9" stroke-width="1.7" stroke-linecap="round"/>
<path d="M432.5,492.4L432.5,493.6L432.5,494.7L432.5,495.9L432.5,497.0L432.5,498.2L432.5,499.3L432.5,500.5L432.5,501.6L432.5,502.8L432.5,503.9L432.5,505.1L432.5,506.3L432.5,507.4L432.5,508.6L432.5,509.7L432.5,510.9L432.5,512.0L432.5,513.2L432.5,514.3L432.5,515.5L432.5,516.6L432.5,517.8L432.5,519.0L432.5,520.1L432.5,521.3L432.5,522.4L432.5,523.6L432.5,524.7L432.5,525.9L432.5,527.0L432.5,528.2L432.5,529.4L432.5,530.5L432.5,531.7L432.5,532.8L432.5,534.0L432.5,535.1L432.5,536.3L432.5,537.4L432.5,538.6L432.5,539.7L432.5,540.9L432.5,542.1L432.5,543.2L432.5,544.4L432.5,545.5L432.5,546.7L432.5,547.8L432.5,549.0L432.5,550.1L432.5,551.3L432.5,552.4L432.5,553.6L432.5,554.8L432.6,555.9L432.7,557.1L432.8,558.2L433.1,559.4L433.4,560.5L433.7,561.7L434.1,562.8L434.5,564.0L434.8,565.1L435.0,566.3L435.0,567.5L434.9,568.6L434.6,569.8L434.3,570.9L434.1,572.1L433.9,573.2L433.8,574.4L433.8,575.5L434.0,576.7L434.3,577.8L434.7,579.0L435.0,580.2L435.5,581.3L435.8,582.5L436.2,583.6L436.4,584.8L436.6,585.9L436.8,587.1L436.9,588.2L437.0,589.4L437.2,590.6L437.4,591.7L437.6,592.9L438.0,594.0L438.6,595.2L439.3,596.3L440.2,597.5L441.4,598.6L442.8,599.8L444.5,600.9L446.5,602.1L448.7,603.3L451.0,604.4L453.4,605.6L455.7,606.7L457.8,607.9L459.5,609.0L460.7,610.2L461.4,611.3L461.4,612.5L460.7,613.6L459.3,614.8L457.4,616.0L455.1,617.1L452.5,618.3L449.8,619.4L447.1,620.6L444.5,621.7L442.1,622.9L440.0,624.0L438.2,625.2L436.7,626.3L435.6,627.5L434.7,628.7L434.0,629.8L433.5,631.0L433.2,632.1L432.9,633.3L432.8,634.4L432.7,635.6L432.6,636.7L432.5,637.9L432.5,639.0L432.5,640.2L432.5,641.4L432.5,642.5L432.5,643.7L432.5,644.8L432.5,646.0L432.5,647.1L432.5,648.3L432.5,649.4L432.6,650.6L432.7,651.8L432.9,652.9L433.0,654.1L433.2,655.2L433.4,656.4L433.6,657.5L433.7,658.7L433.7,659.8L433.6,661.0L433.5,662.1L433.3,663.3L433.2,664.5L433.0,665.6L432.8,666.8L432.7,667.9L432.6,669.1L432.5,670.2L432.5,671.4L432.5,672.5L432.5,673.7L432.5,674.8L432.5,676.0" fill="none" stroke="#1e1e1e" stroke-width="1.1"/>
<rect x="451.5" y="529.1" width="14.5" height="102.9" fill="rgba(86,180,233,0.07)"/>
<path d="M451.5,492.4L451.5,492.4L451.5,493.6L451.5,494.7L451.5,495.9L451.5,497.0L451.5,498.2L451.5,499.3L451.5,500.5L451.5,501.6L451.5,502.8L451.5,503.9L451.5,505.1L451.5,506.3L451.5,507.4L451.5,508.6L451.5,509.7L451.5,510.9L451.5,512.0L451.5,513.2L451.5,514.3L451.5,515.5L451.5,516.6L451.5,517.8L451.5,519.0L451.5,520.1L451.5,521.3L451.5,522.4L451.5,523.6L451.5,524.7L451.5,525.9L451.5,527.0L451.6,528.2L451.7,529.4L451.9,530.5L452.0,531.7L452.3,532.8L452.5,534.0L452.7,535.1L452.9,536.3L453.0,537.4L453.0,538.6L452.9,539.7L452.7,540.9L452.6,542.1L452.4,543.2L452.4,544.4L452.4,545.5L452.5,546.7L452.8,547.8L453.0,549.0L453.3,550.1L453.5,551.3L453.5,552.4L453.4,553.6L453.3,554.8L453.0,555.9L452.8,557.1L452.6,558.2L452.5,559.4L452.5,560.5L452.7,561.7L452.9,562.8L453.2,564.0L453.5,565.1L453.6,566.3L453.7,567.5L453.7,568.6L453.6,569.8L453.5,570.9L453.5,572.1L453.6,573.2L453.9,574.4L454.3,575.5L454.8,576.7L455.5,577.8L456.2,579.0L456.9,580.2L457.6,581.3L458.2,582.5L458.7,583.6L459.2,584.8L459.5,585.9L459.9,587.1L460.3,588.2L460.7,589.4L461.2,590.6L461.8,591.7L462.4,592.9L463.0,594.0L463.7,595.2L464.4,596.3L465.1,597.5L465.6,598.6L466.0,599.8L466.3,600.9L466.5,602.1L466.5,603.3L466.3,604.4L466.0,605.6L465.5,606.7L464.9,607.9L464.1,609.0L463.3,610.2L462.4,611.3L461.5,612.5L460.5,613.6L459.5,614.8L458.6,616.0L457.7,617.1L456.9,618.3L456.1,619.4L455.4,620.6L454.7,621.7L454.2,622.9L453.7,624.0L453.3,625.2L452.9,626.3L452.6,627.5L452.4,628.7L452.2,629.8L452.0,631.0L451.9,632.1L451.8,633.3L451.7,634.4L451.7,635.6L451.6,636.7L451.5,637.9L451.5,639.0L451.5,640.2L451.5,641.4L451.5,642.5L451.5,643.7L451.5,644.8L451.5,646.0L451.5,647.1L451.5,648.3L451.5,649.4L451.5,650.6L451.5,651.8L451.5,652.9L451.5,654.1L451.5,655.2L451.5,656.4L451.5,657.5L451.5,658.7L451.5,659.8L451.5,661.0L451.5,662.1L451.5,663.3L451.5,664.5L451.5,665.6L451.5,666.8L451.5,667.9L451.5,669.1L451.5,670.2L451.5,671.4L451.5,672.5L451.5,673.7L451.5,674.8L451.5,676.0L451.5,676.0Z" fill="rgba(86,180,233,0.14)" stroke="none" stroke-width="1"/>
<path d="M456.3 601.0h0M461.8 590.9h0M463.6 607.5h0M456.3 612.8h0M455.7 604.6h0M460.0 595.9h0M462.5 582.2h0M464.2 568.4h0M456.3 605.4h0M463.7 589.4h0M457.9 591.3h0M459.1 613.6h0M460.7 590.8h0M458.6 596.3h0M461.1 594.5h0M454.2 609.2h0M462.8 613.6h0M458.3 599.9h0M454.6 602.3h0M455.6 607.8h0M463.5 585.2h0M456.4 595.6h0M454.0 608.4h0M454.4 540.4h0M457.5 537.4h0M463.5 584.4h0M463.7 590.2h0M459.0 560.2h0M454.4 545.0h0M458.6 583.3h0M460.0 603.0h0M461.1 572.1h0M463.0 592.3h0M460.3 603.8h0" stroke="#56b4e9" stroke-width="1.7" stroke-linecap="round"/>
<path d="M451.5,492.4L451.5,493.6L451.5,494.7L451.5,495.9L451.5,497.0L451.5,498.2L451.5,499.3L451.5,500.5L451.5,501.6L451.5,502.8L451.5,503.9L451.5,505.1L451.5,506.3L451.5,507.4L451.5,508.6L451.5,509.7L451.5,510.9L451.5,512.0L451.5,513.2L451.5,514.3L451.5,515.5L451.5,516.6L451.5,517.8L451.5,519.0L451.5,520.1L451.5,521.3L451.5,522.4L451.5,523.6L451.5,524.7L451.5,525.9L451.5,527.0L451.6,528.2L451.7,529.4L451.9,530.5L452.0,531.7L452.3,532.8L452.5,534.0L452.7,535.1L452.9,536.3L453.0,537.4L453.0,538.6L452.9,539.7L452.7,540.9L452.6,542.1L452.4,543.2L452.4,544.4L452.4,545.5L452.5,546.7L452.8,547.8L453.0,549.0L453.3,550.1L453.5,551.3L453.5,552.4L453.4,553.6L453.3,554.8L453.0,555.9L452.8,557.1L452.6,558.2L452.5,559.4L452.5,560.5L452.7,561.7L452.9,562.8L453.2,564.0L453.5,565.1L453.6,566.3L453.7,567.5L453.7,568.6L453.6,569.8L453.5,570.9L453.5,572.1L453.6,573.2L453.9,574.4L454.3,575.5L454.8,576.7L455.5,577.8L456.2,579.0L456.9,580.2L457.6,581.3L458.2,582.5L458.7,583.6L459.2,584.8L459.5,585.9L459.9,587.1L460.3,588.2L460.7,589.4L461.2,590.6L461.8,591.7L462.4,592.9L463.0,594.0L463.7,595.2L464.4,596.3L465.1,597.5L465.6,598.6L466.0,599.8L466.3,600.9L466.5,602.1L466.5,603.3L466.3,604.4L466.0,605.6L465.5,606.7L464.9,607.9L464.1,609.0L463.3,610.2L462.4,611.3L461.5,612.5L460.5,613.6L459.5,614.8L458.6,616.0L457.7,617.1L456.9,618.3L456.1,619.4L455.4,620.6L454.7,621.7L454.2,622.9L453.7,624.0L453.3,625.2L452.9,626.3L452.6,627.5L452.4,628.7L452.2,629.8L452.0,631.0L451.9,632.1L451.8,633.3L451.7,634.4L451.7,635.6L451.6,636.7L451.5,637.9L451.5,639.0L451.5,640.2L451.5,641.4L451.5,642.5L451.5,643.7L451.5,644.8L451.5,646.0L451.5,647.1L451.5,648.3L451.5,649.4L451.5,650.6L451.5,651.8L451.5,652.9L451.5,654.1L451.5,655.2L451.5,656.4L451.5,657.5L451.5,658.7L451.5,659.8L451.5,661.0L451.5,662.1L451.5,663.3L451.5,664.5L451.5,665.6L451.5,666.8L451.5,667.9L451.5,669.1L451.5,670.2L451.5,671.4L451.5,672.5L451.5,673.7L451.5,674.8L451.5,676.0" fill="none" stroke="#1e1e1e" stroke-width="1.1"/>
<rect x="470.5" y="536.4" width="14.5" height="95.7" fill="rgba(86,180,233,0.07)"/>
<path d="M470.5,492.4L470.5,492.4L470.5,493.6L470.5,494.7L470.5,495.9L470.5,497.0L470.5,498.2L470.5,499.3L470.5,500.5L470.5,501.6L470.5,502.8L470.5,503.9L470.5,505.1L470.5,506.3L470.5,507.4L470.5,508.6L470.5,509.7L470.5,510.9L470.5,512.0L470.5,513.2L470.5,514.3L470.5,515.5L470.5,516.6L470.5,517.8L470.5,519.0L470.5,520.1L470.5,521.3L470.5,522.4L470.5,523.6L470.5,524.7L470.5,525.9L470.5,527.0L470.5,528.2L470.5,529.4L470.5,530.5L470.5,531.7L470.5,532.8L470.5,534.0L470.5,535.1L470.5,536.3L470.5,537.4L470.5,538.6L470.5,539.7L470.5,540.9L470.7,542.1L470.8,543.2L471.0,544.4L471.2,545.5L471.6,546.7L472.0,547.8L472.4,549.0L472.7,550.1L472.9,551.3L473.0,552.4L472.9,553.6L472.7,554.8L472.4,555.9L472.1,557.1L471.9,558.2L471.8,559.4L471.8,560.5L472.0,561.7L472.3,562.8L472.6,564.0L472.9,565.1L473.1,566.3L473.2,567.5L473.1,568.6L472.9,569.8L472.7,570.9L472.5,572.1L472.4,573.2L472.4,574.4L472.6,575.5L472.8,576.7L473.2,577.8L473.6,579.0L474.1,580.2L474.6,581.3L475.1,582.5L475.7,583.6L476.3,584.8L476.9,585.9L477.6,587.1L478.3,588.2L479.1,589.4L480.0,590.6L480.9,591.7L481.9,592.9L482.9,594.0L483.9,595.2L484.8,596.3L485.7,597.5L486.4,598.6L487.0,599.8L487.4,600.9L487.6,602.1L487.6,603.3L487.3,604.4L486.8,605.6L486.0,606.7L485.1,607.9L484.0,609.0L482.9,610.2L481.6,611.3L480.4,612.5L479.1,613.6L477.9,614.8L476.8,616.0L475.8,617.1L474.8,618.3L474.0,619.4L473.3,620.6L472.7,621.7L472.2,622.9L471.8,624.0L471.5,625.2L471.2,626.3L471.0,627.5L470.9,628.7L470.8,629.8L470.7,631.0L470.6,632.1L470.6,633.3L470.5,634.4L470.5,635.6L470.5,636.7L470.5,637.9L470.5,639.0L470.5,640.2L470.5,641.4L470.5,642.5L470.5,643.7L470.5,644.8L470.5,646.0L470.5,647.1L470.5,648.3L470.5,649.4L470.5,650.6L470.5,651.8L470.5,652.9L470.5,654.1L470.5,655.2L470.5,656.4L470.5,657.5L470.5,658.7L470.5,659.8L470.5,661.0L470.5,662.1L470.5,663.3L470.5,664.5L470.5,665.6L470.5,666.8L470.5,667.9L470.5,669.1L470.5,670.2L470.5,671.4L470.5,672.5L470.5,673.7L470.5,674.8L470.5,676.0L470.5,676.0Z" fill="rgba(86,180,233,0.14)" stroke="none" stroke-width="1"/>
<path d="M481.4 554.5h0M477.5 576.7h0M482.2 613.6h0M481.1 566.3h0M473.6 583.6h0M480.7 601.1h0M472.1 576.1h0M476.0 628.1h0M478.2 539.3h0M475.4 602.1h0M476.3 624.5h0M473.2 546.7h0M479.7 584.2h0M483.0 571.7h0M474.6 567.5h0M482.6 617.9h0M482.3 607.5h0M475.9 595.6h0M480.2 606.8h0M483.0 574.5h0M473.9 620.3h0M479.1 599.5h0M482.6 592.9h0M482.1 603.8h0M472.3 608.2h0M476.3 602.0h0M479.5 604.5h0M477.0 611.9h0M479.4 601.6h0M481.6 617.0h0M473.1 601.3h0M480.7 608.5h0M482.3 601.2h0M480.3 600.5h0" stroke="#56b4e9" stroke-width="1.7" stroke-linecap="round"/>
<path d="M470.5,492.4L470.5,493.6L470.5,494.7L470.5,495.9L470.5,497.0L470.5,498.2L470.5,499.3L470.5,500.5L470.5,501.6L470.5,502.8L470.5,503.9L470.5,505.1L470.5,506.3L470.5,507.4L470.5,508.6L470.5,509.7L470.5,510.9L470.5,512.0L470.5,513.2L470.5,514.3L470.5,515.5L470.5,516.6L470.5,517.8L470.5,519.0L470.5,520.1L470.5,521.3L470.5,522.4L470.5,523.6L470.5,524.7L470.5,525.9L470.5,527.0L470.5,528.2L470.5,529.4L470.5,530.5L470.5,531.7L470.5,532.8L470.5,534.0L470.5,535.1L470.5,536.3L470.5,537.4L470.5,538.6L470.5,539.7L470.5,540.9L470.7,542.1L470.8,543.2L471.0,544.4L471.2,545.5L471.6,546.7L472.0,547.8L472.4,549.0L472.7,550.1L472.9,551.3L473.0,552.4L472.9,553.6L472.7,554.8L472.4,555.9L472.1,557.1L471.9,558.2L471.8,559.4L471.8,560.5L472.0,561.7L472.3,562.8L472.6,564.0L472.9,565.1L473.1,566.3L473.2,567.5L473.1,568.6L472.9,569.8L472.7,570.9L472.5,572.1L472.4,573.2L472.4,574.4L472.6,575.5L472.8,576.7L473.2,577.8L473.6,579.0L474.1,580.2L474.6,581.3L475.1,582.5L475.7,583.6L476.3,584.8L476.9,585.9L477.6,587.1L478.3,588.2L479.1,589.4L480.0,590.6L480.9,591.7L481.9,592.9L482.9,594.0L483.9,595.2L484.8,596.3L485.7,597.5L486.4,598.6L487.0,599.8L487.4,600.9L487.6,602.1L487.6,603.3L487.3,604.4L486.8,605.6L486.0,606.7L485.1,607.9L484.0,609.0L482.9,610.2L481.6,611.3L480.4,612.5L479.1,613.6L477.9,614.8L476.8,616.0L475.8,617.1L474.8,618.3L474.0,619.4L473.3,620.6L472.7,621.7L472.2,622.9L471.8,624.0L471.5,625.2L471.2,626.3L471.0,627.5L470.9,628.7L470.8,629.8L470.7,631.0L470.6,632.1L470.6,633.3L470.5,634.4L470.5,635.6L470.5,636.7L470.5,637.9L470.5,639.0L470.5,640.2L470.5,641.4L470.5,642.5L470.5,643.7L470.5,644.8L470.5,646.0L470.5,647.1L470.5,648.3L470.5,649.4L470.5,650.6L470.5,651.8L470.5,652.9L470.5,654.1L470.5,655.2L470.5,656.4L470.5,657.5L470.5,658.7L470.5,659.8L470.5,661.0L470.5,662.1L470.5,663.3L470.5,664.5L470.5,665.6L470.5,666.8L470.5,667.9L470.5,669.1L470.5,670.2L470.5,671.4L470.5,672.5L470.5,673.7L470.5,674.8L470.5,676.0" fill="none" stroke="#1e1e1e" stroke-width="1.1"/>
<rect x="488.5" y="536.4" width="14.5" height="97.2" fill="rgba(86,180,233,0.07)"/>
<path d="M488.5,492.4L488.5,492.4L488.5,493.6L488.5,494.7L488.5,495.9L488.5,497.0L488.5,498.2L488.5,499.3L488.5,500.5L488.5,501.6L488.5,502.8L488.5,503.9L488.5,505.1L488.5,506.3L488.5,507.4L488.5,508.6L488.5,509.7L488.5,510.9L488.5,512.0L488.5,513.2L488.5,514.3L488.5,515.5L488.5,516.6L488.5,517.8L488.5,519.0L488.5,520.1L488.5,521.3L488.5,522.4L488.5,523.6L488.5,524.7L488.5,525.9L488.5,527.0L488.5,528.2L488.5,529.4L488.5,530.5L488.5,531.7L488.5,532.8L488.5,534.0L488.5,535.1L488.5,536.3L488.6,537.4L488.7,538.6L488.8,539.7L489.0,540.9L489.2,542.1L489.5,543.2L489.8,544.4L490.0,545.5L490.2,546.7L490.3,547.8L490.3,549.0L490.1,550.1L489.9,551.3L489.7,552.4L489.5,553.6L489.4,554.8L489.5,555.9L489.6,557.1L489.8,558.2L490.1,559.4L490.3,560.5L490.5,561.7L490.5,562.8L490.4,564.0L490.2,565.1L489.9,566.3L489.6,567.5L489.3,568.6L489.1,569.8L489.0,570.9L488.9,572.1L488.9,573.2L489.0,574.4L489.2,575.5L489.4,576.7L489.7,577.8L490.0,579.0L490.3,580.2L490.8,581.3L491.2,582.5L491.8,583.6L492.3,584.8L493.0,585.9L493.6,587.1L494.3,588.2L495.1,589.4L496.0,590.6L496.9,591.7L497.9,592.9L499.0,594.0L500.2,595.2L501.4,596.3L502.7,597.5L503.9,598.6L505.2,599.8L506.3,600.9L507.2,602.1L508.0,603.3L508.5,604.4L508.7,605.6L508.6,606.7L508.2,607.9L507.5,609.0L506.5,610.2L505.3,611.3L503.9,612.5L502.4,613.6L500.9,614.8L499.3,616.0L497.8,617.1L496.4,618.3L495.1,619.4L493.9,620.6L492.8,621.7L491.9,622.9L491.2,624.0L490.5,625.2L490.0,626.3L489.6,627.5L489.3,628.7L489.1,629.8L488.9,631.0L488.8,632.1L488.7,633.3L488.6,634.4L488.6,635.6L488.5,636.7L488.5,637.9L488.5,639.0L488.5,640.2L488.5,641.4L488.5,642.5L488.5,643.7L488.5,644.8L488.5,646.0L488.5,647.1L488.5,648.3L488.5,649.4L488.5,650.6L488.5,651.8L488.5,652.9L488.5,654.1L488.5,655.2L488.5,656.4L488.5,657.5L488.5,658.7L488.5,659.8L488.5,661.0L488.5,662.1L488.5,663.3L488.5,664.5L488.5,665.6L488.5,666.8L488.5,667.9L488.5,669.1L488.5,670.2L488.5,671.4L488.5,672.5L488.5,673.7L488.5,674.8L488.5,676.0L488.5,676.0Z" fill="rgba(86,180,233,0.14)" stroke="none" stroke-width="1"/>
<path d="M491.2 607.2h0M493.7 605.2h0M491.0 588.6h0M495.6 589.6h0M499.3 603.4h0M500.8 600.7h0M501.2 619.8h0M500.9 589.8h0M495.3 568.8h0M499.6 594.5h0M495.6 597.4h0M501.5 609.8h0M493.3 609.9h0M499.8 600.6h0M499.1 597.1h0M498.4 603.4h0M492.8 606.4h0M494.2 602.5h0M499.5 615.8h0M493.2 597.8h0M495.7 588.4h0M491.2 607.5h0M499.4 608.1h0M491.1 600.7h0M490.5 550.6h0M491.8 583.2h0M490.0 599.2h0M495.8 605.5h0M492.4 617.1h0M497.1 585.9h0M498.0 566.5h0M492.2 543.4h0M491.0 605.0h0M497.2 593.1h0" stroke="#56b4e9" stroke-width="1.7" stroke-linecap="round"/>
<path d="M488.5,492.4L488.5,493.6L488.5,494.7L488.5,495.9L488.5,497.0L488.5,498.2L488.5,499.3L488.5,500.5L488.5,501.6L488.5,502.8L488.5,503.9L488.5,505.1L488.5,506.3L488.5,507.4L488.5,508.6L488.5,509.7L488.5,510.9L488.5,512.0L488.5,513.2L488.5,514.3L488.5,515.5L488.5,516.6L488.5,517.8L488.5,519.0L488.5,520.1L488.5,521.3L488.5,522.4L488.5,523.6L488.5,524.7L488.5,525.9L488.5,527.0L488.5,528.2L488.5,529.4L488.5,530.5L488.5,531.7L488.5,532.8L488.5,534.0L488.5,535.1L488.5,536.3L488.6,537.4L488.7,538.6L488.8,539.7L489.0,540.9L489.2,542.1L489.5,543.2L489.8,544.4L490.0,545.5L490.2,546.7L490.3,547.8L490.3,549.0L490.1,550.1L489.9,551.3L489.7,552.4L489.5,553.6L489.4,554.8L489.5,555.9L489.6,557.1L489.8,558.2L490.1,559.4L490.3,560.5L490.5,561.7L490.5,562.8L490.4,564.0L490.2,565.1L489.9,566.3L489.6,567.5L489.3,568.6L489.1,569.8L489.0,570.9L488.9,572.1L488.9,573.2L489.0,574.4L489.2,575.5L489.4,576.7L489.7,577.8L490.0,579.0L490.3,580.2L490.8,581.3L491.2,582.5L491.8,583.6L492.3,584.8L493.0,585.9L493.6,587.1L494.3,588.2L495.1,589.4L496.0,590.6L496.9,591.7L497.9,592.9L499.0,594.0L500.2,595.2L501.4,596.3L502.7,597.5L503.9,598.6L505.2,599.8L506.3,600.9L507.2,602.1L508.0,603.3L508.5,604.4L508.7,605.6L508.6,606.7L508.2,607.9L507.5,609.0L506.5,610.2L505.3,611.3L503.9,612.5L502.4,613.6L500.9,614.8L499.3,616.0L497.8,617.1L496.4,618.3L495.1,619.4L493.9,620.6L492.8,621.7L491.9,622.9L491.2,624.0L490.5,625.2L490.0,626.3L489.6,627.5L489.3,628.7L489.1,629.8L488.9,631.0L488.8,632.1L488.7,633.3L488.6,634.4L488.6,635.6L488.5,636.7L488.5,637.9L488.5,639.0L488.5,640.2L488.5,641.4L488.5,642.5L488.5,643.7L488.5,644.8L488.5,646.0L488.5,647.1L488.5,648.3L488.5,649.4L488.5,650.6L488.5,651.8L488.5,652.9L488.5,654.1L488.5,655.2L488.5,656.4L488.5,657.5L488.5,658.7L488.5,659.8L488.5,661.0L488.5,662.1L488.5,663.3L488.5,664.5L488.5,665.6L488.5,666.8L488.5,667.9L488.5,669.1L488.5,670.2L488.5,671.4L488.5,672.5L488.5,673.7L488.5,674.8L488.5,676.0" fill="none" stroke="#1e1e1e" stroke-width="1.1"/>
<rect x="507.5" y="542.2" width="14.5" height="92.8" fill="rgba(86,180,233,0.07)"/>
<path d="M507.5,492.4L507.5,492.4L507.5,493.6L507.5,494.7L507.5,495.9L507.5,497.0L507.5,498.2L507.5,499.3L507.5,500.5L507.5,501.6L507.5,502.8L507.5,503.9L507.5,505.1L507.5,506.3L507.5,507.4L507.5,508.6L507.5,509.7L507.5,510.9L507.5,512.0L507.5,513.2L507.5,514.3L507.5,515.5L507.5,516.6L507.5,517.8L507.5,519.0L507.5,520.1L507.5,521.3L507.5,522.4L507.5,523.6L507.5,524.7L507.5,525.9L507.5,527.0L507.5,528.2L507.5,529.4L507.5,530.5L507.6,531.7L507.7,532.8L507.9,534.0L508.2,535.1L508.5,536.3L508.9,537.4L509.3,538.6L509.6,539.7L509.9,540.9L510.0,542.1L509.9,543.2L509.7,544.4L509.4,545.5L509.0,546.7L508.6,547.8L508.2,549.0L508.0,550.1L507.8,551.3L507.7,552.4L507.6,553.6L507.5,554.8L507.5,555.9L507.5,557.1L507.5,558.2L507.5,559.4L507.5,560.5L507.5,561.7L507.5,562.8L507.5,564.0L507.5,565.1L507.6,566.3L507.6,567.5L507.7,568.6L507.8,569.8L507.9,570.9L508.0,572.1L508.1,573.2L508.3,574.4L508.5,575.5L508.7,576.7L508.9,577.8L509.1,579.0L509.2,580.2L509.4,581.3L509.5,582.5L509.7,583.6L509.7,584.8L509.8,585.9L509.9,587.1L510.0,588.2L510.1,589.4L510.3,590.6L510.6,591.7L511.1,592.9L511.7,594.0L512.4,595.2L513.4,596.3L514.6,597.5L515.9,598.6L517.4,599.8L519.0,600.9L520.7,602.1L522.3,603.3L524.0,604.4L525.5,605.6L526.8,606.7L527.8,607.9L528.6,609.0L529.0,610.2L529.0,611.3L528.6,612.5L527.9,613.6L526.8,614.8L525.5,616.0L524.0,617.1L522.4,618.3L520.6,619.4L518.9,620.6L517.2,621.7L515.7,622.9L514.2,624.0L513.0,625.2L511.8,626.3L510.9,627.5L510.1,628.7L509.5,629.8L509.0,631.0L508.6,632.1L508.3,633.3L508.0,634.4L507.9,635.6L507.8,636.7L507.7,637.9L507.6,639.0L507.5,640.2L507.5,641.4L507.5,642.5L507.5,643.7L507.5,644.8L507.5,646.0L507.5,647.1L507.5,648.3L507.5,649.4L507.5,650.6L507.5,651.8L507.5,652.9L507.5,654.1L507.5,655.2L507.5,656.4L507.5,657.5L507.5,658.7L507.5,659.8L507.5,661.0L507.5,662.1L507.5,663.3L507.5,664.5L507.5,665.6L507.5,666.8L507.5,667.9L507.5,669.1L507.5,670.2L507.5,671.4L507.5,672.5L507.5,673.7L507.5,674.8L507.5,676.0L507.5,676.0Z" fill="rgba(86,180,233,0.14)" stroke="none" stroke-width="1"/>
<path d="M513.3 606.7h0M518.6 603.0h0M512.6 596.1h0M518.7 604.7h0M511.5 616.1h0M512.4 607.5h0M511.6 596.9h0M513.3 627.8h0M512.5 597.0h0M518.3 599.9h0M513.2 611.3h0M517.5 597.7h0M509.8 623.5h0M519.7 615.1h0M511.0 593.5h0M512.3 605.2h0M510.0 617.8h0M513.5 634.8h0M519.1 575.5h0M512.0 618.4h0M518.8 605.4h0M510.3 576.9h0M512.0 619.7h0M517.5 602.7h0M511.7 611.1h0M509.6 614.7h0M511.9 599.6h0M513.3 599.8h0M518.0 628.3h0M518.3 616.2h0M519.6 551.0h0M514.7 617.5h0M510.6 620.5h0M516.3 624.6h0" stroke="#56b4e9" stroke-width="1.7" stroke-linecap="round"/>
<path d="M507.5,492.4L507.5,493.6L507.5,494.7L507.5,495.9L507.5,497.0L507.5,498.2L507.5,499.3L507.5,500.5L507.5,501.6L507.5,502.8L507.5,503.9L507.5,505.1L507.5,506.3L507.5,507.4L507.5,508.6L507.5,509.7L507.5,510.9L507.5,512.0L507.5,513.2L507.5,514.3L507.5,515.5L507.5,516.6L507.5,517.8L507.5,519.0L507.5,520.1L507.5,521.3L507.5,522.4L507.5,523.6L507.5,524.7L507.5,525.9L507.5,527.0L507.5,528.2L507.5,529.4L507.5,530.5L507.6,531.7L507.7,532.8L507.9,534.0L508.2,535.1L508.5,536.3L508.9,537.4L509.3,538.6L509.6,539.7L509.9,540.9L510.0,542.1L509.9,543.2L509.7,544.4L509.4,545.5L509.0,546.7L508.6,547.8L508.2,549.0L508.0,550.1L507.8,551.3L507.7,552.4L507.6,553.6L507.5,554.8L507.5,555.9L507.5,557.1L507.5,558.2L507.5,559.4L507.5,560.5L507.5,561.7L507.5,562.8L507.5,564.0L507.5,565.1L507.6,566.3L507.6,567.5L507.7,568.6L507.8,569.8L507.9,570.9L508.0,572.1L508.1,573.2L508.3,574.4L508.5,575.5L508.7,576.7L508.9,577.8L509.1,579.0L509.2,580.2L509.4,581.3L509.5,582.5L509.7,583.6L509.7,584.8L509.8,585.9L509.9,587.1L510.0,588.2L510.1,589.4L510.3,590.6L510.6,591.7L511.1,592.9L511.7,594.0L512.4,595.2L513.4,596.3L514.6,597.5L515.9,598.6L517.4,599.8L519.0,600.9L520.7,602.1L522.3,603.3L524.0,604.4L525.5,605.6L526.8,606.7L527.8,607.9L528.6,609.0L529.0,610.2L529.0,611.3L528.6,612.5L527.9,613.6L526.8,614.8L525.5,616.0L524.0,617.1L522.4,618.3L520.6,619.4L518.9,620.6L517.2,621.7L515.7,622.9L514.2,624.0L513.0,625.2L511.8,626.3L510.9,627.5L510.1,628.7L509.5,629.8L509.0,631.0L508.6,632.1L508.3,633.3L508.0,634.4L507.9,635.6L507.8,636.7L507.7,637.9L507.6,639.0L507.5,640.2L507.5,641.4L507.5,642.5L507.5,643.7L507.5,644.8L507.5,646.0L507.5,647.1L507.5,648.3L507.5,649.4L507.5,650.6L507.5,651.8L507.5,652.9L507.5,654.1L507.5,655.2L507.5,656.4L507.5,657.5L507.5,658.7L507.5,659.8L507.5,661.0L507.5,662.1L507.5,663.3L507.5,664.5L507.5,665.6L507.5,666.8L507.5,667.9L507.5,669.1L507.5,670.2L507.5,671.4L507.5,672.5L507.5,673.7L507.5,674.8L507.5,676.0" fill="none" stroke="#1e1e1e" stroke-width="1.1"/>
<rect x="525.5" y="585.7" width="14.5" height="47.9" fill="rgba(86,180,233,0.07)"/>
<path d="M525.5,492.4L525.5,492.4L525.5,493.6L525.5,494.7L525.5,495.9L525.5,497.0L525.5,498.2L525.5,499.3L525.5,500.5L525.5,501.6L525.5,502.8L525.5,503.9L525.5,505.1L525.5,506.3L525.5,507.4L525.5,508.6L525.5,509.7L525.5,510.9L525.5,512.0L525.5,513.2L525.5,514.3L525.5,515.5L525.5,516.6L525.5,517.8L525.5,519.0L525.5,520.1L525.5,521.3L525.5,522.4L525.5,523.6L525.5,524.7L525.5,525.9L525.5,527.0L525.5,528.2L525.5,529.4L525.5,530.5L525.5,531.7L525.5,532.8L525.5,534.0L525.5,535.1L525.5,536.3L525.5,537.4L525.5,538.6L525.5,539.7L525.5,540.9L525.5,542.1L525.5,543.2L525.5,544.4L525.5,545.5L525.5,546.7L525.5,547.8L525.5,549.0L525.5,550.1L525.5,551.3L525.5,552.4L525.5,553.6L525.5,554.8L525.5,555.9L525.5,557.1L525.5,558.2L525.5,559.4L525.5,560.5L525.5,561.7L525.5,562.8L525.5,564.0L525.5,565.1L525.5,566.3L525.5,567.5L525.5,568.6L525.5,569.8L525.5,570.9L525.5,572.1L525.5,573.2L525.6,574.4L525.6,575.5L525.7,576.7L525.8,577.8L525.9,579.0L526.1,580.2L526.3,581.3L526.6,582.5L526.9,583.6L527.2,584.8L527.6,585.9L528.1,587.1L528.6,588.2L529.2,589.4L529.8,590.6L530.5,591.7L531.4,592.9L532.3,594.0L533.5,595.2L534.9,596.3L536.7,597.5L538.7,598.6L541.0,599.8L543.6,600.9L546.4,602.1L549.2,603.3L551.9,604.4L554.4,605.6L556.3,606.7L557.5,607.9L558.0,609.0L557.6,610.2L556.5,611.3L554.6,612.5L552.0,613.6L549.1,614.8L545.9,616.0L542.7,617.1L539.6,618.3L536.7,619.4L534.2,620.6L532.1,621.7L530.3,622.9L528.9,624.0L527.9,625.2L527.1,626.3L526.6,627.5L526.2,628.7L525.9,629.8L525.8,631.0L525.7,632.1L525.6,633.3L525.5,634.4L525.5,635.6L525.5,636.7L525.5,637.9L525.5,639.0L525.5,640.2L525.5,641.4L525.5,642.5L525.5,643.7L525.5,644.8L525.5,646.0L525.5,647.1L525.5,648.3L525.5,649.4L525.5,650.6L525.5,651.8L525.5,652.9L525.5,654.1L525.5,655.2L525.5,656.4L525.5,657.5L525.5,658.7L525.5,659.8L525.5,661.0L525.5,662.1L525.5,663.3L525.5,664.5L525.5,665.6L525.5,666.8L525.5,667.9L525.5,669.1L525.5,670.2L525.5,671.4L525.5,672.5L525.5,673.7L525.5,674.8L525.5,676.0L525.5,676.0Z" fill="rgba(86,180,233,0.14)" stroke="none" stroke-width="1"/>
<path d="M536.0 611.8h0M536.8 615.1h0M530.1 595.9h0M528.9 600.6h0M537.1 615.7h0M535.1 614.9h0M538.2 605.0h0M536.3 606.2h0M532.2 612.0h0M528.0 602.1h0M533.6 612.3h0M532.9 616.5h0M534.5 610.3h0M534.6 610.9h0M527.9 598.5h0M535.1 604.3h0M533.3 595.9h0M537.4 591.4h0M535.4 623.7h0M530.1 591.0h0M528.9 592.0h0M529.9 620.6h0M537.9 607.4h0M534.7 608.9h0M533.3 612.9h0M536.9 622.2h0M536.5 609.3h0M533.8 630.8h0M531.3 617.7h0M534.9 586.8h0M536.0 609.6h0M533.1 610.8h0M534.4 610.8h0M534.1 609.9h0" stroke="#56b4e9" stroke-width="1.7" stroke-linecap="round"/>
<path d="M525.5,492.4L525.5,493.6L525.5,494.7L525.5,495.9L525.5,497.0L525.5,498.2L525.5,499.3L525.5,500.5L525.5,501.6L525.5,502.8L525.5,503.9L525.5,505.1L525.5,506.3L525.5,507.4L525.5,508.6L525.5,509.7L525.5,510.9L525.5,512.0L525.5,513.2L525.5,514.3L525.5,515.5L525.5,516.6L525.5,517.8L525.5,519.0L525.5,520.1L525.5,521.3L525.5,522.4L525.5,523.6L525.5,524.7L525.5,525.9L525.5,527.0L525.5,528.2L525.5,529.4L525.5,530.5L525.5,531.7L525.5,532.8L525.5,534.0L525.5,535.1L525.5,536.3L525.5,537.4L525.5,538.6L525.5,539.7L525.5,540.9L525.5,542.1L525.5,543.2L525.5,544.4L525.5,545.5L525.5,546.7L525.5,547.8L525.5,549.0L525.5,550.1L525.5,551.3L525.5,552.4L525.5,553.6L525.5,554.8L525.5,555.9L525.5,557.1L525.5,558.2L525.5,559.4L525.5,560.5L525.5,561.7L525.5,562.8L525.5,564.0L525.5,565.1L525.5,566.3L525.5,567.5L525.5,568.6L525.5,569.8L525.5,570.9L525.5,572.1L525.5,573.2L525.6,574.4L525.6,575.5L525.7,576.7L525.8,577.8L525.9,579.0L526.1,580.2L526.3,581.3L526.6,582.5L526.9,583.6L527.2,584.8L527.6,585.9L528.1,587.1L528.6,588.2L529.2,589.4L529.8,590.6L530.5,591.7L531.4,592.9L532.3,594.0L533.5,595.2L534.9,596.3L536.7,597.5L538.7,598.6L541.0,599.8L543.6,600.9L546.4,602.1L549.2,603.3L551.9,604.4L554.4,605.6L556.3,606.7L557.5,607.9L558.0,609.0L557.6,610.2L556.5,611.3L554.6,612.5L552.0,613.6L549.1,614.8L545.9,616.0L542.7,617.1L539.6,618.3L536.7,619.4L534.2,620.6L532.1,621.7L530.3,622.9L528.9,624.0L527.9,625.2L527.1,626.3L526.6,627.5L526.2,628.7L525.9,629.8L525.8,631.0L525.7,632.1L525.6,633.3L525.5,634.4L525.5,635.6L525.5,636.7L525.5,637.9L525.5,639.0L525.5,640.2L525.5,641.4L525.5,642.5L525.5,643.7L525.5,644.8L525.5,646.0L525.5,647.1L525.5,648.3L525.5,649.4L525.5,650.6L525.5,651.8L525.5,652.9L525.5,654.1L525.5,655.2L525.5,656.4L525.5,657.5L525.5,658.7L525.5,659.8L525.5,661.0L525.5,662.1L525.5,663.3L525.5,664.5L525.5,665.6L525.5,666.8L525.5,667.9L525.5,669.1L525.5,670.2L525.5,671.4L525.5,672.5L525.5,673.7L525.5,674.8L525.5,676.0" fill="none" stroke="#1e1e1e" stroke-width="1.1"/>
<rect x="544.5" y="588.6" width="14.5" height="47.8" fill="rgba(86,180,233,0.07)"/>
<path d="M544.5,492.4L544.5,492.4L544.5,493.6L544.5,494.7L544.5,495.9L544.5,497.0L544.5,498.2L544.5,499.3L544.5,500.5L544.5,501.6L544.5,502.8L544.5,503.9L544.5,505.1L544.5,506.3L544.5,507.4L544.5,508.6L544.5,509.7L544.5,510.9L544.5,512.0L544.5,513.2L544.5,514.3L544.5,515.5L544.5,516.6L544.5,517.8L544.5,519.0L544.5,520.1L544.5,521.3L544.5,522.4L544.5,523.6L544.5,524.7L544.5,525.9L544.5,527.0L544.5,528.2L544.5,529.4L544.5,530.5L544.5,531.7L544.5,532.8L544.5,534.0L544.5,535.1L544.5,536.3L544.5,537.4L544.5,538.6L544.5,539.7L544.5,540.9L544.5,542.1L544.5,543.2L544.5,544.4L544.5,545.5L544.5,546.7L544.5,547.8L544.5,549.0L544.5,550.1L544.5,551.3L544.5,552.4L544.5,553.6L544.5,554.8L544.5,555.9L544.5,557.1L544.5,558.2L544.5,559.4L544.5,560.5L544.5,561.7L544.5,562.8L544.5,564.0L544.5,565.1L544.5,566.3L544.5,567.5L544.5,568.6L544.5,569.8L544.5,570.9L544.5,572.1L544.6,573.2L544.6,574.4L544.7,575.5L544.7,576.7L544.8,577.8L544.9,579.0L545.1,580.2L545.2,581.3L545.4,582.5L545.7,583.6L545.9,584.8L546.2,585.9L546.6,587.1L546.9,588.2L547.3,589.4L547.7,590.6L548.1,591.7L548.6,592.9L549.1,594.0L549.7,595.2L550.4,596.3L551.3,597.5L552.4,598.6L553.7,599.8L555.3,600.9L557.1,602.1L559.3,603.3L561.6,604.4L564.1,605.6L566.7,606.7L569.2,607.9L571.4,609.0L573.3,610.2L574.6,611.3L575.3,612.5L575.2,613.6L574.5,614.8L573.1,616.0L571.1,617.1L568.7,618.3L566.0,619.4L563.2,620.6L560.4,621.7L557.9,622.9L555.5,624.0L553.5,625.2L551.8,626.3L550.5,627.5L549.4,628.7L548.6,629.8L548.0,631.0L547.5,632.1L547.1,633.3L546.8,634.4L546.5,635.6L546.3,636.7L546.0,637.9L545.8,639.0L545.6,640.2L545.4,641.4L545.2,642.5L545.1,643.7L544.9,644.8L544.8,646.0L544.7,647.1L544.7,648.3L544.6,649.4L544.5,650.6L544.5,651.8L544.5,652.9L544.5,654.1L544.5,655.2L544.5,656.4L544.5,657.5L544.5,658.7L544.5,659.8L544.5,661.0L544.5,662.1L544.5,663.3L544.5,664.5L544.5,665.6L544.5,666.8L544.5,667.9L544.5,669.1L544.5,670.2L544.5,671.4L544.5,672.5L544.5,673.7L544.5,674.8L544.5,676.0L544.5,676.0Z" fill="rgba(86,180,233,0.14)" stroke="none" stroke-width="1"/>
<path d="M550.9 623.8h0M547.4 616.0h0M552.9 599.6h0M548.3 617.8h0M556.3 617.9h0M552.4 610.6h0M554.9 601.1h0M552.4 618.6h0M555.9 611.6h0M546.9 612.0h0M549.4 621.2h0M546.5 610.0h0M546.8 607.8h0M549.5 625.1h0M551.6 614.9h0M548.2 624.1h0M546.4 616.2h0M548.2 623.9h0M557.5 610.4h0M553.8 613.0h0M555.5 605.9h0M547.8 610.6h0M551.1 591.0h0M552.0 614.9h0M549.0 607.1h0M548.7 622.8h0M553.3 610.8h0M556.2 613.5h0M555.3 600.4h0M546.5 629.8h0M549.1 611.8h0M550.3 621.6h0M555.6 613.1h0M551.7 604.2h0" stroke="#56b4e9" stroke-width="1.7" stroke-linecap="round"/>
<path d="M544.5,492.4L544.5,493.6L544.5,494.7L544.5,495.9L544.5,497.0L544.5,498.2L544.5,499.3L544.5,500.5L544.5,501.6L544.5,502.8L544.5,503.9L544.5,505.1L544.5,506.3L544.5,507.4L544.5,508.6L544.5,509.7L544.5,510.9L544.5,512.0L544.5,513.2L544.5,514.3L544.5,515.5L544.5,516.6L544.5,517.8L544.5,519.0L544.5,520.1L544.5,521.3L544.5,522.4L544.5,523.6L544.5,524.7L544.5,525.9L544.5,527.0L544.5,528.2L544.5,529.4L544.5,530.5L544.5,531.7L544.5,532.8L544.5,534.0L544.5,535.1L544.5,536.3L544.5,537.4L544.5,538.6L544.5,539.7L544.5,540.9L544.5,542.1L544.5,543.2L544.5,544.4L544.5,545.5L544.5,546.7L544.5,547.8L544.5,549.0L544.5,550.1L544.5,551.3L544.5,552.4L544.5,553.6L544.5,554.8L544.5,555.9L544.5,557.1L544.5,558.2L544.5,559.4L544.5,560.5L544.5,561.7L544.5,562.8L544.5,564.0L544.5,565.1L544.5,566.3L544.5,567.5L544.5,568.6L544.5,569.8L544.5,570.9L544.5,572.1L544.6,573.2L544.6,574.4L544.7,575.5L544.7,576.7L544.8,577.8L544.9,579.0L545.1,580.2L545.2,581.3L545.4,582.5L545.7,583.6L545.9,584.8L546.2,585.9L546.6,587.1L546.9,588.2L547.3,589.4L547.7,590.6L548.1,591.7L548.6,592.9L549.1,594.0L549.7,595.2L550.4,596.3L551.3,597.5L552.4,598.6L553.7,599.8L555.3,600.9L557.1,602.1L559.3,603.3L561.6,604.4L564.1,605.6L566.7,606.7L569.2,607.9L571.4,609.0L573.3,610.2L574.6,611.3L575.3,612.5L575.2,613.6L574.5,614.8L573.1,616.0L571.1,617.1L568.7,618.3L566.0,619.4L563.2,620.6L560.4,621.7L557.9,622.9L555.5,624.0L553.5,625.2L551.8,626.3L550.5,627.5L549.4,628.7L548.6,629.8L548.0,631.0L547.5,632.1L547.1,633.3L546.8,634.4L546.5,635.6L546.3,636.7L546.0,637.9L545.8,639.0L545.6,640.2L545.4,641.4L545.2,642.5L545.1,643.7L544.9,644.8L544.8,646.0L544.7,647.1L544.7,648.3L544.6,649.4L544.5,650.6L544.5,651.8L544.5,652.9L544.5,654.1L544.5,655.2L544.5,656.4L544.5,657.5L544.5,658.7L544.5,659.8L544.5,661.0L544.5,662.1L544.5,663.3L544.5,664.5L544.5,665.6L544.5,666.8L544.5,667.9L544.5,669.1L544.5,670.2L544.5,671.4L544.5,672.5L544.5,673.7L544.5,674.8L544.5,676.0" fill="none" stroke="#1e1e1e" stroke-width="1.1"/>
<rect x="562.5" y="588.6" width="14.5" height="49.3" fill="rgba(86,180,233,0.07)"/>
<path d="M562.5,492.4L562.5,492.4L562.5,493.6L562.5,494.7L562.5,495.9L562.5,497.0L562.5,498.2L562.5,499.3L562.5,500.5L562.5,501.6L562.5,502.8L562.5,503.9L562.5,505.1L562.5,506.3L562.5,507.4L562.5,508.6L562.5,509.7L562.5,510.9L562.5,512.0L562.5,513.2L562.5,514.3L562.5,515.5L562.5,516.6L562.5,517.8L562.5,519.0L562.5,520.1L562.5,521.3L562.5,522.4L562.5,523.6L562.5,524.7L562.5,525.9L562.5,527.0L562.5,528.2L562.5,529.4L562.5,530.5L562.5,531.7L562.5,532.8L562.5,534.0L562.5,535.1L562.5,536.3L562.5,537.4L562.5,538.6L562.5,539.7L562.5,540.9L562.5,542.1L562.5,543.2L562.5,544.4L562.5,545.5L562.5,546.7L562.5,547.8L562.5,549.0L562.5,550.1L562.5,551.3L562.5,552.4L562.5,553.6L562.5,554.8L562.5,555.9L562.5,557.1L562.5,558.2L562.5,559.4L562.5,560.5L562.5,561.7L562.5,562.8L562.5,564.0L562.5,565.1L562.5,566.3L562.5,567.5L562.5,568.6L562.5,569.8L562.5,570.9L562.6,572.1L562.6,573.2L562.7,574.4L562.8,575.5L562.9,576.7L563.0,577.8L563.1,579.0L563.3,580.2L563.5,581.3L563.7,582.5L564.0,583.6L564.3,584.8L564.6,585.9L565.0,587.1L565.4,588.2L565.8,589.4L566.2,590.6L566.6,591.7L567.1,592.9L567.6,594.0L568.2,595.2L568.8,596.3L569.6,597.5L570.5,598.6L571.6,599.8L572.9,600.9L574.4,602.1L576.1,603.3L577.9,604.4L579.8,605.6L581.8,606.7L583.7,607.9L585.5,609.0L587.0,610.2L588.1,611.3L588.8,612.5L589.0,613.6L588.7,614.8L587.9,616.0L586.7,617.1L585.1,618.3L583.1,619.4L581.0,620.6L578.8,621.7L576.7,622.9L574.6,624.0L572.7,625.2L571.1,626.3L569.7,627.5L568.5,628.7L567.5,629.8L566.8,631.0L566.2,632.1L565.8,633.3L565.4,634.4L565.1,635.6L564.9,636.7L564.6,637.9L564.4,639.0L564.2,640.2L563.9,641.4L563.7,642.5L563.5,643.7L563.3,644.8L563.1,646.0L563.0,647.1L562.9,648.3L562.8,649.4L562.7,650.6L562.6,651.8L562.6,652.9L562.5,654.1L562.5,655.2L562.5,656.4L562.5,657.5L562.5,658.7L562.5,659.8L562.5,661.0L562.5,662.1L562.5,663.3L562.5,664.5L562.5,665.6L562.5,666.8L562.5,667.9L562.5,669.1L562.5,670.2L562.5,671.4L562.5,672.5L562.5,673.7L562.5,674.8L562.5,676.0L562.5,676.0Z" fill="rgba(86,180,233,0.14)" stroke="none" stroke-width="1"/>
<path d="M568.3 612.1h0M570.5 596.5h0M568.4 591.0h0M574.1 617.3h0M572.8 610.1h0M568.8 613.6h0M572.5 624.9h0M564.5 594.3h0M573.5 593.3h0M564.2 617.5h0M574.9 619.4h0M568.7 623.9h0M565.0 615.5h0M566.5 612.8h0M570.0 611.3h0M567.3 617.0h0M565.1 609.6h0M569.1 619.4h0M564.1 607.7h0M571.4 610.8h0M571.9 601.9h0M572.1 609.4h0M570.5 609.0h0M569.0 613.5h0M573.2 604.0h0M571.3 621.3h0M567.4 615.0h0M570.0 624.0h0M564.8 606.3h0M574.4 607.2h0M564.6 629.4h0M565.3 608.5h0M563.8 619.2h0M565.6 608.9h0" stroke="#56b4e9" stroke-width="1.7" stroke-linecap="round"/>
<path d="M562.5,492.4L562.5,493.6L562.5,494.7L562.5,495.9L562.5,497.0L562.5,498.2L562.5,499.3L562.5,500.5L562.5,501.6L562.5,502.8L562.5,503.9L562.5,505.1L562.5,506.3L562.5,507.4L562.5,508.6L562.5,509.7L562.5,510.9L562.5,512.0L562.5,513.2L562.5,514.3L562.5,515.5L562.5,516.6L562.5,517.8L562.5,519.0L562.5,520.1L562.5,521.3L562.5,522.4L562.5,523.6L562.5,524.7L562.5,525.9L562.5,527.0L562.5,528.2L562.5,529.4L562.5,530.5L562.5,531.7L562.5,532.8L562.5,534.0L562.5,535.1L562.5,536.3L562.5,537.4L562.5,538.6L562.5,539.7L562.5,540.9L562.5,542.1L562.5,543.2L562.5,544.4L562.5,545.5L562.5,546.7L562.5,547.8L562.5,549.0L562.5,550.1L562.5,551.3L562.5,552.4L562.5,553.6L562.5,554.8L562.5,555.9L562.5,557.1L562.5,558.2L562.5,559.4L562.5,560.5L562.5,561.7L562.5,562.8L562.5,564.0L562.5,565.1L562.5,566.3L562.5,567.5L562.5,568.6L562.5,569.8L562.5,570.9L562.6,572.1L562.6,573.2L562.7,574.4L562.8,575.5L562.9,576.7L563.0,577.8L563.1,579.0L563.3,580.2L563.5,581.3L563.7,582.5L564.0,583.6L564.3,584.8L564.6,585.9L565.0,587.1L565.4,588.2L565.8,589.4L566.2,590.6L566.6,591.7L567.1,592.9L567.6,594.0L568.2,595.2L568.8,596.3L569.6,597.5L570.5,598.6L571.6,599.8L572.9,600.9L574.4,602.1L576.1,603.3L577.9,604.4L579.8,605.6L581.8,606.7L583.7,607.9L585.5,609.0L587.0,610.2L588.1,611.3L588.8,612.5L589.0,613.6L588.7,614.8L587.9,616.0L586.7,617.1L585.1,618.3L583.1,619.4L581.0,620.6L578.8,621.7L576.7,622.9L574.6,624.0L572.7,625.2L571.1,626.3L569.7,627.5L568.5,628.7L567.5,629.8L566.8,631.0L566.2,632.1L565.8,633.3L565.4,634.4L565.1,635.6L564.9,636.7L564.6,637.9L564.4,639.0L564.2,640.2L563.9,641.4L563.7,642.5L563.5,643.7L563.3,644.8L563.1,646.0L563.0,647.1L562.9,648.3L562.8,649.4L562.7,650.6L562.6,651.8L562.6,652.9L562.5,654.1L562.5,655.2L562.5,656.4L562.5,657.5L562.5,658.7L562.5,659.8L562.5,661.0L562.5,662.1L562.5,663.3L562.5,664.5L562.5,665.6L562.5,666.8L562.5,667.9L562.5,669.1L562.5,670.2L562.5,671.4L562.5,672.5L562.5,673.7L562.5,674.8L562.5,676.0" fill="none" stroke="#1e1e1e" stroke-width="1.1"/>
<rect x="581.5" y="588.6" width="14.5" height="47.8" fill="rgba(86,180,233,0.07)"/>
<path d="M581.5,492.4L581.5,492.4L581.5,493.6L581.5,494.7L581.5,495.9L581.5,497.0L581.5,498.2L581.5,499.3L581.5,500.5L581.5,501.6L581.5,502.8L581.5,503.9L581.5,505.1L581.5,506.3L581.5,507.4L581.5,508.6L581.5,509.7L581.5,510.9L581.5,512.0L581.5,513.2L581.5,514.3L581.5,515.5L581.5,516.6L581.5,517.8L581.5,519.0L581.5,520.1L581.5,521.3L581.5,522.4L581.5,523.6L581.5,524.7L581.5,525.9L581.5,527.0L581.5,528.2L581.5,529.4L581.5,530.5L581.5,531.7L581.5,532.8L581.5,534.0L581.5,535.1L581.5,536.3L581.5,537.4L581.5,538.6L581.5,539.7L581.5,540.9L581.5,542.1L581.5,543.2L581.5,544.4L581.5,545.5L581.5,546.7L581.5,547.8L581.5,549.0L581.5,550.1L581.5,551.3L581.5,552.4L581.5,553.6L581.5,554.8L581.5,555.9L581.5,557.1L581.5,558.2L581.5,559.4L581.5,560.5L581.5,561.7L581.5,562.8L581.5,564.0L581.5,565.1L581.5,566.3L581.5,567.5L581.6,568.6L581.6,569.8L581.7,570.9L581.7,572.1L581.8,573.2L581.9,574.4L582.0,575.5L582.2,576.7L582.4,577.8L582.6,579.0L582.9,580.2L583.2,581.3L583.6,582.5L583.9,583.6L584.3,584.8L584.8,585.9L585.3,587.1L585.8,588.2L586.3,589.4L587.0,590.6L587.6,591.7L588.4,592.9L589.3,594.0L590.3,595.2L591.4,596.3L592.7,597.5L594.1,598.6L595.6,599.8L597.3,600.9L599.1,602.1L600.8,603.3L602.6,604.4L604.2,605.6L605.6,606.7L606.7,607.9L607.5,609.0L607.9,610.2L607.9,611.3L607.5,612.5L606.6,613.6L605.4,614.8L603.8,616.0L602.0,617.1L600.0,618.3L598.0,619.4L595.9,620.6L593.8,621.7L591.9,622.9L590.1,624.0L588.5,625.2L587.1,626.3L585.9,627.5L585.0,628.7L584.2,629.8L583.7,631.0L583.4,632.1L583.3,633.3L583.3,634.4L583.4,635.6L583.5,636.7L583.6,637.9L583.6,639.0L583.6,640.2L583.4,641.4L583.1,642.5L582.7,643.7L582.4,644.8L582.1,646.0L581.9,647.1L581.7,648.3L581.6,649.4L581.5,650.6L581.5,651.8L581.5,652.9L581.5,654.1L581.5,655.2L581.5,656.4L581.5,657.5L581.5,658.7L581.5,659.8L581.5,661.0L581.5,662.1L581.5,663.3L581.5,664.5L581.5,665.6L581.5,666.8L581.5,667.9L581.5,669.1L581.5,670.2L581.5,671.4L581.5,672.5L581.5,673.7L581.5,674.8L581.5,676.0L581.5,676.0Z" fill="rgba(86,180,233,0.14)" stroke="none" stroke-width="1"/>
<path d="M584.7 628.4h0M587.6 607.5h0M586.6 613.6h0M585.1 613.1h0M594.5 610.5h0M594.3 616.2h0M592.8 631.3h0M588.5 612.9h0M592.5 601.8h0M590.0 611.8h0M594.2 605.9h0M591.6 610.5h0M585.7 607.7h0M591.8 611.2h0M591.6 592.8h0M583.2 608.2h0M589.4 602.8h0M588.5 613.0h0M589.2 594.1h0M591.7 597.6h0M591.3 604.1h0M588.5 616.7h0M583.6 623.9h0M589.5 607.8h0M587.6 613.6h0M588.9 602.3h0M586.4 618.3h0M591.7 603.2h0M588.5 615.9h0M593.3 619.9h0M586.1 607.9h0M583.7 616.1h0M587.6 605.0h0M591.4 624.1h0M583.2 568.6h0" stroke="#56b4e9" stroke-width="1.7" stroke-linecap="round"/>
<path d="M581.5,492.4L581.5,493.6L581.5,494.7L581.5,495.9L581.5,497.0L581.5,498.2L581.5,499.3L581.5,500.5L581.5,501.6L581.5,502.8L581.5,503.9L581.5,505.1L581.5,506.3L581.5,507.4L581.5,508.6L581.5,509.7L581.5,510.9L581.5,512.0L581.5,513.2L581.5,514.3L581.5,515.5L581.5,516.6L581.5,517.8L581.5,519.0L581.5,520.1L581.5,521.3L581.5,522.4L581.5,523.6L581.5,524.7L581.5,525.9L581.5,527.0L581.5,528.2L581.5,529.4L581.5,530.5L581.5,531.7L581.5,532.8L581.5,534.0L581.5,535.1L581.5,536.3L581.5,537.4L581.5,538.6L581.5,539.7L581.5,540.9L581.5,542.1L581.5,543.2L581.5,544.4L581.5,545.5L581.5,546.7L581.5,547.8L581.5,549.0L581.5,550.1L581.5,551.3L581.5,552.4L581.5,553.6L581.5,554.8L581.5,555.9L581.5,557.1L581.5,558.2L581.5,559.4L581.5,560.5L581.5,561.7L581.5,562.8L581.5,564.0L581.5,565.1L581.5,566.3L581.5,567.5L581.6,568.6L581.6,569.8L581.7,570.9L581.7,572.1L581.8,573.2L581.9,574.4L582.0,575.5L582.2,576.7L582.4,577.8L582.6,579.0L582.9,580.2L583.2,581.3L583.6,582.5L583.9,583.6L584.3,584.8L584.8,585.9L585.3,587.1L585.8,588.2L586.3,589.4L587.0,590.6L587.6,591.7L588.4,592.9L589.3,594.0L590.3,595.2L591.4,596.3L592.7,597.5L594.1,598.6L595.6,599.8L597.3,600.9L599.1,602.1L600.8,603.3L602.6,604.4L604.2,605.6L605.6,606.7L606.7,607.9L607.5,609.0L607.9,610.2L607.9,611.3L607.5,612.5L606.6,613.6L605.4,614.8L603.8,616.0L602.0,617.1L600.0,618.3L598.0,619.4L595.9,620.6L593.8,621.7L591.9,622.9L590.1,624.0L588.5,625.2L587.1,626.3L585.9,627.5L585.0,628.7L584.2,629.8L583.7,631.0L583.4,632.1L583.3,633.3L583.3,634.4L583.4,635.6L583.5,636.7L583.6,637.9L583.6,639.0L583.6,640.2L583.4,641.4L583.1,642.5L582.7,643.7L582.4,644.8L582.1,646.0L581.9,647.1L581.7,648.3L581.6,649.4L581.5,650.6L581.5,651.8L581.5,652.9L581.5,654.1L581.5,655.2L581.5,656.4L581.5,657.5L581.5,658.7L581.5,659.8L581.5,661.0L581.5,662.1L581.5,663.3L581.5,664.5L581.5,665.6L581.5,666.8L581.5,667.9L581.5,669.1L581.5,670.2L581.5,671.4L581.5,672.5L581.5,673.7L581.5,674.8L581.5,676.0" fill="none" stroke="#1e1e1e" stroke-width="1.1"/>
<rect x="600.5" y="588.6" width="14.5" height="47.8" fill="rgba(86,180,233,0.07)"/>
<path d="M600.5,492.4L600.5,492.4L600.5,493.6L600.5,494.7L600.5,495.9L600.5,497.0L600.5,498.2L600.5,499.3L600.5,500.5L600.5,501.6L600.5,502.8L600.5,503.9L600.5,505.1L600.5,506.3L600.5,507.4L600.5,508.6L600.5,509.7L600.5,510.9L600.5,512.0L600.5,513.2L600.5,514.3L600.5,515.5L600.5,516.6L600.5,517.8L600.5,519.0L600.5,520.1L600.5,521.3L600.5,522.4L600.5,523.6L600.5,524.7L600.5,525.9L600.5,527.0L600.5,528.2L600.5,529.4L600.5,530.5L600.5,531.7L600.5,532.8L600.5,534.0L600.5,535.1L600.5,536.3L600.5,537.4L600.5,538.6L600.5,539.7L600.5,540.9L600.5,542.1L600.5,543.2L600.5,544.4L600.5,545.5L600.5,546.7L600.5,547.8L600.5,549.0L600.6,550.1L600.7,551.3L600.9,552.4L601.1,553.6L601.3,554.8L601.5,555.9L601.8,557.1L601.9,558.2L602.0,559.4L602.0,560.5L601.8,561.7L601.6,562.8L601.4,564.0L601.2,565.1L601.0,566.3L600.8,567.5L600.7,568.6L600.6,569.8L600.6,570.9L600.6,572.1L600.6,573.2L600.7,574.4L600.8,575.5L600.9,576.7L601.0,577.8L601.1,579.0L601.3,580.2L601.5,581.3L601.8,582.5L602.1,583.6L602.4,584.8L602.8,585.9L603.2,587.1L603.6,588.2L604.1,589.4L604.6,590.6L605.2,591.7L605.8,592.9L606.4,594.0L607.2,595.2L607.9,596.3L608.8,597.5L609.8,598.6L610.9,599.8L612.1,600.9L613.4,602.1L614.8,603.3L616.2,604.4L617.7,605.6L619.2,606.7L620.5,607.9L621.7,609.0L622.7,610.2L623.5,611.3L623.9,612.5L624.0,613.6L623.7,614.8L623.1,616.0L622.2,617.1L621.0,618.3L619.6,619.4L617.9,620.6L616.2,621.7L614.4,622.9L612.6,624.0L610.9,625.2L609.2,626.3L607.7,627.5L606.4,628.7L605.2,629.8L604.2,631.0L603.4,632.1L602.7,633.3L602.2,634.4L601.8,635.6L601.5,636.7L601.4,637.9L601.4,639.0L601.5,640.2L601.7,641.4L601.9,642.5L602.2,643.7L602.4,644.8L602.5,646.0L602.5,647.1L602.4,648.3L602.1,649.4L601.8,650.6L601.5,651.8L601.2,652.9L601.0,654.1L600.8,655.2L600.7,656.4L600.6,657.5L600.5,658.7L600.5,659.8L600.5,661.0L600.5,662.1L600.5,663.3L600.5,664.5L600.5,665.6L600.5,666.8L600.5,667.9L600.5,669.1L600.5,670.2L600.5,671.4L600.5,672.5L600.5,673.7L600.5,674.8L600.5,676.0L600.5,676.0Z" fill="rgba(86,180,233,0.14)" stroke="none" stroke-width="1"/>
<path d="M602.4 605.2h0M603.8 608.1h0M610.2 607.0h0M613.0 615.3h0M610.5 618.3h0M604.0 615.2h0M612.7 605.4h0M603.9 614.7h0M611.9 594.8h0M602.3 631.2h0M609.5 629.0h0M605.9 606.2h0M605.8 620.6h0M606.9 598.0h0M603.5 616.3h0M606.8 611.6h0M604.9 616.1h0M604.7 605.9h0M611.2 616.8h0M609.6 621.4h0M611.4 613.0h0M606.9 614.7h0M609.2 602.4h0M606.2 632.1h0M608.3 604.3h0M609.4 617.3h0M607.0 615.4h0M605.9 602.4h0M603.5 606.8h0M606.6 618.0h0M606.7 603.7h0M603.2 619.8h0M601.8 597.1h0M605.4 592.7h0M602.4 647.1h0" stroke="#56b4e9" stroke-width="1.7" stroke-linecap="round"/>
<path d="M600.5,492.4L600.5,493.6L600.5,494.7L600.5,495.9L600.5,497.0L600.5,498.2L600.5,499.3L600.5,500.5L600.5,501.6L600.5,502.8L600.5,503.9L600.5,505.1L600.5,506.3L600.5,507.4L600.5,508.6L600.5,509.7L600.5,510.9L600.5,512.0L600.5,513.2L600.5,514.3L600.5,515.5L600.5,516.6L600.5,517.8L600.5,519.0L600.5,520.1L600.5,521.3L600.5,522.4L600.5,523.6L600.5,524.7L600.5,525.9L600.5,527.0L600.5,528.2L600.5,529.4L600.5,530.5L600.5,531.7L600.5,532.8L600.5,534.0L600.5,535.1L600.5,536.3L600.5,537.4L600.5,538.6L600.5,539.7L600.5,540.9L600.5,542.1L600.5,543.2L600.5,544.4L600.5,545.5L600.5,546.7L600.5,547.8L600.5,549.0L600.6,550.1L600.7,551.3L600.9,552.4L601.1,553.6L601.3,554.8L601.5,555.9L601.8,557.1L601.9,558.2L602.0,559.4L602.0,560.5L601.8,561.7L601.6,562.8L601.4,564.0L601.2,565.1L601.0,566.3L600.8,567.5L600.7,568.6L600.6,569.8L600.6,570.9L600.6,572.1L600.6,573.2L600.7,574.4L600.8,575.5L600.9,576.7L601.0,577.8L601.1,579.0L601.3,580.2L601.5,581.3L601.8,582.5L602.1,583.6L602.4,584.8L602.8,585.9L603.2,587.1L603.6,588.2L604.1,589.4L604.6,590.6L605.2,591.7L605.8,592.9L606.4,594.0L607.2,595.2L607.9,596.3L608.8,597.5L609.8,598.6L610.9,599.8L612.1,600.9L613.4,602.1L614.8,603.3L616.2,604.4L617.7,605.6L619.2,606.7L620.5,607.9L621.7,609.0L622.7,610.2L623.5,611.3L623.9,612.5L624.0,613.6L623.7,614.8L623.1,616.0L622.2,617.1L621.0,618.3L619.6,619.4L617.9,620.6L616.2,621.7L614.4,622.9L612.6,624.0L610.9,625.2L609.2,626.3L607.7,627.5L606.4,628.7L605.2,629.8L604.2,631.0L603.4,632.1L602.7,633.3L602.2,634.4L601.8,635.6L601.5,636.7L601.4,637.9L601.4,639.0L601.5,640.2L601.7,641.4L601.9,642.5L602.2,643.7L602.4,644.8L602.5,646.0L602.5,647.1L602.4,648.3L602.1,649.4L601.8,650.6L601.5,651.8L601.2,652.9L601.0,654.1L600.8,655.2L600.7,656.4L600.6,657.5L600.5,658.7L600.5,659.8L600.5,661.0L600.5,662.1L600.5,663.3L600.5,664.5L600.5,665.6L600.5,666.8L600.5,667.9L600.5,669.1L600.5,670.2L600.5,671.4L600.5,672.5L600.5,673.7L600.5,674.8L600.5,676.0" fill="none" stroke="#1e1e1e" stroke-width="1.1"/>
<rect x="618.5" y="588.6" width="14.5" height="46.4" fill="rgba(86,180,233,0.07)"/>
<path d="M618.5,492.4L618.5,492.4L618.5,493.6L618.5,494.7L618.5,495.9L618.5,497.0L618.5,498.2L618.5,499.3L618.5,500.5L618.5,501.6L618.5,502.8L618.5,503.9L618.5,505.1L618.5,506.3L618.5,507.4L618.5,508.6L618.5,509.7L618.5,510.9L618.5,512.0L618.5,513.2L618.5,514.3L618.5,515.5L618.5,516.6L618.5,517.8L618.5,519.0L618.5,520.1L618.5,521.3L618.5,522.4L618.5,523.6L618.5,524.7L618.5,525.9L618.5,527.0L618.5,528.2L618.5,529.4L618.5,530.5L618.5,531.7L618.5,532.8L618.5,534.0L618.5,535.1L618.5,536.3L618.5,537.4L618.5,538.6L618.5,539.7L618.5,540.9L618.5,542.1L618.5,543.2L618.5,544.4L618.5,545.5L618.5,546.7L618.5,547.8L618.6,549.0L618.7,550.1L618.8,551.3L619.0,552.4L619.3,553.6L619.6,554.8L619.9,555.9L620.2,557.1L620.4,558.2L620.5,559.4L620.5,560.5L620.3,561.7L620.0,562.8L619.7,564.0L619.4,565.1L619.1,566.3L618.9,567.5L618.8,568.6L618.7,569.8L618.6,570.9L618.6,572.1L618.7,573.2L618.7,574.4L618.8,575.5L618.9,576.7L619.0,577.8L619.1,579.0L619.3,580.2L619.5,581.3L619.7,582.5L620.0,583.6L620.3,584.8L620.7,585.9L621.0,587.1L621.4,588.2L621.8,589.4L622.2,590.6L622.7,591.7L623.2,592.9L623.8,594.0L624.4,595.2L625.2,596.3L626.1,597.5L627.2,598.6L628.5,599.8L630.0,600.9L631.8,602.1L633.7,603.3L635.9,604.4L638.2,605.6L640.5,606.7L642.7,607.9L644.8,609.0L646.5,610.2L647.9,611.3L648.7,612.5L649.0,613.6L648.7,614.8L647.7,616.0L646.3,617.1L644.3,618.3L642.1,619.4L639.6,620.6L636.9,621.7L634.3,622.9L631.7,624.0L629.4,625.2L627.3,626.3L625.4,627.5L623.8,628.7L622.5,629.8L621.5,631.0L620.7,632.1L620.0,633.3L619.6,634.4L619.2,635.6L619.0,636.7L618.8,637.9L618.7,639.0L618.6,640.2L618.5,641.4L618.5,642.5L618.5,643.7L618.5,644.8L618.5,646.0L618.5,647.1L618.5,648.3L618.5,649.4L618.5,650.6L618.5,651.8L618.5,652.9L618.5,654.1L618.5,655.2L618.5,656.4L618.5,657.5L618.5,658.7L618.5,659.8L618.5,661.0L618.5,662.1L618.5,663.3L618.5,664.5L618.5,665.6L618.5,666.8L618.5,667.9L618.5,669.1L618.5,670.2L618.5,671.4L618.5,672.5L618.5,673.7L618.5,674.8L618.5,676.0L618.5,676.0Z" fill="rgba(86,180,233,0.14)" stroke="none" stroke-width="1"/>
<path d="M628.5 624.2h0M628.9 618.4h0M626.1 611.6h0M622.6 630.7h0M624.9 595.9h0M624.9 614.7h0M625.6 625.1h0M631.0 602.3h0M630.9 620.3h0M622.2 616.8h0M627.3 615.1h0M622.1 629.0h0M621.0 616.8h0M625.1 600.6h0M620.5 618.2h0M630.7 606.6h0M627.0 623.4h0M624.1 599.6h0M625.5 613.8h0M627.8 603.2h0M620.9 594.8h0M630.5 616.0h0M624.9 617.9h0M631.5 603.8h0M628.3 612.8h0M628.2 620.6h0M626.1 621.8h0M630.6 614.1h0M622.4 610.9h0M626.1 615.0h0M624.2 598.0h0M625.1 606.7h0M621.3 600.7h0M628.5 614.6h0" stroke="#56b4e9" stroke-width="1.7" stroke-linecap="round"/>
<path d="M618.5,492.4L618.5,493.6L618.5,494.7L618.5,495.9L618.5,497.0L618.5,498.2L618.5,499.3L618.5,500.5L618.5,501.6L618.5,502.8L618.5,503.9L618.5,505.1L618.5,506.3L618.5,507.4L618.5,508.6L618.5,509.7L618.5,510.9L618.5,512.0L618.5,513.2L618.5,514.3L618.5,515.5L618.5,516.6L618.5,517.8L618.5,519.0L618.5,520.1L618.5,521.3L618.5,522.4L618.5,523.6L618.5,524.7L618.5,525.9L618.5,527.0L618.5,528.2L618.5,529.4L618.5,530.5L618.5,531.7L618.5,532.8L618.5,534.0L618.5,535.1L618.5,536.3L618.5,537.4L618.5,538.6L618.5,539.7L618.5,540.9L618.5,542.1L618.5,543.2L618.5,544.4L618.5,545.5L618.5,546.7L618.5,547.8L618.6,549.0L618.7,550.1L618.8,551.3L619.0,552.4L619.3,553.6L619.6,554.8L619.9,555.9L620.2,557.1L620.4,558.2L620.5,559.4L620.5,560.5L620.3,561.7L620.0,562.8L619.7,564.0L619.4,565.1L619.1,566.3L618.9,567.5L618.8,568.6L618.7,569.8L618.6,570.9L618.6,572.1L618.7,573.2L618.7,574.4L618.8,575.5L618.9,576.7L619.0,577.8L619.1,579.0L619.3,580.2L619.5,581.3L619.7,582.5L620.0,583.6L620.3,584.8L620.7,585.9L621.0,587.1L621.4,588.2L621.8,589.4L622.2,590.6L622.7,591.7L623.2,592.9L623.8,594.0L624.4,595.2L625.2,596.3L626.1,597.5L627.2,598.6L628.5,599.8L630.0,600.9L631.8,602.1L633.7,603.3L635.9,604.4L638.2,605.6L640.5,606.7L642.7,607.9L644.8,609.0L646.5,610.2L647.9,611.3L648.7,612.5L649.0,613.6L648.7,614.8L647.7,616.0L646.3,617.1L644.3,618.3L642.1,619.4L639.6,620.6L636.9,621.7L634.3,622.9L631.7,624.0L629.4,625.2L627.3,626.3L625.4,627.5L623.8,628.7L622.5,629.8L621.5,631.0L620.7,632.1L620.0,633.3L619.6,634.4L619.2,635.6L619.0,636.7L618.8,637.9L618.7,639.0L618.6,640.2L618.5,641.4L618.5,642.5L618.5,643.7L618.5,644.8L618.5,646.0L618.5,647.1L618.5,648.3L618.5,649.4L618.5,650.6L618.5,651.8L618.5,652.9L618.5,654.1L618.5,655.2L618.5,656.4L618.5,657.5L618.5,658.7L618.5,659.8L618.5,661.0L618.5,662.1L618.5,663.3L618.5,664.5L618.5,665.6L618.5,666.8L618.5,667.9L618.5,669.1L618.5,670.2L618.5,671.4L618.5,672.5L618.5,673.7L618.5,674.8L618.5,676.0" fill="none" stroke="#1e1e1e" stroke-width="1.1"/>
<rect x="637.5" y="588.6" width="14.5" height="47.8" fill="rgba(86,180,233,0.07)"/>
<path d="M637.5,492.4L637.5,492.4L637.5,493.6L637.5,494.7L637.5,495.9L637.5,497.0L637.5,498.2L637.5,499.3L637.5,500.5L637.5,501.6L637.5,502.8L637.5,503.9L637.5,505.1L637.5,506.3L637.5,507.4L637.5,508.6L637.5,509.7L637.5,510.9L637.5,512.0L637.5,513.2L637.5,514.3L637.5,515.5L637.5,516.6L637.5,517.8L637.5,519.0L637.5,520.1L637.5,521.3L637.5,522.4L637.5,523.6L637.5,524.7L637.5,525.9L637.5,527.0L637.5,528.2L637.5,529.4L637.5,530.5L637.5,531.7L637.5,532.8L637.5,534.0L637.5,535.1L637.5,536.3L637.5,537.4L637.5,538.6L637.5,539.7L637.5,540.9L637.5,542.1L637.5,543.2L637.5,544.4L637.5,545.5L637.5,546.7L637.5,547.8L637.5,549.0L637.6,550.1L637.7,551.3L637.9,552.4L638.1,553.6L638.3,554.8L638.5,555.9L638.8,557.1L638.9,558.2L639.0,559.4L639.0,560.5L638.8,561.7L638.6,562.8L638.4,564.0L638.2,565.1L638.0,566.3L637.8,567.5L637.7,568.6L637.6,569.8L637.6,570.9L637.6,572.1L637.6,573.2L637.6,574.4L637.7,575.5L637.7,576.7L637.8,577.8L637.9,579.0L638.1,580.2L638.2,581.3L638.4,582.5L638.7,583.6L639.0,584.8L639.3,585.9L639.6,587.1L640.0,588.2L640.4,589.4L640.8,590.6L641.3,591.7L641.7,592.9L642.2,594.0L642.8,595.2L643.4,596.3L644.1,597.5L644.9,598.6L645.8,599.8L646.8,600.9L648.0,602.1L649.3,603.3L650.8,604.4L652.4,605.6L654.2,606.7L655.9,607.9L657.7,609.0L659.4,610.2L660.9,611.3L662.2,612.5L663.1,613.6L663.7,614.8L663.9,616.0L663.6,617.1L663.0,618.3L661.9,619.4L660.5,620.6L658.7,621.7L656.8,622.9L654.8,624.0L652.7,625.2L650.6,626.3L648.6,627.5L646.8,628.7L645.1,629.8L643.6,631.0L642.3,632.1L641.2,633.3L640.4,634.4L639.6,635.6L639.1,636.7L638.6,637.9L638.3,639.0L638.1,640.2L637.9,641.4L637.8,642.5L637.7,643.7L637.6,644.8L637.5,646.0L637.5,647.1L637.5,648.3L637.5,649.4L637.5,650.6L637.5,651.8L637.5,652.9L637.5,654.1L637.5,655.2L637.5,656.4L637.5,657.5L637.5,658.7L637.5,659.8L637.5,661.0L637.5,662.1L637.5,663.3L637.5,664.5L637.5,665.6L637.5,666.8L637.5,667.9L637.5,669.1L637.5,670.2L637.5,671.4L637.5,672.5L637.5,673.7L637.5,674.8L637.5,676.0L637.5,676.0Z" fill="rgba(86,180,233,0.14)" stroke="none" stroke-width="1"/>
<path d="M648.4 602.7h0M643.7 604.5h0M640.5 594.4h0M643.9 610.5h0M650.2 596.7h0M649.6 613.8h0M650.2 616.0h0M641.7 617.9h0M644.2 619.5h0M647.1 632.1h0M646.6 610.9h0M639.9 631.8h0M639.7 619.6h0M643.6 608.1h0M642.4 601.5h0M647.8 618.0h0M646.3 618.9h0M645.7 612.3h0M642.8 619.8h0M639.8 625.3h0M643.9 616.6h0M639.3 598.3h0M649.5 625.7h0M647.6 613.8h0M647.4 616.3h0M646.4 606.2h0M650.1 615.8h0M641.0 610.4h0M640.5 606.4h0M646.3 596.2h0M643.7 627.8h0M650.2 630.3h0M645.4 595.5h0M641.7 615.3h0" stroke="#56b4e9" stroke-width="1.7" stroke-linecap="round"/>
<path d="M637.5,492.4L637.5,493.6L637.5,494.7L637.5,495.9L637.5,497.0L637.5,498.2L637.5,499.3L637.5,500.5L637.5,501.6L637.5,502.8L637.5,503.9L637.5,505.1L637.5,506.3L637.5,507.4L637.5,508.6L637.5,509.7L637.5,510.9L637.5,512.0L637.5,513.2L637.5,514.3L637.5,515.5L637.5,516.6L637.5,517.8L637.5,519.0L637.5,520.1L637.5,521.3L637.5,522.4L637.5,523.6L637.5,524.7L637.5,525.9L637.5,527.0L637.5,528.2L637.5,529.4L637.5,530.5L637.5,531.7L637.5,532.8L637.5,534.0L637.5,535.1L637.5,536.3L637.5,537.4L637.5,538.6L637.5,539.7L637.5,540.9L637.5,542.1L637.5,543.2L637.5,544.4L637.5,545.5L637.5,546.7L637.5,547.8L637.5,549.0L637.6,550.1L637.7,551.3L637.9,552.4L638.1,553.6L638.3,554.8L638.5,555.9L638.8,557.1L638.9,558.2L639.0,559.4L639.0,560.5L638.8,561.7L638.6,562.8L638.4,564.0L638.2,565.1L638.0,566.3L637.8,567.5L637.7,568.6L637.6,569.8L637.6,570.9L637.6,572.1L637.6,573.2L637.6,574.4L637.7,575.5L637.7,576.7L637.8,577.8L637.9,579.0L638.1,580.2L638.2,581.3L638.4,582.5L638.7,583.6L639.0,584.8L639.3,585.9L639.6,587.1L640.0,588.2L640.4,589.4L640.8,590.6L641.3,591.7L641.7,592.9L642.2,594.0L642.8,595.2L643.4,596.3L644.1,597.5L644.9,598.6L645.8,599.8L646.8,600.9L648.0,602.1L649.3,603.3L650.8,604.4L652.4,605.6L654.2,606.7L655.9,607.9L657.7,609.0L659.4,610.2L660.9,611.3L662.2,612.5L663.1,613.6L663.7,614.8L663.9,616.0L663.6,617.1L663.0,618.3L661.9,619.4L660.5,620.6L658.7,621.7L656.8,622.9L654.8,624.0L652.7,625.2L650.6,626.3L648.6,627.5L646.8,628.7L645.1,629.8L643.6,631.0L642.3,632.1L641.2,633.3L640.4,634.4L639.6,635.6L639.1,636.7L638.6,637.9L638.3,639.0L638.1,640.2L637.9,641.4L637.8,642.5L637.7,643.7L637.6,644.8L637.5,646.0L637.5,647.1L637.5,648.3L637.5,649.4L637.5,650.6L637.5,651.8L637.5,652.9L637.5,654.1L637.5,655.2L637.5,656.4L637.5,657.5L637.5,658.7L637.5,659.8L637.5,661.0L637.5,662.1L637.5,663.3L637.5,664.5L637.5,665.6L637.5,666.8L637.5,667.9L637.5,669.1L637.5,670.2L637.5,671.4L637.5,672.5L637.5,673.7L637.5,674.8L637.5,676.0" fill="none" stroke="#1e1e1e" stroke-width="1.1"/>
<rect x="655.5" y="593.0" width="14.5" height="45.0" fill="rgba(86,180,233,0.07)"/>
<path d="M655.5,492.4L655.5,492.4L655.5,493.6L655.5,494.7L655.5,495.9L655.5,497.0L655.5,498.2L655.5,499.3L655.5,500.5L655.5,501.6L655.5,502.8L655.5,503.9L655.5,505.1L655.5,506.3L655.5,507.4L655.5,508.6L655.5,509.7L655.5,510.9L655.5,512.0L655.5,513.2L655.5,514.3L655.5,515.5L655.5,516.6L655.5,517.8L655.5,519.0L655.5,520.1L655.5,521.3L655.5,522.4L655.5,523.6L655.5,524.7L655.5,525.9L655.5,527.0L655.5,528.2L655.5,529.4L655.5,530.5L655.5,531.7L655.5,532.8L655.5,534.0L655.5,535.1L655.5,536.3L655.5,537.4L655.5,538.6L655.5,539.7L655.5,540.9L655.5,542.1L655.5,543.2L655.5,544.4L655.5,545.5L655.5,546.7L655.5,547.8L655.5,549.0L655.5,550.1L655.5,551.3L655.5,552.4L655.5,553.6L655.5,554.8L655.5,555.9L655.5,557.1L655.5,558.2L655.5,559.4L655.5,560.5L655.5,561.7L655.5,562.8L655.5,564.0L655.5,565.1L655.5,566.3L655.5,567.5L655.5,568.6L655.5,569.8L655.5,570.9L655.6,572.1L655.6,573.2L655.7,574.4L655.8,575.5L655.9,576.7L656.0,577.8L656.1,579.0L656.3,580.2L656.6,581.3L656.8,582.5L657.2,583.6L657.5,584.8L658.0,585.9L658.4,587.1L659.0,588.2L659.6,589.4L660.2,590.6L660.9,591.7L661.7,592.9L662.6,594.0L663.5,595.2L664.6,596.3L665.8,597.5L667.0,598.6L668.4,599.8L669.9,600.9L671.5,602.1L673.2,603.3L674.9,604.4L676.5,605.6L678.1,606.7L679.6,607.9L680.8,609.0L681.9,610.2L682.6,611.3L683.0,612.5L683.0,613.6L682.6,614.8L681.9,616.0L680.8,617.1L679.5,618.3L677.8,619.4L676.0,620.6L674.1,621.7L672.1,622.9L670.0,624.0L668.1,625.2L666.2,626.3L664.5,627.5L663.0,628.7L661.6,629.8L660.4,631.0L659.4,632.1L658.5,633.3L657.8,634.4L657.3,635.6L656.8,636.7L656.5,637.9L656.2,639.0L656.0,640.2L655.9,641.4L655.8,642.5L655.8,643.7L655.8,644.8L655.9,646.0L656.0,647.1L656.2,648.3L656.4,649.4L656.6,650.6L656.8,651.8L657.0,652.9L657.0,654.1L656.9,655.2L656.8,656.4L656.6,657.5L656.3,658.7L656.1,659.8L655.9,661.0L655.7,662.1L655.6,663.3L655.5,664.5L655.5,665.6L655.5,666.8L655.5,667.9L655.5,669.1L655.5,670.2L655.5,671.4L655.5,672.5L655.5,673.7L655.5,674.8L655.5,676.0L655.5,676.0Z" fill="rgba(86,180,233,0.14)" stroke="none" stroke-width="1"/>
<path d="M663.5 620.3h0M659.6 611.9h0M659.1 611.8h0M665.6 624.0h0M662.4 611.3h0M664.2 622.5h0M664.4 606.6h0M657.0 621.6h0M662.0 612.0h0M660.2 605.2h0M660.8 598.4h0M664.7 597.1h0M660.5 629.3h0M661.3 610.6h0M659.9 613.3h0M664.0 620.1h0M664.4 624.0h0M661.4 617.7h0M660.0 609.3h0M661.4 609.6h0M663.9 601.3h0M660.9 599.2h0M668.1 612.4h0M664.3 605.6h0M666.9 603.9h0M665.5 620.9h0M667.4 597.1h0M660.5 615.8h0M663.3 609.5h0M664.1 615.9h0M668.0 617.3h0M663.5 606.3h0M660.2 628.6h0M657.2 605.9h0M657.7 592.9h0" stroke="#56b4e9" stroke-width="1.7" stroke-linecap="round"/>
<path d="M655.5,492.4L655.5,493.6L655.5,494.7L655.5,495.9L655.5,497.0L655.5,498.2L655.5,499.3L655.5,500.5L655.5,501.6L655.5,502.8L655.5,503.9L655.5,505.1L655.5,506.3L655.5,507.4L655.5,508.6L655.5,509.7L655.5,510.9L655.5,512.0L655.5,513.2L655.5,514.3L655.5,515.5L655.5,516.6L655.5,517.8L655.5,519.0L655.5,520.1L655.5,521.3L655.5,522.4L655.5,523.6L655.5,524.7L655.5,525.9L655.5,527.0L655.5,528.2L655.5,529.4L655.5,530.5L655.5,531.7L655.5,532.8L655.5,534.0L655.5,535.1L655.5,536.3L655.5,537.4L655.5,538.6L655.5,539.7L655.5,540.9L655.5,542.1L655.5,543.2L655.5,544.4L655.5,545.5L655.5,546.7L655.5,547.8L655.5,549.0L655.5,550.1L655.5,551.3L655.5,552.4L655.5,553.6L655.5,554.8L655.5,555.9L655.5,557.1L655.5,558.2L655.5,559.4L655.5,560.5L655.5,561.7L655.5,562.8L655.5,564.0L655.5,565.1L655.5,566.3L655.5,567.5L655.5,568.6L655.5,569.8L655.5,570.9L655.6,572.1L655.6,573.2L655.7,574.4L655.8,575.5L655.9,576.7L656.0,577.8L656.1,579.0L656.3,580.2L656.6,581.3L656.8,582.5L657.2,583.6L657.5,584.8L658.0,585.9L658.4,587.1L659.0,588.2L659.6,589.4L660.2,590.6L660.9,591.7L661.7,592.9L662.6,594.0L663.5,595.2L664.6,596.3L665.8,597.5L667.0,598.6L668.4,599.8L669.9,600.9L671.5,602.1L673.2,603.3L674.9,604.4L676.5,605.6L678.1,606.7L679.6,607.9L680.8,609.0L681.9,610.2L682.6,611.3L683.0,612.5L683.0,613.6L682.6,614.8L681.9,616.0L680.8,617.1L679.5,618.3L677.8,619.4L676.0,620.6L674.1,621.7L672.1,622.9L670.0,624.0L668.1,625.2L666.2,626.3L664.5,627.5L663.0,628.7L661.6,629.8L660.4,631.0L659.4,632.1L658.5,633.3L657.8,634.4L657.3,635.6L656.8,636.7L656.5,637.9L656.2,639.0L656.0,640.2L655.9,641.4L655.8,642.5L655.8,643.7L655.8,644.8L655.9,646.0L656.0,647.1L656.2,648.3L656.4,649.4L656.6,650.6L656.8,651.8L657.0,652.9L657.0,654.1L656.9,655.2L656.8,656.4L656.6,657.5L656.3,658.7L656.1,659.8L655.9,661.0L655.7,662.1L655.6,663.3L655.5,664.5L655.5,665.6L655.5,666.8L655.5,667.9L655.5,669.1L655.5,670.2L655.5,671.4L655.5,672.5L655.5,673.7L655.5,674.8L655.5,676.0" fill="none" stroke="#1e1e1e" stroke-width="1.1"/></svg>
</body></html>
